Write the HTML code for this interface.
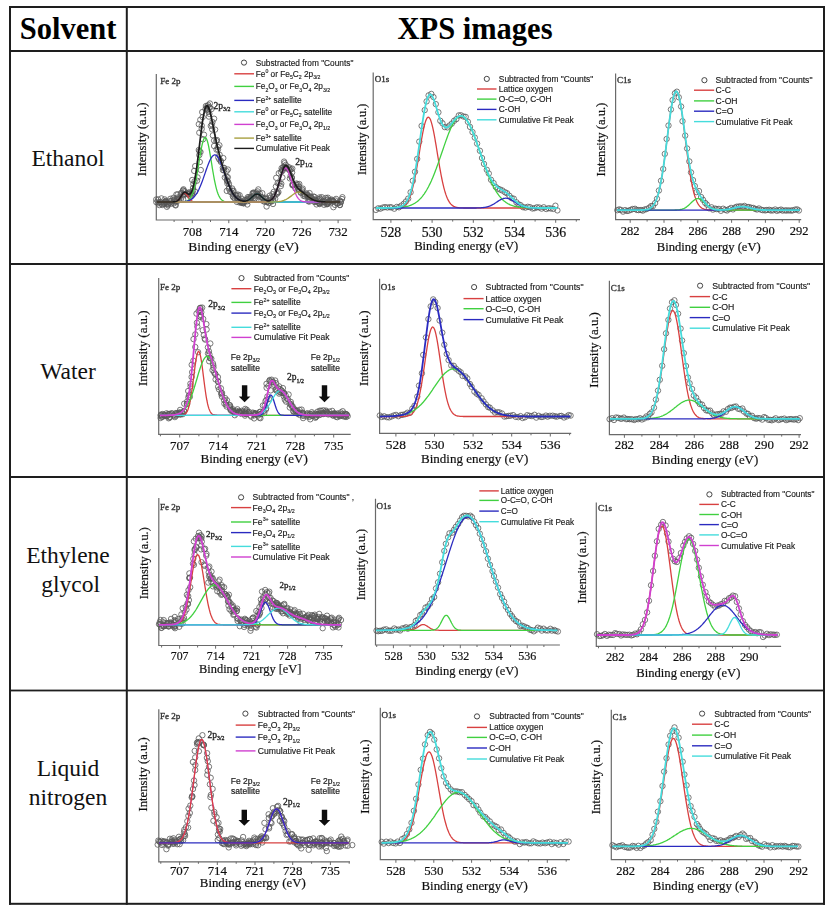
<!DOCTYPE html>
<html><head><meta charset="utf-8"><title>XPS images</title>
<style>
html,body{margin:0;padding:0;background:#fff;width:835px;height:912px;overflow:hidden;}
body{position:relative;font-family:"Liberation Serif", serif;}
</style></head><body>
<svg width="835" height="912" viewBox="0 0 835 912" style="position:absolute;left:0;top:0">
<defs><circle id="c" cx="0" cy="0" r="2.7" fill="none" stroke="#585858" stroke-width="0.8"/></defs>
<filter id="bl" x="0" y="0" width="1" height="1"><feGaussianBlur stdDeviation="0.35"/></filter>
<g class="charts" filter="url(#bl)">
<path d="M156.3,74 L156.3,220 L351.2,220" fill="none" stroke="#6a6a6a" stroke-width="1.2"/>
<path d="M174.1,220 v2.0 M192.3,220 v3.2 M210.5,220 v2.0 M228.8,220 v3.2 M247.0,220 v2.0 M265.2,220 v3.2 M283.4,220 v2.0 M301.7,220 v3.2 M319.9,220 v2.0 M338.1,220 v3.2" stroke="#6a6a6a" stroke-width="1"/>
<text x="192.3" y="235.9" font-family="Liberation Serif" font-size="12.9" fill="#111" stroke="#111" stroke-width="0.2" text-anchor="middle">708</text>
<text x="228.8" y="235.9" font-family="Liberation Serif" font-size="12.9" fill="#111" stroke="#111" stroke-width="0.2" text-anchor="middle">714</text>
<text x="265.2" y="235.9" font-family="Liberation Serif" font-size="12.9" fill="#111" stroke="#111" stroke-width="0.2" text-anchor="middle">720</text>
<text x="301.7" y="235.9" font-family="Liberation Serif" font-size="12.9" fill="#111" stroke="#111" stroke-width="0.2" text-anchor="middle">726</text>
<text x="338.1" y="235.9" font-family="Liberation Serif" font-size="12.9" fill="#111" stroke="#111" stroke-width="0.2" text-anchor="middle">732</text>
<text x="243.55" y="250.7" font-family="Liberation Serif" font-size="13.4" fill="#111" stroke="#111" stroke-width="0.2" text-anchor="middle">Binding energy (eV)</text>
<text transform="translate(146.2,139.4) rotate(-90)" x="0" y="0" font-family="Liberation Serif" font-size="12.6" fill="#111" stroke="#111" stroke-width="0.2" text-anchor="middle">Intensity (a.u.)</text>
<text x="160.2" y="84" font-family="Liberation Serif" font-size="9" fill="#333" stroke="#333" stroke-width="0.35">Fe 2p</text>
<use href="#c" x="159.3" y="205.1"/>
<use href="#c" x="156.3" y="202.2"/>
<use href="#c" x="158.1" y="199.4"/>
<use href="#c" x="156.2" y="199.5"/>
<use href="#c" x="159.2" y="202.5"/>
<use href="#c" x="158.0" y="203.3"/>
<use href="#c" x="159.9" y="202.0"/>
<use href="#c" x="161.4" y="198.4"/>
<use href="#c" x="164.8" y="202.8"/>
<use href="#c" x="161.3" y="202.5"/>
<use href="#c" x="162.3" y="205.0"/>
<use href="#c" x="161.9" y="204.2"/>
<use href="#c" x="164.6" y="202.5"/>
<use href="#c" x="163.7" y="203.7"/>
<use href="#c" x="164.7" y="199.4"/>
<use href="#c" x="165.7" y="202.2"/>
<use href="#c" x="166.7" y="202.5"/>
<use href="#c" x="165.8" y="201.9"/>
<use href="#c" x="164.3" y="203.6"/>
<use href="#c" x="165.7" y="201.0"/>
<use href="#c" x="166.9" y="206.8"/>
<use href="#c" x="168.5" y="203.6"/>
<use href="#c" x="165.5" y="201.3"/>
<use href="#c" x="167.8" y="204.3"/>
<use href="#c" x="166.9" y="203.7"/>
<use href="#c" x="171.5" y="200.9"/>
<use href="#c" x="167.9" y="205.4"/>
<use href="#c" x="170.4" y="198.8"/>
<use href="#c" x="171.3" y="203.7"/>
<use href="#c" x="169.9" y="202.7"/>
<use href="#c" x="173.8" y="203.4"/>
<use href="#c" x="170.2" y="200.9"/>
<use href="#c" x="174.2" y="200.1"/>
<use href="#c" x="173.4" y="197.8"/>
<use href="#c" x="173.8" y="199.5"/>
<use href="#c" x="174.5" y="201.3"/>
<use href="#c" x="175.7" y="205.4"/>
<use href="#c" x="175.3" y="204.9"/>
<use href="#c" x="176.6" y="200.4"/>
<use href="#c" x="176.4" y="194.5"/>
<use href="#c" x="175.0" y="201.4"/>
<use href="#c" x="176.6" y="201.9"/>
<use href="#c" x="177.7" y="194.4"/>
<use href="#c" x="177.7" y="197.5"/>
<use href="#c" x="181.0" y="198.9"/>
<use href="#c" x="179.5" y="198.9"/>
<use href="#c" x="177.1" y="198.9"/>
<use href="#c" x="178.8" y="200.2"/>
<use href="#c" x="179.2" y="197.4"/>
<use href="#c" x="180.9" y="193.2"/>
<use href="#c" x="183.1" y="199.3"/>
<use href="#c" x="182.0" y="192.6"/>
<use href="#c" x="182.9" y="190.7"/>
<use href="#c" x="184.7" y="191.5"/>
<use href="#c" x="183.5" y="189.3"/>
<use href="#c" x="183.4" y="190.3"/>
<use href="#c" x="185.2" y="194.0"/>
<use href="#c" x="187.4" y="193.7"/>
<use href="#c" x="183.8" y="195.3"/>
<use href="#c" x="183.7" y="194.1"/>
<use href="#c" x="190.1" y="193.0"/>
<use href="#c" x="186.9" y="193.1"/>
<use href="#c" x="188.0" y="194.3"/>
<use href="#c" x="187.3" y="194.2"/>
<use href="#c" x="190.4" y="196.8"/>
<use href="#c" x="190.0" y="193.7"/>
<use href="#c" x="191.7" y="195.5"/>
<use href="#c" x="191.6" y="194.4"/>
<use href="#c" x="189.3" y="192.2"/>
<use href="#c" x="193.1" y="190.7"/>
<use href="#c" x="192.2" y="193.1"/>
<use href="#c" x="193.0" y="188.0"/>
<use href="#c" x="195.2" y="191.6"/>
<use href="#c" x="193.4" y="184.1"/>
<use href="#c" x="192.2" y="180.0"/>
<use href="#c" x="194.5" y="181.5"/>
<use href="#c" x="197.0" y="180.7"/>
<use href="#c" x="197.6" y="177.4"/>
<use href="#c" x="194.2" y="170.9"/>
<use href="#c" x="200.8" y="170.0"/>
<use href="#c" x="195.2" y="166.1"/>
<use href="#c" x="199.8" y="162.0"/>
<use href="#c" x="199.3" y="155.1"/>
<use href="#c" x="200.5" y="152.0"/>
<use href="#c" x="199.5" y="151.2"/>
<use href="#c" x="198.8" y="150.0"/>
<use href="#c" x="203.0" y="139.3"/>
<use href="#c" x="204.0" y="134.7"/>
<use href="#c" x="199.3" y="132.7"/>
<use href="#c" x="201.7" y="128.9"/>
<use href="#c" x="201.7" y="125.6"/>
<use href="#c" x="198.8" y="124.2"/>
<use href="#c" x="202.6" y="117.1"/>
<use href="#c" x="200.3" y="119.8"/>
<use href="#c" x="202.2" y="112.1"/>
<use href="#c" x="205.5" y="109.1"/>
<use href="#c" x="207.3" y="109.9"/>
<use href="#c" x="205.9" y="106.0"/>
<use href="#c" x="207.4" y="109.3"/>
<use href="#c" x="208.3" y="105.0"/>
<use href="#c" x="209.9" y="103.5"/>
<use href="#c" x="207.3" y="106.2"/>
<use href="#c" x="209.4" y="107.1"/>
<use href="#c" x="208.3" y="111.6"/>
<use href="#c" x="209.9" y="107.7"/>
<use href="#c" x="206.8" y="108.0"/>
<use href="#c" x="209.4" y="113.9"/>
<use href="#c" x="208.9" y="116.6"/>
<use href="#c" x="211.5" y="109.1"/>
<use href="#c" x="214.1" y="118.7"/>
<use href="#c" x="212.5" y="122.0"/>
<use href="#c" x="211.9" y="124.6"/>
<use href="#c" x="210.8" y="125.9"/>
<use href="#c" x="212.2" y="129.4"/>
<use href="#c" x="215.1" y="129.6"/>
<use href="#c" x="212.9" y="135.4"/>
<use href="#c" x="214.1" y="140.5"/>
<use href="#c" x="217.0" y="140.0"/>
<use href="#c" x="216.3" y="140.9"/>
<use href="#c" x="217.9" y="147.0"/>
<use href="#c" x="214.1" y="146.0"/>
<use href="#c" x="219.4" y="145.3"/>
<use href="#c" x="216.5" y="149.6"/>
<use href="#c" x="218.0" y="149.6"/>
<use href="#c" x="219.6" y="154.8"/>
<use href="#c" x="218.2" y="157.5"/>
<use href="#c" x="219.2" y="159.4"/>
<use href="#c" x="223.3" y="158.1"/>
<use href="#c" x="220.8" y="160.8"/>
<use href="#c" x="220.9" y="161.9"/>
<use href="#c" x="224.2" y="167.9"/>
<use href="#c" x="222.8" y="167.6"/>
<use href="#c" x="222.9" y="170.1"/>
<use href="#c" x="224.1" y="170.4"/>
<use href="#c" x="226.6" y="171.1"/>
<use href="#c" x="226.6" y="176.8"/>
<use href="#c" x="227.9" y="169.5"/>
<use href="#c" x="224.8" y="177.4"/>
<use href="#c" x="227.8" y="177.2"/>
<use href="#c" x="227.9" y="181.5"/>
<use href="#c" x="227.1" y="180.5"/>
<use href="#c" x="227.4" y="183.5"/>
<use href="#c" x="227.0" y="180.7"/>
<use href="#c" x="229.0" y="183.9"/>
<use href="#c" x="226.8" y="190.9"/>
<use href="#c" x="229.4" y="187.8"/>
<use href="#c" x="232.2" y="188.5"/>
<use href="#c" x="230.2" y="191.9"/>
<use href="#c" x="228.8" y="188.6"/>
<use href="#c" x="233.5" y="190.8"/>
<use href="#c" x="233.1" y="191.3"/>
<use href="#c" x="233.1" y="194.5"/>
<use href="#c" x="232.8" y="196.2"/>
<use href="#c" x="231.6" y="192.4"/>
<use href="#c" x="233.4" y="197.3"/>
<use href="#c" x="235.8" y="195.0"/>
<use href="#c" x="237.8" y="194.5"/>
<use href="#c" x="234.7" y="198.5"/>
<use href="#c" x="237.7" y="195.9"/>
<use href="#c" x="235.5" y="195.1"/>
<use href="#c" x="237.3" y="198.4"/>
<use href="#c" x="238.1" y="198.8"/>
<use href="#c" x="237.8" y="198.3"/>
<use href="#c" x="239.5" y="202.5"/>
<use href="#c" x="241.7" y="198.7"/>
<use href="#c" x="239.6" y="195.2"/>
<use href="#c" x="241.6" y="201.9"/>
<use href="#c" x="239.9" y="200.7"/>
<use href="#c" x="240.7" y="202.0"/>
<use href="#c" x="236.9" y="201.9"/>
<use href="#c" x="240.7" y="201.8"/>
<use href="#c" x="243.7" y="203.3"/>
<use href="#c" x="242.4" y="202.8"/>
<use href="#c" x="243.0" y="202.2"/>
<use href="#c" x="243.8" y="201.7"/>
<use href="#c" x="247.7" y="199.1"/>
<use href="#c" x="241.7" y="202.9"/>
<use href="#c" x="243.3" y="203.2"/>
<use href="#c" x="245.1" y="200.4"/>
<use href="#c" x="246.9" y="199.6"/>
<use href="#c" x="244.7" y="199.9"/>
<use href="#c" x="248.1" y="200.5"/>
<use href="#c" x="247.3" y="204.5"/>
<use href="#c" x="247.9" y="197.1"/>
<use href="#c" x="247.6" y="201.2"/>
<use href="#c" x="250.4" y="197.6"/>
<use href="#c" x="250.4" y="198.9"/>
<use href="#c" x="249.2" y="197.0"/>
<use href="#c" x="250.8" y="197.3"/>
<use href="#c" x="252.2" y="196.8"/>
<use href="#c" x="252.9" y="198.4"/>
<use href="#c" x="251.1" y="197.8"/>
<use href="#c" x="254.3" y="193.5"/>
<use href="#c" x="253.7" y="195.7"/>
<use href="#c" x="253.7" y="192.5"/>
<use href="#c" x="253.1" y="193.4"/>
<use href="#c" x="252.6" y="193.1"/>
<use href="#c" x="257.4" y="194.5"/>
<use href="#c" x="256.2" y="192.5"/>
<use href="#c" x="257.6" y="191.4"/>
<use href="#c" x="255.0" y="198.5"/>
<use href="#c" x="259.8" y="193.5"/>
<use href="#c" x="258.2" y="195.0"/>
<use href="#c" x="258.3" y="189.4"/>
<use href="#c" x="261.3" y="196.8"/>
<use href="#c" x="258.6" y="196.5"/>
<use href="#c" x="257.1" y="193.7"/>
<use href="#c" x="262.3" y="193.2"/>
<use href="#c" x="258.9" y="195.9"/>
<use href="#c" x="258.8" y="199.8"/>
<use href="#c" x="261.5" y="200.2"/>
<use href="#c" x="263.6" y="198.4"/>
<use href="#c" x="265.0" y="198.7"/>
<use href="#c" x="263.0" y="198.6"/>
<use href="#c" x="261.7" y="197.4"/>
<use href="#c" x="266.1" y="197.7"/>
<use href="#c" x="267.2" y="201.7"/>
<use href="#c" x="266.6" y="206.5"/>
<use href="#c" x="263.9" y="201.4"/>
<use href="#c" x="270.0" y="199.9"/>
<use href="#c" x="266.8" y="201.9"/>
<use href="#c" x="264.5" y="201.5"/>
<use href="#c" x="265.9" y="198.8"/>
<use href="#c" x="269.7" y="195.7"/>
<use href="#c" x="268.7" y="203.1"/>
<use href="#c" x="267.9" y="201.5"/>
<use href="#c" x="271.2" y="201.6"/>
<use href="#c" x="273.0" y="204.0"/>
<use href="#c" x="270.8" y="201.2"/>
<use href="#c" x="270.5" y="197.6"/>
<use href="#c" x="272.9" y="200.7"/>
<use href="#c" x="275.2" y="198.7"/>
<use href="#c" x="273.0" y="199.6"/>
<use href="#c" x="273.6" y="196.9"/>
<use href="#c" x="272.4" y="194.2"/>
<use href="#c" x="273.6" y="196.4"/>
<use href="#c" x="277.0" y="193.9"/>
<use href="#c" x="277.6" y="192.9"/>
<use href="#c" x="278.4" y="192.1"/>
<use href="#c" x="273.7" y="191.9"/>
<use href="#c" x="276.7" y="192.3"/>
<use href="#c" x="277.7" y="183.1"/>
<use href="#c" x="275.9" y="186.5"/>
<use href="#c" x="279.4" y="183.0"/>
<use href="#c" x="280.8" y="186.1"/>
<use href="#c" x="281.3" y="183.8"/>
<use href="#c" x="278.8" y="173.2"/>
<use href="#c" x="276.2" y="177.8"/>
<use href="#c" x="282.4" y="177.5"/>
<use href="#c" x="280.9" y="172.1"/>
<use href="#c" x="282.0" y="170.1"/>
<use href="#c" x="282.5" y="170.8"/>
<use href="#c" x="283.6" y="167.1"/>
<use href="#c" x="285.0" y="167.6"/>
<use href="#c" x="281.6" y="168.2"/>
<use href="#c" x="284.6" y="163.2"/>
<use href="#c" x="285.8" y="164.9"/>
<use href="#c" x="285.5" y="167.7"/>
<use href="#c" x="284.1" y="161.6"/>
<use href="#c" x="284.8" y="167.1"/>
<use href="#c" x="286.9" y="168.6"/>
<use href="#c" x="286.1" y="167.7"/>
<use href="#c" x="283.3" y="166.9"/>
<use href="#c" x="289.4" y="167.5"/>
<use href="#c" x="287.7" y="166.8"/>
<use href="#c" x="289.6" y="169.9"/>
<use href="#c" x="291.1" y="169.3"/>
<use href="#c" x="292.3" y="168.6"/>
<use href="#c" x="289.7" y="170.5"/>
<use href="#c" x="289.9" y="178.4"/>
<use href="#c" x="292.1" y="172.5"/>
<use href="#c" x="290.7" y="175.6"/>
<use href="#c" x="291.8" y="177.4"/>
<use href="#c" x="291.9" y="178.0"/>
<use href="#c" x="292.9" y="185.4"/>
<use href="#c" x="292.3" y="184.9"/>
<use href="#c" x="293.0" y="184.9"/>
<use href="#c" x="296.5" y="183.5"/>
<use href="#c" x="292.9" y="184.2"/>
<use href="#c" x="296.2" y="184.9"/>
<use href="#c" x="295.4" y="188.4"/>
<use href="#c" x="297.6" y="186.9"/>
<use href="#c" x="297.8" y="184.3"/>
<use href="#c" x="299.2" y="186.8"/>
<use href="#c" x="298.7" y="189.0"/>
<use href="#c" x="299.3" y="184.0"/>
<use href="#c" x="298.5" y="189.3"/>
<use href="#c" x="298.5" y="189.4"/>
<use href="#c" x="302.1" y="191.4"/>
<use href="#c" x="300.7" y="192.8"/>
<use href="#c" x="303.4" y="195.8"/>
<use href="#c" x="302.3" y="189.9"/>
<use href="#c" x="302.8" y="188.6"/>
<use href="#c" x="305.5" y="194.6"/>
<use href="#c" x="301.1" y="192.3"/>
<use href="#c" x="306.7" y="193.3"/>
<use href="#c" x="307.0" y="194.4"/>
<use href="#c" x="308.0" y="196.4"/>
<use href="#c" x="304.9" y="196.3"/>
<use href="#c" x="310.6" y="196.3"/>
<use href="#c" x="304.0" y="194.4"/>
<use href="#c" x="308.2" y="201.1"/>
<use href="#c" x="307.0" y="194.9"/>
<use href="#c" x="309.6" y="193.1"/>
<use href="#c" x="308.0" y="197.5"/>
<use href="#c" x="308.8" y="196.5"/>
<use href="#c" x="309.7" y="200.5"/>
<use href="#c" x="309.2" y="201.6"/>
<use href="#c" x="310.2" y="197.1"/>
<use href="#c" x="311.4" y="197.6"/>
<use href="#c" x="313.9" y="201.6"/>
<use href="#c" x="314.5" y="196.9"/>
<use href="#c" x="315.5" y="199.9"/>
<use href="#c" x="312.2" y="199.5"/>
<use href="#c" x="315.0" y="202.0"/>
<use href="#c" x="314.5" y="199.3"/>
<use href="#c" x="315.5" y="200.9"/>
<use href="#c" x="313.6" y="196.6"/>
<use href="#c" x="316.4" y="201.0"/>
<use href="#c" x="313.7" y="199.8"/>
<use href="#c" x="316.5" y="204.4"/>
<use href="#c" x="320.1" y="198.7"/>
<use href="#c" x="319.7" y="204.1"/>
<use href="#c" x="319.4" y="203.4"/>
<use href="#c" x="319.0" y="199.2"/>
<use href="#c" x="320.5" y="202.4"/>
<use href="#c" x="318.4" y="202.8"/>
<use href="#c" x="320.0" y="200.2"/>
<use href="#c" x="319.6" y="201.3"/>
<use href="#c" x="319.6" y="197.4"/>
<use href="#c" x="322.0" y="202.6"/>
<use href="#c" x="319.5" y="203.2"/>
<use href="#c" x="324.4" y="200.9"/>
<use href="#c" x="321.8" y="197.2"/>
<use href="#c" x="325.9" y="197.9"/>
<use href="#c" x="323.6" y="202.0"/>
<use href="#c" x="324.9" y="202.3"/>
<use href="#c" x="327.4" y="204.1"/>
<use href="#c" x="326.5" y="204.2"/>
<use href="#c" x="327.8" y="203.8"/>
<use href="#c" x="324.1" y="204.8"/>
<use href="#c" x="327.6" y="202.8"/>
<use href="#c" x="327.6" y="202.4"/>
<use href="#c" x="329.3" y="201.8"/>
<use href="#c" x="329.2" y="202.5"/>
<use href="#c" x="327.5" y="199.4"/>
<use href="#c" x="327.1" y="200.2"/>
<use href="#c" x="329.1" y="200.8"/>
<use href="#c" x="327.9" y="197.7"/>
<use href="#c" x="330.6" y="200.9"/>
<use href="#c" x="333.4" y="207.2"/>
<use href="#c" x="331.7" y="200.1"/>
<use href="#c" x="331.7" y="199.6"/>
<use href="#c" x="333.4" y="201.2"/>
<use href="#c" x="335.3" y="200.5"/>
<use href="#c" x="337.6" y="203.5"/>
<use href="#c" x="336.1" y="198.9"/>
<use href="#c" x="332.9" y="201.1"/>
<use href="#c" x="333.4" y="201.3"/>
<use href="#c" x="340.9" y="201.9"/>
<use href="#c" x="339.9" y="205.1"/>
<use href="#c" x="335.0" y="204.9"/>
<use href="#c" x="338.2" y="203.0"/>
<use href="#c" x="336.8" y="203.0"/>
<use href="#c" x="342.4" y="197.2"/>
<use href="#c" x="340.0" y="204.9"/>
<use href="#c" x="340.3" y="200.8"/>
<use href="#c" x="342.0" y="199.0"/>
<use href="#c" x="340.8" y="202.4"/>
<path d="M157.0,202.0 L157.7,202.0 L158.4,202.0 L159.1,202.0 L159.8,202.0 L160.5,202.0 L161.2,202.0 L161.9,202.0 L162.6,202.0 L163.3,202.0 L164.0,202.0 L164.7,202.0 L165.4,202.0 L166.1,202.0 L166.8,202.0 L167.5,202.0 L168.2,202.0 L168.9,202.0 L169.6,202.0 L170.3,202.0 L171.0,202.0 L171.7,202.0 L172.4,202.0 L173.1,202.0 L173.8,201.9 L174.5,201.8 L175.2,201.7 L175.9,201.6 L176.6,201.3 L177.3,200.9 L178.0,200.4 L178.7,199.7 L179.4,198.9 L180.1,197.9 L180.8,196.9 L181.5,195.8 L182.2,194.7 L182.9,193.9 L183.6,193.3 L184.3,193.0 L185.0,193.1 L185.7,193.5 L186.4,194.2 L187.1,195.2 L187.8,196.2 L188.5,197.3 L189.2,198.3 L189.9,199.3 L190.6,200.0 L191.3,200.6 L192.0,201.1 L192.7,201.4 L193.4,201.6 L194.1,201.8 L194.8,201.9 L195.5,201.9 L196.2,202.0 L196.9,202.0 L197.6,202.0 L198.3,202.0 L199.0,202.0 L199.7,202.0 L200.4,202.0 L201.1,202.0 L201.8,202.0 L202.5,202.0 L203.2,202.0 L203.9,202.0 L204.6,202.0 L205.3,202.0 L206.0,202.0 L206.7,202.0 L207.4,202.0 L208.1,202.0 L208.8,202.0 L209.5,202.0 L210.2,202.0 L210.9,202.0 L211.6,202.0 L212.3,202.0 L213.0,202.0 L213.7,202.0 L214.4,202.0 L215.1,202.0 L215.8,202.0 L216.5,202.0 L217.2,202.0 L217.9,202.0 L218.6,202.0 L219.3,202.0 L220.0,202.0 L220.7,202.0 L221.4,202.0 L222.1,202.0 L222.8,202.0 L223.5,202.0 L224.2,202.0 L224.9,202.0 L225.6,202.0 L226.3,202.0 L227.0,202.0 L227.7,202.0 L228.4,202.0 L229.1,202.0 L229.8,202.0 L230.5,202.0 L231.2,202.0 L231.9,202.0 L232.6,202.0 L233.3,202.0 L234.0,202.0 L234.7,202.0 L235.4,202.0 L236.1,202.0 L236.8,202.0 L237.5,202.0 L238.2,202.0 L238.9,202.0 L239.6,202.0 L240.3,202.0 L241.0,202.0 L241.7,202.0 L242.4,202.0 L243.1,202.0 L243.8,202.0 L244.5,202.0 L245.2,202.0 L245.9,202.0 L246.6,202.0 L247.3,202.0 L248.0,202.0 L248.7,202.0 L249.4,202.0 L250.1,202.0 L250.8,202.0 L251.5,202.0 L252.2,202.0 L252.9,202.0 L253.6,202.0 L254.3,202.0 L255.0,202.0 L255.7,202.0 L256.4,202.0 L257.1,202.0 L257.8,202.0 L258.5,202.0 L259.2,202.0 L259.9,202.0 L260.6,202.0 L261.3,202.0 L262.0,202.0 L262.7,202.0 L263.4,202.0 L264.1,202.0 L264.8,202.0 L265.5,202.0 L266.2,202.0 L266.9,202.0 L267.6,202.0 L268.3,202.0 L269.0,202.0 L269.7,202.0 L270.4,202.0 L271.1,202.0 L271.8,202.0 L272.5,202.0 L273.2,202.0 L273.9,202.0 L274.6,202.0 L275.3,202.0 L276.0,202.0 L276.7,202.0 L277.4,202.0 L278.1,202.0 L278.8,202.0 L279.5,202.0 L280.2,202.0 L280.9,202.0 L281.6,202.0 L282.3,202.0 L283.0,202.0 L283.7,202.0 L284.4,202.0 L285.1,202.0 L285.8,202.0 L286.5,202.0 L287.2,202.0 L287.9,202.0 L288.6,202.0 L289.3,202.0 L290.0,202.0 L290.7,202.0 L291.4,202.0 L292.1,202.0 L292.8,202.0 L293.5,202.0 L294.2,202.0 L294.9,202.0 L295.6,202.0 L296.3,202.0 L297.0,202.0 L297.7,202.0 L298.4,202.0 L299.1,202.0 L299.8,202.0 L300.5,202.0 L301.2,202.0 L301.9,202.0 L302.6,202.0 L303.3,202.0 L304.0,202.0 L304.7,202.0 L305.4,202.0 L306.1,202.0 L306.8,202.0 L307.5,202.0 L308.2,202.0 L308.9,202.0 L309.6,202.0 L310.3,202.0 L311.0,202.0 L311.7,202.0 L312.4,202.0 L313.1,202.0 L313.8,202.0 L314.5,202.0 L315.2,202.0 L315.9,202.0 L316.6,202.0 L317.3,202.0 L318.0,202.0 L318.7,202.0 L319.4,202.0 L320.1,202.0 L320.8,202.0 L321.5,202.0 L322.2,202.0 L322.9,202.0 L323.6,202.0 L324.3,202.0 L325.0,202.0 L325.7,202.0 L326.4,202.0 L327.1,202.0 L327.8,202.0 L328.5,202.0 L329.2,202.0 L329.9,202.0 L330.6,202.0 L331.3,202.0 L332.0,202.0 L332.7,202.0 L333.4,202.0 L334.1,202.0 L334.8,202.0 L335.5,202.0 L336.2,202.0 L336.9,202.0 L337.6,202.0 L338.3,202.0 L339.0,202.0 L339.7,202.0 L340.4,202.0" fill="none" stroke="#d84040" stroke-width="1.3"/>
<path d="M157.0,202.0 L157.7,202.0 L158.4,202.0 L159.1,202.0 L159.8,202.0 L160.5,202.0 L161.2,202.0 L161.9,202.0 L162.6,202.0 L163.3,202.0 L164.0,202.0 L164.7,202.0 L165.4,202.0 L166.1,202.0 L166.8,202.0 L167.5,202.0 L168.2,202.0 L168.9,202.0 L169.6,202.0 L170.3,202.0 L171.0,202.0 L171.7,202.0 L172.4,202.0 L173.1,202.0 L173.8,202.0 L174.5,202.0 L175.2,202.0 L175.9,202.0 L176.6,202.0 L177.3,202.0 L178.0,202.0 L178.7,202.0 L179.4,202.0 L180.1,202.0 L180.8,202.0 L181.5,201.9 L182.2,201.9 L182.9,201.9 L183.6,201.8 L184.3,201.7 L185.0,201.6 L185.7,201.5 L186.4,201.2 L187.1,201.0 L187.8,200.6 L188.5,200.1 L189.2,199.4 L189.9,198.6 L190.6,197.6 L191.3,196.3 L192.0,194.8 L192.7,193.0 L193.4,190.8 L194.1,188.3 L194.8,185.5 L195.5,182.3 L196.2,178.7 L196.9,174.9 L197.6,170.8 L198.3,166.5 L199.0,162.2 L199.7,157.9 L200.4,153.7 L201.1,149.7 L201.8,146.2 L202.5,143.1 L203.2,140.6 L203.9,138.8 L204.6,137.7 L205.3,137.4 L206.0,137.9 L206.7,139.2 L207.4,141.2 L208.1,143.9 L208.8,147.1 L209.5,150.8 L210.2,154.9 L210.9,159.1 L211.6,163.4 L212.3,167.8 L213.0,172.0 L213.7,176.0 L214.4,179.8 L215.1,183.2 L215.8,186.3 L216.5,189.1 L217.2,191.5 L217.9,193.5 L218.6,195.3 L219.3,196.7 L220.0,197.9 L220.7,198.9 L221.4,199.6 L222.1,200.2 L222.8,200.7 L223.5,201.0 L224.2,201.3 L224.9,201.5 L225.6,201.7 L226.3,201.8 L227.0,201.8 L227.7,201.9 L228.4,201.9 L229.1,202.0 L229.8,202.0 L230.5,202.0 L231.2,202.0 L231.9,202.0 L232.6,202.0 L233.3,202.0 L234.0,202.0 L234.7,202.0 L235.4,202.0 L236.1,202.0 L236.8,202.0 L237.5,202.0 L238.2,202.0 L238.9,202.0 L239.6,202.0 L240.3,202.0 L241.0,202.0 L241.7,202.0 L242.4,202.0 L243.1,202.0 L243.8,202.0 L244.5,202.0 L245.2,202.0 L245.9,202.0 L246.6,202.0 L247.3,202.0 L248.0,202.0 L248.7,202.0 L249.4,202.0 L250.1,202.0 L250.8,202.0 L251.5,202.0 L252.2,202.0 L252.9,202.0 L253.6,202.0 L254.3,202.0 L255.0,202.0 L255.7,202.0 L256.4,202.0 L257.1,202.0 L257.8,202.0 L258.5,202.0 L259.2,202.0 L259.9,202.0 L260.6,202.0 L261.3,202.0 L262.0,202.0 L262.7,202.0 L263.4,202.0 L264.1,202.0 L264.8,202.0 L265.5,202.0 L266.2,202.0 L266.9,202.0 L267.6,202.0 L268.3,202.0 L269.0,202.0 L269.7,202.0 L270.4,202.0 L271.1,202.0 L271.8,202.0 L272.5,202.0 L273.2,202.0 L273.9,202.0 L274.6,202.0 L275.3,202.0 L276.0,202.0 L276.7,202.0 L277.4,202.0 L278.1,202.0 L278.8,202.0 L279.5,202.0 L280.2,202.0 L280.9,202.0 L281.6,202.0 L282.3,202.0 L283.0,202.0 L283.7,202.0 L284.4,202.0 L285.1,202.0 L285.8,202.0 L286.5,202.0 L287.2,202.0 L287.9,202.0 L288.6,202.0 L289.3,202.0 L290.0,202.0 L290.7,202.0 L291.4,202.0 L292.1,202.0 L292.8,202.0 L293.5,202.0 L294.2,202.0 L294.9,202.0 L295.6,202.0 L296.3,202.0 L297.0,202.0 L297.7,202.0 L298.4,202.0 L299.1,202.0 L299.8,202.0 L300.5,202.0 L301.2,202.0 L301.9,202.0 L302.6,202.0 L303.3,202.0 L304.0,202.0 L304.7,202.0 L305.4,202.0 L306.1,202.0 L306.8,202.0 L307.5,202.0 L308.2,202.0 L308.9,202.0 L309.6,202.0 L310.3,202.0 L311.0,202.0 L311.7,202.0 L312.4,202.0 L313.1,202.0 L313.8,202.0 L314.5,202.0 L315.2,202.0 L315.9,202.0 L316.6,202.0 L317.3,202.0 L318.0,202.0 L318.7,202.0 L319.4,202.0 L320.1,202.0 L320.8,202.0 L321.5,202.0 L322.2,202.0 L322.9,202.0 L323.6,202.0 L324.3,202.0 L325.0,202.0 L325.7,202.0 L326.4,202.0 L327.1,202.0 L327.8,202.0 L328.5,202.0 L329.2,202.0 L329.9,202.0 L330.6,202.0 L331.3,202.0 L332.0,202.0 L332.7,202.0 L333.4,202.0 L334.1,202.0 L334.8,202.0 L335.5,202.0 L336.2,202.0 L336.9,202.0 L337.6,202.0 L338.3,202.0 L339.0,202.0 L339.7,202.0 L340.4,202.0" fill="none" stroke="#40d040" stroke-width="1.3"/>
<path d="M157.0,202.0 L157.7,202.0 L158.4,202.0 L159.1,202.0 L159.8,202.0 L160.5,202.0 L161.2,202.0 L161.9,202.0 L162.6,202.0 L163.3,202.0 L164.0,202.0 L164.7,202.0 L165.4,202.0 L166.1,202.0 L166.8,202.0 L167.5,202.0 L168.2,202.0 L168.9,202.0 L169.6,202.0 L170.3,202.0 L171.0,202.0 L171.7,202.0 L172.4,202.0 L173.1,202.0 L173.8,202.0 L174.5,202.0 L175.2,202.0 L175.9,202.0 L176.6,202.0 L177.3,202.0 L178.0,202.0 L178.7,201.9 L179.4,201.9 L180.1,201.9 L180.8,201.9 L181.5,201.9 L182.2,201.8 L182.9,201.8 L183.6,201.7 L184.3,201.6 L185.0,201.5 L185.7,201.4 L186.4,201.3 L187.1,201.1 L187.8,200.9 L188.5,200.7 L189.2,200.4 L189.9,200.1 L190.6,199.8 L191.3,199.3 L192.0,198.9 L192.7,198.3 L193.4,197.7 L194.1,196.9 L194.8,196.1 L195.5,195.2 L196.2,194.2 L196.9,193.1 L197.6,191.9 L198.3,190.6 L199.0,189.2 L199.7,187.6 L200.4,186.0 L201.1,184.3 L201.8,182.5 L202.5,180.6 L203.2,178.6 L203.9,176.6 L204.6,174.6 L205.3,172.6 L206.0,170.5 L206.7,168.5 L207.4,166.6 L208.1,164.7 L208.8,162.9 L209.5,161.3 L210.2,159.8 L210.9,158.5 L211.6,157.3 L212.3,156.4 L213.0,155.7 L213.7,155.2 L214.4,154.9 L215.1,154.9 L215.8,155.1 L216.5,155.6 L217.2,156.3 L217.9,157.2 L218.6,158.3 L219.3,159.6 L220.0,161.1 L220.7,162.7 L221.4,164.5 L222.1,166.3 L222.8,168.2 L223.5,170.2 L224.2,172.3 L224.9,174.3 L225.6,176.3 L226.3,178.3 L227.0,180.3 L227.7,182.2 L228.4,184.0 L229.1,185.8 L229.8,187.4 L230.5,188.9 L231.2,190.4 L231.9,191.7 L232.6,193.0 L233.3,194.1 L234.0,195.1 L234.7,196.0 L235.4,196.8 L236.1,197.6 L236.8,198.2 L237.5,198.8 L238.2,199.3 L238.9,199.7 L239.6,200.1 L240.3,200.4 L241.0,200.7 L241.7,200.9 L242.4,201.1 L243.1,201.3 L243.8,201.4 L244.5,201.5 L245.2,201.6 L245.9,201.7 L246.6,201.8 L247.3,201.8 L248.0,201.8 L248.7,201.9 L249.4,201.9 L250.1,201.9 L250.8,201.9 L251.5,202.0 L252.2,202.0 L252.9,202.0 L253.6,202.0 L254.3,202.0 L255.0,202.0 L255.7,202.0 L256.4,202.0 L257.1,202.0 L257.8,202.0 L258.5,202.0 L259.2,202.0 L259.9,202.0 L260.6,202.0 L261.3,202.0 L262.0,202.0 L262.7,202.0 L263.4,202.0 L264.1,202.0 L264.8,202.0 L265.5,202.0 L266.2,202.0 L266.9,202.0 L267.6,202.0 L268.3,202.0 L269.0,202.0 L269.7,202.0 L270.4,202.0 L271.1,202.0 L271.8,202.0 L272.5,202.0 L273.2,202.0 L273.9,202.0 L274.6,202.0 L275.3,202.0 L276.0,202.0 L276.7,202.0 L277.4,202.0 L278.1,202.0 L278.8,202.0 L279.5,202.0 L280.2,202.0 L280.9,202.0 L281.6,202.0 L282.3,202.0 L283.0,202.0 L283.7,202.0 L284.4,202.0 L285.1,202.0 L285.8,202.0 L286.5,202.0 L287.2,202.0 L287.9,202.0 L288.6,202.0 L289.3,202.0 L290.0,202.0 L290.7,202.0 L291.4,202.0 L292.1,202.0 L292.8,202.0 L293.5,202.0 L294.2,202.0 L294.9,202.0 L295.6,202.0 L296.3,202.0 L297.0,202.0 L297.7,202.0 L298.4,202.0 L299.1,202.0 L299.8,202.0 L300.5,202.0 L301.2,202.0 L301.9,202.0 L302.6,202.0 L303.3,202.0 L304.0,202.0 L304.7,202.0 L305.4,202.0 L306.1,202.0 L306.8,202.0 L307.5,202.0 L308.2,202.0 L308.9,202.0 L309.6,202.0 L310.3,202.0 L311.0,202.0 L311.7,202.0 L312.4,202.0 L313.1,202.0 L313.8,202.0 L314.5,202.0 L315.2,202.0 L315.9,202.0 L316.6,202.0 L317.3,202.0 L318.0,202.0 L318.7,202.0 L319.4,202.0 L320.1,202.0 L320.8,202.0 L321.5,202.0 L322.2,202.0 L322.9,202.0 L323.6,202.0 L324.3,202.0 L325.0,202.0 L325.7,202.0 L326.4,202.0 L327.1,202.0 L327.8,202.0 L328.5,202.0 L329.2,202.0 L329.9,202.0 L330.6,202.0 L331.3,202.0 L332.0,202.0 L332.7,202.0 L333.4,202.0 L334.1,202.0 L334.8,202.0 L335.5,202.0 L336.2,202.0 L336.9,202.0 L337.6,202.0 L338.3,202.0 L339.0,202.0 L339.7,202.0 L340.4,202.0" fill="none" stroke="#2c2cc0" stroke-width="1.3"/>
<path d="M157.0,202.0 L157.7,202.0 L158.4,202.0 L159.1,202.0 L159.8,202.0 L160.5,202.0 L161.2,202.0 L161.9,202.0 L162.6,202.0 L163.3,202.0 L164.0,202.0 L164.7,202.0 L165.4,202.0 L166.1,202.0 L166.8,202.0 L167.5,202.0 L168.2,202.0 L168.9,202.0 L169.6,202.0 L170.3,202.0 L171.0,202.0 L171.7,202.0 L172.4,202.0 L173.1,202.0 L173.8,202.0 L174.5,202.0 L175.2,202.0 L175.9,202.0 L176.6,202.0 L177.3,202.0 L178.0,202.0 L178.7,202.0 L179.4,202.0 L180.1,202.0 L180.8,202.0 L181.5,202.0 L182.2,202.0 L182.9,202.0 L183.6,202.0 L184.3,202.0 L185.0,202.0 L185.7,202.0 L186.4,202.0 L187.1,202.0 L187.8,202.0 L188.5,202.0 L189.2,202.0 L189.9,202.0 L190.6,202.0 L191.3,202.0 L192.0,202.0 L192.7,202.0 L193.4,202.0 L194.1,202.0 L194.8,202.0 L195.5,202.0 L196.2,202.0 L196.9,202.0 L197.6,202.0 L198.3,202.0 L199.0,202.0 L199.7,202.0 L200.4,202.0 L201.1,202.0 L201.8,202.0 L202.5,202.0 L203.2,202.0 L203.9,202.0 L204.6,202.0 L205.3,202.0 L206.0,202.0 L206.7,202.0 L207.4,202.0 L208.1,202.0 L208.8,202.0 L209.5,202.0 L210.2,202.0 L210.9,202.0 L211.6,202.0 L212.3,202.0 L213.0,202.0 L213.7,202.0 L214.4,202.0 L215.1,202.0 L215.8,202.0 L216.5,202.0 L217.2,202.0 L217.9,202.0 L218.6,202.0 L219.3,202.0 L220.0,202.0 L220.7,202.0 L221.4,202.0 L222.1,202.0 L222.8,202.0 L223.5,202.0 L224.2,202.0 L224.9,202.0 L225.6,202.0 L226.3,202.0 L227.0,202.0 L227.7,202.0 L228.4,202.0 L229.1,202.0 L229.8,202.0 L230.5,202.0 L231.2,202.0 L231.9,202.0 L232.6,202.0 L233.3,202.0 L234.0,202.0 L234.7,202.0 L235.4,202.0 L236.1,202.0 L236.8,202.0 L237.5,202.0 L238.2,202.0 L238.9,202.0 L239.6,202.0 L240.3,202.0 L241.0,202.0 L241.7,201.9 L242.4,201.9 L243.1,201.8 L243.8,201.8 L244.5,201.6 L245.2,201.5 L245.9,201.3 L246.6,201.1 L247.3,200.8 L248.0,200.4 L248.7,200.0 L249.4,199.5 L250.1,198.9 L250.8,198.3 L251.5,197.6 L252.2,197.0 L252.9,196.3 L253.6,195.7 L254.3,195.1 L255.0,194.6 L255.7,194.3 L256.4,194.1 L257.1,194.0 L257.8,194.1 L258.5,194.4 L259.2,194.7 L259.9,195.2 L260.6,195.8 L261.3,196.5 L262.0,197.1 L262.7,197.8 L263.4,198.5 L264.1,199.1 L264.8,199.6 L265.5,200.1 L266.2,200.5 L266.9,200.9 L267.6,201.2 L268.3,201.4 L269.0,201.6 L269.7,201.7 L270.4,201.8 L271.1,201.8 L271.8,201.9 L272.5,201.9 L273.2,202.0 L273.9,202.0 L274.6,202.0 L275.3,202.0 L276.0,202.0 L276.7,202.0 L277.4,202.0 L278.1,202.0 L278.8,202.0 L279.5,202.0 L280.2,202.0 L280.9,202.0 L281.6,202.0 L282.3,202.0 L283.0,202.0 L283.7,202.0 L284.4,202.0 L285.1,202.0 L285.8,202.0 L286.5,202.0 L287.2,202.0 L287.9,202.0 L288.6,202.0 L289.3,202.0 L290.0,202.0 L290.7,202.0 L291.4,202.0 L292.1,202.0 L292.8,202.0 L293.5,202.0 L294.2,202.0 L294.9,202.0 L295.6,202.0 L296.3,202.0 L297.0,202.0 L297.7,202.0 L298.4,202.0 L299.1,202.0 L299.8,202.0 L300.5,202.0 L301.2,202.0 L301.9,202.0 L302.6,202.0 L303.3,202.0 L304.0,202.0 L304.7,202.0 L305.4,202.0 L306.1,202.0 L306.8,202.0 L307.5,202.0 L308.2,202.0 L308.9,202.0 L309.6,202.0 L310.3,202.0 L311.0,202.0 L311.7,202.0 L312.4,202.0 L313.1,202.0 L313.8,202.0 L314.5,202.0 L315.2,202.0 L315.9,202.0 L316.6,202.0 L317.3,202.0 L318.0,202.0 L318.7,202.0 L319.4,202.0 L320.1,202.0 L320.8,202.0 L321.5,202.0 L322.2,202.0 L322.9,202.0 L323.6,202.0 L324.3,202.0 L325.0,202.0 L325.7,202.0 L326.4,202.0 L327.1,202.0 L327.8,202.0 L328.5,202.0 L329.2,202.0 L329.9,202.0 L330.6,202.0 L331.3,202.0 L332.0,202.0 L332.7,202.0 L333.4,202.0 L334.1,202.0 L334.8,202.0 L335.5,202.0 L336.2,202.0 L336.9,202.0 L337.6,202.0 L338.3,202.0 L339.0,202.0 L339.7,202.0 L340.4,202.0" fill="none" stroke="#44dcdc" stroke-width="1.3"/>
<path d="M157.0,202.0 L157.7,202.0 L158.4,202.0 L159.1,202.0 L159.8,202.0 L160.5,202.0 L161.2,202.0 L161.9,202.0 L162.6,202.0 L163.3,202.0 L164.0,202.0 L164.7,202.0 L165.4,202.0 L166.1,202.0 L166.8,202.0 L167.5,202.0 L168.2,202.0 L168.9,202.0 L169.6,202.0 L170.3,202.0 L171.0,202.0 L171.7,202.0 L172.4,202.0 L173.1,202.0 L173.8,202.0 L174.5,202.0 L175.2,202.0 L175.9,202.0 L176.6,202.0 L177.3,202.0 L178.0,202.0 L178.7,202.0 L179.4,202.0 L180.1,202.0 L180.8,202.0 L181.5,202.0 L182.2,202.0 L182.9,202.0 L183.6,202.0 L184.3,202.0 L185.0,202.0 L185.7,202.0 L186.4,202.0 L187.1,202.0 L187.8,202.0 L188.5,202.0 L189.2,202.0 L189.9,202.0 L190.6,202.0 L191.3,202.0 L192.0,202.0 L192.7,202.0 L193.4,202.0 L194.1,202.0 L194.8,202.0 L195.5,202.0 L196.2,202.0 L196.9,202.0 L197.6,202.0 L198.3,202.0 L199.0,202.0 L199.7,202.0 L200.4,202.0 L201.1,202.0 L201.8,202.0 L202.5,202.0 L203.2,202.0 L203.9,202.0 L204.6,202.0 L205.3,202.0 L206.0,202.0 L206.7,202.0 L207.4,202.0 L208.1,202.0 L208.8,202.0 L209.5,202.0 L210.2,202.0 L210.9,202.0 L211.6,202.0 L212.3,202.0 L213.0,202.0 L213.7,202.0 L214.4,202.0 L215.1,202.0 L215.8,202.0 L216.5,202.0 L217.2,202.0 L217.9,202.0 L218.6,202.0 L219.3,202.0 L220.0,202.0 L220.7,202.0 L221.4,202.0 L222.1,202.0 L222.8,202.0 L223.5,202.0 L224.2,202.0 L224.9,202.0 L225.6,202.0 L226.3,202.0 L227.0,202.0 L227.7,202.0 L228.4,202.0 L229.1,202.0 L229.8,202.0 L230.5,202.0 L231.2,202.0 L231.9,202.0 L232.6,202.0 L233.3,202.0 L234.0,202.0 L234.7,202.0 L235.4,202.0 L236.1,202.0 L236.8,202.0 L237.5,202.0 L238.2,202.0 L238.9,202.0 L239.6,202.0 L240.3,202.0 L241.0,202.0 L241.7,202.0 L242.4,202.0 L243.1,202.0 L243.8,202.0 L244.5,202.0 L245.2,202.0 L245.9,202.0 L246.6,202.0 L247.3,202.0 L248.0,202.0 L248.7,202.0 L249.4,202.0 L250.1,202.0 L250.8,202.0 L251.5,202.0 L252.2,202.0 L252.9,202.0 L253.6,202.0 L254.3,202.0 L255.0,202.0 L255.7,202.0 L256.4,202.0 L257.1,202.0 L257.8,202.0 L258.5,202.0 L259.2,202.0 L259.9,202.0 L260.6,202.0 L261.3,202.0 L262.0,202.0 L262.7,202.0 L263.4,202.0 L264.1,201.9 L264.8,201.9 L265.5,201.9 L266.2,201.8 L266.9,201.7 L267.6,201.6 L268.3,201.4 L269.0,201.2 L269.7,200.9 L270.4,200.6 L271.1,200.1 L271.8,199.5 L272.5,198.7 L273.2,197.8 L273.9,196.8 L274.6,195.5 L275.3,194.0 L276.0,192.3 L276.7,190.4 L277.4,188.3 L278.1,186.1 L278.8,183.8 L279.5,181.4 L280.2,179.0 L280.9,176.7 L281.6,174.5 L282.3,172.5 L283.0,170.8 L283.7,169.5 L284.4,168.6 L285.1,168.1 L285.8,168.0 L286.5,168.5 L287.2,169.3 L287.9,170.6 L288.6,172.2 L289.3,174.2 L290.0,176.3 L290.7,178.6 L291.4,181.0 L292.1,183.4 L292.8,185.8 L293.5,188.0 L294.2,190.1 L294.9,192.0 L295.6,193.8 L296.3,195.3 L297.0,196.6 L297.7,197.7 L298.4,198.6 L299.1,199.4 L299.8,200.0 L300.5,200.5 L301.2,200.9 L301.9,201.2 L302.6,201.4 L303.3,201.6 L304.0,201.7 L304.7,201.8 L305.4,201.9 L306.1,201.9 L306.8,201.9 L307.5,202.0 L308.2,202.0 L308.9,202.0 L309.6,202.0 L310.3,202.0 L311.0,202.0 L311.7,202.0 L312.4,202.0 L313.1,202.0 L313.8,202.0 L314.5,202.0 L315.2,202.0 L315.9,202.0 L316.6,202.0 L317.3,202.0 L318.0,202.0 L318.7,202.0 L319.4,202.0 L320.1,202.0 L320.8,202.0 L321.5,202.0 L322.2,202.0 L322.9,202.0 L323.6,202.0 L324.3,202.0 L325.0,202.0 L325.7,202.0 L326.4,202.0 L327.1,202.0 L327.8,202.0 L328.5,202.0 L329.2,202.0 L329.9,202.0 L330.6,202.0 L331.3,202.0 L332.0,202.0 L332.7,202.0 L333.4,202.0 L334.1,202.0 L334.8,202.0 L335.5,202.0 L336.2,202.0 L336.9,202.0 L337.6,202.0 L338.3,202.0 L339.0,202.0 L339.7,202.0 L340.4,202.0" fill="none" stroke="#d040d0" stroke-width="1.3"/>
<path d="M157.0,202.0 L157.7,202.0 L158.4,202.0 L159.1,202.0 L159.8,202.0 L160.5,202.0 L161.2,202.0 L161.9,202.0 L162.6,202.0 L163.3,202.0 L164.0,202.0 L164.7,202.0 L165.4,202.0 L166.1,202.0 L166.8,202.0 L167.5,202.0 L168.2,202.0 L168.9,202.0 L169.6,202.0 L170.3,202.0 L171.0,202.0 L171.7,202.0 L172.4,202.0 L173.1,202.0 L173.8,202.0 L174.5,202.0 L175.2,202.0 L175.9,202.0 L176.6,202.0 L177.3,202.0 L178.0,202.0 L178.7,202.0 L179.4,202.0 L180.1,202.0 L180.8,202.0 L181.5,202.0 L182.2,202.0 L182.9,202.0 L183.6,202.0 L184.3,202.0 L185.0,202.0 L185.7,202.0 L186.4,202.0 L187.1,202.0 L187.8,202.0 L188.5,202.0 L189.2,202.0 L189.9,202.0 L190.6,202.0 L191.3,202.0 L192.0,202.0 L192.7,202.0 L193.4,202.0 L194.1,202.0 L194.8,202.0 L195.5,202.0 L196.2,202.0 L196.9,202.0 L197.6,202.0 L198.3,202.0 L199.0,202.0 L199.7,202.0 L200.4,202.0 L201.1,202.0 L201.8,202.0 L202.5,202.0 L203.2,202.0 L203.9,202.0 L204.6,202.0 L205.3,202.0 L206.0,202.0 L206.7,202.0 L207.4,202.0 L208.1,202.0 L208.8,202.0 L209.5,202.0 L210.2,202.0 L210.9,202.0 L211.6,202.0 L212.3,202.0 L213.0,202.0 L213.7,202.0 L214.4,202.0 L215.1,202.0 L215.8,202.0 L216.5,202.0 L217.2,202.0 L217.9,202.0 L218.6,202.0 L219.3,202.0 L220.0,202.0 L220.7,202.0 L221.4,202.0 L222.1,202.0 L222.8,202.0 L223.5,202.0 L224.2,202.0 L224.9,202.0 L225.6,202.0 L226.3,202.0 L227.0,202.0 L227.7,202.0 L228.4,202.0 L229.1,202.0 L229.8,202.0 L230.5,202.0 L231.2,202.0 L231.9,202.0 L232.6,202.0 L233.3,202.0 L234.0,202.0 L234.7,202.0 L235.4,202.0 L236.1,202.0 L236.8,202.0 L237.5,202.0 L238.2,202.0 L238.9,202.0 L239.6,202.0 L240.3,202.0 L241.0,202.0 L241.7,202.0 L242.4,202.0 L243.1,202.0 L243.8,202.0 L244.5,202.0 L245.2,202.0 L245.9,202.0 L246.6,202.0 L247.3,202.0 L248.0,202.0 L248.7,202.0 L249.4,202.0 L250.1,202.0 L250.8,202.0 L251.5,202.0 L252.2,202.0 L252.9,202.0 L253.6,202.0 L254.3,202.0 L255.0,202.0 L255.7,202.0 L256.4,202.0 L257.1,202.0 L257.8,202.0 L258.5,202.0 L259.2,202.0 L259.9,202.0 L260.6,202.0 L261.3,202.0 L262.0,202.0 L262.7,202.0 L263.4,202.0 L264.1,202.0 L264.8,202.0 L265.5,202.0 L266.2,202.0 L266.9,202.0 L267.6,202.0 L268.3,202.0 L269.0,202.0 L269.7,202.0 L270.4,202.0 L271.1,202.0 L271.8,202.0 L272.5,202.0 L273.2,202.0 L273.9,201.9 L274.6,201.9 L275.3,201.9 L276.0,201.9 L276.7,201.8 L277.4,201.8 L278.1,201.7 L278.8,201.6 L279.5,201.5 L280.2,201.4 L280.9,201.3 L281.6,201.1 L282.3,201.0 L283.0,200.7 L283.7,200.5 L284.4,200.2 L285.1,199.9 L285.8,199.6 L286.5,199.2 L287.2,198.8 L287.9,198.4 L288.6,197.9 L289.3,197.4 L290.0,196.9 L290.7,196.4 L291.4,195.9 L292.1,195.3 L292.8,194.8 L293.5,194.3 L294.2,193.8 L294.9,193.4 L295.6,193.0 L296.3,192.7 L297.0,192.4 L297.7,192.2 L298.4,192.1 L299.1,192.0 L299.8,192.0 L300.5,192.1 L301.2,192.3 L301.9,192.5 L302.6,192.8 L303.3,193.2 L304.0,193.6 L304.7,194.0 L305.4,194.5 L306.1,195.0 L306.8,195.6 L307.5,196.1 L308.2,196.6 L308.9,197.1 L309.6,197.6 L310.3,198.1 L311.0,198.6 L311.7,199.0 L312.4,199.4 L313.1,199.7 L313.8,200.1 L314.5,200.4 L315.2,200.6 L315.9,200.8 L316.6,201.0 L317.3,201.2 L318.0,201.3 L318.7,201.5 L319.4,201.6 L320.1,201.7 L320.8,201.7 L321.5,201.8 L322.2,201.8 L322.9,201.9 L323.6,201.9 L324.3,201.9 L325.0,201.9 L325.7,202.0 L326.4,202.0 L327.1,202.0 L327.8,202.0 L328.5,202.0 L329.2,202.0 L329.9,202.0 L330.6,202.0 L331.3,202.0 L332.0,202.0 L332.7,202.0 L333.4,202.0 L334.1,202.0 L334.8,202.0 L335.5,202.0 L336.2,202.0 L336.9,202.0 L337.6,202.0 L338.3,202.0 L339.0,202.0 L339.7,202.0 L340.4,202.0" fill="none" stroke="#a8a040" stroke-width="1.3"/>
<path d="M157.0,202.0 L157.7,202.0 L158.4,202.0 L159.1,202.0 L159.8,202.0 L160.5,202.0 L161.2,202.0 L161.9,202.0 L162.6,202.0 L163.3,202.0 L164.0,202.0 L164.7,202.0 L165.4,202.0 L166.1,202.0 L166.8,202.0 L167.5,202.0 L168.2,202.0 L168.9,202.0 L169.6,202.0 L170.3,202.0 L171.0,202.0 L171.7,202.0 L172.4,202.0 L173.1,201.9 L173.8,201.9 L174.5,201.8 L175.2,201.7 L175.9,201.5 L176.6,201.3 L177.3,200.9 L178.0,200.3 L178.7,199.7 L179.4,198.8 L180.1,197.8 L180.8,196.7 L181.5,195.6 L182.2,194.5 L182.9,193.5 L183.6,192.8 L184.3,192.4 L185.0,192.3 L185.7,192.4 L186.4,192.8 L187.1,193.3 L187.8,193.7 L188.5,194.1 L189.2,194.2 L189.9,194.0 L190.6,193.4 L191.3,192.3 L192.0,190.8 L192.7,188.7 L193.4,186.1 L194.1,183.0 L194.8,179.5 L195.5,175.4 L196.2,170.9 L196.9,166.0 L197.6,160.7 L198.3,155.1 L199.0,149.4 L199.7,143.5 L200.4,137.7 L201.1,132.0 L201.8,126.6 L202.5,121.6 L203.2,117.2 L203.9,113.4 L204.6,110.3 L205.3,108.0 L206.0,106.4 L206.7,105.7 L207.4,105.8 L208.1,106.6 L208.8,108.1 L209.5,110.1 L210.2,112.7 L210.9,115.6 L211.6,118.8 L212.3,122.2 L213.0,125.7 L213.7,129.2 L214.4,132.7 L215.1,136.1 L215.8,139.5 L216.5,142.7 L217.2,145.8 L217.9,148.7 L218.6,151.6 L219.3,154.3 L220.0,157.0 L220.7,159.6 L221.4,162.1 L222.1,164.5 L222.8,166.9 L223.5,169.3 L224.2,171.6 L224.9,173.8 L225.6,176.0 L226.3,178.1 L227.0,180.1 L227.7,182.1 L228.4,183.9 L229.1,185.7 L229.8,187.4 L230.5,188.9 L231.2,190.4 L231.9,191.7 L232.6,192.9 L233.3,194.1 L234.0,195.1 L234.7,196.0 L235.4,196.8 L236.1,197.6 L236.8,198.2 L237.5,198.8 L238.2,199.3 L238.9,199.7 L239.6,200.1 L240.3,200.4 L241.0,200.6 L241.7,200.8 L242.4,201.0 L243.1,201.1 L243.8,201.2 L244.5,201.2 L245.2,201.1 L245.9,201.0 L246.6,200.8 L247.3,200.6 L248.0,200.3 L248.7,199.9 L249.4,199.4 L250.1,198.8 L250.8,198.2 L251.5,197.6 L252.2,196.9 L252.9,196.3 L253.6,195.6 L254.3,195.1 L255.0,194.6 L255.7,194.3 L256.4,194.1 L257.1,194.0 L257.8,194.1 L258.5,194.3 L259.2,194.7 L259.9,195.2 L260.6,195.8 L261.3,196.5 L262.0,197.1 L262.7,197.8 L263.4,198.4 L264.1,199.0 L264.8,199.5 L265.5,200.0 L266.2,200.3 L266.9,200.6 L267.6,200.8 L268.3,200.8 L269.0,200.8 L269.7,200.6 L270.4,200.3 L271.1,199.9 L271.8,199.4 L272.5,198.6 L273.2,197.8 L273.9,196.7 L274.6,195.4 L275.3,193.9 L276.0,192.1 L276.7,190.2 L277.4,188.1 L278.1,185.8 L278.8,183.4 L279.5,180.9 L280.2,178.4 L280.9,175.9 L281.6,173.6 L282.3,171.5 L283.0,169.6 L283.7,168.0 L284.4,166.8 L285.1,166.0 L285.8,165.6 L286.5,165.7 L287.2,166.2 L287.9,167.0 L288.6,168.2 L289.3,169.6 L290.0,171.2 L290.7,173.0 L291.4,174.9 L292.1,176.8 L292.8,178.6 L293.5,180.3 L294.2,182.0 L294.9,183.4 L295.6,184.8 L296.3,186.0 L297.0,187.0 L297.7,187.9 L298.4,188.7 L299.1,189.4 L299.8,190.0 L300.5,190.6 L301.2,191.2 L301.9,191.7 L302.6,192.2 L303.3,192.8 L304.0,193.3 L304.7,193.8 L305.4,194.4 L306.1,194.9 L306.8,195.5 L307.5,196.0 L308.2,196.6 L308.9,197.1 L309.6,197.6 L310.3,198.1 L311.0,198.6 L311.7,199.0 L312.4,199.4 L313.1,199.7 L313.8,200.1 L314.5,200.4 L315.2,200.6 L315.9,200.8 L316.6,201.0 L317.3,201.2 L318.0,201.3 L318.7,201.5 L319.4,201.6 L320.1,201.7 L320.8,201.7 L321.5,201.8 L322.2,201.8 L322.9,201.9 L323.6,201.9 L324.3,201.9 L325.0,201.9 L325.7,202.0 L326.4,202.0 L327.1,202.0 L327.8,202.0 L328.5,202.0 L329.2,202.0 L329.9,202.0 L330.6,202.0 L331.3,202.0 L332.0,202.0 L332.7,202.0 L333.4,202.0 L334.1,202.0 L334.8,202.0 L335.5,202.0 L336.2,202.0 L336.9,202.0 L337.6,202.0 L338.3,202.0 L339.0,202.0 L339.7,202.0 L340.4,202.0" fill="none" stroke="#1e1e1e" stroke-width="1.7"/>
<circle cx="244" cy="62.6" r="2.6" fill="none" stroke="#333" stroke-width="0.9"/>
<text x="255.7" y="65.6" font-family="Liberation Sans" font-size="8.3" fill="#1a1a1a" text-anchor="start" stroke="#1a1a1a" stroke-width="0.15"><tspan dy="-0.00">Substracted from "Counts"</tspan></text>
<path d="M234.3,73.8 H254" stroke="#d84040" stroke-width="1.4"/>
<text x="255.7" y="76.8" font-family="Liberation Sans" font-size="8.3" fill="#1a1a1a" text-anchor="start" stroke="#1a1a1a" stroke-width="0.15"><tspan dy="-0.00">Fe</tspan><tspan dy="-3.49" font-size="5.15">0</tspan><tspan dy="3.49"> or Fe</tspan><tspan dy="2.32" font-size="5.15">5</tspan><tspan dy="-2.32">C</tspan><tspan dy="2.32" font-size="5.15">2</tspan><tspan dy="-2.32"> 2p</tspan><tspan dy="2.32" font-size="5.15">3/2</tspan></text>
<path d="M234.3,86.4 H254" stroke="#40d040" stroke-width="1.4"/>
<text x="255.7" y="89.4" font-family="Liberation Sans" font-size="8.3" fill="#1a1a1a" text-anchor="start" stroke="#1a1a1a" stroke-width="0.15"><tspan dy="-0.00">Fe</tspan><tspan dy="2.32" font-size="5.15">2</tspan><tspan dy="-2.32">O</tspan><tspan dy="2.32" font-size="5.15">3</tspan><tspan dy="-2.32"> or Fe</tspan><tspan dy="2.32" font-size="5.15">3</tspan><tspan dy="-2.32">O</tspan><tspan dy="2.32" font-size="5.15">4</tspan><tspan dy="-2.32"> 2p</tspan><tspan dy="2.32" font-size="5.15">3/2</tspan></text>
<path d="M234.3,100.4 H254" stroke="#2c2cc0" stroke-width="1.4"/>
<text x="255.7" y="103.4" font-family="Liberation Sans" font-size="8.3" fill="#1a1a1a" text-anchor="start" stroke="#1a1a1a" stroke-width="0.15"><tspan dy="-0.00">Fe</tspan><tspan dy="-3.49" font-size="5.15">2+</tspan><tspan dy="3.49"> satellite</tspan></text>
<path d="M234.3,111.8 H254" stroke="#44dcdc" stroke-width="1.4"/>
<text x="255.7" y="114.8" font-family="Liberation Sans" font-size="8.3" fill="#1a1a1a" text-anchor="start" stroke="#1a1a1a" stroke-width="0.15"><tspan dy="-0.00">Fe</tspan><tspan dy="-3.49" font-size="5.15">0</tspan><tspan dy="3.49"> or Fe</tspan><tspan dy="2.32" font-size="5.15">5</tspan><tspan dy="-2.32">C</tspan><tspan dy="2.32" font-size="5.15">2</tspan><tspan dy="-2.32"> satellite</tspan></text>
<path d="M234.3,124.4 H254" stroke="#d040d0" stroke-width="1.4"/>
<text x="255.7" y="127.4" font-family="Liberation Sans" font-size="8.3" fill="#1a1a1a" text-anchor="start" stroke="#1a1a1a" stroke-width="0.15"><tspan dy="-0.00">Fe</tspan><tspan dy="2.32" font-size="5.15">2</tspan><tspan dy="-2.32">O</tspan><tspan dy="2.32" font-size="5.15">3</tspan><tspan dy="-2.32"> or Fe</tspan><tspan dy="2.32" font-size="5.15">3</tspan><tspan dy="-2.32">O</tspan><tspan dy="2.32" font-size="5.15">4</tspan><tspan dy="-2.32"> 2p</tspan><tspan dy="2.32" font-size="5.15">1/2</tspan></text>
<path d="M234.3,138.1 H254" stroke="#a8a040" stroke-width="1.4"/>
<text x="255.7" y="141.1" font-family="Liberation Sans" font-size="8.3" fill="#1a1a1a" text-anchor="start" stroke="#1a1a1a" stroke-width="0.15"><tspan dy="-0.00">Fe</tspan><tspan dy="-3.49" font-size="5.15">3+</tspan><tspan dy="3.49"> satellite</tspan></text>
<path d="M234.3,148.4 H254" stroke="#1e1e1e" stroke-width="1.4"/>
<text x="255.7" y="151.4" font-family="Liberation Sans" font-size="8.3" fill="#1a1a1a" text-anchor="start" stroke="#1a1a1a" stroke-width="0.15"><tspan dy="-0.00">Cumulative Fit Peak</tspan></text>
<text x="213.4" y="108.5" font-family="Liberation Serif" font-size="9.6" fill="#222" text-anchor="start" stroke="#222" stroke-width="0.3"><tspan dy="-0.00">2p</tspan><tspan dy="2.69" font-size="5.95">3/2</tspan></text>
<text x="295.3" y="164.5" font-family="Liberation Serif" font-size="9.6" fill="#222" text-anchor="start" stroke="#222" stroke-width="0.3"><tspan dy="-0.00">2p</tspan><tspan dy="2.69" font-size="5.95">1/2</tspan></text>
<path d="M373.2,72.5 L373.2,219.6 L580,219.6" fill="none" stroke="#6a6a6a" stroke-width="1.2"/>
<path d="M390.9,219.6 v3.2 M411.5,219.6 v2.0 M432.1,219.6 v3.2 M452.7,219.6 v2.0 M473.3,219.6 v3.2 M493.9,219.6 v2.0 M514.5,219.6 v3.2 M535.1,219.6 v2.0 M555.7,219.6 v3.2 M576.3,219.6 v2.0" stroke="#6a6a6a" stroke-width="1"/>
<text x="390.9" y="236.6" font-family="Liberation Serif" font-size="13.8" fill="#111" stroke="#111" stroke-width="0.2" text-anchor="middle">528</text>
<text x="432.1" y="236.6" font-family="Liberation Serif" font-size="13.8" fill="#111" stroke="#111" stroke-width="0.2" text-anchor="middle">530</text>
<text x="473.3" y="236.6" font-family="Liberation Serif" font-size="13.8" fill="#111" stroke="#111" stroke-width="0.2" text-anchor="middle">532</text>
<text x="514.5" y="236.6" font-family="Liberation Serif" font-size="13.8" fill="#111" stroke="#111" stroke-width="0.2" text-anchor="middle">534</text>
<text x="555.7" y="236.6" font-family="Liberation Serif" font-size="13.8" fill="#111" stroke="#111" stroke-width="0.2" text-anchor="middle">536</text>
<text x="466.2" y="250.2" font-family="Liberation Serif" font-size="12.6" fill="#111" stroke="#111" stroke-width="0.2" text-anchor="middle">Binding energy (eV)</text>
<text transform="translate(366,139.4) rotate(-90)" x="0" y="0" font-family="Liberation Serif" font-size="12.2" fill="#111" stroke="#111" stroke-width="0.2" text-anchor="middle">Intensity (a.u.)</text>
<text x="374.7" y="82.1" font-family="Liberation Serif" font-size="9" fill="#333" stroke="#333" stroke-width="0.35">O1s</text>
<use href="#c" x="375.9" y="209.9"/>
<use href="#c" x="378.3" y="208.3"/>
<use href="#c" x="380.3" y="208.7"/>
<use href="#c" x="382.7" y="207.6"/>
<use href="#c" x="385.0" y="207.1"/>
<use href="#c" x="387.4" y="207.5"/>
<use href="#c" x="389.9" y="207.2"/>
<use href="#c" x="391.5" y="207.4"/>
<use href="#c" x="394.3" y="208.7"/>
<use href="#c" x="396.8" y="206.9"/>
<use href="#c" x="399.0" y="207.3"/>
<use href="#c" x="401.3" y="205.6"/>
<use href="#c" x="403.9" y="203.7"/>
<use href="#c" x="405.9" y="201.5"/>
<use href="#c" x="408.2" y="198.6"/>
<use href="#c" x="410.6" y="192.3"/>
<use href="#c" x="412.8" y="180.8"/>
<use href="#c" x="415.0" y="171.8"/>
<use href="#c" x="417.2" y="158.9"/>
<use href="#c" x="419.3" y="141.6"/>
<use href="#c" x="421.6" y="125.9"/>
<use href="#c" x="424.7" y="110.1"/>
<use href="#c" x="426.6" y="101.4"/>
<use href="#c" x="428.6" y="95.4"/>
<use href="#c" x="431.3" y="93.9"/>
<use href="#c" x="433.5" y="97.1"/>
<use href="#c" x="435.8" y="104.1"/>
<use href="#c" x="438.4" y="112.3"/>
<use href="#c" x="440.3" y="120.8"/>
<use href="#c" x="442.5" y="123.3"/>
<use href="#c" x="444.8" y="127.1"/>
<use href="#c" x="447.5" y="127.4"/>
<use href="#c" x="449.5" y="125.5"/>
<use href="#c" x="451.8" y="123.6"/>
<use href="#c" x="454.1" y="120.8"/>
<use href="#c" x="456.4" y="119.1"/>
<use href="#c" x="458.8" y="115.4"/>
<use href="#c" x="460.9" y="115.3"/>
<use href="#c" x="463.5" y="116.5"/>
<use href="#c" x="465.7" y="116.9"/>
<use href="#c" x="467.9" y="121.8"/>
<use href="#c" x="470.0" y="126.9"/>
<use href="#c" x="472.5" y="132.1"/>
<use href="#c" x="474.8" y="137.6"/>
<use href="#c" x="477.1" y="143.6"/>
<use href="#c" x="479.9" y="150.8"/>
<use href="#c" x="482.0" y="158.0"/>
<use href="#c" x="484.0" y="163.9"/>
<use href="#c" x="486.8" y="169.8"/>
<use href="#c" x="488.8" y="173.5"/>
<use href="#c" x="491.0" y="179.8"/>
<use href="#c" x="493.6" y="183.1"/>
<use href="#c" x="495.8" y="187.0"/>
<use href="#c" x="498.0" y="188.7"/>
<use href="#c" x="500.2" y="189.6"/>
<use href="#c" x="502.4" y="190.5"/>
<use href="#c" x="505.1" y="192.3"/>
<use href="#c" x="507.1" y="193.3"/>
<use href="#c" x="509.4" y="195.8"/>
<use href="#c" x="511.7" y="198.2"/>
<use href="#c" x="513.8" y="198.7"/>
<use href="#c" x="516.4" y="202.3"/>
<use href="#c" x="518.6" y="204.4"/>
<use href="#c" x="520.6" y="205.1"/>
<use href="#c" x="523.0" y="207.2"/>
<use href="#c" x="525.3" y="207.6"/>
<use href="#c" x="527.8" y="206.8"/>
<use href="#c" x="530.0" y="207.2"/>
<use href="#c" x="532.5" y="208.5"/>
<use href="#c" x="534.6" y="208.2"/>
<use href="#c" x="536.9" y="207.3"/>
<use href="#c" x="539.3" y="207.5"/>
<use href="#c" x="541.6" y="208.6"/>
<use href="#c" x="543.8" y="207.3"/>
<use href="#c" x="546.2" y="209.0"/>
<use href="#c" x="548.6" y="208.2"/>
<use href="#c" x="550.8" y="208.5"/>
<use href="#c" x="553.3" y="208.9"/>
<use href="#c" x="555.4" y="205.7"/>
<use href="#c" x="557.4" y="210.4"/>
<path d="M376.0,208.0 L376.7,208.0 L377.4,208.0 L378.1,208.0 L378.8,208.0 L379.5,208.0 L380.2,208.0 L380.9,208.0 L381.6,208.0 L382.3,208.0 L383.0,208.0 L383.7,208.0 L384.4,208.0 L385.1,208.0 L385.8,208.0 L386.5,208.0 L387.2,208.0 L387.9,208.0 L388.6,208.0 L389.3,208.0 L390.0,208.0 L390.7,208.0 L391.4,208.0 L392.1,208.0 L392.8,208.0 L393.5,207.9 L394.2,207.9 L394.9,207.9 L395.6,207.9 L396.3,207.8 L397.0,207.8 L397.7,207.7 L398.4,207.6 L399.1,207.5 L399.8,207.4 L400.5,207.2 L401.2,207.0 L401.9,206.8 L402.6,206.5 L403.3,206.1 L404.0,205.6 L404.7,205.1 L405.4,204.4 L406.1,203.7 L406.8,202.8 L407.5,201.7 L408.2,200.5 L408.9,199.1 L409.6,197.5 L410.3,195.7 L411.0,193.7 L411.7,191.4 L412.4,188.9 L413.1,186.2 L413.8,183.2 L414.5,180.0 L415.2,176.5 L415.9,172.9 L416.6,169.0 L417.3,165.0 L418.0,160.8 L418.7,156.6 L419.4,152.3 L420.1,148.0 L420.8,143.8 L421.5,139.7 L422.2,135.8 L422.9,132.2 L423.6,128.8 L424.3,125.7 L425.0,123.1 L425.7,120.9 L426.4,119.2 L427.1,118.0 L427.8,117.3 L428.5,117.2 L429.2,117.7 L429.9,118.6 L430.6,120.1 L431.3,122.1 L432.0,124.6 L432.7,127.4 L433.4,130.7 L434.1,134.2 L434.8,138.0 L435.5,142.1 L436.2,146.2 L436.9,150.5 L437.6,154.8 L438.3,159.0 L439.0,163.2 L439.7,167.3 L440.4,171.2 L441.1,175.0 L441.8,178.5 L442.5,181.8 L443.2,184.9 L443.9,187.8 L444.6,190.4 L445.3,192.7 L446.0,194.9 L446.7,196.8 L447.4,198.4 L448.1,199.9 L448.8,201.2 L449.5,202.3 L450.2,203.3 L450.9,204.1 L451.6,204.8 L452.3,205.4 L453.0,205.9 L453.7,206.3 L454.4,206.6 L455.1,206.9 L455.8,207.1 L456.5,207.3 L457.2,207.5 L457.9,207.6 L458.6,207.7 L459.3,207.8 L460.0,207.8 L460.7,207.9 L461.4,207.9 L462.1,207.9 L462.8,207.9 L463.5,208.0 L464.2,208.0 L464.9,208.0 L465.6,208.0 L466.3,208.0 L467.0,208.0 L467.7,208.0 L468.4,208.0 L469.1,208.0 L469.8,208.0 L470.5,208.0 L471.2,208.0 L471.9,208.0 L472.6,208.0 L473.3,208.0 L474.0,208.0 L474.7,208.0 L475.4,208.0 L476.1,208.0 L476.8,208.0 L477.5,208.0 L478.2,208.0 L478.9,208.0 L479.6,208.0 L480.3,208.0 L481.0,208.0 L481.7,208.0 L482.4,208.0 L483.1,208.0 L483.8,208.0 L484.5,208.0 L485.2,208.0 L485.9,208.0 L486.6,208.0 L487.3,208.0 L488.0,208.0 L488.7,208.0 L489.4,208.0 L490.1,208.0 L490.8,208.0 L491.5,208.0 L492.2,208.0 L492.9,208.0 L493.6,208.0 L494.3,208.0 L495.0,208.0 L495.7,208.0 L496.4,208.0 L497.1,208.0 L497.8,208.0 L498.5,208.0 L499.2,208.0 L499.9,208.0 L500.6,208.0 L501.3,208.0 L502.0,208.0 L502.7,208.0 L503.4,208.0 L504.1,208.0 L504.8,208.0 L505.5,208.0 L506.2,208.0 L506.9,208.0 L507.6,208.0 L508.3,208.0 L509.0,208.0 L509.7,208.0 L510.4,208.0 L511.1,208.0 L511.8,208.0 L512.5,208.0 L513.2,208.0 L513.9,208.0 L514.6,208.0 L515.3,208.0 L516.0,208.0 L516.7,208.0 L517.4,208.0 L518.1,208.0 L518.8,208.0 L519.5,208.0 L520.2,208.0 L520.9,208.0 L521.6,208.0 L522.3,208.0 L523.0,208.0 L523.7,208.0 L524.4,208.0 L525.1,208.0 L525.8,208.0 L526.5,208.0 L527.2,208.0 L527.9,208.0 L528.6,208.0 L529.3,208.0 L530.0,208.0 L530.7,208.0 L531.4,208.0 L532.1,208.0 L532.8,208.0 L533.5,208.0 L534.2,208.0 L534.9,208.0 L535.6,208.0 L536.3,208.0 L537.0,208.0 L537.7,208.0 L538.4,208.0 L539.1,208.0 L539.8,208.0 L540.5,208.0 L541.2,208.0 L541.9,208.0 L542.6,208.0 L543.3,208.0 L544.0,208.0 L544.7,208.0 L545.4,208.0 L546.1,208.0 L546.8,208.0 L547.5,208.0 L548.2,208.0 L548.9,208.0 L549.6,208.0 L550.3,208.0 L551.0,208.0 L551.7,208.0 L552.4,208.0 L553.1,208.0 L553.8,208.0 L554.5,208.0 L555.2,208.0 L555.9,208.0 L556.6,208.0 L557.3,208.0" fill="none" stroke="#d84040" stroke-width="1.3"/>
<path d="M376.0,208.0 L376.7,208.0 L377.4,208.0 L378.1,208.0 L378.8,208.0 L379.5,208.0 L380.2,208.0 L380.9,208.0 L381.6,208.0 L382.3,208.0 L383.0,208.0 L383.7,208.0 L384.4,208.0 L385.1,208.0 L385.8,208.0 L386.5,208.0 L387.2,208.0 L387.9,207.9 L388.6,207.9 L389.3,207.9 L390.0,207.9 L390.7,207.9 L391.4,207.9 L392.1,207.9 L392.8,207.9 L393.5,207.8 L394.2,207.8 L394.9,207.8 L395.6,207.8 L396.3,207.7 L397.0,207.7 L397.7,207.6 L398.4,207.6 L399.1,207.5 L399.8,207.5 L400.5,207.4 L401.2,207.4 L401.9,207.3 L402.6,207.2 L403.3,207.1 L404.0,207.0 L404.7,206.9 L405.4,206.7 L406.1,206.6 L406.8,206.4 L407.5,206.3 L408.2,206.1 L408.9,205.9 L409.6,205.6 L410.3,205.4 L411.0,205.1 L411.7,204.8 L412.4,204.5 L413.1,204.2 L413.8,203.8 L414.5,203.4 L415.2,203.0 L415.9,202.5 L416.6,202.0 L417.3,201.5 L418.0,200.9 L418.7,200.3 L419.4,199.6 L420.1,198.9 L420.8,198.2 L421.5,197.4 L422.2,196.6 L422.9,195.7 L423.6,194.7 L424.3,193.8 L425.0,192.7 L425.7,191.6 L426.4,190.5 L427.1,189.3 L427.8,188.0 L428.5,186.7 L429.2,185.3 L429.9,183.9 L430.6,182.4 L431.3,180.9 L432.0,179.3 L432.7,177.7 L433.4,176.0 L434.1,174.2 L434.8,172.4 L435.5,170.6 L436.2,168.8 L436.9,166.8 L437.6,164.9 L438.3,162.9 L439.0,160.9 L439.7,158.9 L440.4,156.9 L441.1,154.8 L441.8,152.8 L442.5,150.7 L443.2,148.7 L443.9,146.6 L444.6,144.6 L445.3,142.6 L446.0,140.6 L446.7,138.7 L447.4,136.8 L448.1,134.9 L448.8,133.1 L449.5,131.4 L450.2,129.7 L450.9,128.1 L451.6,126.6 L452.3,125.2 L453.0,123.8 L453.7,122.5 L454.4,121.4 L455.1,120.3 L455.8,119.4 L456.5,118.5 L457.2,117.8 L457.9,117.2 L458.6,116.7 L459.3,116.4 L460.0,116.1 L460.7,116.0 L461.4,116.0 L462.1,116.2 L462.8,116.4 L463.5,116.8 L464.2,117.3 L464.9,117.9 L465.6,118.7 L466.3,119.5 L467.0,120.5 L467.7,121.5 L468.4,122.7 L469.1,124.0 L469.8,125.4 L470.5,126.8 L471.2,128.3 L471.9,130.0 L472.6,131.6 L473.3,133.4 L474.0,135.2 L474.7,137.1 L475.4,139.0 L476.1,140.9 L476.8,142.9 L477.5,144.9 L478.2,146.9 L478.9,149.0 L479.6,151.0 L480.3,153.1 L481.0,155.1 L481.7,157.2 L482.4,159.2 L483.1,161.2 L483.8,163.2 L484.5,165.2 L485.2,167.1 L485.9,169.0 L486.6,170.9 L487.3,172.7 L488.0,174.5 L488.7,176.2 L489.4,177.9 L490.1,179.5 L490.8,181.1 L491.5,182.6 L492.2,184.1 L492.9,185.5 L493.6,186.9 L494.3,188.2 L495.0,189.4 L495.7,190.6 L496.4,191.8 L497.1,192.9 L497.8,193.9 L498.5,194.9 L499.2,195.8 L499.9,196.7 L500.6,197.5 L501.3,198.3 L502.0,199.0 L502.7,199.7 L503.4,200.4 L504.1,201.0 L504.8,201.5 L505.5,202.1 L506.2,202.6 L506.9,203.0 L507.6,203.5 L508.3,203.9 L509.0,204.2 L509.7,204.6 L510.4,204.9 L511.1,205.2 L511.8,205.4 L512.5,205.7 L513.2,205.9 L513.9,206.1 L514.6,206.3 L515.3,206.5 L516.0,206.6 L516.7,206.7 L517.4,206.9 L518.1,207.0 L518.8,207.1 L519.5,207.2 L520.2,207.3 L520.9,207.4 L521.6,207.4 L522.3,207.5 L523.0,207.6 L523.7,207.6 L524.4,207.6 L525.1,207.7 L525.8,207.7 L526.5,207.8 L527.2,207.8 L527.9,207.8 L528.6,207.8 L529.3,207.9 L530.0,207.9 L530.7,207.9 L531.4,207.9 L532.1,207.9 L532.8,207.9 L533.5,207.9 L534.2,207.9 L534.9,208.0 L535.6,208.0 L536.3,208.0 L537.0,208.0 L537.7,208.0 L538.4,208.0 L539.1,208.0 L539.8,208.0 L540.5,208.0 L541.2,208.0 L541.9,208.0 L542.6,208.0 L543.3,208.0 L544.0,208.0 L544.7,208.0 L545.4,208.0 L546.1,208.0 L546.8,208.0 L547.5,208.0 L548.2,208.0 L548.9,208.0 L549.6,208.0 L550.3,208.0 L551.0,208.0 L551.7,208.0 L552.4,208.0 L553.1,208.0 L553.8,208.0 L554.5,208.0 L555.2,208.0 L555.9,208.0 L556.6,208.0 L557.3,208.0" fill="none" stroke="#40d040" stroke-width="1.3"/>
<path d="M376.0,208.0 L376.7,208.0 L377.4,208.0 L378.1,208.0 L378.8,208.0 L379.5,208.0 L380.2,208.0 L380.9,208.0 L381.6,208.0 L382.3,208.0 L383.0,208.0 L383.7,208.0 L384.4,208.0 L385.1,208.0 L385.8,208.0 L386.5,208.0 L387.2,208.0 L387.9,208.0 L388.6,208.0 L389.3,208.0 L390.0,208.0 L390.7,208.0 L391.4,208.0 L392.1,208.0 L392.8,208.0 L393.5,208.0 L394.2,208.0 L394.9,208.0 L395.6,208.0 L396.3,208.0 L397.0,208.0 L397.7,208.0 L398.4,208.0 L399.1,208.0 L399.8,208.0 L400.5,208.0 L401.2,208.0 L401.9,208.0 L402.6,208.0 L403.3,208.0 L404.0,208.0 L404.7,208.0 L405.4,208.0 L406.1,208.0 L406.8,208.0 L407.5,208.0 L408.2,208.0 L408.9,208.0 L409.6,208.0 L410.3,208.0 L411.0,208.0 L411.7,208.0 L412.4,208.0 L413.1,208.0 L413.8,208.0 L414.5,208.0 L415.2,208.0 L415.9,208.0 L416.6,208.0 L417.3,208.0 L418.0,208.0 L418.7,208.0 L419.4,208.0 L420.1,208.0 L420.8,208.0 L421.5,208.0 L422.2,208.0 L422.9,208.0 L423.6,208.0 L424.3,208.0 L425.0,208.0 L425.7,208.0 L426.4,208.0 L427.1,208.0 L427.8,208.0 L428.5,208.0 L429.2,208.0 L429.9,208.0 L430.6,208.0 L431.3,208.0 L432.0,208.0 L432.7,208.0 L433.4,208.0 L434.1,208.0 L434.8,208.0 L435.5,208.0 L436.2,208.0 L436.9,208.0 L437.6,208.0 L438.3,208.0 L439.0,208.0 L439.7,208.0 L440.4,208.0 L441.1,208.0 L441.8,208.0 L442.5,208.0 L443.2,208.0 L443.9,208.0 L444.6,208.0 L445.3,208.0 L446.0,208.0 L446.7,208.0 L447.4,208.0 L448.1,208.0 L448.8,208.0 L449.5,208.0 L450.2,208.0 L450.9,208.0 L451.6,208.0 L452.3,208.0 L453.0,208.0 L453.7,208.0 L454.4,208.0 L455.1,208.0 L455.8,208.0 L456.5,208.0 L457.2,208.0 L457.9,208.0 L458.6,208.0 L459.3,208.0 L460.0,208.0 L460.7,208.0 L461.4,208.0 L462.1,208.0 L462.8,208.0 L463.5,208.0 L464.2,208.0 L464.9,208.0 L465.6,208.0 L466.3,208.0 L467.0,208.0 L467.7,208.0 L468.4,208.0 L469.1,208.0 L469.8,208.0 L470.5,208.0 L471.2,208.0 L471.9,208.0 L472.6,208.0 L473.3,208.0 L474.0,208.0 L474.7,208.0 L475.4,208.0 L476.1,208.0 L476.8,207.9 L477.5,207.9 L478.2,207.9 L478.9,207.9 L479.6,207.9 L480.3,207.8 L481.0,207.8 L481.7,207.7 L482.4,207.7 L483.1,207.6 L483.8,207.5 L484.5,207.4 L485.2,207.3 L485.9,207.1 L486.6,207.0 L487.3,206.8 L488.0,206.6 L488.7,206.4 L489.4,206.1 L490.1,205.9 L490.8,205.6 L491.5,205.2 L492.2,204.9 L492.9,204.5 L493.6,204.1 L494.3,203.7 L495.0,203.2 L495.7,202.8 L496.4,202.3 L497.1,201.9 L497.8,201.4 L498.5,200.9 L499.2,200.5 L499.9,200.1 L500.6,199.7 L501.3,199.4 L502.0,199.0 L502.7,198.8 L503.4,198.5 L504.1,198.4 L504.8,198.3 L505.5,198.2 L506.2,198.2 L506.9,198.3 L507.6,198.4 L508.3,198.6 L509.0,198.8 L509.7,199.1 L510.4,199.4 L511.1,199.8 L511.8,200.2 L512.5,200.6 L513.2,201.0 L513.9,201.5 L514.6,201.9 L515.3,202.4 L516.0,202.8 L516.7,203.3 L517.4,203.7 L518.1,204.1 L518.8,204.5 L519.5,204.9 L520.2,205.3 L520.9,205.6 L521.6,205.9 L522.3,206.2 L523.0,206.4 L523.7,206.6 L524.4,206.8 L525.1,207.0 L525.8,207.2 L526.5,207.3 L527.2,207.4 L527.9,207.5 L528.6,207.6 L529.3,207.7 L530.0,207.7 L530.7,207.8 L531.4,207.8 L532.1,207.9 L532.8,207.9 L533.5,207.9 L534.2,207.9 L534.9,207.9 L535.6,208.0 L536.3,208.0 L537.0,208.0 L537.7,208.0 L538.4,208.0 L539.1,208.0 L539.8,208.0 L540.5,208.0 L541.2,208.0 L541.9,208.0 L542.6,208.0 L543.3,208.0 L544.0,208.0 L544.7,208.0 L545.4,208.0 L546.1,208.0 L546.8,208.0 L547.5,208.0 L548.2,208.0 L548.9,208.0 L549.6,208.0 L550.3,208.0 L551.0,208.0 L551.7,208.0 L552.4,208.0 L553.1,208.0 L553.8,208.0 L554.5,208.0 L555.2,208.0 L555.9,208.0 L556.6,208.0 L557.3,208.0" fill="none" stroke="#2c2cc0" stroke-width="1.3"/>
<path d="M376.0,208.0 L376.7,208.0 L377.4,208.0 L378.1,208.0 L378.8,208.0 L379.5,208.0 L380.2,208.0 L380.9,208.0 L381.6,208.0 L382.3,208.0 L383.0,208.0 L383.7,208.0 L384.4,208.0 L385.1,208.0 L385.8,208.0 L386.5,208.0 L387.2,207.9 L387.9,207.9 L388.6,207.9 L389.3,207.9 L390.0,207.9 L390.7,207.9 L391.4,207.9 L392.1,207.8 L392.8,207.8 L393.5,207.8 L394.2,207.7 L394.9,207.7 L395.6,207.6 L396.3,207.6 L397.0,207.5 L397.7,207.4 L398.4,207.2 L399.1,207.1 L399.8,206.9 L400.5,206.7 L401.2,206.4 L401.9,206.0 L402.6,205.6 L403.3,205.2 L404.0,204.6 L404.7,203.9 L405.4,203.2 L406.1,202.3 L406.8,201.2 L407.5,200.0 L408.2,198.6 L408.9,197.0 L409.6,195.1 L410.3,193.1 L411.0,190.8 L411.7,188.3 L412.4,185.4 L413.1,182.4 L413.8,179.0 L414.5,175.4 L415.2,171.5 L415.9,167.4 L416.6,163.0 L417.3,158.4 L418.0,153.7 L418.7,148.9 L419.4,143.9 L420.1,139.0 L420.8,134.0 L421.5,129.1 L422.2,124.4 L422.9,119.8 L423.6,115.5 L424.3,111.5 L425.0,107.8 L425.7,104.5 L426.4,101.7 L427.1,99.3 L427.8,97.4 L428.5,95.9 L429.2,95.0 L429.9,94.5 L430.6,94.5 L431.3,95.0 L432.0,95.9 L432.7,97.1 L433.4,98.6 L434.1,100.5 L434.8,102.5 L435.5,104.7 L436.2,107.0 L436.9,109.3 L437.6,111.7 L438.3,114.0 L439.0,116.2 L439.7,118.2 L440.4,120.1 L441.1,121.8 L441.8,123.3 L442.5,124.6 L443.2,125.6 L443.9,126.4 L444.6,127.0 L445.3,127.4 L446.0,127.5 L446.7,127.5 L447.4,127.2 L448.1,126.9 L448.8,126.4 L449.5,125.7 L450.2,125.0 L450.9,124.2 L451.6,123.4 L452.3,122.6 L453.0,121.7 L453.7,120.9 L454.4,120.0 L455.1,119.3 L455.8,118.5 L456.5,117.9 L457.2,117.3 L457.9,116.8 L458.6,116.4 L459.3,116.1 L460.0,115.9 L460.7,115.9 L461.4,115.9 L462.1,116.1 L462.8,116.4 L463.5,116.7 L464.2,117.3 L464.9,117.9 L465.6,118.6 L466.3,119.5 L467.0,120.5 L467.7,121.5 L468.4,122.7 L469.1,124.0 L469.8,125.4 L470.5,126.8 L471.2,128.3 L471.9,130.0 L472.6,131.6 L473.3,133.4 L474.0,135.2 L474.7,137.0 L475.4,138.9 L476.1,140.9 L476.8,142.8 L477.5,144.8 L478.2,146.8 L478.9,148.9 L479.6,150.9 L480.3,152.9 L481.0,154.9 L481.7,156.9 L482.4,158.9 L483.1,160.8 L483.8,162.7 L484.5,164.6 L485.2,166.4 L485.9,168.2 L486.6,169.9 L487.3,171.5 L488.0,173.1 L488.7,174.6 L489.4,176.0 L490.1,177.4 L490.8,178.7 L491.5,179.9 L492.2,181.0 L492.9,182.0 L493.6,183.0 L494.3,183.9 L495.0,184.7 L495.7,185.4 L496.4,186.1 L497.1,186.7 L497.8,187.3 L498.5,187.8 L499.2,188.3 L499.9,188.8 L500.6,189.2 L501.3,189.6 L502.0,190.1 L502.7,190.5 L503.4,190.9 L504.1,191.4 L504.8,191.8 L505.5,192.3 L506.2,192.8 L506.9,193.3 L507.6,193.8 L508.3,194.4 L509.0,195.0 L509.7,195.6 L510.4,196.3 L511.1,196.9 L511.8,197.6 L512.5,198.2 L513.2,198.9 L513.9,199.6 L514.6,200.2 L515.3,200.8 L516.0,201.5 L516.7,202.0 L517.4,202.6 L518.1,203.1 L518.8,203.6 L519.5,204.1 L520.2,204.6 L520.9,205.0 L521.6,205.3 L522.3,205.7 L523.0,206.0 L523.7,206.2 L524.4,206.5 L525.1,206.7 L525.8,206.9 L526.5,207.1 L527.2,207.2 L527.9,207.3 L528.6,207.4 L529.3,207.5 L530.0,207.6 L530.7,207.7 L531.4,207.7 L532.1,207.8 L532.8,207.8 L533.5,207.9 L534.2,207.9 L534.9,207.9 L535.6,207.9 L536.3,207.9 L537.0,207.9 L537.7,208.0 L538.4,208.0 L539.1,208.0 L539.8,208.0 L540.5,208.0 L541.2,208.0 L541.9,208.0 L542.6,208.0 L543.3,208.0 L544.0,208.0 L544.7,208.0 L545.4,208.0 L546.1,208.0 L546.8,208.0 L547.5,208.0 L548.2,208.0 L548.9,208.0 L549.6,208.0 L550.3,208.0 L551.0,208.0 L551.7,208.0 L552.4,208.0 L553.1,208.0 L553.8,208.0 L554.5,208.0 L555.2,208.0 L555.9,208.0 L556.6,208.0 L557.3,208.0" fill="none" stroke="#44dcdc" stroke-width="1.8"/>
<circle cx="486.8" cy="78.9" r="2.6" fill="none" stroke="#333" stroke-width="0.9"/>
<text x="498.8" y="81.9" font-family="Liberation Sans" font-size="8.4" fill="#1a1a1a" text-anchor="start" stroke="#1a1a1a" stroke-width="0.15"><tspan dy="-0.00">Subtracted from "Counts"</tspan></text>
<path d="M477,89 H496.5" stroke="#d84040" stroke-width="1.4"/>
<text x="498.8" y="92.0" font-family="Liberation Sans" font-size="8.4" fill="#1a1a1a" text-anchor="start" stroke="#1a1a1a" stroke-width="0.15"><tspan dy="-0.00">Lattice oxygen</tspan></text>
<path d="M477,99.1 H496.5" stroke="#40d040" stroke-width="1.4"/>
<text x="498.8" y="102.1" font-family="Liberation Sans" font-size="8.4" fill="#1a1a1a" text-anchor="start" stroke="#1a1a1a" stroke-width="0.15"><tspan dy="-0.00">O-C=O, C-OH</tspan></text>
<path d="M477,109.4 H496.5" stroke="#2c2cc0" stroke-width="1.4"/>
<text x="498.8" y="112.4" font-family="Liberation Sans" font-size="8.4" fill="#1a1a1a" text-anchor="start" stroke="#1a1a1a" stroke-width="0.15"><tspan dy="-0.00">C-OH</tspan></text>
<path d="M477,119.8 H496.5" stroke="#44dcdc" stroke-width="1.4"/>
<text x="498.8" y="122.8" font-family="Liberation Sans" font-size="8.4" fill="#1a1a1a" text-anchor="start" stroke="#1a1a1a" stroke-width="0.15"><tspan dy="-0.00">Cumulative Fit Peak</tspan></text>
<path d="M615.6,73.4 L615.6,219.6 L801.2,219.6" fill="none" stroke="#6a6a6a" stroke-width="1.2"/>
<path d="M630.2,219.6 v3.2 M647.1,219.6 v2.0 M664.0,219.6 v3.2 M680.9,219.6 v2.0 M697.8,219.6 v3.2 M714.7,219.6 v2.0 M731.6,219.6 v3.2 M748.5,219.6 v2.0 M765.4,219.6 v3.2 M782.3,219.6 v2.0 M799.2,219.6 v3.2" stroke="#6a6a6a" stroke-width="1"/>
<text x="630.2" y="235.2" font-family="Liberation Serif" font-size="12.5" fill="#111" stroke="#111" stroke-width="0.2" text-anchor="middle">282</text>
<text x="664.0" y="235.2" font-family="Liberation Serif" font-size="12.5" fill="#111" stroke="#111" stroke-width="0.2" text-anchor="middle">284</text>
<text x="697.8" y="235.2" font-family="Liberation Serif" font-size="12.5" fill="#111" stroke="#111" stroke-width="0.2" text-anchor="middle">286</text>
<text x="731.6" y="235.2" font-family="Liberation Serif" font-size="12.5" fill="#111" stroke="#111" stroke-width="0.2" text-anchor="middle">288</text>
<text x="765.4" y="235.2" font-family="Liberation Serif" font-size="12.5" fill="#111" stroke="#111" stroke-width="0.2" text-anchor="middle">290</text>
<text x="799.2" y="235.2" font-family="Liberation Serif" font-size="12.5" fill="#111" stroke="#111" stroke-width="0.2" text-anchor="middle">292</text>
<text x="708.75" y="250.7" font-family="Liberation Serif" font-size="12.6" fill="#111" stroke="#111" stroke-width="0.2" text-anchor="middle">Binding energy (eV)</text>
<text transform="translate(604.8,139.6) rotate(-90)" x="0" y="0" font-family="Liberation Serif" font-size="12.6" fill="#111" stroke="#111" stroke-width="0.2" text-anchor="middle">Intensity (a.u.)</text>
<text x="616.9" y="82.5" font-family="Liberation Serif" font-size="9" fill="#333" stroke="#333" stroke-width="0.35">C1s</text>
<use href="#c" x="617.3" y="210.2"/>
<use href="#c" x="619.2" y="209.4"/>
<use href="#c" x="620.9" y="209.9"/>
<use href="#c" x="623.0" y="211.6"/>
<use href="#c" x="625.1" y="210.1"/>
<use href="#c" x="627.0" y="211.0"/>
<use href="#c" x="628.8" y="210.6"/>
<use href="#c" x="630.9" y="209.8"/>
<use href="#c" x="632.7" y="209.0"/>
<use href="#c" x="635.0" y="208.8"/>
<use href="#c" x="636.9" y="210.0"/>
<use href="#c" x="638.7" y="210.1"/>
<use href="#c" x="641.0" y="210.0"/>
<use href="#c" x="642.8" y="210.6"/>
<use href="#c" x="644.6" y="209.5"/>
<use href="#c" x="646.6" y="209.1"/>
<use href="#c" x="649.2" y="207.7"/>
<use href="#c" x="651.2" y="206.0"/>
<use href="#c" x="652.9" y="206.1"/>
<use href="#c" x="655.1" y="203.1"/>
<use href="#c" x="657.0" y="198.8"/>
<use href="#c" x="658.9" y="190.5"/>
<use href="#c" x="661.0" y="180.8"/>
<use href="#c" x="663.2" y="169.0"/>
<use href="#c" x="664.8" y="153.9"/>
<use href="#c" x="666.6" y="139.0"/>
<use href="#c" x="668.5" y="125.5"/>
<use href="#c" x="670.9" y="109.5"/>
<use href="#c" x="672.6" y="100.1"/>
<use href="#c" x="674.9" y="93.3"/>
<use href="#c" x="676.9" y="91.7"/>
<use href="#c" x="678.8" y="97.3"/>
<use href="#c" x="681.1" y="106.5"/>
<use href="#c" x="682.5" y="121.2"/>
<use href="#c" x="685.2" y="135.6"/>
<use href="#c" x="687.1" y="148.5"/>
<use href="#c" x="689.3" y="161.4"/>
<use href="#c" x="691.0" y="172.4"/>
<use href="#c" x="693.0" y="180.1"/>
<use href="#c" x="694.8" y="186.0"/>
<use href="#c" x="696.6" y="192.1"/>
<use href="#c" x="699.0" y="191.1"/>
<use href="#c" x="701.1" y="197.0"/>
<use href="#c" x="703.0" y="199.8"/>
<use href="#c" x="705.2" y="202.9"/>
<use href="#c" x="706.9" y="204.6"/>
<use href="#c" x="709.1" y="208.3"/>
<use href="#c" x="711.5" y="207.3"/>
<use href="#c" x="712.9" y="209.6"/>
<use href="#c" x="715.1" y="208.6"/>
<use href="#c" x="716.8" y="209.1"/>
<use href="#c" x="718.9" y="208.9"/>
<use href="#c" x="720.9" y="210.8"/>
<use href="#c" x="723.1" y="208.7"/>
<use href="#c" x="725.2" y="209.8"/>
<use href="#c" x="727.0" y="210.5"/>
<use href="#c" x="729.0" y="209.1"/>
<use href="#c" x="731.1" y="207.9"/>
<use href="#c" x="733.0" y="209.4"/>
<use href="#c" x="734.9" y="207.6"/>
<use href="#c" x="736.8" y="206.7"/>
<use href="#c" x="738.8" y="206.6"/>
<use href="#c" x="740.7" y="206.3"/>
<use href="#c" x="743.0" y="206.9"/>
<use href="#c" x="744.5" y="205.9"/>
<use href="#c" x="747.2" y="207.1"/>
<use href="#c" x="748.9" y="207.0"/>
<use href="#c" x="751.1" y="207.7"/>
<use href="#c" x="753.2" y="207.9"/>
<use href="#c" x="755.2" y="208.9"/>
<use href="#c" x="757.0" y="209.5"/>
<use href="#c" x="758.9" y="208.5"/>
<use href="#c" x="761.1" y="209.7"/>
<use href="#c" x="762.9" y="210.2"/>
<use href="#c" x="765.2" y="210.4"/>
<use href="#c" x="766.9" y="210.0"/>
<use href="#c" x="769.2" y="209.8"/>
<use href="#c" x="770.8" y="210.5"/>
<use href="#c" x="772.9" y="210.4"/>
<use href="#c" x="775.2" y="209.5"/>
<use href="#c" x="776.9" y="210.8"/>
<use href="#c" x="779.1" y="210.2"/>
<use href="#c" x="781.0" y="209.6"/>
<use href="#c" x="782.6" y="210.6"/>
<use href="#c" x="785.1" y="210.4"/>
<use href="#c" x="786.7" y="210.5"/>
<use href="#c" x="788.8" y="210.4"/>
<use href="#c" x="791.1" y="210.6"/>
<use href="#c" x="792.8" y="210.3"/>
<use href="#c" x="795.2" y="209.6"/>
<use href="#c" x="797.1" y="209.4"/>
<use href="#c" x="798.9" y="210.5"/>
<path d="M617.0,210.1 L617.7,210.1 L618.4,210.1 L619.1,210.1 L619.8,210.1 L620.5,210.1 L621.2,210.1 L621.9,210.1 L622.6,210.1 L623.3,210.1 L624.0,210.1 L624.7,210.1 L625.4,210.1 L626.1,210.1 L626.8,210.1 L627.5,210.1 L628.2,210.1 L628.9,210.1 L629.6,210.1 L630.3,210.1 L631.0,210.1 L631.7,210.1 L632.4,210.1 L633.1,210.1 L633.8,210.1 L634.5,210.1 L635.2,210.1 L635.9,210.1 L636.6,210.1 L637.3,210.1 L638.0,210.1 L638.7,210.1 L639.4,210.1 L640.1,210.1 L640.8,210.0 L641.5,210.0 L642.2,210.0 L642.9,210.0 L643.6,209.9 L644.3,209.9 L645.0,209.8 L645.7,209.7 L646.4,209.6 L647.1,209.5 L647.8,209.3 L648.5,209.1 L649.2,208.8 L649.9,208.4 L650.6,208.0 L651.3,207.5 L652.0,206.9 L652.7,206.2 L653.4,205.3 L654.1,204.3 L654.8,203.1 L655.5,201.7 L656.2,200.1 L656.9,198.2 L657.6,196.1 L658.3,193.7 L659.0,191.0 L659.7,188.0 L660.4,184.7 L661.1,181.1 L661.8,177.1 L662.5,172.9 L663.2,168.3 L663.9,163.5 L664.6,158.4 L665.3,153.1 L666.0,147.7 L666.7,142.2 L667.4,136.6 L668.1,131.0 L668.8,125.5 L669.5,120.2 L670.2,115.1 L670.9,110.4 L671.6,106.0 L672.3,102.1 L673.0,98.8 L673.7,96.0 L674.4,93.8 L675.1,92.4 L675.8,91.6 L676.5,91.6 L677.2,92.2 L677.9,93.6 L678.6,95.6 L679.3,98.3 L680.0,101.6 L680.7,105.4 L681.4,109.7 L682.1,114.4 L682.8,119.5 L683.5,124.7 L684.2,130.2 L684.9,135.8 L685.6,141.4 L686.3,146.9 L687.0,152.4 L687.7,157.7 L688.4,162.8 L689.1,167.6 L689.8,172.2 L690.5,176.5 L691.2,180.5 L691.9,184.2 L692.6,187.6 L693.3,190.6 L694.0,193.3 L694.7,195.8 L695.4,197.9 L696.1,199.8 L696.8,201.5 L697.5,202.9 L698.2,204.1 L698.9,205.2 L699.6,206.1 L700.3,206.8 L701.0,207.4 L701.7,208.0 L702.4,208.4 L703.1,208.7 L703.8,209.0 L704.5,209.3 L705.2,209.4 L705.9,209.6 L706.6,209.7 L707.3,209.8 L708.0,209.9 L708.7,209.9 L709.4,210.0 L710.1,210.0 L710.8,210.0 L711.5,210.0 L712.2,210.1 L712.9,210.1 L713.6,210.1 L714.3,210.1 L715.0,210.1 L715.7,210.1 L716.4,210.1 L717.1,210.1 L717.8,210.1 L718.5,210.1 L719.2,210.1 L719.9,210.1 L720.6,210.1 L721.3,210.1 L722.0,210.1 L722.7,210.1 L723.4,210.1 L724.1,210.1 L724.8,210.1 L725.5,210.1 L726.2,210.1 L726.9,210.1 L727.6,210.1 L728.3,210.1 L729.0,210.1 L729.7,210.1 L730.4,210.1 L731.1,210.1 L731.8,210.1 L732.5,210.1 L733.2,210.1 L733.9,210.1 L734.6,210.1 L735.3,210.1 L736.0,210.1 L736.7,210.1 L737.4,210.1 L738.1,210.1 L738.8,210.1 L739.5,210.1 L740.2,210.1 L740.9,210.1 L741.6,210.1 L742.3,210.1 L743.0,210.1 L743.7,210.1 L744.4,210.1 L745.1,210.1 L745.8,210.1 L746.5,210.1 L747.2,210.1 L747.9,210.1 L748.6,210.1 L749.3,210.1 L750.0,210.1 L750.7,210.1 L751.4,210.1 L752.1,210.1 L752.8,210.1 L753.5,210.1 L754.2,210.1 L754.9,210.1 L755.6,210.1 L756.3,210.1 L757.0,210.1 L757.7,210.1 L758.4,210.1 L759.1,210.1 L759.8,210.1 L760.5,210.1 L761.2,210.1 L761.9,210.1 L762.6,210.1 L763.3,210.1 L764.0,210.1 L764.7,210.1 L765.4,210.1 L766.1,210.1 L766.8,210.1 L767.5,210.1 L768.2,210.1 L768.9,210.1 L769.6,210.1 L770.3,210.1 L771.0,210.1 L771.7,210.1 L772.4,210.1 L773.1,210.1 L773.8,210.1 L774.5,210.1 L775.2,210.1 L775.9,210.1 L776.6,210.1 L777.3,210.1 L778.0,210.1 L778.7,210.1 L779.4,210.1 L780.1,210.1 L780.8,210.1 L781.5,210.1 L782.2,210.1 L782.9,210.1 L783.6,210.1 L784.3,210.1 L785.0,210.1 L785.7,210.1 L786.4,210.1 L787.1,210.1 L787.8,210.1 L788.5,210.1 L789.2,210.1 L789.9,210.1 L790.6,210.1 L791.3,210.1 L792.0,210.1 L792.7,210.1 L793.4,210.1 L794.1,210.1 L794.8,210.1 L795.5,210.1 L796.2,210.1 L796.9,210.1 L797.6,210.1 L798.3,210.1 L799.0,210.1 L799.7,210.1" fill="none" stroke="#d84040" stroke-width="1.3"/>
<path d="M617.0,210.1 L617.7,210.1 L618.4,210.1 L619.1,210.1 L619.8,210.1 L620.5,210.1 L621.2,210.1 L621.9,210.1 L622.6,210.1 L623.3,210.1 L624.0,210.1 L624.7,210.1 L625.4,210.1 L626.1,210.1 L626.8,210.1 L627.5,210.1 L628.2,210.1 L628.9,210.1 L629.6,210.1 L630.3,210.1 L631.0,210.1 L631.7,210.1 L632.4,210.1 L633.1,210.1 L633.8,210.1 L634.5,210.1 L635.2,210.1 L635.9,210.1 L636.6,210.1 L637.3,210.1 L638.0,210.1 L638.7,210.1 L639.4,210.1 L640.1,210.1 L640.8,210.1 L641.5,210.1 L642.2,210.1 L642.9,210.1 L643.6,210.1 L644.3,210.1 L645.0,210.1 L645.7,210.1 L646.4,210.1 L647.1,210.1 L647.8,210.1 L648.5,210.1 L649.2,210.1 L649.9,210.1 L650.6,210.1 L651.3,210.1 L652.0,210.1 L652.7,210.1 L653.4,210.1 L654.1,210.1 L654.8,210.1 L655.5,210.1 L656.2,210.1 L656.9,210.1 L657.6,210.1 L658.3,210.1 L659.0,210.1 L659.7,210.1 L660.4,210.1 L661.1,210.1 L661.8,210.1 L662.5,210.1 L663.2,210.1 L663.9,210.1 L664.6,210.1 L665.3,210.1 L666.0,210.1 L666.7,210.1 L667.4,210.1 L668.1,210.1 L668.8,210.1 L669.5,210.1 L670.2,210.1 L670.9,210.1 L671.6,210.1 L672.3,210.1 L673.0,210.1 L673.7,210.1 L674.4,210.1 L675.1,210.0 L675.8,210.0 L676.5,210.0 L677.2,209.9 L677.9,209.9 L678.6,209.8 L679.3,209.8 L680.0,209.6 L680.7,209.5 L681.4,209.4 L682.1,209.2 L682.8,208.9 L683.5,208.7 L684.2,208.4 L684.9,208.0 L685.6,207.6 L686.3,207.1 L687.0,206.6 L687.7,206.0 L688.4,205.4 L689.1,204.8 L689.8,204.1 L690.5,203.4 L691.2,202.7 L691.9,202.0 L692.6,201.4 L693.3,200.7 L694.0,200.2 L694.7,199.7 L695.4,199.3 L696.1,198.9 L696.8,198.7 L697.5,198.6 L698.2,198.6 L698.9,198.7 L699.6,199.0 L700.3,199.3 L701.0,199.7 L701.7,200.3 L702.4,200.8 L703.1,201.5 L703.8,202.1 L704.5,202.8 L705.2,203.5 L705.9,204.2 L706.6,204.9 L707.3,205.5 L708.0,206.1 L708.7,206.7 L709.4,207.2 L710.1,207.6 L710.8,208.0 L711.5,208.4 L712.2,208.7 L712.9,209.0 L713.6,209.2 L714.3,209.4 L715.0,209.5 L715.7,209.7 L716.4,209.8 L717.1,209.8 L717.8,209.9 L718.5,210.0 L719.2,210.0 L719.9,210.0 L720.6,210.0 L721.3,210.1 L722.0,210.1 L722.7,210.1 L723.4,210.1 L724.1,210.1 L724.8,210.1 L725.5,210.1 L726.2,210.1 L726.9,210.1 L727.6,210.1 L728.3,210.1 L729.0,210.1 L729.7,210.1 L730.4,210.1 L731.1,210.1 L731.8,210.1 L732.5,210.1 L733.2,210.1 L733.9,210.1 L734.6,210.1 L735.3,210.1 L736.0,210.1 L736.7,210.1 L737.4,210.1 L738.1,210.1 L738.8,210.1 L739.5,210.1 L740.2,210.1 L740.9,210.1 L741.6,210.1 L742.3,210.1 L743.0,210.1 L743.7,210.1 L744.4,210.1 L745.1,210.1 L745.8,210.1 L746.5,210.1 L747.2,210.1 L747.9,210.1 L748.6,210.1 L749.3,210.1 L750.0,210.1 L750.7,210.1 L751.4,210.1 L752.1,210.1 L752.8,210.1 L753.5,210.1 L754.2,210.1 L754.9,210.1 L755.6,210.1 L756.3,210.1 L757.0,210.1 L757.7,210.1 L758.4,210.1 L759.1,210.1 L759.8,210.1 L760.5,210.1 L761.2,210.1 L761.9,210.1 L762.6,210.1 L763.3,210.1 L764.0,210.1 L764.7,210.1 L765.4,210.1 L766.1,210.1 L766.8,210.1 L767.5,210.1 L768.2,210.1 L768.9,210.1 L769.6,210.1 L770.3,210.1 L771.0,210.1 L771.7,210.1 L772.4,210.1 L773.1,210.1 L773.8,210.1 L774.5,210.1 L775.2,210.1 L775.9,210.1 L776.6,210.1 L777.3,210.1 L778.0,210.1 L778.7,210.1 L779.4,210.1 L780.1,210.1 L780.8,210.1 L781.5,210.1 L782.2,210.1 L782.9,210.1 L783.6,210.1 L784.3,210.1 L785.0,210.1 L785.7,210.1 L786.4,210.1 L787.1,210.1 L787.8,210.1 L788.5,210.1 L789.2,210.1 L789.9,210.1 L790.6,210.1 L791.3,210.1 L792.0,210.1 L792.7,210.1 L793.4,210.1 L794.1,210.1 L794.8,210.1 L795.5,210.1 L796.2,210.1 L796.9,210.1 L797.6,210.1 L798.3,210.1 L799.0,210.1 L799.7,210.1" fill="none" stroke="#40d040" stroke-width="1.3"/>
<path d="M617.0,210.1 L617.7,210.1 L618.4,210.1 L619.1,210.1 L619.8,210.1 L620.5,210.1 L621.2,210.1 L621.9,210.1 L622.6,210.1 L623.3,210.1 L624.0,210.1 L624.7,210.1 L625.4,210.1 L626.1,210.1 L626.8,210.1 L627.5,210.1 L628.2,210.1 L628.9,210.1 L629.6,210.1 L630.3,210.1 L631.0,210.1 L631.7,210.1 L632.4,210.1 L633.1,210.1 L633.8,210.1 L634.5,210.1 L635.2,210.1 L635.9,210.1 L636.6,210.1 L637.3,210.1 L638.0,210.1 L638.7,210.1 L639.4,210.1 L640.1,210.1 L640.8,210.1 L641.5,210.1 L642.2,210.1 L642.9,210.1 L643.6,210.1 L644.3,210.1 L645.0,210.1 L645.7,210.1 L646.4,210.1 L647.1,210.1 L647.8,210.1 L648.5,210.1 L649.2,210.1 L649.9,210.1 L650.6,210.1 L651.3,210.1 L652.0,210.1 L652.7,210.1 L653.4,210.1 L654.1,210.1 L654.8,210.1 L655.5,210.1 L656.2,210.1 L656.9,210.1 L657.6,210.1 L658.3,210.1 L659.0,210.1 L659.7,210.1 L660.4,210.1 L661.1,210.1 L661.8,210.1 L662.5,210.1 L663.2,210.1 L663.9,210.1 L664.6,210.1 L665.3,210.1 L666.0,210.1 L666.7,210.1 L667.4,210.1 L668.1,210.1 L668.8,210.1 L669.5,210.1 L670.2,210.1 L670.9,210.1 L671.6,210.1 L672.3,210.1 L673.0,210.1 L673.7,210.1 L674.4,210.1 L675.1,210.1 L675.8,210.1 L676.5,210.1 L677.2,210.1 L677.9,210.1 L678.6,210.1 L679.3,210.1 L680.0,210.1 L680.7,210.1 L681.4,210.1 L682.1,210.1 L682.8,210.1 L683.5,210.1 L684.2,210.1 L684.9,210.1 L685.6,210.1 L686.3,210.1 L687.0,210.1 L687.7,210.1 L688.4,210.1 L689.1,210.1 L689.8,210.1 L690.5,210.1 L691.2,210.1 L691.9,210.1 L692.6,210.1 L693.3,210.1 L694.0,210.1 L694.7,210.1 L695.4,210.1 L696.1,210.1 L696.8,210.1 L697.5,210.1 L698.2,210.1 L698.9,210.1 L699.6,210.1 L700.3,210.1 L701.0,210.1 L701.7,210.1 L702.4,210.1 L703.1,210.1 L703.8,210.1 L704.5,210.1 L705.2,210.1 L705.9,210.1 L706.6,210.1 L707.3,210.1 L708.0,210.1 L708.7,210.1 L709.4,210.1 L710.1,210.1 L710.8,210.1 L711.5,210.1 L712.2,210.1 L712.9,210.1 L713.6,210.1 L714.3,210.1 L715.0,210.1 L715.7,210.1 L716.4,210.1 L717.1,210.1 L717.8,210.1 L718.5,210.1 L719.2,210.0 L719.9,210.0 L720.6,210.0 L721.3,210.0 L722.0,210.0 L722.7,209.9 L723.4,209.9 L724.1,209.8 L724.8,209.8 L725.5,209.7 L726.2,209.6 L726.9,209.6 L727.6,209.5 L728.3,209.3 L729.0,209.2 L729.7,209.1 L730.4,208.9 L731.1,208.8 L731.8,208.6 L732.5,208.4 L733.2,208.3 L733.9,208.1 L734.6,207.9 L735.3,207.7 L736.0,207.5 L736.7,207.4 L737.4,207.2 L738.1,207.1 L738.8,206.9 L739.5,206.8 L740.2,206.7 L740.9,206.7 L741.6,206.6 L742.3,206.6 L743.0,206.6 L743.7,206.7 L744.4,206.7 L745.1,206.8 L745.8,206.9 L746.5,207.1 L747.2,207.2 L747.9,207.4 L748.6,207.5 L749.3,207.7 L750.0,207.9 L750.7,208.1 L751.4,208.3 L752.1,208.4 L752.8,208.6 L753.5,208.8 L754.2,208.9 L754.9,209.1 L755.6,209.2 L756.3,209.3 L757.0,209.5 L757.7,209.6 L758.4,209.6 L759.1,209.7 L759.8,209.8 L760.5,209.8 L761.2,209.9 L761.9,209.9 L762.6,210.0 L763.3,210.0 L764.0,210.0 L764.7,210.0 L765.4,210.0 L766.1,210.1 L766.8,210.1 L767.5,210.1 L768.2,210.1 L768.9,210.1 L769.6,210.1 L770.3,210.1 L771.0,210.1 L771.7,210.1 L772.4,210.1 L773.1,210.1 L773.8,210.1 L774.5,210.1 L775.2,210.1 L775.9,210.1 L776.6,210.1 L777.3,210.1 L778.0,210.1 L778.7,210.1 L779.4,210.1 L780.1,210.1 L780.8,210.1 L781.5,210.1 L782.2,210.1 L782.9,210.1 L783.6,210.1 L784.3,210.1 L785.0,210.1 L785.7,210.1 L786.4,210.1 L787.1,210.1 L787.8,210.1 L788.5,210.1 L789.2,210.1 L789.9,210.1 L790.6,210.1 L791.3,210.1 L792.0,210.1 L792.7,210.1 L793.4,210.1 L794.1,210.1 L794.8,210.1 L795.5,210.1 L796.2,210.1 L796.9,210.1 L797.6,210.1 L798.3,210.1 L799.0,210.1 L799.7,210.1" fill="none" stroke="#2c2cc0" stroke-width="1.3"/>
<path d="M617.0,210.1 L617.7,210.1 L618.4,210.1 L619.1,210.1 L619.8,210.1 L620.5,210.1 L621.2,210.1 L621.9,210.1 L622.6,210.1 L623.3,210.1 L624.0,210.1 L624.7,210.1 L625.4,210.1 L626.1,210.1 L626.8,210.1 L627.5,210.1 L628.2,210.1 L628.9,210.1 L629.6,210.1 L630.3,210.1 L631.0,210.1 L631.7,210.1 L632.4,210.1 L633.1,210.1 L633.8,210.1 L634.5,210.1 L635.2,210.1 L635.9,210.1 L636.6,210.1 L637.3,210.1 L638.0,210.1 L638.7,210.1 L639.4,210.1 L640.1,210.1 L640.8,210.0 L641.5,210.0 L642.2,210.0 L642.9,210.0 L643.6,209.9 L644.3,209.9 L645.0,209.8 L645.7,209.7 L646.4,209.6 L647.1,209.5 L647.8,209.3 L648.5,209.1 L649.2,208.8 L649.9,208.4 L650.6,208.0 L651.3,207.5 L652.0,206.9 L652.7,206.2 L653.4,205.3 L654.1,204.3 L654.8,203.1 L655.5,201.7 L656.2,200.1 L656.9,198.2 L657.6,196.1 L658.3,193.7 L659.0,191.0 L659.7,188.0 L660.4,184.7 L661.1,181.1 L661.8,177.1 L662.5,172.9 L663.2,168.3 L663.9,163.5 L664.6,158.4 L665.3,153.1 L666.0,147.7 L666.7,142.2 L667.4,136.6 L668.1,131.0 L668.8,125.5 L669.5,120.2 L670.2,115.1 L670.9,110.4 L671.6,106.0 L672.3,102.1 L673.0,98.7 L673.7,96.0 L674.4,93.8 L675.1,92.3 L675.8,91.5 L676.5,91.5 L677.2,92.1 L677.9,93.4 L678.6,95.4 L679.3,98.0 L680.0,101.2 L680.7,104.9 L681.4,109.0 L682.1,113.5 L682.8,118.3 L683.5,123.3 L684.2,128.5 L684.9,133.7 L685.6,138.8 L686.3,143.9 L687.0,148.9 L687.7,153.6 L688.4,158.1 L689.1,162.3 L689.8,166.2 L690.5,169.9 L691.2,173.2 L691.9,176.1 L692.6,178.8 L693.3,181.2 L694.0,183.4 L694.7,185.3 L695.4,187.1 L696.1,188.6 L696.8,190.1 L697.5,191.4 L698.2,192.6 L698.9,193.8 L699.6,194.9 L700.3,196.0 L701.0,197.1 L701.7,198.1 L702.4,199.1 L703.1,200.1 L703.8,201.1 L704.5,202.0 L705.2,202.9 L705.9,203.7 L706.6,204.5 L707.3,205.2 L708.0,205.9 L708.7,206.5 L709.4,207.1 L710.1,207.5 L710.8,208.0 L711.5,208.3 L712.2,208.7 L712.9,208.9 L713.6,209.2 L714.3,209.4 L715.0,209.5 L715.7,209.6 L716.4,209.7 L717.1,209.8 L717.8,209.9 L718.5,209.9 L719.2,209.9 L719.9,210.0 L720.6,210.0 L721.3,209.9 L722.0,209.9 L722.7,209.9 L723.4,209.9 L724.1,209.8 L724.8,209.8 L725.5,209.7 L726.2,209.6 L726.9,209.5 L727.6,209.5 L728.3,209.3 L729.0,209.2 L729.7,209.1 L730.4,208.9 L731.1,208.8 L731.8,208.6 L732.5,208.4 L733.2,208.3 L733.9,208.1 L734.6,207.9 L735.3,207.7 L736.0,207.5 L736.7,207.4 L737.4,207.2 L738.1,207.1 L738.8,206.9 L739.5,206.8 L740.2,206.7 L740.9,206.7 L741.6,206.6 L742.3,206.6 L743.0,206.6 L743.7,206.7 L744.4,206.7 L745.1,206.8 L745.8,206.9 L746.5,207.1 L747.2,207.2 L747.9,207.4 L748.6,207.5 L749.3,207.7 L750.0,207.9 L750.7,208.1 L751.4,208.3 L752.1,208.4 L752.8,208.6 L753.5,208.8 L754.2,208.9 L754.9,209.1 L755.6,209.2 L756.3,209.3 L757.0,209.5 L757.7,209.6 L758.4,209.6 L759.1,209.7 L759.8,209.8 L760.5,209.8 L761.2,209.9 L761.9,209.9 L762.6,210.0 L763.3,210.0 L764.0,210.0 L764.7,210.0 L765.4,210.0 L766.1,210.1 L766.8,210.1 L767.5,210.1 L768.2,210.1 L768.9,210.1 L769.6,210.1 L770.3,210.1 L771.0,210.1 L771.7,210.1 L772.4,210.1 L773.1,210.1 L773.8,210.1 L774.5,210.1 L775.2,210.1 L775.9,210.1 L776.6,210.1 L777.3,210.1 L778.0,210.1 L778.7,210.1 L779.4,210.1 L780.1,210.1 L780.8,210.1 L781.5,210.1 L782.2,210.1 L782.9,210.1 L783.6,210.1 L784.3,210.1 L785.0,210.1 L785.7,210.1 L786.4,210.1 L787.1,210.1 L787.8,210.1 L788.5,210.1 L789.2,210.1 L789.9,210.1 L790.6,210.1 L791.3,210.1 L792.0,210.1 L792.7,210.1 L793.4,210.1 L794.1,210.1 L794.8,210.1 L795.5,210.1 L796.2,210.1 L796.9,210.1 L797.6,210.1 L798.3,210.1 L799.0,210.1 L799.7,210.1" fill="none" stroke="#44dcdc" stroke-width="1.8"/>
<circle cx="704.4" cy="80.2" r="2.6" fill="none" stroke="#333" stroke-width="0.9"/>
<text x="715.6" y="83.3" font-family="Liberation Sans" font-size="8.6" fill="#1a1a1a" text-anchor="start" stroke="#1a1a1a" stroke-width="0.15"><tspan dy="-0.00">Subtracted from "Counts"</tspan></text>
<path d="M694,90.2 H714.2" stroke="#d84040" stroke-width="1.4"/>
<text x="715.6" y="93.3" font-family="Liberation Sans" font-size="8.6" fill="#1a1a1a" text-anchor="start" stroke="#1a1a1a" stroke-width="0.15"><tspan dy="-0.00">C-C</tspan></text>
<path d="M694,100.9 H714.2" stroke="#40d040" stroke-width="1.4"/>
<text x="715.6" y="104.0" font-family="Liberation Sans" font-size="8.6" fill="#1a1a1a" text-anchor="start" stroke="#1a1a1a" stroke-width="0.15"><tspan dy="-0.00">C-OH</tspan></text>
<path d="M694,111.2 H714.2" stroke="#2c2cc0" stroke-width="1.4"/>
<text x="715.6" y="114.3" font-family="Liberation Sans" font-size="8.6" fill="#1a1a1a" text-anchor="start" stroke="#1a1a1a" stroke-width="0.15"><tspan dy="-0.00">C=O</tspan></text>
<path d="M694,121.6 H714.2" stroke="#44dcdc" stroke-width="1.4"/>
<text x="715.6" y="124.7" font-family="Liberation Sans" font-size="8.6" fill="#1a1a1a" text-anchor="start" stroke="#1a1a1a" stroke-width="0.15"><tspan dy="-0.00">Cumulative Fit Peak</tspan></text>
<path d="M158.7,277.9 L158.7,434.3 L350.7,434.3" fill="none" stroke="#6a6a6a" stroke-width="1.2"/>
<path d="M160.4,434.3 v2.0 M179.7,434.3 v3.2 M198.9,434.3 v2.0 M218.2,434.3 v3.2 M237.4,434.3 v2.0 M256.7,434.3 v3.2 M275.9,434.3 v2.0 M295.2,434.3 v3.2 M314.4,434.3 v2.0 M333.7,434.3 v3.2" stroke="#6a6a6a" stroke-width="1"/>
<text x="179.7" y="450.2" font-family="Liberation Serif" font-size="12.9" fill="#111" stroke="#111" stroke-width="0.2" text-anchor="middle">707</text>
<text x="218.2" y="450.2" font-family="Liberation Serif" font-size="12.9" fill="#111" stroke="#111" stroke-width="0.2" text-anchor="middle">714</text>
<text x="256.7" y="450.2" font-family="Liberation Serif" font-size="12.9" fill="#111" stroke="#111" stroke-width="0.2" text-anchor="middle">721</text>
<text x="295.2" y="450.2" font-family="Liberation Serif" font-size="12.9" fill="#111" stroke="#111" stroke-width="0.2" text-anchor="middle">728</text>
<text x="333.7" y="450.2" font-family="Liberation Serif" font-size="12.9" fill="#111" stroke="#111" stroke-width="0.2" text-anchor="middle">735</text>
<text x="254.15" y="462.7" font-family="Liberation Serif" font-size="13.0" fill="#111" stroke="#111" stroke-width="0.2" text-anchor="middle">Binding energy (eV)</text>
<text transform="translate(147.3,348.2) rotate(-90)" x="0" y="0" font-family="Liberation Serif" font-size="12.9" fill="#111" stroke="#111" stroke-width="0.2" text-anchor="middle">Intensity (a.u.)</text>
<text x="160" y="290" font-family="Liberation Serif" font-size="9" fill="#333" stroke="#333" stroke-width="0.35">Fe 2p</text>
<use href="#c" x="160.6" y="415.4"/>
<use href="#c" x="161.1" y="414.5"/>
<use href="#c" x="161.7" y="416.9"/>
<use href="#c" x="160.6" y="418.0"/>
<use href="#c" x="161.5" y="415.4"/>
<use href="#c" x="162.8" y="414.0"/>
<use href="#c" x="164.1" y="415.7"/>
<use href="#c" x="167.1" y="416.2"/>
<use href="#c" x="162.7" y="416.7"/>
<use href="#c" x="164.6" y="415.6"/>
<use href="#c" x="167.7" y="414.4"/>
<use href="#c" x="164.1" y="414.9"/>
<use href="#c" x="166.8" y="415.8"/>
<use href="#c" x="166.6" y="413.3"/>
<use href="#c" x="168.4" y="414.2"/>
<use href="#c" x="169.1" y="414.5"/>
<use href="#c" x="168.6" y="418.3"/>
<use href="#c" x="169.9" y="413.8"/>
<use href="#c" x="169.9" y="417.0"/>
<use href="#c" x="169.7" y="417.6"/>
<use href="#c" x="171.9" y="413.3"/>
<use href="#c" x="171.8" y="413.6"/>
<use href="#c" x="174.1" y="415.8"/>
<use href="#c" x="173.4" y="415.1"/>
<use href="#c" x="174.9" y="417.1"/>
<use href="#c" x="176.6" y="414.4"/>
<use href="#c" x="175.8" y="413.1"/>
<use href="#c" x="176.2" y="415.7"/>
<use href="#c" x="177.3" y="413.4"/>
<use href="#c" x="176.6" y="413.3"/>
<use href="#c" x="179.7" y="412.3"/>
<use href="#c" x="180.1" y="412.9"/>
<use href="#c" x="178.9" y="414.2"/>
<use href="#c" x="180.2" y="414.4"/>
<use href="#c" x="178.6" y="413.2"/>
<use href="#c" x="182.2" y="412.7"/>
<use href="#c" x="182.9" y="413.0"/>
<use href="#c" x="182.7" y="414.2"/>
<use href="#c" x="180.8" y="414.4"/>
<use href="#c" x="180.1" y="409.9"/>
<use href="#c" x="184.1" y="410.9"/>
<use href="#c" x="184.1" y="411.4"/>
<use href="#c" x="186.9" y="403.9"/>
<use href="#c" x="184.2" y="403.7"/>
<use href="#c" x="187.2" y="404.0"/>
<use href="#c" x="187.2" y="401.5"/>
<use href="#c" x="189.8" y="396.9"/>
<use href="#c" x="188.4" y="397.3"/>
<use href="#c" x="189.0" y="395.3"/>
<use href="#c" x="188.2" y="391.0"/>
<use href="#c" x="190.6" y="386.4"/>
<use href="#c" x="190.4" y="383.7"/>
<use href="#c" x="191.6" y="377.0"/>
<use href="#c" x="192.1" y="372.2"/>
<use href="#c" x="191.7" y="364.8"/>
<use href="#c" x="193.4" y="360.7"/>
<use href="#c" x="198.1" y="352.2"/>
<use href="#c" x="195.3" y="347.0"/>
<use href="#c" x="193.5" y="339.1"/>
<use href="#c" x="195.3" y="334.4"/>
<use href="#c" x="197.3" y="326.6"/>
<use href="#c" x="196.9" y="322.8"/>
<use href="#c" x="199.9" y="316.5"/>
<use href="#c" x="196.5" y="313.6"/>
<use href="#c" x="198.6" y="311.1"/>
<use href="#c" x="199.9" y="308.1"/>
<use href="#c" x="202.2" y="307.6"/>
<use href="#c" x="200.5" y="307.8"/>
<use href="#c" x="200.1" y="310.5"/>
<use href="#c" x="201.3" y="312.2"/>
<use href="#c" x="200.9" y="315.1"/>
<use href="#c" x="200.5" y="316.9"/>
<use href="#c" x="203.2" y="318.9"/>
<use href="#c" x="206.4" y="324.1"/>
<use href="#c" x="202.7" y="330.2"/>
<use href="#c" x="206.6" y="329.5"/>
<use href="#c" x="203.8" y="335.1"/>
<use href="#c" x="204.7" y="338.6"/>
<use href="#c" x="205.2" y="339.6"/>
<use href="#c" x="210.3" y="343.5"/>
<use href="#c" x="207.9" y="347.3"/>
<use href="#c" x="208.0" y="353.5"/>
<use href="#c" x="208.9" y="351.2"/>
<use href="#c" x="209.4" y="354.3"/>
<use href="#c" x="210.0" y="358.1"/>
<use href="#c" x="211.3" y="358.6"/>
<use href="#c" x="210.3" y="358.0"/>
<use href="#c" x="209.2" y="361.3"/>
<use href="#c" x="212.9" y="363.3"/>
<use href="#c" x="213.3" y="365.4"/>
<use href="#c" x="213.5" y="367.6"/>
<use href="#c" x="212.5" y="370.1"/>
<use href="#c" x="214.1" y="372.5"/>
<use href="#c" x="215.2" y="373.8"/>
<use href="#c" x="215.4" y="374.3"/>
<use href="#c" x="215.6" y="379.4"/>
<use href="#c" x="217.9" y="377.1"/>
<use href="#c" x="218.3" y="381.6"/>
<use href="#c" x="218.0" y="381.6"/>
<use href="#c" x="218.1" y="386.8"/>
<use href="#c" x="220.9" y="388.3"/>
<use href="#c" x="219.0" y="389.4"/>
<use href="#c" x="221.4" y="394.3"/>
<use href="#c" x="221.3" y="393.2"/>
<use href="#c" x="222.1" y="393.0"/>
<use href="#c" x="221.9" y="396.6"/>
<use href="#c" x="225.1" y="398.1"/>
<use href="#c" x="224.1" y="400.1"/>
<use href="#c" x="226.0" y="402.6"/>
<use href="#c" x="224.4" y="403.7"/>
<use href="#c" x="227.0" y="400.3"/>
<use href="#c" x="226.1" y="404.7"/>
<use href="#c" x="226.6" y="406.5"/>
<use href="#c" x="230.1" y="405.6"/>
<use href="#c" x="229.5" y="404.9"/>
<use href="#c" x="231.3" y="410.1"/>
<use href="#c" x="230.3" y="409.6"/>
<use href="#c" x="230.2" y="408.3"/>
<use href="#c" x="230.1" y="406.9"/>
<use href="#c" x="231.3" y="410.9"/>
<use href="#c" x="233.5" y="410.6"/>
<use href="#c" x="232.8" y="409.2"/>
<use href="#c" x="233.3" y="411.5"/>
<use href="#c" x="236.3" y="412.5"/>
<use href="#c" x="236.1" y="410.8"/>
<use href="#c" x="234.8" y="415.2"/>
<use href="#c" x="234.0" y="411.9"/>
<use href="#c" x="238.8" y="411.5"/>
<use href="#c" x="237.4" y="409.3"/>
<use href="#c" x="239.9" y="411.7"/>
<use href="#c" x="236.3" y="413.4"/>
<use href="#c" x="238.9" y="411.9"/>
<use href="#c" x="238.0" y="412.8"/>
<use href="#c" x="239.2" y="412.0"/>
<use href="#c" x="240.8" y="413.2"/>
<use href="#c" x="240.2" y="412.7"/>
<use href="#c" x="240.9" y="413.6"/>
<use href="#c" x="241.6" y="410.8"/>
<use href="#c" x="242.4" y="411.6"/>
<use href="#c" x="245.2" y="408.9"/>
<use href="#c" x="245.7" y="413.3"/>
<use href="#c" x="245.6" y="411.6"/>
<use href="#c" x="245.2" y="412.7"/>
<use href="#c" x="245.0" y="415.6"/>
<use href="#c" x="244.2" y="413.7"/>
<use href="#c" x="246.8" y="413.9"/>
<use href="#c" x="246.8" y="411.4"/>
<use href="#c" x="246.8" y="409.8"/>
<use href="#c" x="245.4" y="413.9"/>
<use href="#c" x="250.7" y="415.6"/>
<use href="#c" x="248.1" y="412.7"/>
<use href="#c" x="248.9" y="411.8"/>
<use href="#c" x="254.0" y="413.1"/>
<use href="#c" x="252.8" y="412.6"/>
<use href="#c" x="251.2" y="416.7"/>
<use href="#c" x="253.9" y="414.2"/>
<use href="#c" x="255.2" y="413.6"/>
<use href="#c" x="254.1" y="418.4"/>
<use href="#c" x="255.6" y="413.4"/>
<use href="#c" x="254.4" y="415.3"/>
<use href="#c" x="256.1" y="414.5"/>
<use href="#c" x="258.1" y="415.5"/>
<use href="#c" x="255.5" y="413.8"/>
<use href="#c" x="260.2" y="411.7"/>
<use href="#c" x="257.9" y="413.6"/>
<use href="#c" x="260.4" y="418.2"/>
<use href="#c" x="259.4" y="417.6"/>
<use href="#c" x="259.5" y="412.2"/>
<use href="#c" x="261.3" y="414.1"/>
<use href="#c" x="264.3" y="413.0"/>
<use href="#c" x="260.6" y="413.9"/>
<use href="#c" x="263.4" y="411.4"/>
<use href="#c" x="266.2" y="408.2"/>
<use href="#c" x="265.8" y="409.6"/>
<use href="#c" x="262.9" y="405.5"/>
<use href="#c" x="264.7" y="405.7"/>
<use href="#c" x="265.5" y="401.1"/>
<use href="#c" x="266.4" y="399.9"/>
<use href="#c" x="267.4" y="396.5"/>
<use href="#c" x="268.9" y="399.0"/>
<use href="#c" x="270.7" y="390.4"/>
<use href="#c" x="266.6" y="387.8"/>
<use href="#c" x="266.5" y="383.8"/>
<use href="#c" x="268.4" y="386.0"/>
<use href="#c" x="269.7" y="380.0"/>
<use href="#c" x="269.4" y="381.0"/>
<use href="#c" x="271.6" y="379.7"/>
<use href="#c" x="271.0" y="381.7"/>
<use href="#c" x="273.1" y="381.9"/>
<use href="#c" x="272.7" y="382.5"/>
<use href="#c" x="275.2" y="380.5"/>
<use href="#c" x="273.7" y="384.5"/>
<use href="#c" x="276.1" y="383.2"/>
<use href="#c" x="276.3" y="389.1"/>
<use href="#c" x="276.8" y="390.9"/>
<use href="#c" x="277.6" y="388.0"/>
<use href="#c" x="275.6" y="389.9"/>
<use href="#c" x="279.8" y="388.9"/>
<use href="#c" x="279.1" y="386.4"/>
<use href="#c" x="281.6" y="390.7"/>
<use href="#c" x="280.0" y="392.4"/>
<use href="#c" x="279.1" y="393.6"/>
<use href="#c" x="282.9" y="388.1"/>
<use href="#c" x="280.3" y="392.0"/>
<use href="#c" x="283.5" y="393.2"/>
<use href="#c" x="282.4" y="393.1"/>
<use href="#c" x="281.4" y="390.4"/>
<use href="#c" x="284.0" y="392.9"/>
<use href="#c" x="284.1" y="393.2"/>
<use href="#c" x="283.9" y="396.5"/>
<use href="#c" x="288.6" y="394.5"/>
<use href="#c" x="285.8" y="395.7"/>
<use href="#c" x="284.8" y="399.6"/>
<use href="#c" x="286.1" y="401.6"/>
<use href="#c" x="286.7" y="398.4"/>
<use href="#c" x="288.0" y="399.3"/>
<use href="#c" x="289.5" y="403.5"/>
<use href="#c" x="291.2" y="405.3"/>
<use href="#c" x="290.8" y="401.9"/>
<use href="#c" x="290.8" y="403.9"/>
<use href="#c" x="292.5" y="406.1"/>
<use href="#c" x="289.8" y="407.5"/>
<use href="#c" x="292.6" y="407.4"/>
<use href="#c" x="293.5" y="411.6"/>
<use href="#c" x="294.4" y="409.1"/>
<use href="#c" x="293.5" y="411.2"/>
<use href="#c" x="295.4" y="410.3"/>
<use href="#c" x="295.9" y="411.1"/>
<use href="#c" x="296.9" y="410.7"/>
<use href="#c" x="299.5" y="409.8"/>
<use href="#c" x="295.6" y="412.5"/>
<use href="#c" x="299.8" y="412.4"/>
<use href="#c" x="299.0" y="412.9"/>
<use href="#c" x="301.6" y="409.6"/>
<use href="#c" x="297.8" y="413.9"/>
<use href="#c" x="302.9" y="413.3"/>
<use href="#c" x="299.6" y="414.9"/>
<use href="#c" x="302.5" y="413.5"/>
<use href="#c" x="303.1" y="418.1"/>
<use href="#c" x="303.0" y="415.9"/>
<use href="#c" x="302.7" y="414.8"/>
<use href="#c" x="302.8" y="412.6"/>
<use href="#c" x="306.8" y="413.9"/>
<use href="#c" x="307.4" y="414.9"/>
<use href="#c" x="306.6" y="416.3"/>
<use href="#c" x="309.8" y="414.2"/>
<use href="#c" x="309.2" y="417.0"/>
<use href="#c" x="310.2" y="419.3"/>
<use href="#c" x="309.3" y="415.4"/>
<use href="#c" x="312.3" y="415.9"/>
<use href="#c" x="307.6" y="413.2"/>
<use href="#c" x="310.6" y="414.0"/>
<use href="#c" x="312.4" y="413.7"/>
<use href="#c" x="311.8" y="415.7"/>
<use href="#c" x="314.9" y="414.7"/>
<use href="#c" x="315.3" y="417.8"/>
<use href="#c" x="315.2" y="413.7"/>
<use href="#c" x="311.8" y="412.2"/>
<use href="#c" x="316.0" y="416.9"/>
<use href="#c" x="317.3" y="415.0"/>
<use href="#c" x="316.4" y="416.5"/>
<use href="#c" x="317.4" y="413.9"/>
<use href="#c" x="317.5" y="414.7"/>
<use href="#c" x="321.1" y="410.8"/>
<use href="#c" x="317.6" y="411.7"/>
<use href="#c" x="319.0" y="413.8"/>
<use href="#c" x="322.8" y="413.6"/>
<use href="#c" x="319.6" y="415.0"/>
<use href="#c" x="320.7" y="413.0"/>
<use href="#c" x="320.2" y="414.5"/>
<use href="#c" x="319.8" y="410.7"/>
<use href="#c" x="323.1" y="413.2"/>
<use href="#c" x="324.3" y="413.6"/>
<use href="#c" x="323.3" y="410.3"/>
<use href="#c" x="326.0" y="410.6"/>
<use href="#c" x="323.1" y="414.1"/>
<use href="#c" x="325.8" y="413.6"/>
<use href="#c" x="327.1" y="413.1"/>
<use href="#c" x="326.4" y="412.0"/>
<use href="#c" x="326.6" y="412.0"/>
<use href="#c" x="329.5" y="411.6"/>
<use href="#c" x="328.3" y="414.5"/>
<use href="#c" x="332.2" y="410.9"/>
<use href="#c" x="330.1" y="414.0"/>
<use href="#c" x="332.7" y="415.2"/>
<use href="#c" x="328.0" y="413.7"/>
<use href="#c" x="331.6" y="413.9"/>
<use href="#c" x="334.1" y="413.6"/>
<use href="#c" x="333.2" y="413.9"/>
<use href="#c" x="334.4" y="413.4"/>
<use href="#c" x="335.1" y="413.7"/>
<use href="#c" x="334.8" y="415.2"/>
<use href="#c" x="333.1" y="415.6"/>
<use href="#c" x="336.1" y="414.3"/>
<use href="#c" x="338.0" y="414.5"/>
<use href="#c" x="336.1" y="416.7"/>
<use href="#c" x="337.3" y="417.2"/>
<use href="#c" x="339.8" y="416.2"/>
<use href="#c" x="337.8" y="413.4"/>
<use href="#c" x="339.1" y="415.2"/>
<use href="#c" x="340.9" y="412.4"/>
<use href="#c" x="340.9" y="415.6"/>
<use href="#c" x="342.2" y="415.8"/>
<use href="#c" x="342.2" y="413.9"/>
<use href="#c" x="341.8" y="414.6"/>
<use href="#c" x="344.6" y="413.9"/>
<use href="#c" x="342.7" y="411.2"/>
<use href="#c" x="343.8" y="416.5"/>
<use href="#c" x="346.2" y="414.2"/>
<use href="#c" x="345.1" y="413.7"/>
<use href="#c" x="345.3" y="416.0"/>
<use href="#c" x="346.7" y="414.5"/>
<use href="#c" x="346.0" y="417.0"/>
<use href="#c" x="347.7" y="416.2"/>
<use href="#c" x="346.7" y="414.7"/>
<path d="M160.0,415.3 L160.7,415.3 L161.4,415.3 L162.1,415.3 L162.8,415.3 L163.5,415.3 L164.2,415.3 L164.9,415.3 L165.6,415.3 L166.3,415.3 L167.0,415.3 L167.7,415.3 L168.4,415.3 L169.1,415.3 L169.8,415.3 L170.5,415.3 L171.2,415.3 L171.9,415.3 L172.6,415.3 L173.3,415.3 L174.0,415.3 L174.7,415.3 L175.4,415.3 L176.1,415.3 L176.8,415.3 L177.5,415.3 L178.2,415.3 L178.9,415.3 L179.6,415.3 L180.3,415.2 L181.0,415.2 L181.7,415.2 L182.4,415.1 L183.1,414.9 L183.8,414.7 L184.5,414.4 L185.2,413.9 L185.9,413.2 L186.6,412.3 L187.3,411.1 L188.0,409.4 L188.7,407.3 L189.4,404.7 L190.1,401.5 L190.8,397.7 L191.5,393.4 L192.2,388.5 L192.9,383.2 L193.6,377.7 L194.3,372.1 L195.0,366.7 L195.7,361.8 L196.4,357.6 L197.1,354.3 L197.8,352.2 L198.5,351.3 L199.2,351.8 L199.9,353.6 L200.6,356.5 L201.3,360.5 L202.0,365.2 L202.7,370.5 L203.4,376.1 L204.1,381.7 L204.8,387.0 L205.5,392.0 L206.2,396.6 L206.9,400.5 L207.6,403.9 L208.3,406.6 L209.0,408.9 L209.7,410.6 L210.4,412.0 L211.1,413.0 L211.8,413.7 L212.5,414.2 L213.2,414.6 L213.9,414.9 L214.6,415.0 L215.3,415.1 L216.0,415.2 L216.7,415.2 L217.4,415.3 L218.1,415.3 L218.8,415.3 L219.5,415.3 L220.2,415.3 L220.9,415.3 L221.6,415.3 L222.3,415.3 L223.0,415.3 L223.7,415.3 L224.4,415.3 L225.1,415.3 L225.8,415.3 L226.5,415.3 L227.2,415.3 L227.9,415.3 L228.6,415.3 L229.3,415.3 L230.0,415.3 L230.7,415.3 L231.4,415.3 L232.1,415.3 L232.8,415.3 L233.5,415.3 L234.2,415.3 L234.9,415.3 L235.6,415.3 L236.3,415.3 L237.0,415.3 L237.7,415.3 L238.4,415.3 L239.1,415.3 L239.8,415.3 L240.5,415.3 L241.2,415.3 L241.9,415.3 L242.6,415.3 L243.3,415.3 L244.0,415.3 L244.7,415.3 L245.4,415.3 L246.1,415.3 L246.8,415.3 L247.5,415.3 L248.2,415.3 L248.9,415.3 L249.6,415.3 L250.3,415.3 L251.0,415.3 L251.7,415.3 L252.4,415.3 L253.1,415.3 L253.8,415.3 L254.5,415.3 L255.2,415.3 L255.9,415.3 L256.6,415.3 L257.3,415.3 L258.0,415.3 L258.7,415.3 L259.4,415.3 L260.1,415.3 L260.8,415.3 L261.5,415.3 L262.2,415.3 L262.9,415.3 L263.6,415.3 L264.3,415.3 L265.0,415.3 L265.7,415.3 L266.4,415.3 L267.1,415.3 L267.8,415.3 L268.5,415.3 L269.2,415.3 L269.9,415.3 L270.6,415.3 L271.3,415.3 L272.0,415.3 L272.7,415.3 L273.4,415.3 L274.1,415.3 L274.8,415.3 L275.5,415.3 L276.2,415.3 L276.9,415.3 L277.6,415.3 L278.3,415.3 L279.0,415.3 L279.7,415.3 L280.4,415.3 L281.1,415.3 L281.8,415.3 L282.5,415.3 L283.2,415.3 L283.9,415.3 L284.6,415.3 L285.3,415.3 L286.0,415.3 L286.7,415.3 L287.4,415.3 L288.1,415.3 L288.8,415.3 L289.5,415.3 L290.2,415.3 L290.9,415.3 L291.6,415.3 L292.3,415.3 L293.0,415.3 L293.7,415.3 L294.4,415.3 L295.1,415.3 L295.8,415.3 L296.5,415.3 L297.2,415.3 L297.9,415.3 L298.6,415.3 L299.3,415.3 L300.0,415.3 L300.7,415.3 L301.4,415.3 L302.1,415.3 L302.8,415.3 L303.5,415.3 L304.2,415.3 L304.9,415.3 L305.6,415.3 L306.3,415.3 L307.0,415.3 L307.7,415.3 L308.4,415.3 L309.1,415.3 L309.8,415.3 L310.5,415.3 L311.2,415.3 L311.9,415.3 L312.6,415.3 L313.3,415.3 L314.0,415.3 L314.7,415.3 L315.4,415.3 L316.1,415.3 L316.8,415.3 L317.5,415.3 L318.2,415.3 L318.9,415.3 L319.6,415.3 L320.3,415.3 L321.0,415.3 L321.7,415.3 L322.4,415.3 L323.1,415.3 L323.8,415.3 L324.5,415.3 L325.2,415.3 L325.9,415.3 L326.6,415.3 L327.3,415.3 L328.0,415.3 L328.7,415.3 L329.4,415.3 L330.1,415.3 L330.8,415.3 L331.5,415.3 L332.2,415.3 L332.9,415.3 L333.6,415.3 L334.3,415.3 L335.0,415.3 L335.7,415.3 L336.4,415.3 L337.1,415.3 L337.8,415.3 L338.5,415.3 L339.2,415.3 L339.9,415.3 L340.6,415.3 L341.3,415.3 L342.0,415.3 L342.7,415.3 L343.4,415.3 L344.1,415.3 L344.8,415.3 L345.5,415.3 L346.2,415.3 L346.9,415.3 L347.6,415.3 L348.3,415.3 L349.0,415.3" fill="none" stroke="#d84040" stroke-width="1.3"/>
<path d="M160.0,415.3 L160.7,415.3 L161.4,415.3 L162.1,415.3 L162.8,415.3 L163.5,415.3 L164.2,415.3 L164.9,415.3 L165.6,415.3 L166.3,415.3 L167.0,415.3 L167.7,415.3 L168.4,415.2 L169.1,415.2 L169.8,415.2 L170.5,415.2 L171.2,415.1 L171.9,415.1 L172.6,415.0 L173.3,415.0 L174.0,414.9 L174.7,414.8 L175.4,414.7 L176.1,414.6 L176.8,414.4 L177.5,414.2 L178.2,414.0 L178.9,413.7 L179.6,413.4 L180.3,413.1 L181.0,412.7 L181.7,412.2 L182.4,411.7 L183.1,411.1 L183.8,410.4 L184.5,409.6 L185.2,408.7 L185.9,407.8 L186.6,406.7 L187.3,405.5 L188.0,404.2 L188.7,402.8 L189.4,401.3 L190.1,399.6 L190.8,397.9 L191.5,396.0 L192.2,394.0 L192.9,392.0 L193.6,389.8 L194.3,387.6 L195.0,385.3 L195.7,382.9 L196.4,380.5 L197.1,378.2 L197.8,375.8 L198.5,373.4 L199.2,371.2 L199.9,369.0 L200.6,366.9 L201.3,364.9 L202.0,363.1 L202.7,361.5 L203.4,360.0 L204.1,358.8 L204.8,357.8 L205.5,357.1 L206.2,356.6 L206.9,356.3 L207.6,356.3 L208.3,356.6 L209.0,357.2 L209.7,357.9 L210.4,359.0 L211.1,360.2 L211.8,361.7 L212.5,363.4 L213.2,365.2 L213.9,367.2 L214.6,369.3 L215.3,371.5 L216.0,373.8 L216.7,376.1 L217.4,378.5 L218.1,380.9 L218.8,383.3 L219.5,385.6 L220.2,387.9 L220.9,390.1 L221.6,392.3 L222.3,394.3 L223.0,396.3 L223.7,398.1 L224.4,399.9 L225.1,401.5 L225.8,403.0 L226.5,404.4 L227.2,405.7 L227.9,406.8 L228.6,407.9 L229.3,408.9 L230.0,409.7 L230.7,410.5 L231.4,411.2 L232.1,411.8 L232.8,412.3 L233.5,412.7 L234.2,413.1 L234.9,413.5 L235.6,413.8 L236.3,414.0 L237.0,414.2 L237.7,414.4 L238.4,414.6 L239.1,414.7 L239.8,414.8 L240.5,414.9 L241.2,415.0 L241.9,415.0 L242.6,415.1 L243.3,415.1 L244.0,415.2 L244.7,415.2 L245.4,415.2 L246.1,415.2 L246.8,415.3 L247.5,415.3 L248.2,415.3 L248.9,415.3 L249.6,415.3 L250.3,415.3 L251.0,415.3 L251.7,415.3 L252.4,415.3 L253.1,415.3 L253.8,415.3 L254.5,415.3 L255.2,415.3 L255.9,415.3 L256.6,415.3 L257.3,415.3 L258.0,415.3 L258.7,415.3 L259.4,415.3 L260.1,415.3 L260.8,415.3 L261.5,415.3 L262.2,415.3 L262.9,415.3 L263.6,415.3 L264.3,415.3 L265.0,415.3 L265.7,415.3 L266.4,415.3 L267.1,415.3 L267.8,415.3 L268.5,415.3 L269.2,415.3 L269.9,415.3 L270.6,415.3 L271.3,415.3 L272.0,415.3 L272.7,415.3 L273.4,415.3 L274.1,415.3 L274.8,415.3 L275.5,415.3 L276.2,415.3 L276.9,415.3 L277.6,415.3 L278.3,415.3 L279.0,415.3 L279.7,415.3 L280.4,415.3 L281.1,415.3 L281.8,415.3 L282.5,415.3 L283.2,415.3 L283.9,415.3 L284.6,415.3 L285.3,415.3 L286.0,415.3 L286.7,415.3 L287.4,415.3 L288.1,415.3 L288.8,415.3 L289.5,415.3 L290.2,415.3 L290.9,415.3 L291.6,415.3 L292.3,415.3 L293.0,415.3 L293.7,415.3 L294.4,415.3 L295.1,415.3 L295.8,415.3 L296.5,415.3 L297.2,415.3 L297.9,415.3 L298.6,415.3 L299.3,415.3 L300.0,415.3 L300.7,415.3 L301.4,415.3 L302.1,415.3 L302.8,415.3 L303.5,415.3 L304.2,415.3 L304.9,415.3 L305.6,415.3 L306.3,415.3 L307.0,415.3 L307.7,415.3 L308.4,415.3 L309.1,415.3 L309.8,415.3 L310.5,415.3 L311.2,415.3 L311.9,415.3 L312.6,415.3 L313.3,415.3 L314.0,415.3 L314.7,415.3 L315.4,415.3 L316.1,415.3 L316.8,415.3 L317.5,415.3 L318.2,415.3 L318.9,415.3 L319.6,415.3 L320.3,415.3 L321.0,415.3 L321.7,415.3 L322.4,415.3 L323.1,415.3 L323.8,415.3 L324.5,415.3 L325.2,415.3 L325.9,415.3 L326.6,415.3 L327.3,415.3 L328.0,415.3 L328.7,415.3 L329.4,415.3 L330.1,415.3 L330.8,415.3 L331.5,415.3 L332.2,415.3 L332.9,415.3 L333.6,415.3 L334.3,415.3 L335.0,415.3 L335.7,415.3 L336.4,415.3 L337.1,415.3 L337.8,415.3 L338.5,415.3 L339.2,415.3 L339.9,415.3 L340.6,415.3 L341.3,415.3 L342.0,415.3 L342.7,415.3 L343.4,415.3 L344.1,415.3 L344.8,415.3 L345.5,415.3 L346.2,415.3 L346.9,415.3 L347.6,415.3 L348.3,415.3 L349.0,415.3" fill="none" stroke="#40d040" stroke-width="1.3"/>
<path d="M160.0,415.3 L160.7,415.3 L161.4,415.3 L162.1,415.3 L162.8,415.3 L163.5,415.3 L164.2,415.3 L164.9,415.3 L165.6,415.3 L166.3,415.3 L167.0,415.3 L167.7,415.3 L168.4,415.3 L169.1,415.3 L169.8,415.3 L170.5,415.3 L171.2,415.3 L171.9,415.3 L172.6,415.3 L173.3,415.3 L174.0,415.3 L174.7,415.3 L175.4,415.3 L176.1,415.3 L176.8,415.3 L177.5,415.3 L178.2,415.3 L178.9,415.3 L179.6,415.3 L180.3,415.3 L181.0,415.3 L181.7,415.3 L182.4,415.3 L183.1,415.3 L183.8,415.3 L184.5,415.3 L185.2,415.3 L185.9,415.3 L186.6,415.3 L187.3,415.3 L188.0,415.3 L188.7,415.3 L189.4,415.3 L190.1,415.3 L190.8,415.3 L191.5,415.3 L192.2,415.3 L192.9,415.3 L193.6,415.3 L194.3,415.3 L195.0,415.3 L195.7,415.3 L196.4,415.3 L197.1,415.3 L197.8,415.3 L198.5,415.3 L199.2,415.3 L199.9,415.3 L200.6,415.3 L201.3,415.3 L202.0,415.3 L202.7,415.3 L203.4,415.3 L204.1,415.3 L204.8,415.3 L205.5,415.3 L206.2,415.3 L206.9,415.3 L207.6,415.3 L208.3,415.3 L209.0,415.3 L209.7,415.3 L210.4,415.3 L211.1,415.3 L211.8,415.3 L212.5,415.3 L213.2,415.3 L213.9,415.3 L214.6,415.3 L215.3,415.3 L216.0,415.3 L216.7,415.3 L217.4,415.3 L218.1,415.3 L218.8,415.3 L219.5,415.3 L220.2,415.3 L220.9,415.3 L221.6,415.3 L222.3,415.3 L223.0,415.3 L223.7,415.3 L224.4,415.3 L225.1,415.3 L225.8,415.3 L226.5,415.3 L227.2,415.3 L227.9,415.3 L228.6,415.3 L229.3,415.3 L230.0,415.3 L230.7,415.3 L231.4,415.3 L232.1,415.3 L232.8,415.3 L233.5,415.3 L234.2,415.3 L234.9,415.3 L235.6,415.3 L236.3,415.3 L237.0,415.3 L237.7,415.3 L238.4,415.3 L239.1,415.3 L239.8,415.3 L240.5,415.3 L241.2,415.3 L241.9,415.3 L242.6,415.3 L243.3,415.3 L244.0,415.3 L244.7,415.3 L245.4,415.3 L246.1,415.3 L246.8,415.3 L247.5,415.3 L248.2,415.3 L248.9,415.3 L249.6,415.3 L250.3,415.3 L251.0,415.3 L251.7,415.3 L252.4,415.3 L253.1,415.3 L253.8,415.3 L254.5,415.3 L255.2,415.3 L255.9,415.3 L256.6,415.3 L257.3,415.3 L258.0,415.2 L258.7,415.2 L259.4,415.1 L260.1,415.0 L260.8,414.8 L261.5,414.4 L262.2,413.9 L262.9,413.2 L263.6,412.2 L264.3,411.0 L265.0,409.4 L265.7,407.4 L266.4,405.3 L267.1,403.0 L267.8,400.7 L268.5,398.6 L269.2,396.8 L269.9,395.6 L270.6,395.0 L271.3,395.2 L272.0,396.0 L272.7,397.5 L273.4,399.4 L274.1,401.7 L274.8,404.0 L275.5,406.2 L276.2,408.3 L276.9,410.1 L277.6,411.5 L278.3,412.7 L279.0,413.6 L279.7,414.2 L280.4,414.6 L281.1,414.9 L281.8,415.1 L282.5,415.2 L283.2,415.2 L283.9,415.3 L284.6,415.3 L285.3,415.3 L286.0,415.3 L286.7,415.3 L287.4,415.3 L288.1,415.3 L288.8,415.3 L289.5,415.3 L290.2,415.3 L290.9,415.3 L291.6,415.3 L292.3,415.3 L293.0,415.3 L293.7,415.3 L294.4,415.3 L295.1,415.3 L295.8,415.3 L296.5,415.3 L297.2,415.3 L297.9,415.3 L298.6,415.3 L299.3,415.3 L300.0,415.3 L300.7,415.3 L301.4,415.3 L302.1,415.3 L302.8,415.3 L303.5,415.3 L304.2,415.3 L304.9,415.3 L305.6,415.3 L306.3,415.3 L307.0,415.3 L307.7,415.3 L308.4,415.3 L309.1,415.3 L309.8,415.3 L310.5,415.3 L311.2,415.3 L311.9,415.3 L312.6,415.3 L313.3,415.3 L314.0,415.3 L314.7,415.3 L315.4,415.3 L316.1,415.3 L316.8,415.3 L317.5,415.3 L318.2,415.3 L318.9,415.3 L319.6,415.3 L320.3,415.3 L321.0,415.3 L321.7,415.3 L322.4,415.3 L323.1,415.3 L323.8,415.3 L324.5,415.3 L325.2,415.3 L325.9,415.3 L326.6,415.3 L327.3,415.3 L328.0,415.3 L328.7,415.3 L329.4,415.3 L330.1,415.3 L330.8,415.3 L331.5,415.3 L332.2,415.3 L332.9,415.3 L333.6,415.3 L334.3,415.3 L335.0,415.3 L335.7,415.3 L336.4,415.3 L337.1,415.3 L337.8,415.3 L338.5,415.3 L339.2,415.3 L339.9,415.3 L340.6,415.3 L341.3,415.3 L342.0,415.3 L342.7,415.3 L343.4,415.3 L344.1,415.3 L344.8,415.3 L345.5,415.3 L346.2,415.3 L346.9,415.3 L347.6,415.3 L348.3,415.3 L349.0,415.3" fill="none" stroke="#2c2cc0" stroke-width="1.3"/>
<path d="M160.0,415.3 L160.7,415.3 L161.4,415.3 L162.1,415.3 L162.8,415.3 L163.5,415.3 L164.2,415.3 L164.9,415.3 L165.6,415.3 L166.3,415.3 L167.0,415.3 L167.7,415.3 L168.4,415.3 L169.1,415.3 L169.8,415.3 L170.5,415.3 L171.2,415.3 L171.9,415.3 L172.6,415.3 L173.3,415.3 L174.0,415.3 L174.7,415.3 L175.4,415.3 L176.1,415.3 L176.8,415.3 L177.5,415.3 L178.2,415.3 L178.9,415.3 L179.6,415.3 L180.3,415.3 L181.0,415.3 L181.7,415.3 L182.4,415.3 L183.1,415.3 L183.8,415.3 L184.5,415.3 L185.2,415.3 L185.9,415.3 L186.6,415.3 L187.3,415.3 L188.0,415.3 L188.7,415.3 L189.4,415.3 L190.1,415.3 L190.8,415.3 L191.5,415.3 L192.2,415.3 L192.9,415.3 L193.6,415.3 L194.3,415.3 L195.0,415.3 L195.7,415.3 L196.4,415.3 L197.1,415.3 L197.8,415.3 L198.5,415.3 L199.2,415.3 L199.9,415.3 L200.6,415.3 L201.3,415.3 L202.0,415.3 L202.7,415.3 L203.4,415.3 L204.1,415.3 L204.8,415.3 L205.5,415.3 L206.2,415.3 L206.9,415.3 L207.6,415.3 L208.3,415.3 L209.0,415.3 L209.7,415.3 L210.4,415.3 L211.1,415.3 L211.8,415.3 L212.5,415.3 L213.2,415.3 L213.9,415.3 L214.6,415.3 L215.3,415.3 L216.0,415.3 L216.7,415.3 L217.4,415.3 L218.1,415.3 L218.8,415.3 L219.5,415.3 L220.2,415.3 L220.9,415.3 L221.6,415.3 L222.3,415.3 L223.0,415.3 L223.7,415.3 L224.4,415.3 L225.1,415.3 L225.8,415.3 L226.5,415.3 L227.2,415.3 L227.9,415.3 L228.6,415.3 L229.3,415.3 L230.0,415.3 L230.7,415.3 L231.4,415.3 L232.1,415.3 L232.8,415.3 L233.5,415.3 L234.2,415.3 L234.9,415.3 L235.6,415.3 L236.3,415.3 L237.0,415.3 L237.7,415.3 L238.4,415.3 L239.1,415.3 L239.8,415.3 L240.5,415.3 L241.2,415.3 L241.9,415.3 L242.6,415.3 L243.3,415.3 L244.0,415.3 L244.7,415.3 L245.4,415.3 L246.1,415.3 L246.8,415.3 L247.5,415.3 L248.2,415.3 L248.9,415.3 L249.6,415.3 L250.3,415.2 L251.0,415.2 L251.7,415.2 L252.4,415.2 L253.1,415.1 L253.8,415.1 L254.5,415.0 L255.2,415.0 L255.9,414.9 L256.6,414.8 L257.3,414.6 L258.0,414.5 L258.7,414.3 L259.4,414.1 L260.1,413.8 L260.8,413.5 L261.5,413.1 L262.2,412.7 L262.9,412.2 L263.6,411.6 L264.3,411.0 L265.0,410.3 L265.7,409.6 L266.4,408.7 L267.1,407.8 L267.8,406.8 L268.5,405.8 L269.2,404.7 L269.9,403.5 L270.6,402.3 L271.3,401.1 L272.0,399.9 L272.7,398.6 L273.4,397.4 L274.1,396.3 L274.8,395.2 L275.5,394.2 L276.2,393.3 L276.9,392.5 L277.6,391.8 L278.3,391.3 L279.0,390.9 L279.7,390.7 L280.4,390.7 L281.1,390.8 L281.8,391.1 L282.5,391.6 L283.2,392.2 L283.9,392.9 L284.6,393.8 L285.3,394.8 L286.0,395.8 L286.7,396.9 L287.4,398.1 L288.1,399.3 L288.8,400.6 L289.5,401.8 L290.2,403.0 L290.9,404.2 L291.6,405.3 L292.3,406.4 L293.0,407.4 L293.7,408.3 L294.4,409.2 L295.1,410.0 L295.8,410.7 L296.5,411.4 L297.2,412.0 L297.9,412.5 L298.6,412.9 L299.3,413.3 L300.0,413.7 L300.7,414.0 L301.4,414.2 L302.1,414.4 L302.8,414.6 L303.5,414.7 L304.2,414.8 L304.9,414.9 L305.6,415.0 L306.3,415.1 L307.0,415.1 L307.7,415.2 L308.4,415.2 L309.1,415.2 L309.8,415.2 L310.5,415.3 L311.2,415.3 L311.9,415.3 L312.6,415.3 L313.3,415.3 L314.0,415.3 L314.7,415.3 L315.4,415.3 L316.1,415.3 L316.8,415.3 L317.5,415.3 L318.2,415.3 L318.9,415.3 L319.6,415.3 L320.3,415.3 L321.0,415.3 L321.7,415.3 L322.4,415.3 L323.1,415.3 L323.8,415.3 L324.5,415.3 L325.2,415.3 L325.9,415.3 L326.6,415.3 L327.3,415.3 L328.0,415.3 L328.7,415.3 L329.4,415.3 L330.1,415.3 L330.8,415.3 L331.5,415.3 L332.2,415.3 L332.9,415.3 L333.6,415.3 L334.3,415.3 L335.0,415.3 L335.7,415.3 L336.4,415.3 L337.1,415.3 L337.8,415.3 L338.5,415.3 L339.2,415.3 L339.9,415.3 L340.6,415.3 L341.3,415.3 L342.0,415.3 L342.7,415.3 L343.4,415.3 L344.1,415.3 L344.8,415.3 L345.5,415.3 L346.2,415.3 L346.9,415.3 L347.6,415.3 L348.3,415.3 L349.0,415.3" fill="none" stroke="#44dcdc" stroke-width="1.3"/>
<path d="M160.0,415.3 L160.7,415.3 L161.4,415.3 L162.1,415.3 L162.8,415.3 L163.5,415.3 L164.2,415.3 L164.9,415.3 L165.6,415.3 L166.3,415.3 L167.0,415.3 L167.7,415.3 L168.4,415.2 L169.1,415.2 L169.8,415.2 L170.5,415.2 L171.2,415.1 L171.9,415.1 L172.6,415.0 L173.3,415.0 L174.0,414.9 L174.7,414.8 L175.4,414.7 L176.1,414.6 L176.8,414.4 L177.5,414.2 L178.2,414.0 L178.9,413.7 L179.6,413.4 L180.3,413.0 L181.0,412.6 L181.7,412.1 L182.4,411.4 L183.1,410.7 L183.8,409.8 L184.5,408.7 L185.2,407.3 L185.9,405.7 L186.6,403.7 L187.3,401.3 L188.0,398.3 L188.7,394.8 L189.4,390.7 L190.1,385.9 L190.8,380.3 L191.5,374.1 L192.2,367.2 L192.9,359.9 L193.6,352.2 L194.3,344.4 L195.0,336.7 L195.7,329.4 L196.4,322.8 L197.1,317.1 L197.8,312.6 L198.5,309.5 L199.2,307.7 L199.9,307.2 L200.6,308.1 L201.3,310.1 L202.0,313.1 L202.7,316.7 L203.4,320.8 L204.1,325.2 L204.8,329.6 L205.5,333.8 L206.2,337.8 L206.9,341.5 L207.6,344.9 L208.3,348.0 L209.0,350.7 L209.7,353.3 L210.4,355.7 L211.1,357.9 L211.8,360.1 L212.5,362.3 L213.2,364.5 L213.9,366.7 L214.6,369.0 L215.3,371.3 L216.0,373.7 L216.7,376.1 L217.4,378.5 L218.1,380.9 L218.8,383.2 L219.5,385.6 L220.2,387.9 L220.9,390.1 L221.6,392.3 L222.3,394.3 L223.0,396.3 L223.7,398.1 L224.4,399.9 L225.1,401.5 L225.8,403.0 L226.5,404.4 L227.2,405.7 L227.9,406.8 L228.6,407.9 L229.3,408.9 L230.0,409.7 L230.7,410.5 L231.4,411.2 L232.1,411.8 L232.8,412.3 L233.5,412.7 L234.2,413.1 L234.9,413.5 L235.6,413.8 L236.3,414.0 L237.0,414.2 L237.7,414.4 L238.4,414.6 L239.1,414.7 L239.8,414.8 L240.5,414.9 L241.2,415.0 L241.9,415.0 L242.6,415.1 L243.3,415.1 L244.0,415.2 L244.7,415.2 L245.4,415.2 L246.1,415.2 L246.8,415.2 L247.5,415.2 L248.2,415.3 L248.9,415.2 L249.6,415.2 L250.3,415.2 L251.0,415.2 L251.7,415.2 L252.4,415.2 L253.1,415.1 L253.8,415.1 L254.5,415.0 L255.2,415.0 L255.9,414.9 L256.6,414.8 L257.3,414.6 L258.0,414.4 L258.7,414.2 L259.4,413.9 L260.1,413.5 L260.8,413.0 L261.5,412.3 L262.2,411.3 L262.9,410.1 L263.6,408.6 L264.3,406.7 L265.0,404.4 L265.7,401.7 L266.4,398.7 L267.1,395.5 L267.8,392.2 L268.5,389.0 L269.2,386.2 L269.9,383.8 L270.6,382.0 L271.3,381.0 L272.0,380.6 L272.7,380.8 L273.4,381.6 L274.1,382.6 L274.8,383.9 L275.5,385.1 L276.2,386.3 L276.9,387.3 L277.6,388.1 L278.3,388.7 L279.0,389.2 L279.7,389.6 L280.4,390.0 L281.1,390.4 L281.8,390.9 L282.5,391.4 L283.2,392.1 L283.9,392.9 L284.6,393.8 L285.3,394.7 L286.0,395.8 L286.7,396.9 L287.4,398.1 L288.1,399.3 L288.8,400.6 L289.5,401.8 L290.2,403.0 L290.9,404.2 L291.6,405.3 L292.3,406.4 L293.0,407.4 L293.7,408.3 L294.4,409.2 L295.1,410.0 L295.8,410.7 L296.5,411.4 L297.2,412.0 L297.9,412.5 L298.6,412.9 L299.3,413.3 L300.0,413.7 L300.7,414.0 L301.4,414.2 L302.1,414.4 L302.8,414.6 L303.5,414.7 L304.2,414.8 L304.9,414.9 L305.6,415.0 L306.3,415.1 L307.0,415.1 L307.7,415.2 L308.4,415.2 L309.1,415.2 L309.8,415.2 L310.5,415.3 L311.2,415.3 L311.9,415.3 L312.6,415.3 L313.3,415.3 L314.0,415.3 L314.7,415.3 L315.4,415.3 L316.1,415.3 L316.8,415.3 L317.5,415.3 L318.2,415.3 L318.9,415.3 L319.6,415.3 L320.3,415.3 L321.0,415.3 L321.7,415.3 L322.4,415.3 L323.1,415.3 L323.8,415.3 L324.5,415.3 L325.2,415.3 L325.9,415.3 L326.6,415.3 L327.3,415.3 L328.0,415.3 L328.7,415.3 L329.4,415.3 L330.1,415.3 L330.8,415.3 L331.5,415.3 L332.2,415.3 L332.9,415.3 L333.6,415.3 L334.3,415.3 L335.0,415.3 L335.7,415.3 L336.4,415.3 L337.1,415.3 L337.8,415.3 L338.5,415.3 L339.2,415.3 L339.9,415.3 L340.6,415.3 L341.3,415.3 L342.0,415.3 L342.7,415.3 L343.4,415.3 L344.1,415.3 L344.8,415.3 L345.5,415.3 L346.2,415.3 L346.9,415.3 L347.6,415.3 L348.3,415.3 L349.0,415.3" fill="none" stroke="#d040d0" stroke-width="1.8"/>
<circle cx="241.5" cy="278.1" r="2.6" fill="none" stroke="#333" stroke-width="0.9"/>
<text x="253.7" y="281.1" font-family="Liberation Sans" font-size="8.47" fill="#1a1a1a" text-anchor="start" stroke="#1a1a1a" stroke-width="0.15"><tspan dy="-0.00">Subtracted from "Counts"</tspan></text>
<path d="M231.4,288.7 H251.4" stroke="#d84040" stroke-width="1.4"/>
<text x="253.7" y="291.7" font-family="Liberation Sans" font-size="8.47" fill="#1a1a1a" text-anchor="start" stroke="#1a1a1a" stroke-width="0.15"><tspan dy="-0.00">Fe</tspan><tspan dy="2.37" font-size="5.25">2</tspan><tspan dy="-2.37">O</tspan><tspan dy="2.37" font-size="5.25">3</tspan><tspan dy="-2.37"> or Fe</tspan><tspan dy="2.37" font-size="5.25">3</tspan><tspan dy="-2.37">O</tspan><tspan dy="2.37" font-size="5.25">4</tspan><tspan dy="-2.37"> 2p</tspan><tspan dy="2.37" font-size="5.25">3/2</tspan></text>
<path d="M231.4,302.4 H251.4" stroke="#40d040" stroke-width="1.4"/>
<text x="253.7" y="305.4" font-family="Liberation Sans" font-size="8.47" fill="#1a1a1a" text-anchor="start" stroke="#1a1a1a" stroke-width="0.15"><tspan dy="-0.00">Fe</tspan><tspan dy="-3.56" font-size="5.25">2+</tspan><tspan dy="3.56"> satellite</tspan></text>
<path d="M231.4,313.1 H251.4" stroke="#2c2cc0" stroke-width="1.4"/>
<text x="253.7" y="316.1" font-family="Liberation Sans" font-size="8.47" fill="#1a1a1a" text-anchor="start" stroke="#1a1a1a" stroke-width="0.15"><tspan dy="-0.00">Fe</tspan><tspan dy="2.37" font-size="5.25">2</tspan><tspan dy="-2.37">O</tspan><tspan dy="2.37" font-size="5.25">3</tspan><tspan dy="-2.37"> or Fe</tspan><tspan dy="2.37" font-size="5.25">3</tspan><tspan dy="-2.37">O</tspan><tspan dy="2.37" font-size="5.25">4</tspan><tspan dy="-2.37"> 2p</tspan><tspan dy="2.37" font-size="5.25">1/2</tspan></text>
<path d="M231.4,327.3 H251.4" stroke="#44dcdc" stroke-width="1.4"/>
<text x="253.7" y="330.3" font-family="Liberation Sans" font-size="8.47" fill="#1a1a1a" text-anchor="start" stroke="#1a1a1a" stroke-width="0.15"><tspan dy="-0.00">Fe</tspan><tspan dy="-3.56" font-size="5.25">2+</tspan><tspan dy="3.56"> satellite</tspan></text>
<path d="M231.4,337.4 H251.4" stroke="#d040d0" stroke-width="1.4"/>
<text x="253.7" y="340.4" font-family="Liberation Sans" font-size="8.47" fill="#1a1a1a" text-anchor="start" stroke="#1a1a1a" stroke-width="0.15"><tspan dy="-0.00">Cumulative Fit Peak</tspan></text>
<text x="208.3" y="307.3" font-family="Liberation Serif" font-size="9.5" fill="#222" text-anchor="start" stroke="#222" stroke-width="0.3"><tspan dy="-0.00">2p</tspan><tspan dy="2.66" font-size="5.89">3/2</tspan></text>
<text x="287.0" y="380.2" font-family="Liberation Serif" font-size="9.5" fill="#222" text-anchor="start" stroke="#222" stroke-width="0.3"><tspan dy="-0.00">2p</tspan><tspan dy="2.66" font-size="5.89">1/2</tspan></text>
<text x="230.8" y="359.9" font-family="Liberation Sans" font-size="8.5" fill="#1a1a1a" text-anchor="start" stroke="#1a1a1a" stroke-width="0.2"><tspan dy="-0.00">Fe 2p</tspan><tspan dy="2.38" font-size="5.27">3/2</tspan></text>
<text x="231.1" y="370.7" font-family="Liberation Sans" font-size="8.5" fill="#1a1a1a" text-anchor="start" stroke="#1a1a1a" stroke-width="0.2"><tspan dy="-0.00">satellite</tspan></text>
<text x="310.8" y="359.9" font-family="Liberation Sans" font-size="8.5" fill="#1a1a1a" text-anchor="start" stroke="#1a1a1a" stroke-width="0.2"><tspan dy="-0.00">Fe 2p</tspan><tspan dy="2.38" font-size="5.27">1/2</tspan></text>
<text x="311.1" y="370.7" font-family="Liberation Sans" font-size="8.5" fill="#1a1a1a" text-anchor="start" stroke="#1a1a1a" stroke-width="0.2"><tspan dy="-0.00">satellite</tspan></text>
<path d="M241.9,385.2 H247.29999999999998 V396.6 H250.4 L244.6,402.3 L238.79999999999998,396.6 H241.9 Z" fill="#111"/>
<path d="M321.8,385.2 H327.2 V396.6 H330.3 L324.5,402.3 L318.7,396.6 H321.8 Z" fill="#111"/>
<path d="M379.6,278.8 L379.6,433.3 L571.2,433.3" fill="none" stroke="#6a6a6a" stroke-width="1.2"/>
<path d="M395.9,433.3 v3.2 M415.2,433.3 v2.0 M434.5,433.3 v3.2 M453.8,433.3 v2.0 M473.1,433.3 v3.2 M492.4,433.3 v2.0 M511.7,433.3 v3.2 M531.0,433.3 v2.0 M550.3,433.3 v3.2 M569.6,433.3 v2.0" stroke="#6a6a6a" stroke-width="1"/>
<text x="395.9" y="448.9" font-family="Liberation Serif" font-size="13.4" fill="#111" stroke="#111" stroke-width="0.2" text-anchor="middle">528</text>
<text x="434.5" y="448.9" font-family="Liberation Serif" font-size="13.4" fill="#111" stroke="#111" stroke-width="0.2" text-anchor="middle">530</text>
<text x="473.1" y="448.9" font-family="Liberation Serif" font-size="13.4" fill="#111" stroke="#111" stroke-width="0.2" text-anchor="middle">532</text>
<text x="511.7" y="448.9" font-family="Liberation Serif" font-size="13.4" fill="#111" stroke="#111" stroke-width="0.2" text-anchor="middle">534</text>
<text x="550.3" y="448.9" font-family="Liberation Serif" font-size="13.4" fill="#111" stroke="#111" stroke-width="0.2" text-anchor="middle">536</text>
<text x="474.7" y="462.7" font-family="Liberation Serif" font-size="13.0" fill="#111" stroke="#111" stroke-width="0.2" text-anchor="middle">Binding energy (eV)</text>
<text transform="translate(368.2,348.2) rotate(-90)" x="0" y="0" font-family="Liberation Serif" font-size="12.9" fill="#111" stroke="#111" stroke-width="0.2" text-anchor="middle">Intensity (a.u.)</text>
<text x="380.7" y="289.7" font-family="Liberation Serif" font-size="9" fill="#333" stroke="#333" stroke-width="0.35">O1s</text>
<use href="#c" x="379.8" y="415.5"/>
<use href="#c" x="381.8" y="417.0"/>
<use href="#c" x="384.1" y="416.3"/>
<use href="#c" x="386.9" y="417.2"/>
<use href="#c" x="389.1" y="417.4"/>
<use href="#c" x="391.4" y="416.5"/>
<use href="#c" x="393.8" y="415.5"/>
<use href="#c" x="396.0" y="414.9"/>
<use href="#c" x="398.4" y="416.2"/>
<use href="#c" x="401.1" y="414.9"/>
<use href="#c" x="402.9" y="414.8"/>
<use href="#c" x="405.2" y="414.2"/>
<use href="#c" x="407.5" y="412.7"/>
<use href="#c" x="409.9" y="412.9"/>
<use href="#c" x="412.3" y="408.7"/>
<use href="#c" x="414.5" y="405.7"/>
<use href="#c" x="417.3" y="396.6"/>
<use href="#c" x="419.0" y="385.6"/>
<use href="#c" x="421.9" y="373.3"/>
<use href="#c" x="423.2" y="354.9"/>
<use href="#c" x="425.9" y="337.4"/>
<use href="#c" x="428.4" y="319.1"/>
<use href="#c" x="430.7" y="306.4"/>
<use href="#c" x="433.2" y="299.4"/>
<use href="#c" x="435.2" y="302.0"/>
<use href="#c" x="437.6" y="308.0"/>
<use href="#c" x="439.6" y="320.5"/>
<use href="#c" x="442.3" y="332.7"/>
<use href="#c" x="444.3" y="344.7"/>
<use href="#c" x="446.7" y="354.0"/>
<use href="#c" x="448.6" y="360.1"/>
<use href="#c" x="451.3" y="365.5"/>
<use href="#c" x="453.8" y="365.8"/>
<use href="#c" x="455.9" y="368.6"/>
<use href="#c" x="458.7" y="370.8"/>
<use href="#c" x="460.8" y="372.3"/>
<use href="#c" x="462.6" y="375.9"/>
<use href="#c" x="465.3" y="376.4"/>
<use href="#c" x="467.3" y="378.4"/>
<use href="#c" x="469.9" y="384.0"/>
<use href="#c" x="471.6" y="386.8"/>
<use href="#c" x="474.4" y="391.6"/>
<use href="#c" x="476.7" y="393.7"/>
<use href="#c" x="478.6" y="394.9"/>
<use href="#c" x="481.6" y="398.3"/>
<use href="#c" x="483.5" y="401.4"/>
<use href="#c" x="485.9" y="404.4"/>
<use href="#c" x="488.2" y="407.1"/>
<use href="#c" x="489.8" y="407.6"/>
<use href="#c" x="492.8" y="410.4"/>
<use href="#c" x="495.0" y="412.6"/>
<use href="#c" x="497.4" y="412.2"/>
<use href="#c" x="499.4" y="412.4"/>
<use href="#c" x="502.0" y="413.5"/>
<use href="#c" x="504.4" y="416.6"/>
<use href="#c" x="506.5" y="416.2"/>
<use href="#c" x="508.7" y="415.9"/>
<use href="#c" x="510.6" y="415.7"/>
<use href="#c" x="513.1" y="415.1"/>
<use href="#c" x="515.8" y="416.9"/>
<use href="#c" x="518.3" y="417.2"/>
<use href="#c" x="520.5" y="416.1"/>
<use href="#c" x="522.6" y="418.0"/>
<use href="#c" x="524.9" y="417.3"/>
<use href="#c" x="527.2" y="415.2"/>
<use href="#c" x="529.5" y="415.8"/>
<use href="#c" x="531.9" y="416.1"/>
<use href="#c" x="534.5" y="414.8"/>
<use href="#c" x="536.3" y="417.6"/>
<use href="#c" x="538.7" y="415.8"/>
<use href="#c" x="541.1" y="417.0"/>
<use href="#c" x="542.9" y="416.8"/>
<use href="#c" x="545.9" y="415.6"/>
<use href="#c" x="547.6" y="416.7"/>
<use href="#c" x="549.9" y="415.8"/>
<use href="#c" x="552.7" y="415.7"/>
<use href="#c" x="555.0" y="416.3"/>
<use href="#c" x="556.8" y="416.7"/>
<use href="#c" x="559.9" y="416.0"/>
<use href="#c" x="561.5" y="415.9"/>
<use href="#c" x="564.0" y="417.5"/>
<use href="#c" x="566.6" y="416.5"/>
<use href="#c" x="568.7" y="415.1"/>
<use href="#c" x="570.6" y="415.6"/>
<path d="M380.0,416.5 L380.7,416.5 L381.4,416.5 L382.1,416.5 L382.8,416.5 L383.5,416.5 L384.2,416.5 L384.9,416.5 L385.6,416.5 L386.3,416.5 L387.0,416.5 L387.7,416.5 L388.4,416.5 L389.1,416.5 L389.8,416.5 L390.5,416.5 L391.2,416.5 L391.9,416.5 L392.6,416.5 L393.3,416.5 L394.0,416.5 L394.7,416.5 L395.4,416.5 L396.1,416.5 L396.8,416.5 L397.5,416.5 L398.2,416.5 L398.9,416.5 L399.6,416.5 L400.3,416.5 L401.0,416.5 L401.7,416.5 L402.4,416.5 L403.1,416.4 L403.8,416.4 L404.5,416.4 L405.2,416.3 L405.9,416.3 L406.6,416.2 L407.3,416.1 L408.0,415.9 L408.7,415.7 L409.4,415.5 L410.1,415.2 L410.8,414.8 L411.5,414.3 L412.2,413.7 L412.9,412.9 L413.6,412.0 L414.3,411.0 L415.0,409.7 L415.7,408.2 L416.4,406.4 L417.1,404.4 L417.8,402.1 L418.5,399.4 L419.2,396.5 L419.9,393.2 L420.6,389.6 L421.3,385.7 L422.0,381.6 L422.7,377.2 L423.4,372.5 L424.1,367.8 L424.8,362.9 L425.5,358.0 L426.2,353.3 L426.9,348.6 L427.6,344.2 L428.3,340.2 L429.0,336.5 L429.7,333.4 L430.4,330.8 L431.1,328.9 L431.8,327.6 L432.5,327.0 L433.2,327.2 L433.9,328.1 L434.6,329.6 L435.3,331.8 L436.0,334.7 L436.7,338.0 L437.4,341.9 L438.1,346.1 L438.8,350.6 L439.5,355.3 L440.2,360.1 L440.9,365.0 L441.6,369.8 L442.3,374.5 L443.0,379.1 L443.7,383.4 L444.4,387.4 L445.1,391.2 L445.8,394.7 L446.5,397.8 L447.2,400.6 L447.9,403.1 L448.6,405.3 L449.3,407.2 L450.0,408.9 L450.7,410.3 L451.4,411.4 L452.1,412.4 L452.8,413.3 L453.5,413.9 L454.2,414.5 L454.9,414.9 L455.6,415.3 L456.3,415.6 L457.0,415.8 L457.7,416.0 L458.4,416.1 L459.1,416.2 L459.8,416.3 L460.5,416.3 L461.2,416.4 L461.9,416.4 L462.6,416.4 L463.3,416.5 L464.0,416.5 L464.7,416.5 L465.4,416.5 L466.1,416.5 L466.8,416.5 L467.5,416.5 L468.2,416.5 L468.9,416.5 L469.6,416.5 L470.3,416.5 L471.0,416.5 L471.7,416.5 L472.4,416.5 L473.1,416.5 L473.8,416.5 L474.5,416.5 L475.2,416.5 L475.9,416.5 L476.6,416.5 L477.3,416.5 L478.0,416.5 L478.7,416.5 L479.4,416.5 L480.1,416.5 L480.8,416.5 L481.5,416.5 L482.2,416.5 L482.9,416.5 L483.6,416.5 L484.3,416.5 L485.0,416.5 L485.7,416.5 L486.4,416.5 L487.1,416.5 L487.8,416.5 L488.5,416.5 L489.2,416.5 L489.9,416.5 L490.6,416.5 L491.3,416.5 L492.0,416.5 L492.7,416.5 L493.4,416.5 L494.1,416.5 L494.8,416.5 L495.5,416.5 L496.2,416.5 L496.9,416.5 L497.6,416.5 L498.3,416.5 L499.0,416.5 L499.7,416.5 L500.4,416.5 L501.1,416.5 L501.8,416.5 L502.5,416.5 L503.2,416.5 L503.9,416.5 L504.6,416.5 L505.3,416.5 L506.0,416.5 L506.7,416.5 L507.4,416.5 L508.1,416.5 L508.8,416.5 L509.5,416.5 L510.2,416.5 L510.9,416.5 L511.6,416.5 L512.3,416.5 L513.0,416.5 L513.7,416.5 L514.4,416.5 L515.1,416.5 L515.8,416.5 L516.5,416.5 L517.2,416.5 L517.9,416.5 L518.6,416.5 L519.3,416.5 L520.0,416.5 L520.7,416.5 L521.4,416.5 L522.1,416.5 L522.8,416.5 L523.5,416.5 L524.2,416.5 L524.9,416.5 L525.6,416.5 L526.3,416.5 L527.0,416.5 L527.7,416.5 L528.4,416.5 L529.1,416.5 L529.8,416.5 L530.5,416.5 L531.2,416.5 L531.9,416.5 L532.6,416.5 L533.3,416.5 L534.0,416.5 L534.7,416.5 L535.4,416.5 L536.1,416.5 L536.8,416.5 L537.5,416.5 L538.2,416.5 L538.9,416.5 L539.6,416.5 L540.3,416.5 L541.0,416.5 L541.7,416.5 L542.4,416.5 L543.1,416.5 L543.8,416.5 L544.5,416.5 L545.2,416.5 L545.9,416.5 L546.6,416.5 L547.3,416.5 L548.0,416.5 L548.7,416.5 L549.4,416.5 L550.1,416.5 L550.8,416.5 L551.5,416.5 L552.2,416.5 L552.9,416.5 L553.6,416.5 L554.3,416.5 L555.0,416.5 L555.7,416.5 L556.4,416.5 L557.1,416.5 L557.8,416.5 L558.5,416.5 L559.2,416.5 L559.9,416.5 L560.6,416.5 L561.3,416.5 L562.0,416.5 L562.7,416.5 L563.4,416.5 L564.1,416.5 L564.8,416.5 L565.5,416.5 L566.2,416.5 L566.9,416.5 L567.6,416.5 L568.3,416.5 L569.0,416.5 L569.7,416.5 L570.4,416.5" fill="none" stroke="#d84040" stroke-width="1.3"/>
<path d="M380.0,416.5 L380.7,416.5 L381.4,416.4 L382.1,416.4 L382.8,416.4 L383.5,416.4 L384.2,416.4 L384.9,416.4 L385.6,416.4 L386.3,416.4 L387.0,416.4 L387.7,416.3 L388.4,416.3 L389.1,416.3 L389.8,416.3 L390.5,416.2 L391.2,416.2 L391.9,416.2 L392.6,416.1 L393.3,416.1 L394.0,416.0 L394.7,416.0 L395.4,415.9 L396.1,415.9 L396.8,415.8 L397.5,415.7 L398.2,415.6 L398.9,415.5 L399.6,415.4 L400.3,415.3 L401.0,415.2 L401.7,415.1 L402.4,414.9 L403.1,414.8 L403.8,414.6 L404.5,414.5 L405.2,414.3 L405.9,414.1 L406.6,413.8 L407.3,413.6 L408.0,413.3 L408.7,413.1 L409.4,412.8 L410.1,412.5 L410.8,412.1 L411.5,411.8 L412.2,411.4 L412.9,411.0 L413.6,410.6 L414.3,410.1 L415.0,409.7 L415.7,409.2 L416.4,408.6 L417.1,408.1 L417.8,407.5 L418.5,406.9 L419.2,406.3 L419.9,405.6 L420.6,405.0 L421.3,404.2 L422.0,403.5 L422.7,402.7 L423.4,402.0 L424.1,401.1 L424.8,400.3 L425.5,399.4 L426.2,398.5 L426.9,397.6 L427.6,396.7 L428.3,395.8 L429.0,394.8 L429.7,393.8 L430.4,392.8 L431.1,391.8 L431.8,390.8 L432.5,389.8 L433.2,388.7 L433.9,387.7 L434.6,386.7 L435.3,385.6 L436.0,384.6 L436.7,383.6 L437.4,382.6 L438.1,381.6 L438.8,380.6 L439.5,379.7 L440.2,378.7 L440.9,377.8 L441.6,376.9 L442.3,376.1 L443.0,375.3 L443.7,374.5 L444.4,373.8 L445.1,373.1 L445.8,372.5 L446.5,371.9 L447.2,371.3 L447.9,370.9 L448.6,370.4 L449.3,370.0 L450.0,369.7 L450.7,369.5 L451.4,369.2 L452.1,369.1 L452.8,369.0 L453.5,369.0 L454.2,369.0 L454.9,369.1 L455.6,369.3 L456.3,369.5 L457.0,369.8 L457.7,370.1 L458.4,370.5 L459.1,371.0 L459.8,371.5 L460.5,372.0 L461.2,372.7 L461.9,373.3 L462.6,374.0 L463.3,374.7 L464.0,375.5 L464.7,376.3 L465.4,377.2 L466.1,378.1 L466.8,379.0 L467.5,379.9 L468.2,380.9 L468.9,381.9 L469.6,382.9 L470.3,383.9 L471.0,384.9 L471.7,385.9 L472.4,387.0 L473.1,388.0 L473.8,389.0 L474.5,390.0 L475.2,391.1 L475.9,392.1 L476.6,393.1 L477.3,394.1 L478.0,395.1 L478.7,396.0 L479.4,397.0 L480.1,397.9 L480.8,398.8 L481.5,399.7 L482.2,400.5 L482.9,401.4 L483.6,402.2 L484.3,403.0 L485.0,403.7 L485.7,404.5 L486.4,405.2 L487.1,405.8 L487.8,406.5 L488.5,407.1 L489.2,407.7 L489.9,408.3 L490.6,408.8 L491.3,409.3 L492.0,409.8 L492.7,410.3 L493.4,410.7 L494.1,411.1 L494.8,411.5 L495.5,411.9 L496.2,412.2 L496.9,412.6 L497.6,412.9 L498.3,413.1 L499.0,413.4 L499.7,413.7 L500.4,413.9 L501.1,414.1 L501.8,414.3 L502.5,414.5 L503.2,414.7 L503.9,414.8 L504.6,415.0 L505.3,415.1 L506.0,415.3 L506.7,415.4 L507.4,415.5 L508.1,415.6 L508.8,415.7 L509.5,415.7 L510.2,415.8 L510.9,415.9 L511.6,415.9 L512.3,416.0 L513.0,416.1 L513.7,416.1 L514.4,416.1 L515.1,416.2 L515.8,416.2 L516.5,416.2 L517.2,416.3 L517.9,416.3 L518.6,416.3 L519.3,416.3 L520.0,416.4 L520.7,416.4 L521.4,416.4 L522.1,416.4 L522.8,416.4 L523.5,416.4 L524.2,416.4 L524.9,416.4 L525.6,416.4 L526.3,416.5 L527.0,416.5 L527.7,416.5 L528.4,416.5 L529.1,416.5 L529.8,416.5 L530.5,416.5 L531.2,416.5 L531.9,416.5 L532.6,416.5 L533.3,416.5 L534.0,416.5 L534.7,416.5 L535.4,416.5 L536.1,416.5 L536.8,416.5 L537.5,416.5 L538.2,416.5 L538.9,416.5 L539.6,416.5 L540.3,416.5 L541.0,416.5 L541.7,416.5 L542.4,416.5 L543.1,416.5 L543.8,416.5 L544.5,416.5 L545.2,416.5 L545.9,416.5 L546.6,416.5 L547.3,416.5 L548.0,416.5 L548.7,416.5 L549.4,416.5 L550.1,416.5 L550.8,416.5 L551.5,416.5 L552.2,416.5 L552.9,416.5 L553.6,416.5 L554.3,416.5 L555.0,416.5 L555.7,416.5 L556.4,416.5 L557.1,416.5 L557.8,416.5 L558.5,416.5 L559.2,416.5 L559.9,416.5 L560.6,416.5 L561.3,416.5 L562.0,416.5 L562.7,416.5 L563.4,416.5 L564.1,416.5 L564.8,416.5 L565.5,416.5 L566.2,416.5 L566.9,416.5 L567.6,416.5 L568.3,416.5 L569.0,416.5 L569.7,416.5 L570.4,416.5" fill="none" stroke="#40d040" stroke-width="1.3"/>
<path d="M380.0,416.5 L380.7,416.5 L381.4,416.4 L382.1,416.4 L382.8,416.4 L383.5,416.4 L384.2,416.4 L384.9,416.4 L385.6,416.4 L386.3,416.4 L387.0,416.4 L387.7,416.3 L388.4,416.3 L389.1,416.3 L389.8,416.3 L390.5,416.2 L391.2,416.2 L391.9,416.2 L392.6,416.1 L393.3,416.1 L394.0,416.0 L394.7,416.0 L395.4,415.9 L396.1,415.9 L396.8,415.8 L397.5,415.7 L398.2,415.6 L398.9,415.5 L399.6,415.4 L400.3,415.3 L401.0,415.2 L401.7,415.1 L402.4,414.9 L403.1,414.7 L403.8,414.5 L404.5,414.3 L405.2,414.1 L405.9,413.8 L406.6,413.5 L407.3,413.1 L408.0,412.7 L408.7,412.3 L409.4,411.7 L410.1,411.1 L410.8,410.4 L411.5,409.6 L412.2,408.6 L412.9,407.4 L413.6,406.1 L414.3,404.6 L415.0,402.8 L415.7,400.8 L416.4,398.6 L417.1,396.0 L417.8,393.1 L418.5,389.9 L419.2,386.3 L419.9,382.4 L420.6,378.1 L421.3,373.5 L422.0,368.6 L422.7,363.4 L423.4,358.0 L424.1,352.4 L424.8,346.7 L425.5,341.0 L426.2,335.3 L426.9,329.8 L427.6,324.4 L428.3,319.4 L429.0,314.8 L429.7,310.7 L430.4,307.1 L431.1,304.2 L431.8,301.9 L432.5,300.3 L433.2,299.4 L433.9,299.2 L434.6,299.8 L435.3,301.0 L436.0,302.8 L436.7,305.1 L437.4,307.9 L438.1,311.2 L438.8,314.7 L439.5,318.5 L440.2,322.4 L440.9,326.3 L441.6,330.3 L442.3,334.1 L443.0,337.9 L443.7,341.4 L444.4,344.7 L445.1,347.8 L445.8,350.6 L446.5,353.2 L447.2,355.4 L447.9,357.4 L448.6,359.2 L449.3,360.7 L450.0,362.1 L450.7,363.2 L451.4,364.2 L452.1,365.0 L452.8,365.8 L453.5,366.4 L454.2,367.0 L454.9,367.6 L455.6,368.1 L456.3,368.6 L457.0,369.1 L457.7,369.6 L458.4,370.1 L459.1,370.7 L459.8,371.3 L460.5,371.9 L461.2,372.5 L461.9,373.2 L462.6,373.9 L463.3,374.7 L464.0,375.5 L464.7,376.3 L465.4,377.2 L466.1,378.1 L466.8,379.0 L467.5,379.9 L468.2,380.9 L468.9,381.9 L469.6,382.9 L470.3,383.9 L471.0,384.9 L471.7,385.9 L472.4,387.0 L473.1,388.0 L473.8,389.0 L474.5,390.0 L475.2,391.1 L475.9,392.1 L476.6,393.1 L477.3,394.1 L478.0,395.1 L478.7,396.0 L479.4,397.0 L480.1,397.9 L480.8,398.8 L481.5,399.7 L482.2,400.5 L482.9,401.4 L483.6,402.2 L484.3,403.0 L485.0,403.7 L485.7,404.5 L486.4,405.2 L487.1,405.8 L487.8,406.5 L488.5,407.1 L489.2,407.7 L489.9,408.3 L490.6,408.8 L491.3,409.3 L492.0,409.8 L492.7,410.3 L493.4,410.7 L494.1,411.1 L494.8,411.5 L495.5,411.9 L496.2,412.2 L496.9,412.6 L497.6,412.9 L498.3,413.1 L499.0,413.4 L499.7,413.7 L500.4,413.9 L501.1,414.1 L501.8,414.3 L502.5,414.5 L503.2,414.7 L503.9,414.8 L504.6,415.0 L505.3,415.1 L506.0,415.3 L506.7,415.4 L507.4,415.5 L508.1,415.6 L508.8,415.7 L509.5,415.7 L510.2,415.8 L510.9,415.9 L511.6,415.9 L512.3,416.0 L513.0,416.1 L513.7,416.1 L514.4,416.1 L515.1,416.2 L515.8,416.2 L516.5,416.2 L517.2,416.3 L517.9,416.3 L518.6,416.3 L519.3,416.3 L520.0,416.4 L520.7,416.4 L521.4,416.4 L522.1,416.4 L522.8,416.4 L523.5,416.4 L524.2,416.4 L524.9,416.4 L525.6,416.4 L526.3,416.5 L527.0,416.5 L527.7,416.5 L528.4,416.5 L529.1,416.5 L529.8,416.5 L530.5,416.5 L531.2,416.5 L531.9,416.5 L532.6,416.5 L533.3,416.5 L534.0,416.5 L534.7,416.5 L535.4,416.5 L536.1,416.5 L536.8,416.5 L537.5,416.5 L538.2,416.5 L538.9,416.5 L539.6,416.5 L540.3,416.5 L541.0,416.5 L541.7,416.5 L542.4,416.5 L543.1,416.5 L543.8,416.5 L544.5,416.5 L545.2,416.5 L545.9,416.5 L546.6,416.5 L547.3,416.5 L548.0,416.5 L548.7,416.5 L549.4,416.5 L550.1,416.5 L550.8,416.5 L551.5,416.5 L552.2,416.5 L552.9,416.5 L553.6,416.5 L554.3,416.5 L555.0,416.5 L555.7,416.5 L556.4,416.5 L557.1,416.5 L557.8,416.5 L558.5,416.5 L559.2,416.5 L559.9,416.5 L560.6,416.5 L561.3,416.5 L562.0,416.5 L562.7,416.5 L563.4,416.5 L564.1,416.5 L564.8,416.5 L565.5,416.5 L566.2,416.5 L566.9,416.5 L567.6,416.5 L568.3,416.5 L569.0,416.5 L569.7,416.5 L570.4,416.5" fill="none" stroke="#2c2cc0" stroke-width="1.8"/>
<circle cx="474.1" cy="287.1" r="2.6" fill="none" stroke="#333" stroke-width="0.9"/>
<text x="485.6" y="290.2" font-family="Liberation Sans" font-size="8.7" fill="#1a1a1a" text-anchor="start" stroke="#1a1a1a" stroke-width="0.15"><tspan dy="-0.00">Subtracted from "Counts"</tspan></text>
<path d="M463.5,298.6 H483.6" stroke="#d84040" stroke-width="1.4"/>
<text x="485.6" y="301.7" font-family="Liberation Sans" font-size="8.7" fill="#1a1a1a" text-anchor="start" stroke="#1a1a1a" stroke-width="0.15"><tspan dy="-0.00">Lattice oxygen</tspan></text>
<path d="M463.5,308.7 H483.6" stroke="#40d040" stroke-width="1.4"/>
<text x="485.6" y="311.8" font-family="Liberation Sans" font-size="8.7" fill="#1a1a1a" text-anchor="start" stroke="#1a1a1a" stroke-width="0.15"><tspan dy="-0.00">O-C=O, C-OH</tspan></text>
<path d="M463.5,319.6 H483.6" stroke="#2c2cc0" stroke-width="1.4"/>
<text x="485.6" y="322.7" font-family="Liberation Sans" font-size="8.7" fill="#1a1a1a" text-anchor="start" stroke="#1a1a1a" stroke-width="0.15"><tspan dy="-0.00">Cumulative Fit Peak</tspan></text>
<path d="M609.4,280.8 L609.4,434.6 L801,434.6" fill="none" stroke="#6a6a6a" stroke-width="1.2"/>
<path d="M624.4,434.6 v3.2 M641.9,434.6 v2.0 M659.4,434.6 v3.2 M676.8,434.6 v2.0 M694.3,434.6 v3.2 M711.8,434.6 v2.0 M729.2,434.6 v3.2 M746.7,434.6 v2.0 M764.2,434.6 v3.2 M781.7,434.6 v2.0 M799.1,434.6 v3.2" stroke="#6a6a6a" stroke-width="1"/>
<text x="624.4" y="449.4" font-family="Liberation Serif" font-size="12.9" fill="#111" stroke="#111" stroke-width="0.2" text-anchor="middle">282</text>
<text x="659.4" y="449.4" font-family="Liberation Serif" font-size="12.9" fill="#111" stroke="#111" stroke-width="0.2" text-anchor="middle">284</text>
<text x="694.3" y="449.4" font-family="Liberation Serif" font-size="12.9" fill="#111" stroke="#111" stroke-width="0.2" text-anchor="middle">286</text>
<text x="729.2" y="449.4" font-family="Liberation Serif" font-size="12.9" fill="#111" stroke="#111" stroke-width="0.2" text-anchor="middle">288</text>
<text x="764.2" y="449.4" font-family="Liberation Serif" font-size="12.9" fill="#111" stroke="#111" stroke-width="0.2" text-anchor="middle">290</text>
<text x="799.1" y="449.4" font-family="Liberation Serif" font-size="12.9" fill="#111" stroke="#111" stroke-width="0.2" text-anchor="middle">292</text>
<text x="705" y="464" font-family="Liberation Serif" font-size="12.9" fill="#111" stroke="#111" stroke-width="0.2" text-anchor="middle">Binding energy (eV)</text>
<text transform="translate(597.9,349.9) rotate(-90)" x="0" y="0" font-family="Liberation Serif" font-size="12.9" fill="#111" stroke="#111" stroke-width="0.2" text-anchor="middle">Intensity (a.u.)</text>
<text x="610.7" y="290.5" font-family="Liberation Serif" font-size="9" fill="#333" stroke="#333" stroke-width="0.35">C1s</text>
<use href="#c" x="609.6" y="419.2"/>
<use href="#c" x="612.0" y="418.2"/>
<use href="#c" x="614.0" y="420.0"/>
<use href="#c" x="616.1" y="417.5"/>
<use href="#c" x="618.2" y="417.8"/>
<use href="#c" x="620.4" y="418.6"/>
<use href="#c" x="621.8" y="418.7"/>
<use href="#c" x="623.9" y="417.6"/>
<use href="#c" x="626.2" y="419.2"/>
<use href="#c" x="627.9" y="419.0"/>
<use href="#c" x="629.7" y="419.2"/>
<use href="#c" x="631.8" y="419.2"/>
<use href="#c" x="634.2" y="420.0"/>
<use href="#c" x="635.8" y="419.1"/>
<use href="#c" x="638.1" y="419.2"/>
<use href="#c" x="639.9" y="418.2"/>
<use href="#c" x="641.9" y="419.5"/>
<use href="#c" x="644.3" y="418.5"/>
<use href="#c" x="646.4" y="416.4"/>
<use href="#c" x="647.9" y="417.3"/>
<use href="#c" x="649.8" y="413.9"/>
<use href="#c" x="651.5" y="412.4"/>
<use href="#c" x="654.0" y="407.7"/>
<use href="#c" x="655.9" y="399.6"/>
<use href="#c" x="658.0" y="390.6"/>
<use href="#c" x="659.8" y="379.8"/>
<use href="#c" x="662.2" y="365.8"/>
<use href="#c" x="664.1" y="349.2"/>
<use href="#c" x="666.0" y="333.3"/>
<use href="#c" x="668.4" y="319.9"/>
<use href="#c" x="670.0" y="308.5"/>
<use href="#c" x="672.0" y="302.2"/>
<use href="#c" x="674.4" y="300.3"/>
<use href="#c" x="675.9" y="304.9"/>
<use href="#c" x="678.1" y="313.7"/>
<use href="#c" x="680.6" y="328.6"/>
<use href="#c" x="682.1" y="340.5"/>
<use href="#c" x="683.8" y="353.1"/>
<use href="#c" x="686.0" y="366.0"/>
<use href="#c" x="687.9" y="377.5"/>
<use href="#c" x="689.6" y="383.3"/>
<use href="#c" x="692.1" y="389.0"/>
<use href="#c" x="693.8" y="395.5"/>
<use href="#c" x="696.1" y="397.6"/>
<use href="#c" x="698.0" y="401.4"/>
<use href="#c" x="699.8" y="404.0"/>
<use href="#c" x="702.0" y="404.6"/>
<use href="#c" x="704.0" y="408.0"/>
<use href="#c" x="706.2" y="410.3"/>
<use href="#c" x="708.1" y="410.7"/>
<use href="#c" x="710.1" y="410.6"/>
<use href="#c" x="712.2" y="413.4"/>
<use href="#c" x="713.8" y="415.0"/>
<use href="#c" x="716.2" y="414.5"/>
<use href="#c" x="718.0" y="414.2"/>
<use href="#c" x="720.1" y="413.8"/>
<use href="#c" x="721.8" y="413.7"/>
<use href="#c" x="723.6" y="411.3"/>
<use href="#c" x="725.9" y="411.8"/>
<use href="#c" x="727.9" y="409.1"/>
<use href="#c" x="730.1" y="407.6"/>
<use href="#c" x="731.5" y="407.9"/>
<use href="#c" x="734.0" y="406.8"/>
<use href="#c" x="736.0" y="406.5"/>
<use href="#c" x="738.1" y="408.7"/>
<use href="#c" x="740.2" y="409.3"/>
<use href="#c" x="742.4" y="408.5"/>
<use href="#c" x="743.9" y="411.5"/>
<use href="#c" x="746.5" y="413.6"/>
<use href="#c" x="747.9" y="413.8"/>
<use href="#c" x="749.6" y="416.0"/>
<use href="#c" x="752.0" y="415.8"/>
<use href="#c" x="754.1" y="418.1"/>
<use href="#c" x="756.2" y="418.7"/>
<use href="#c" x="757.9" y="418.0"/>
<use href="#c" x="759.9" y="418.3"/>
<use href="#c" x="762.2" y="419.6"/>
<use href="#c" x="764.1" y="417.1"/>
<use href="#c" x="765.8" y="417.9"/>
<use href="#c" x="768.3" y="419.8"/>
<use href="#c" x="770.1" y="419.8"/>
<use href="#c" x="771.8" y="420.3"/>
<use href="#c" x="773.9" y="419.5"/>
<use href="#c" x="775.7" y="418.3"/>
<use href="#c" x="778.4" y="420.0"/>
<use href="#c" x="779.9" y="419.5"/>
<use href="#c" x="781.8" y="419.0"/>
<use href="#c" x="784.3" y="418.6"/>
<use href="#c" x="786.1" y="420.1"/>
<use href="#c" x="788.0" y="419.5"/>
<use href="#c" x="790.0" y="419.1"/>
<use href="#c" x="791.9" y="419.2"/>
<use href="#c" x="794.0" y="419.6"/>
<use href="#c" x="796.0" y="419.0"/>
<use href="#c" x="798.2" y="420.1"/>
<use href="#c" x="799.8" y="418.2"/>
<path d="M610.0,418.8 L610.7,418.8 L611.4,418.8 L612.1,418.8 L612.8,418.8 L613.5,418.8 L614.2,418.8 L614.9,418.8 L615.6,418.8 L616.3,418.8 L617.0,418.8 L617.7,418.8 L618.4,418.8 L619.1,418.8 L619.8,418.8 L620.5,418.8 L621.2,418.8 L621.9,418.8 L622.6,418.8 L623.3,418.8 L624.0,418.8 L624.7,418.8 L625.4,418.8 L626.1,418.8 L626.8,418.8 L627.5,418.8 L628.2,418.8 L628.9,418.8 L629.6,418.8 L630.3,418.8 L631.0,418.8 L631.7,418.8 L632.4,418.8 L633.1,418.8 L633.8,418.8 L634.5,418.8 L635.2,418.8 L635.9,418.8 L636.6,418.8 L637.3,418.8 L638.0,418.8 L638.7,418.7 L639.4,418.7 L640.1,418.7 L640.8,418.7 L641.5,418.6 L642.2,418.5 L642.9,418.5 L643.6,418.4 L644.3,418.2 L645.0,418.1 L645.7,417.9 L646.4,417.6 L647.1,417.3 L647.8,416.9 L648.5,416.4 L649.2,415.8 L649.9,415.1 L650.6,414.3 L651.3,413.3 L652.0,412.2 L652.7,410.8 L653.4,409.3 L654.1,407.5 L654.8,405.4 L655.5,403.1 L656.2,400.5 L656.9,397.6 L657.6,394.4 L658.3,390.9 L659.0,387.1 L659.7,383.0 L660.4,378.7 L661.1,374.1 L661.8,369.2 L662.5,364.2 L663.2,359.1 L663.9,353.9 L664.6,348.6 L665.3,343.5 L666.0,338.5 L666.7,333.6 L667.4,329.1 L668.1,324.9 L668.8,321.1 L669.5,317.9 L670.2,315.1 L670.9,313.0 L671.6,311.5 L672.3,310.7 L673.0,310.5 L673.7,311.1 L674.4,312.3 L675.1,314.1 L675.8,316.6 L676.5,319.7 L677.2,323.2 L677.9,327.2 L678.6,331.6 L679.3,336.4 L680.0,341.3 L680.7,346.4 L681.4,351.6 L682.1,356.8 L682.8,362.0 L683.5,367.1 L684.2,372.0 L684.9,376.7 L685.6,381.2 L686.3,385.4 L687.0,389.3 L687.7,393.0 L688.4,396.3 L689.1,399.3 L689.8,402.0 L690.5,404.5 L691.2,406.6 L691.9,408.5 L692.6,410.2 L693.3,411.6 L694.0,412.9 L694.7,413.9 L695.4,414.8 L696.1,415.5 L696.8,416.2 L697.5,416.7 L698.2,417.1 L698.9,417.5 L699.6,417.8 L700.3,418.0 L701.0,418.2 L701.7,418.3 L702.4,418.4 L703.1,418.5 L703.8,418.6 L704.5,418.6 L705.2,418.7 L705.9,418.7 L706.6,418.7 L707.3,418.8 L708.0,418.8 L708.7,418.8 L709.4,418.8 L710.1,418.8 L710.8,418.8 L711.5,418.8 L712.2,418.8 L712.9,418.8 L713.6,418.8 L714.3,418.8 L715.0,418.8 L715.7,418.8 L716.4,418.8 L717.1,418.8 L717.8,418.8 L718.5,418.8 L719.2,418.8 L719.9,418.8 L720.6,418.8 L721.3,418.8 L722.0,418.8 L722.7,418.8 L723.4,418.8 L724.1,418.8 L724.8,418.8 L725.5,418.8 L726.2,418.8 L726.9,418.8 L727.6,418.8 L728.3,418.8 L729.0,418.8 L729.7,418.8 L730.4,418.8 L731.1,418.8 L731.8,418.8 L732.5,418.8 L733.2,418.8 L733.9,418.8 L734.6,418.8 L735.3,418.8 L736.0,418.8 L736.7,418.8 L737.4,418.8 L738.1,418.8 L738.8,418.8 L739.5,418.8 L740.2,418.8 L740.9,418.8 L741.6,418.8 L742.3,418.8 L743.0,418.8 L743.7,418.8 L744.4,418.8 L745.1,418.8 L745.8,418.8 L746.5,418.8 L747.2,418.8 L747.9,418.8 L748.6,418.8 L749.3,418.8 L750.0,418.8 L750.7,418.8 L751.4,418.8 L752.1,418.8 L752.8,418.8 L753.5,418.8 L754.2,418.8 L754.9,418.8 L755.6,418.8 L756.3,418.8 L757.0,418.8 L757.7,418.8 L758.4,418.8 L759.1,418.8 L759.8,418.8 L760.5,418.8 L761.2,418.8 L761.9,418.8 L762.6,418.8 L763.3,418.8 L764.0,418.8 L764.7,418.8 L765.4,418.8 L766.1,418.8 L766.8,418.8 L767.5,418.8 L768.2,418.8 L768.9,418.8 L769.6,418.8 L770.3,418.8 L771.0,418.8 L771.7,418.8 L772.4,418.8 L773.1,418.8 L773.8,418.8 L774.5,418.8 L775.2,418.8 L775.9,418.8 L776.6,418.8 L777.3,418.8 L778.0,418.8 L778.7,418.8 L779.4,418.8 L780.1,418.8 L780.8,418.8 L781.5,418.8 L782.2,418.8 L782.9,418.8 L783.6,418.8 L784.3,418.8 L785.0,418.8 L785.7,418.8 L786.4,418.8 L787.1,418.8 L787.8,418.8 L788.5,418.8 L789.2,418.8 L789.9,418.8 L790.6,418.8 L791.3,418.8 L792.0,418.8 L792.7,418.8 L793.4,418.8 L794.1,418.8 L794.8,418.8 L795.5,418.8 L796.2,418.8 L796.9,418.8 L797.6,418.8 L798.3,418.8 L799.0,418.8 L799.7,418.8" fill="none" stroke="#d84040" stroke-width="1.3"/>
<path d="M610.0,418.8 L610.7,418.8 L611.4,418.8 L612.1,418.8 L612.8,418.8 L613.5,418.8 L614.2,418.8 L614.9,418.8 L615.6,418.8 L616.3,418.8 L617.0,418.8 L617.7,418.8 L618.4,418.8 L619.1,418.8 L619.8,418.8 L620.5,418.8 L621.2,418.8 L621.9,418.8 L622.6,418.8 L623.3,418.8 L624.0,418.8 L624.7,418.8 L625.4,418.8 L626.1,418.8 L626.8,418.8 L627.5,418.8 L628.2,418.8 L628.9,418.8 L629.6,418.8 L630.3,418.8 L631.0,418.8 L631.7,418.8 L632.4,418.8 L633.1,418.8 L633.8,418.8 L634.5,418.8 L635.2,418.8 L635.9,418.8 L636.6,418.8 L637.3,418.8 L638.0,418.8 L638.7,418.8 L639.4,418.8 L640.1,418.8 L640.8,418.8 L641.5,418.7 L642.2,418.7 L642.9,418.7 L643.6,418.7 L644.3,418.7 L645.0,418.7 L645.7,418.7 L646.4,418.6 L647.1,418.6 L647.8,418.6 L648.5,418.5 L649.2,418.5 L649.9,418.4 L650.6,418.4 L651.3,418.3 L652.0,418.3 L652.7,418.2 L653.4,418.1 L654.1,418.0 L654.8,417.9 L655.5,417.8 L656.2,417.6 L656.9,417.5 L657.6,417.3 L658.3,417.2 L659.0,417.0 L659.7,416.8 L660.4,416.5 L661.1,416.3 L661.8,416.0 L662.5,415.8 L663.2,415.5 L663.9,415.1 L664.6,414.8 L665.3,414.4 L666.0,414.1 L666.7,413.7 L667.4,413.2 L668.1,412.8 L668.8,412.3 L669.5,411.9 L670.2,411.4 L670.9,410.8 L671.6,410.3 L672.3,409.8 L673.0,409.2 L673.7,408.7 L674.4,408.1 L675.1,407.5 L675.8,407.0 L676.5,406.4 L677.2,405.8 L677.9,405.3 L678.6,404.8 L679.3,404.2 L680.0,403.7 L680.7,403.2 L681.4,402.8 L682.1,402.4 L682.8,402.0 L683.5,401.6 L684.2,401.3 L684.9,401.0 L685.6,400.7 L686.3,400.5 L687.0,400.3 L687.7,400.2 L688.4,400.1 L689.1,400.1 L689.8,400.1 L690.5,400.2 L691.2,400.3 L691.9,400.4 L692.6,400.6 L693.3,400.9 L694.0,401.2 L694.7,401.5 L695.4,401.8 L696.1,402.2 L696.8,402.7 L697.5,403.1 L698.2,403.6 L698.9,404.1 L699.6,404.6 L700.3,405.1 L701.0,405.7 L701.7,406.2 L702.4,406.8 L703.1,407.4 L703.8,407.9 L704.5,408.5 L705.2,409.1 L705.9,409.6 L706.6,410.2 L707.3,410.7 L708.0,411.2 L708.7,411.7 L709.4,412.2 L710.1,412.7 L710.8,413.1 L711.5,413.5 L712.2,413.9 L712.9,414.3 L713.6,414.7 L714.3,415.1 L715.0,415.4 L715.7,415.7 L716.4,416.0 L717.1,416.2 L717.8,416.5 L718.5,416.7 L719.2,416.9 L719.9,417.1 L720.6,417.3 L721.3,417.5 L722.0,417.6 L722.7,417.7 L723.4,417.9 L724.1,418.0 L724.8,418.1 L725.5,418.2 L726.2,418.2 L726.9,418.3 L727.6,418.4 L728.3,418.4 L729.0,418.5 L729.7,418.5 L730.4,418.6 L731.1,418.6 L731.8,418.6 L732.5,418.6 L733.2,418.7 L733.9,418.7 L734.6,418.7 L735.3,418.7 L736.0,418.7 L736.7,418.7 L737.4,418.8 L738.1,418.8 L738.8,418.8 L739.5,418.8 L740.2,418.8 L740.9,418.8 L741.6,418.8 L742.3,418.8 L743.0,418.8 L743.7,418.8 L744.4,418.8 L745.1,418.8 L745.8,418.8 L746.5,418.8 L747.2,418.8 L747.9,418.8 L748.6,418.8 L749.3,418.8 L750.0,418.8 L750.7,418.8 L751.4,418.8 L752.1,418.8 L752.8,418.8 L753.5,418.8 L754.2,418.8 L754.9,418.8 L755.6,418.8 L756.3,418.8 L757.0,418.8 L757.7,418.8 L758.4,418.8 L759.1,418.8 L759.8,418.8 L760.5,418.8 L761.2,418.8 L761.9,418.8 L762.6,418.8 L763.3,418.8 L764.0,418.8 L764.7,418.8 L765.4,418.8 L766.1,418.8 L766.8,418.8 L767.5,418.8 L768.2,418.8 L768.9,418.8 L769.6,418.8 L770.3,418.8 L771.0,418.8 L771.7,418.8 L772.4,418.8 L773.1,418.8 L773.8,418.8 L774.5,418.8 L775.2,418.8 L775.9,418.8 L776.6,418.8 L777.3,418.8 L778.0,418.8 L778.7,418.8 L779.4,418.8 L780.1,418.8 L780.8,418.8 L781.5,418.8 L782.2,418.8 L782.9,418.8 L783.6,418.8 L784.3,418.8 L785.0,418.8 L785.7,418.8 L786.4,418.8 L787.1,418.8 L787.8,418.8 L788.5,418.8 L789.2,418.8 L789.9,418.8 L790.6,418.8 L791.3,418.8 L792.0,418.8 L792.7,418.8 L793.4,418.8 L794.1,418.8 L794.8,418.8 L795.5,418.8 L796.2,418.8 L796.9,418.8 L797.6,418.8 L798.3,418.8 L799.0,418.8 L799.7,418.8" fill="none" stroke="#40d040" stroke-width="1.3"/>
<path d="M610.0,418.8 L610.7,418.8 L611.4,418.8 L612.1,418.8 L612.8,418.8 L613.5,418.8 L614.2,418.8 L614.9,418.8 L615.6,418.8 L616.3,418.8 L617.0,418.8 L617.7,418.8 L618.4,418.8 L619.1,418.8 L619.8,418.8 L620.5,418.8 L621.2,418.8 L621.9,418.8 L622.6,418.8 L623.3,418.8 L624.0,418.8 L624.7,418.8 L625.4,418.8 L626.1,418.8 L626.8,418.8 L627.5,418.8 L628.2,418.8 L628.9,418.8 L629.6,418.8 L630.3,418.8 L631.0,418.8 L631.7,418.8 L632.4,418.8 L633.1,418.8 L633.8,418.8 L634.5,418.8 L635.2,418.8 L635.9,418.8 L636.6,418.8 L637.3,418.8 L638.0,418.8 L638.7,418.8 L639.4,418.8 L640.1,418.8 L640.8,418.8 L641.5,418.8 L642.2,418.8 L642.9,418.8 L643.6,418.8 L644.3,418.8 L645.0,418.8 L645.7,418.8 L646.4,418.8 L647.1,418.8 L647.8,418.8 L648.5,418.8 L649.2,418.8 L649.9,418.8 L650.6,418.8 L651.3,418.8 L652.0,418.8 L652.7,418.8 L653.4,418.8 L654.1,418.8 L654.8,418.8 L655.5,418.8 L656.2,418.8 L656.9,418.8 L657.6,418.8 L658.3,418.8 L659.0,418.8 L659.7,418.8 L660.4,418.8 L661.1,418.8 L661.8,418.8 L662.5,418.8 L663.2,418.8 L663.9,418.8 L664.6,418.8 L665.3,418.8 L666.0,418.8 L666.7,418.8 L667.4,418.8 L668.1,418.8 L668.8,418.8 L669.5,418.8 L670.2,418.8 L670.9,418.8 L671.6,418.8 L672.3,418.8 L673.0,418.8 L673.7,418.8 L674.4,418.8 L675.1,418.8 L675.8,418.8 L676.5,418.8 L677.2,418.8 L677.9,418.8 L678.6,418.8 L679.3,418.8 L680.0,418.8 L680.7,418.8 L681.4,418.8 L682.1,418.8 L682.8,418.8 L683.5,418.8 L684.2,418.8 L684.9,418.8 L685.6,418.8 L686.3,418.8 L687.0,418.8 L687.7,418.8 L688.4,418.8 L689.1,418.8 L689.8,418.8 L690.5,418.8 L691.2,418.8 L691.9,418.8 L692.6,418.8 L693.3,418.8 L694.0,418.8 L694.7,418.8 L695.4,418.8 L696.1,418.8 L696.8,418.8 L697.5,418.8 L698.2,418.8 L698.9,418.8 L699.6,418.8 L700.3,418.8 L701.0,418.8 L701.7,418.8 L702.4,418.8 L703.1,418.8 L703.8,418.8 L704.5,418.8 L705.2,418.8 L705.9,418.7 L706.6,418.7 L707.3,418.7 L708.0,418.7 L708.7,418.6 L709.4,418.6 L710.1,418.6 L710.8,418.5 L711.5,418.4 L712.2,418.3 L712.9,418.2 L713.6,418.1 L714.3,418.0 L715.0,417.8 L715.7,417.7 L716.4,417.4 L717.1,417.2 L717.8,416.9 L718.5,416.7 L719.2,416.3 L719.9,416.0 L720.6,415.6 L721.3,415.2 L722.0,414.7 L722.7,414.2 L723.4,413.7 L724.1,413.2 L724.8,412.6 L725.5,412.1 L726.2,411.5 L726.9,411.0 L727.6,410.4 L728.3,409.9 L729.0,409.3 L729.7,408.8 L730.4,408.4 L731.1,408.0 L731.8,407.6 L732.5,407.3 L733.2,407.1 L733.9,406.9 L734.6,406.8 L735.3,406.8 L736.0,406.8 L736.7,407.0 L737.4,407.2 L738.1,407.4 L738.8,407.7 L739.5,408.1 L740.2,408.5 L740.9,409.0 L741.6,409.5 L742.3,410.0 L743.0,410.6 L743.7,411.1 L744.4,411.7 L745.1,412.2 L745.8,412.8 L746.5,413.3 L747.2,413.9 L747.9,414.4 L748.6,414.8 L749.3,415.3 L750.0,415.7 L750.7,416.1 L751.4,416.4 L752.1,416.7 L752.8,417.0 L753.5,417.3 L754.2,417.5 L754.9,417.7 L755.6,417.9 L756.3,418.0 L757.0,418.2 L757.7,418.3 L758.4,418.4 L759.1,418.4 L759.8,418.5 L760.5,418.6 L761.2,418.6 L761.9,418.7 L762.6,418.7 L763.3,418.7 L764.0,418.7 L764.7,418.7 L765.4,418.8 L766.1,418.8 L766.8,418.8 L767.5,418.8 L768.2,418.8 L768.9,418.8 L769.6,418.8 L770.3,418.8 L771.0,418.8 L771.7,418.8 L772.4,418.8 L773.1,418.8 L773.8,418.8 L774.5,418.8 L775.2,418.8 L775.9,418.8 L776.6,418.8 L777.3,418.8 L778.0,418.8 L778.7,418.8 L779.4,418.8 L780.1,418.8 L780.8,418.8 L781.5,418.8 L782.2,418.8 L782.9,418.8 L783.6,418.8 L784.3,418.8 L785.0,418.8 L785.7,418.8 L786.4,418.8 L787.1,418.8 L787.8,418.8 L788.5,418.8 L789.2,418.8 L789.9,418.8 L790.6,418.8 L791.3,418.8 L792.0,418.8 L792.7,418.8 L793.4,418.8 L794.1,418.8 L794.8,418.8 L795.5,418.8 L796.2,418.8 L796.9,418.8 L797.6,418.8 L798.3,418.8 L799.0,418.8 L799.7,418.8" fill="none" stroke="#2c2cc0" stroke-width="1.3"/>
<path d="M610.0,418.8 L610.7,418.8 L611.4,418.8 L612.1,418.8 L612.8,418.8 L613.5,418.8 L614.2,418.8 L614.9,418.8 L615.6,418.8 L616.3,418.8 L617.0,418.8 L617.7,418.8 L618.4,418.8 L619.1,418.8 L619.8,418.8 L620.5,418.8 L621.2,418.8 L621.9,418.8 L622.6,418.8 L623.3,418.8 L624.0,418.8 L624.7,418.8 L625.4,418.8 L626.1,418.8 L626.8,418.8 L627.5,418.8 L628.2,418.8 L628.9,418.8 L629.6,418.8 L630.3,418.8 L631.0,418.8 L631.7,418.8 L632.4,418.8 L633.1,418.8 L633.8,418.8 L634.5,418.8 L635.2,418.8 L635.9,418.8 L636.6,418.8 L637.3,418.7 L638.0,418.7 L638.7,418.7 L639.4,418.7 L640.1,418.7 L640.8,418.6 L641.5,418.5 L642.2,418.5 L642.9,418.4 L643.6,418.3 L644.3,418.1 L645.0,417.9 L645.7,417.7 L646.4,417.4 L647.1,417.1 L647.8,416.6 L648.5,416.1 L649.2,415.5 L649.9,414.8 L650.6,413.9 L651.3,412.8 L652.0,411.6 L652.7,410.2 L653.4,408.6 L654.1,406.7 L654.8,404.5 L655.5,402.1 L656.2,399.4 L656.9,396.3 L657.6,393.0 L658.3,389.3 L659.0,385.3 L659.7,381.0 L660.4,376.4 L661.1,371.6 L661.8,366.5 L662.5,361.2 L663.2,355.7 L663.9,350.2 L664.6,344.6 L665.3,339.1 L666.0,333.7 L666.7,328.5 L667.4,323.5 L668.1,318.9 L668.8,314.7 L669.5,310.9 L670.2,307.7 L670.9,305.0 L671.6,303.0 L672.3,301.7 L673.0,301.0 L673.7,300.9 L674.4,301.6 L675.1,302.9 L675.8,304.8 L676.5,307.3 L677.2,310.3 L677.9,313.7 L678.6,317.6 L679.3,321.8 L680.0,326.2 L680.7,330.9 L681.4,335.6 L682.1,340.4 L682.8,345.2 L683.5,349.9 L684.2,354.5 L684.9,358.9 L685.6,363.1 L686.3,367.1 L687.0,370.9 L687.7,374.4 L688.4,377.6 L689.1,380.6 L689.8,383.4 L690.5,385.9 L691.2,388.1 L691.9,390.2 L692.6,392.0 L693.3,393.7 L694.0,395.2 L694.7,396.6 L695.4,397.8 L696.1,399.0 L696.8,400.0 L697.5,401.0 L698.2,401.9 L698.9,402.8 L699.6,403.6 L700.3,404.3 L701.0,405.0 L701.7,405.7 L702.4,406.4 L703.1,407.1 L703.8,407.7 L704.5,408.3 L705.2,408.9 L705.9,409.5 L706.6,410.0 L707.3,410.5 L708.0,411.0 L708.7,411.5 L709.4,412.0 L710.1,412.4 L710.8,412.8 L711.5,413.2 L712.2,413.5 L712.9,413.8 L713.6,414.0 L714.3,414.2 L715.0,414.4 L715.7,414.5 L716.4,414.6 L717.1,414.6 L717.8,414.6 L718.5,414.6 L719.2,414.4 L719.9,414.3 L720.6,414.1 L721.3,413.8 L722.0,413.5 L722.7,413.2 L723.4,412.8 L724.1,412.4 L724.8,411.9 L725.5,411.4 L726.2,411.0 L726.9,410.5 L727.6,410.0 L728.3,409.5 L729.0,409.0 L729.7,408.6 L730.4,408.1 L731.1,407.8 L731.8,407.4 L732.5,407.2 L733.2,407.0 L733.9,406.8 L734.6,406.7 L735.3,406.7 L736.0,406.8 L736.7,406.9 L737.4,407.1 L738.1,407.4 L738.8,407.7 L739.5,408.1 L740.2,408.5 L740.9,409.0 L741.6,409.5 L742.3,410.0 L743.0,410.5 L743.7,411.1 L744.4,411.7 L745.1,412.2 L745.8,412.8 L746.5,413.3 L747.2,413.9 L747.9,414.4 L748.6,414.8 L749.3,415.3 L750.0,415.7 L750.7,416.1 L751.4,416.4 L752.1,416.7 L752.8,417.0 L753.5,417.3 L754.2,417.5 L754.9,417.7 L755.6,417.9 L756.3,418.0 L757.0,418.2 L757.7,418.3 L758.4,418.4 L759.1,418.4 L759.8,418.5 L760.5,418.6 L761.2,418.6 L761.9,418.7 L762.6,418.7 L763.3,418.7 L764.0,418.7 L764.7,418.7 L765.4,418.8 L766.1,418.8 L766.8,418.8 L767.5,418.8 L768.2,418.8 L768.9,418.8 L769.6,418.8 L770.3,418.8 L771.0,418.8 L771.7,418.8 L772.4,418.8 L773.1,418.8 L773.8,418.8 L774.5,418.8 L775.2,418.8 L775.9,418.8 L776.6,418.8 L777.3,418.8 L778.0,418.8 L778.7,418.8 L779.4,418.8 L780.1,418.8 L780.8,418.8 L781.5,418.8 L782.2,418.8 L782.9,418.8 L783.6,418.8 L784.3,418.8 L785.0,418.8 L785.7,418.8 L786.4,418.8 L787.1,418.8 L787.8,418.8 L788.5,418.8 L789.2,418.8 L789.9,418.8 L790.6,418.8 L791.3,418.8 L792.0,418.8 L792.7,418.8 L793.4,418.8 L794.1,418.8 L794.8,418.8 L795.5,418.8 L796.2,418.8 L796.9,418.8 L797.6,418.8 L798.3,418.8 L799.0,418.8 L799.7,418.8" fill="none" stroke="#44dcdc" stroke-width="1.8"/>
<circle cx="700.1" cy="285.7" r="2.6" fill="none" stroke="#333" stroke-width="0.9"/>
<text x="712.2" y="288.8" font-family="Liberation Sans" font-size="8.7" fill="#1a1a1a" text-anchor="start" stroke="#1a1a1a" stroke-width="0.15"><tspan dy="-0.00">Subtracted from "Counts"</tspan></text>
<path d="M689.7,296.6 H710.1" stroke="#d84040" stroke-width="1.4"/>
<text x="712.2" y="299.7" font-family="Liberation Sans" font-size="8.7" fill="#1a1a1a" text-anchor="start" stroke="#1a1a1a" stroke-width="0.15"><tspan dy="-0.00">C-C</tspan></text>
<path d="M689.7,307.3 H710.1" stroke="#40d040" stroke-width="1.4"/>
<text x="712.2" y="310.4" font-family="Liberation Sans" font-size="8.7" fill="#1a1a1a" text-anchor="start" stroke="#1a1a1a" stroke-width="0.15"><tspan dy="-0.00">C-OH</tspan></text>
<path d="M689.7,317.6 H710.1" stroke="#2c2cc0" stroke-width="1.4"/>
<text x="712.2" y="320.7" font-family="Liberation Sans" font-size="8.7" fill="#1a1a1a" text-anchor="start" stroke="#1a1a1a" stroke-width="0.15"><tspan dy="-0.00">C=O</tspan></text>
<path d="M689.7,328.2 H710.1" stroke="#44dcdc" stroke-width="1.4"/>
<text x="712.2" y="331.3" font-family="Liberation Sans" font-size="8.7" fill="#1a1a1a" text-anchor="start" stroke="#1a1a1a" stroke-width="0.15"><tspan dy="-0.00">Cumulative Fit Peak</tspan></text>
<path d="M158.8,498.1 L158.8,645.5 L342.8,645.5" fill="none" stroke="#6a6a6a" stroke-width="1.2"/>
<path d="M161.6,645.5 v2.0 M179.6,645.5 v3.2 M197.6,645.5 v2.0 M215.6,645.5 v3.2 M233.6,645.5 v2.0 M251.6,645.5 v3.2 M269.6,645.5 v2.0 M287.6,645.5 v3.2 M305.6,645.5 v2.0 M323.6,645.5 v3.2 M341.6,645.5 v2.0" stroke="#6a6a6a" stroke-width="1"/>
<text x="179.6" y="660.3" font-family="Liberation Serif" font-size="11.8" fill="#111" stroke="#111" stroke-width="0.2" text-anchor="middle">707</text>
<text x="215.6" y="660.3" font-family="Liberation Serif" font-size="11.8" fill="#111" stroke="#111" stroke-width="0.2" text-anchor="middle">714</text>
<text x="251.6" y="660.3" font-family="Liberation Serif" font-size="11.8" fill="#111" stroke="#111" stroke-width="0.2" text-anchor="middle">721</text>
<text x="287.6" y="660.3" font-family="Liberation Serif" font-size="11.8" fill="#111" stroke="#111" stroke-width="0.2" text-anchor="middle">728</text>
<text x="323.6" y="660.3" font-family="Liberation Serif" font-size="11.8" fill="#111" stroke="#111" stroke-width="0.2" text-anchor="middle">735</text>
<text x="250.25" y="673" font-family="Liberation Serif" font-size="12.4" fill="#111" stroke="#111" stroke-width="0.2" text-anchor="middle">Binding energy [eV]</text>
<text transform="translate(147.5,563.3) rotate(-90)" x="0" y="0" font-family="Liberation Serif" font-size="12.3" fill="#111" stroke="#111" stroke-width="0.2" text-anchor="middle">Intensity (a.u.)</text>
<text x="160" y="509.5" font-family="Liberation Serif" font-size="9" fill="#333" stroke="#333" stroke-width="0.35">Fe 2p</text>
<use href="#c" x="159.8" y="624.1"/>
<use href="#c" x="159.0" y="624.2"/>
<use href="#c" x="159.8" y="622.2"/>
<use href="#c" x="161.3" y="627.9"/>
<use href="#c" x="161.6" y="627.7"/>
<use href="#c" x="162.0" y="625.9"/>
<use href="#c" x="163.7" y="620.1"/>
<use href="#c" x="163.6" y="626.2"/>
<use href="#c" x="160.6" y="620.0"/>
<use href="#c" x="163.2" y="622.3"/>
<use href="#c" x="164.4" y="625.6"/>
<use href="#c" x="164.0" y="626.2"/>
<use href="#c" x="166.2" y="625.6"/>
<use href="#c" x="168.9" y="622.9"/>
<use href="#c" x="168.6" y="626.3"/>
<use href="#c" x="166.1" y="623.0"/>
<use href="#c" x="167.6" y="623.8"/>
<use href="#c" x="168.7" y="626.5"/>
<use href="#c" x="167.4" y="623.4"/>
<use href="#c" x="171.4" y="623.2"/>
<use href="#c" x="170.4" y="622.4"/>
<use href="#c" x="168.2" y="625.8"/>
<use href="#c" x="173.2" y="624.7"/>
<use href="#c" x="171.1" y="618.9"/>
<use href="#c" x="170.9" y="624.2"/>
<use href="#c" x="172.7" y="625.8"/>
<use href="#c" x="174.6" y="620.3"/>
<use href="#c" x="175.4" y="626.2"/>
<use href="#c" x="175.0" y="628.2"/>
<use href="#c" x="172.9" y="624.4"/>
<use href="#c" x="174.5" y="625.7"/>
<use href="#c" x="174.0" y="622.5"/>
<use href="#c" x="175.8" y="620.9"/>
<use href="#c" x="173.9" y="627.0"/>
<use href="#c" x="178.1" y="619.0"/>
<use href="#c" x="179.2" y="626.8"/>
<use href="#c" x="174.8" y="617.0"/>
<use href="#c" x="178.2" y="622.9"/>
<use href="#c" x="181.5" y="618.2"/>
<use href="#c" x="180.7" y="623.8"/>
<use href="#c" x="181.7" y="620.6"/>
<use href="#c" x="182.5" y="623.5"/>
<use href="#c" x="183.0" y="619.4"/>
<use href="#c" x="184.7" y="612.3"/>
<use href="#c" x="184.0" y="618.0"/>
<use href="#c" x="182.7" y="608.3"/>
<use href="#c" x="181.4" y="614.4"/>
<use href="#c" x="186.5" y="609.5"/>
<use href="#c" x="188.0" y="604.1"/>
<use href="#c" x="185.7" y="606.9"/>
<use href="#c" x="187.5" y="603.6"/>
<use href="#c" x="188.9" y="600.1"/>
<use href="#c" x="186.9" y="594.8"/>
<use href="#c" x="188.2" y="596.2"/>
<use href="#c" x="190.2" y="587.2"/>
<use href="#c" x="188.5" y="590.1"/>
<use href="#c" x="189.6" y="578.2"/>
<use href="#c" x="189.9" y="577.6"/>
<use href="#c" x="189.3" y="577.9"/>
<use href="#c" x="189.4" y="573.4"/>
<use href="#c" x="193.0" y="563.6"/>
<use href="#c" x="193.9" y="564.9"/>
<use href="#c" x="193.3" y="558.8"/>
<use href="#c" x="194.6" y="554.5"/>
<use href="#c" x="194.6" y="550.1"/>
<use href="#c" x="194.8" y="549.0"/>
<use href="#c" x="196.2" y="546.7"/>
<use href="#c" x="196.4" y="547.6"/>
<use href="#c" x="195.8" y="538.7"/>
<use href="#c" x="198.4" y="538.2"/>
<use href="#c" x="198.1" y="536.0"/>
<use href="#c" x="193.9" y="541.3"/>
<use href="#c" x="199.0" y="532.7"/>
<use href="#c" x="199.5" y="537.0"/>
<use href="#c" x="200.7" y="535.2"/>
<use href="#c" x="199.4" y="538.1"/>
<use href="#c" x="201.4" y="545.4"/>
<use href="#c" x="201.2" y="538.7"/>
<use href="#c" x="201.8" y="541.5"/>
<use href="#c" x="201.7" y="536.6"/>
<use href="#c" x="201.1" y="549.4"/>
<use href="#c" x="205.1" y="548.8"/>
<use href="#c" x="206.5" y="553.9"/>
<use href="#c" x="204.1" y="549.3"/>
<use href="#c" x="206.2" y="555.7"/>
<use href="#c" x="201.5" y="562.2"/>
<use href="#c" x="204.0" y="564.6"/>
<use href="#c" x="204.5" y="565.8"/>
<use href="#c" x="209.3" y="566.6"/>
<use href="#c" x="208.3" y="567.7"/>
<use href="#c" x="208.7" y="572.3"/>
<use href="#c" x="211.5" y="571.6"/>
<use href="#c" x="209.1" y="576.4"/>
<use href="#c" x="208.3" y="582.6"/>
<use href="#c" x="210.3" y="578.7"/>
<use href="#c" x="212.4" y="577.7"/>
<use href="#c" x="212.8" y="579.0"/>
<use href="#c" x="209.9" y="575.0"/>
<use href="#c" x="211.4" y="581.9"/>
<use href="#c" x="211.1" y="578.0"/>
<use href="#c" x="215.2" y="585.1"/>
<use href="#c" x="213.0" y="586.4"/>
<use href="#c" x="213.3" y="582.9"/>
<use href="#c" x="218.2" y="585.6"/>
<use href="#c" x="218.7" y="581.5"/>
<use href="#c" x="216.5" y="587.4"/>
<use href="#c" x="219.6" y="579.7"/>
<use href="#c" x="216.9" y="585.5"/>
<use href="#c" x="219.1" y="587.5"/>
<use href="#c" x="217.3" y="591.2"/>
<use href="#c" x="221.9" y="590.9"/>
<use href="#c" x="219.8" y="592.5"/>
<use href="#c" x="222.2" y="587.1"/>
<use href="#c" x="221.3" y="590.3"/>
<use href="#c" x="221.3" y="594.8"/>
<use href="#c" x="221.6" y="585.2"/>
<use href="#c" x="224.1" y="587.3"/>
<use href="#c" x="222.4" y="594.3"/>
<use href="#c" x="225.2" y="594.3"/>
<use href="#c" x="226.6" y="595.5"/>
<use href="#c" x="226.7" y="596.0"/>
<use href="#c" x="228.1" y="601.4"/>
<use href="#c" x="227.5" y="596.3"/>
<use href="#c" x="224.9" y="593.9"/>
<use href="#c" x="228.9" y="594.7"/>
<use href="#c" x="227.7" y="597.7"/>
<use href="#c" x="228.3" y="601.6"/>
<use href="#c" x="229.2" y="601.5"/>
<use href="#c" x="229.5" y="609.2"/>
<use href="#c" x="231.6" y="606.6"/>
<use href="#c" x="228.5" y="605.6"/>
<use href="#c" x="232.8" y="605.5"/>
<use href="#c" x="230.6" y="603.4"/>
<use href="#c" x="233.4" y="611.7"/>
<use href="#c" x="234.0" y="609.8"/>
<use href="#c" x="231.4" y="611.1"/>
<use href="#c" x="232.8" y="607.1"/>
<use href="#c" x="233.4" y="614.9"/>
<use href="#c" x="233.7" y="610.5"/>
<use href="#c" x="235.3" y="609.5"/>
<use href="#c" x="236.6" y="611.2"/>
<use href="#c" x="237.1" y="608.6"/>
<use href="#c" x="234.0" y="614.1"/>
<use href="#c" x="237.2" y="618.5"/>
<use href="#c" x="236.8" y="610.8"/>
<use href="#c" x="238.0" y="618.5"/>
<use href="#c" x="240.5" y="620.4"/>
<use href="#c" x="240.4" y="620.6"/>
<use href="#c" x="241.5" y="622.9"/>
<use href="#c" x="237.6" y="620.9"/>
<use href="#c" x="243.6" y="622.5"/>
<use href="#c" x="241.3" y="619.6"/>
<use href="#c" x="239.8" y="626.2"/>
<use href="#c" x="247.0" y="622.4"/>
<use href="#c" x="244.8" y="618.8"/>
<use href="#c" x="244.1" y="627.0"/>
<use href="#c" x="246.2" y="623.6"/>
<use href="#c" x="245.2" y="619.7"/>
<use href="#c" x="247.2" y="623.3"/>
<use href="#c" x="246.1" y="622.5"/>
<use href="#c" x="246.4" y="620.0"/>
<use href="#c" x="247.7" y="625.5"/>
<use href="#c" x="246.8" y="620.7"/>
<use href="#c" x="250.5" y="630.7"/>
<use href="#c" x="245.1" y="625.1"/>
<use href="#c" x="250.5" y="625.1"/>
<use href="#c" x="251.0" y="628.1"/>
<use href="#c" x="251.7" y="623.1"/>
<use href="#c" x="253.1" y="617.8"/>
<use href="#c" x="250.8" y="624.1"/>
<use href="#c" x="255.4" y="626.7"/>
<use href="#c" x="252.0" y="618.8"/>
<use href="#c" x="253.9" y="623.3"/>
<use href="#c" x="252.6" y="620.9"/>
<use href="#c" x="256.4" y="627.5"/>
<use href="#c" x="253.1" y="617.6"/>
<use href="#c" x="257.4" y="624.9"/>
<use href="#c" x="257.6" y="624.4"/>
<use href="#c" x="257.3" y="615.8"/>
<use href="#c" x="256.3" y="611.0"/>
<use href="#c" x="258.8" y="615.5"/>
<use href="#c" x="258.4" y="612.1"/>
<use href="#c" x="259.7" y="613.8"/>
<use href="#c" x="260.0" y="612.6"/>
<use href="#c" x="261.5" y="608.1"/>
<use href="#c" x="259.4" y="607.2"/>
<use href="#c" x="261.3" y="603.5"/>
<use href="#c" x="262.1" y="603.0"/>
<use href="#c" x="262.7" y="601.6"/>
<use href="#c" x="260.9" y="599.5"/>
<use href="#c" x="265.2" y="599.6"/>
<use href="#c" x="263.7" y="598.4"/>
<use href="#c" x="263.1" y="597.3"/>
<use href="#c" x="265.2" y="590.0"/>
<use href="#c" x="266.9" y="592.2"/>
<use href="#c" x="262.0" y="591.6"/>
<use href="#c" x="269.3" y="591.7"/>
<use href="#c" x="265.2" y="593.9"/>
<use href="#c" x="268.7" y="593.3"/>
<use href="#c" x="268.7" y="597.5"/>
<use href="#c" x="270.1" y="601.1"/>
<use href="#c" x="270.5" y="597.9"/>
<use href="#c" x="271.7" y="603.6"/>
<use href="#c" x="268.9" y="602.8"/>
<use href="#c" x="272.4" y="600.5"/>
<use href="#c" x="273.5" y="601.1"/>
<use href="#c" x="273.8" y="604.4"/>
<use href="#c" x="276.9" y="603.0"/>
<use href="#c" x="273.1" y="607.7"/>
<use href="#c" x="278.1" y="605.1"/>
<use href="#c" x="275.9" y="604.4"/>
<use href="#c" x="275.1" y="608.5"/>
<use href="#c" x="275.9" y="602.8"/>
<use href="#c" x="278.0" y="607.4"/>
<use href="#c" x="276.7" y="608.8"/>
<use href="#c" x="278.1" y="609.1"/>
<use href="#c" x="277.9" y="607.5"/>
<use href="#c" x="279.4" y="606.3"/>
<use href="#c" x="277.9" y="604.2"/>
<use href="#c" x="277.1" y="607.3"/>
<use href="#c" x="276.8" y="606.2"/>
<use href="#c" x="281.5" y="605.6"/>
<use href="#c" x="281.0" y="609.3"/>
<use href="#c" x="279.4" y="607.3"/>
<use href="#c" x="283.0" y="613.3"/>
<use href="#c" x="281.3" y="611.5"/>
<use href="#c" x="280.4" y="608.1"/>
<use href="#c" x="285.3" y="611.1"/>
<use href="#c" x="284.3" y="603.9"/>
<use href="#c" x="282.1" y="611.3"/>
<use href="#c" x="283.8" y="604.8"/>
<use href="#c" x="283.8" y="608.5"/>
<use href="#c" x="287.0" y="610.7"/>
<use href="#c" x="288.3" y="612.7"/>
<use href="#c" x="289.6" y="615.5"/>
<use href="#c" x="287.4" y="607.9"/>
<use href="#c" x="287.1" y="608.9"/>
<use href="#c" x="289.4" y="612.0"/>
<use href="#c" x="287.4" y="613.9"/>
<use href="#c" x="290.4" y="609.4"/>
<use href="#c" x="290.5" y="612.5"/>
<use href="#c" x="290.3" y="613.2"/>
<use href="#c" x="292.7" y="615.5"/>
<use href="#c" x="291.6" y="613.6"/>
<use href="#c" x="288.8" y="613.5"/>
<use href="#c" x="293.8" y="611.4"/>
<use href="#c" x="294.6" y="610.1"/>
<use href="#c" x="292.6" y="614.9"/>
<use href="#c" x="294.9" y="614.0"/>
<use href="#c" x="296.9" y="616.1"/>
<use href="#c" x="295.1" y="614.8"/>
<use href="#c" x="296.9" y="614.6"/>
<use href="#c" x="298.1" y="617.2"/>
<use href="#c" x="296.0" y="613.2"/>
<use href="#c" x="297.5" y="614.2"/>
<use href="#c" x="299.1" y="612.3"/>
<use href="#c" x="300.0" y="614.1"/>
<use href="#c" x="299.7" y="617.0"/>
<use href="#c" x="300.4" y="622.1"/>
<use href="#c" x="301.6" y="618.8"/>
<use href="#c" x="298.2" y="618.9"/>
<use href="#c" x="302.9" y="613.8"/>
<use href="#c" x="306.8" y="617.7"/>
<use href="#c" x="305.7" y="617.0"/>
<use href="#c" x="305.7" y="618.3"/>
<use href="#c" x="304.5" y="617.7"/>
<use href="#c" x="303.6" y="617.8"/>
<use href="#c" x="304.2" y="619.8"/>
<use href="#c" x="309.8" y="617.3"/>
<use href="#c" x="307.0" y="616.1"/>
<use href="#c" x="307.5" y="620.2"/>
<use href="#c" x="308.5" y="614.8"/>
<use href="#c" x="309.7" y="618.8"/>
<use href="#c" x="312.0" y="615.1"/>
<use href="#c" x="309.7" y="622.1"/>
<use href="#c" x="309.6" y="618.3"/>
<use href="#c" x="309.7" y="621.6"/>
<use href="#c" x="310.6" y="619.7"/>
<use href="#c" x="313.0" y="616.0"/>
<use href="#c" x="312.4" y="621.7"/>
<use href="#c" x="314.3" y="616.2"/>
<use href="#c" x="314.0" y="618.1"/>
<use href="#c" x="315.9" y="622.6"/>
<use href="#c" x="318.3" y="617.0"/>
<use href="#c" x="316.5" y="618.6"/>
<use href="#c" x="315.7" y="616.8"/>
<use href="#c" x="319.2" y="613.9"/>
<use href="#c" x="314.9" y="622.7"/>
<use href="#c" x="314.8" y="614.7"/>
<use href="#c" x="317.2" y="622.3"/>
<use href="#c" x="318.0" y="619.0"/>
<use href="#c" x="317.3" y="618.9"/>
<use href="#c" x="317.3" y="619.4"/>
<use href="#c" x="320.6" y="619.2"/>
<use href="#c" x="320.3" y="620.8"/>
<use href="#c" x="321.5" y="617.1"/>
<use href="#c" x="324.3" y="618.3"/>
<use href="#c" x="322.2" y="621.9"/>
<use href="#c" x="321.8" y="618.6"/>
<use href="#c" x="322.9" y="617.4"/>
<use href="#c" x="324.8" y="620.9"/>
<use href="#c" x="327.9" y="621.8"/>
<use href="#c" x="325.1" y="618.3"/>
<use href="#c" x="322.7" y="628.2"/>
<use href="#c" x="326.5" y="619.0"/>
<use href="#c" x="327.4" y="621.1"/>
<use href="#c" x="327.9" y="620.1"/>
<use href="#c" x="329.1" y="621.0"/>
<use href="#c" x="327.0" y="615.7"/>
<use href="#c" x="327.3" y="621.1"/>
<use href="#c" x="330.5" y="618.3"/>
<use href="#c" x="331.1" y="619.5"/>
<use href="#c" x="331.1" y="623.5"/>
<use href="#c" x="331.0" y="623.0"/>
<use href="#c" x="331.7" y="617.7"/>
<use href="#c" x="331.4" y="623.1"/>
<use href="#c" x="334.0" y="621.7"/>
<use href="#c" x="334.4" y="619.6"/>
<use href="#c" x="333.0" y="627.4"/>
<use href="#c" x="334.2" y="622.7"/>
<use href="#c" x="335.5" y="626.7"/>
<use href="#c" x="334.4" y="625.0"/>
<use href="#c" x="336.1" y="622.6"/>
<use href="#c" x="339.0" y="617.8"/>
<use href="#c" x="334.4" y="625.4"/>
<use href="#c" x="337.5" y="625.0"/>
<use href="#c" x="338.9" y="624.3"/>
<use href="#c" x="338.5" y="619.0"/>
<use href="#c" x="338.5" y="627.4"/>
<use href="#c" x="337.8" y="620.5"/>
<use href="#c" x="341.0" y="620.0"/>
<path d="M159.0,624.8 L159.7,624.8 L160.4,624.8 L161.1,624.8 L161.8,624.8 L162.5,624.8 L163.2,624.8 L163.9,624.8 L164.6,624.8 L165.3,624.8 L166.0,624.8 L166.7,624.8 L167.4,624.8 L168.1,624.8 L168.8,624.8 L169.5,624.8 L170.2,624.8 L170.9,624.8 L171.6,624.8 L172.3,624.7 L173.0,624.7 L173.7,624.7 L174.4,624.6 L175.1,624.6 L175.8,624.4 L176.5,624.3 L177.2,624.1 L177.9,623.9 L178.6,623.5 L179.3,623.1 L180.0,622.6 L180.7,621.9 L181.4,621.0 L182.1,620.0 L182.8,618.7 L183.5,617.1 L184.2,615.3 L184.9,613.2 L185.6,610.7 L186.3,607.9 L187.0,604.7 L187.7,601.2 L188.4,597.5 L189.1,593.4 L189.8,589.2 L190.5,584.8 L191.2,580.3 L191.9,575.9 L192.6,571.7 L193.3,567.7 L194.0,564.0 L194.7,560.9 L195.4,558.3 L196.1,556.3 L196.8,555.1 L197.5,554.6 L198.2,554.9 L198.9,555.9 L199.6,557.7 L200.3,560.1 L201.0,563.1 L201.7,566.6 L202.4,570.5 L203.1,574.7 L203.8,579.1 L204.5,583.5 L205.2,587.9 L205.9,592.2 L206.6,596.3 L207.3,600.2 L208.0,603.8 L208.7,607.0 L209.4,609.9 L210.1,612.5 L210.8,614.7 L211.5,616.6 L212.2,618.3 L212.9,619.6 L213.6,620.7 L214.3,621.7 L215.0,622.4 L215.7,623.0 L216.4,623.4 L217.1,623.8 L217.8,624.1 L218.5,624.3 L219.2,624.4 L219.9,624.5 L220.6,624.6 L221.3,624.7 L222.0,624.7 L222.7,624.7 L223.4,624.8 L224.1,624.8 L224.8,624.8 L225.5,624.8 L226.2,624.8 L226.9,624.8 L227.6,624.8 L228.3,624.8 L229.0,624.8 L229.7,624.8 L230.4,624.8 L231.1,624.8 L231.8,624.8 L232.5,624.8 L233.2,624.8 L233.9,624.8 L234.6,624.8 L235.3,624.8 L236.0,624.8 L236.7,624.8 L237.4,624.8 L238.1,624.8 L238.8,624.8 L239.5,624.8 L240.2,624.8 L240.9,624.8 L241.6,624.8 L242.3,624.8 L243.0,624.8 L243.7,624.8 L244.4,624.8 L245.1,624.8 L245.8,624.8 L246.5,624.8 L247.2,624.8 L247.9,624.8 L248.6,624.8 L249.3,624.8 L250.0,624.8 L250.7,624.8 L251.4,624.8 L252.1,624.8 L252.8,624.8 L253.5,624.8 L254.2,624.8 L254.9,624.8 L255.6,624.8 L256.3,624.8 L257.0,624.8 L257.7,624.8 L258.4,624.8 L259.1,624.8 L259.8,624.8 L260.5,624.8 L261.2,624.8 L261.9,624.8 L262.6,624.8 L263.3,624.8 L264.0,624.8 L264.7,624.8 L265.4,624.8 L266.1,624.8 L266.8,624.8 L267.5,624.8 L268.2,624.8 L268.9,624.8 L269.6,624.8 L270.3,624.8 L271.0,624.8 L271.7,624.8 L272.4,624.8 L273.1,624.8 L273.8,624.8 L274.5,624.8 L275.2,624.8 L275.9,624.8 L276.6,624.8 L277.3,624.8 L278.0,624.8 L278.7,624.8 L279.4,624.8 L280.1,624.8 L280.8,624.8 L281.5,624.8 L282.2,624.8 L282.9,624.8 L283.6,624.8 L284.3,624.8 L285.0,624.8 L285.7,624.8 L286.4,624.8 L287.1,624.8 L287.8,624.8 L288.5,624.8 L289.2,624.8 L289.9,624.8 L290.6,624.8 L291.3,624.8 L292.0,624.8 L292.7,624.8 L293.4,624.8 L294.1,624.8 L294.8,624.8 L295.5,624.8 L296.2,624.8 L296.9,624.8 L297.6,624.8 L298.3,624.8 L299.0,624.8 L299.7,624.8 L300.4,624.8 L301.1,624.8 L301.8,624.8 L302.5,624.8 L303.2,624.8 L303.9,624.8 L304.6,624.8 L305.3,624.8 L306.0,624.8 L306.7,624.8 L307.4,624.8 L308.1,624.8 L308.8,624.8 L309.5,624.8 L310.2,624.8 L310.9,624.8 L311.6,624.8 L312.3,624.8 L313.0,624.8 L313.7,624.8 L314.4,624.8 L315.1,624.8 L315.8,624.8 L316.5,624.8 L317.2,624.8 L317.9,624.8 L318.6,624.8 L319.3,624.8 L320.0,624.8 L320.7,624.8 L321.4,624.8 L322.1,624.8 L322.8,624.8 L323.5,624.8 L324.2,624.8 L324.9,624.8 L325.6,624.8 L326.3,624.8 L327.0,624.8 L327.7,624.8 L328.4,624.8 L329.1,624.8 L329.8,624.8 L330.5,624.8 L331.2,624.8 L331.9,624.8 L332.6,624.8 L333.3,624.8 L334.0,624.8 L334.7,624.8 L335.4,624.8 L336.1,624.8 L336.8,624.8 L337.5,624.8 L338.2,624.8 L338.9,624.8 L339.6,624.8 L340.3,624.8 L341.0,624.8" fill="none" stroke="#d84040" stroke-width="1.3"/>
<path d="M159.0,624.8 L159.7,624.8 L160.4,624.8 L161.1,624.8 L161.8,624.8 L162.5,624.8 L163.2,624.8 L163.9,624.8 L164.6,624.8 L165.3,624.8 L166.0,624.8 L166.7,624.7 L167.4,624.7 L168.1,624.7 L168.8,624.7 L169.5,624.7 L170.2,624.7 L170.9,624.6 L171.6,624.6 L172.3,624.5 L173.0,624.5 L173.7,624.4 L174.4,624.4 L175.1,624.3 L175.8,624.2 L176.5,624.1 L177.2,624.0 L177.9,623.9 L178.6,623.8 L179.3,623.6 L180.0,623.4 L180.7,623.2 L181.4,623.0 L182.1,622.8 L182.8,622.5 L183.5,622.2 L184.2,621.9 L184.9,621.5 L185.6,621.1 L186.3,620.6 L187.0,620.1 L187.7,619.6 L188.4,619.0 L189.1,618.4 L189.8,617.7 L190.5,617.0 L191.2,616.2 L191.9,615.4 L192.6,614.5 L193.3,613.6 L194.0,612.6 L194.7,611.6 L195.4,610.6 L196.1,609.5 L196.8,608.3 L197.5,607.1 L198.2,605.9 L198.9,604.7 L199.6,603.4 L200.3,602.2 L201.0,600.9 L201.7,599.6 L202.4,598.4 L203.1,597.1 L203.8,595.9 L204.5,594.7 L205.2,593.5 L205.9,592.4 L206.6,591.3 L207.3,590.3 L208.0,589.4 L208.7,588.5 L209.4,587.7 L210.1,587.1 L210.8,586.5 L211.5,586.0 L212.2,585.6 L212.9,585.3 L213.6,585.2 L214.3,585.1 L215.0,585.2 L215.7,585.3 L216.4,585.6 L217.1,586.0 L217.8,586.5 L218.5,587.1 L219.2,587.7 L219.9,588.5 L220.6,589.4 L221.3,590.3 L222.0,591.3 L222.7,592.4 L223.4,593.5 L224.1,594.7 L224.8,595.9 L225.5,597.1 L226.2,598.4 L226.9,599.6 L227.6,600.9 L228.3,602.2 L229.0,603.4 L229.7,604.7 L230.4,605.9 L231.1,607.1 L231.8,608.3 L232.5,609.5 L233.2,610.6 L233.9,611.6 L234.6,612.6 L235.3,613.6 L236.0,614.5 L236.7,615.4 L237.4,616.2 L238.1,617.0 L238.8,617.7 L239.5,618.4 L240.2,619.0 L240.9,619.6 L241.6,620.1 L242.3,620.6 L243.0,621.1 L243.7,621.5 L244.4,621.9 L245.1,622.2 L245.8,622.5 L246.5,622.8 L247.2,623.0 L247.9,623.2 L248.6,623.4 L249.3,623.6 L250.0,623.8 L250.7,623.9 L251.4,624.0 L252.1,624.1 L252.8,624.2 L253.5,624.3 L254.2,624.4 L254.9,624.4 L255.6,624.5 L256.3,624.5 L257.0,624.6 L257.7,624.6 L258.4,624.7 L259.1,624.7 L259.8,624.7 L260.5,624.7 L261.2,624.7 L261.9,624.7 L262.6,624.8 L263.3,624.8 L264.0,624.8 L264.7,624.8 L265.4,624.8 L266.1,624.8 L266.8,624.8 L267.5,624.8 L268.2,624.8 L268.9,624.8 L269.6,624.8 L270.3,624.8 L271.0,624.8 L271.7,624.8 L272.4,624.8 L273.1,624.8 L273.8,624.8 L274.5,624.8 L275.2,624.8 L275.9,624.8 L276.6,624.8 L277.3,624.8 L278.0,624.8 L278.7,624.8 L279.4,624.8 L280.1,624.8 L280.8,624.8 L281.5,624.8 L282.2,624.8 L282.9,624.8 L283.6,624.8 L284.3,624.8 L285.0,624.8 L285.7,624.8 L286.4,624.8 L287.1,624.8 L287.8,624.8 L288.5,624.8 L289.2,624.8 L289.9,624.8 L290.6,624.8 L291.3,624.8 L292.0,624.8 L292.7,624.8 L293.4,624.8 L294.1,624.8 L294.8,624.8 L295.5,624.8 L296.2,624.8 L296.9,624.8 L297.6,624.8 L298.3,624.8 L299.0,624.8 L299.7,624.8 L300.4,624.8 L301.1,624.8 L301.8,624.8 L302.5,624.8 L303.2,624.8 L303.9,624.8 L304.6,624.8 L305.3,624.8 L306.0,624.8 L306.7,624.8 L307.4,624.8 L308.1,624.8 L308.8,624.8 L309.5,624.8 L310.2,624.8 L310.9,624.8 L311.6,624.8 L312.3,624.8 L313.0,624.8 L313.7,624.8 L314.4,624.8 L315.1,624.8 L315.8,624.8 L316.5,624.8 L317.2,624.8 L317.9,624.8 L318.6,624.8 L319.3,624.8 L320.0,624.8 L320.7,624.8 L321.4,624.8 L322.1,624.8 L322.8,624.8 L323.5,624.8 L324.2,624.8 L324.9,624.8 L325.6,624.8 L326.3,624.8 L327.0,624.8 L327.7,624.8 L328.4,624.8 L329.1,624.8 L329.8,624.8 L330.5,624.8 L331.2,624.8 L331.9,624.8 L332.6,624.8 L333.3,624.8 L334.0,624.8 L334.7,624.8 L335.4,624.8 L336.1,624.8 L336.8,624.8 L337.5,624.8 L338.2,624.8 L338.9,624.8 L339.6,624.8 L340.3,624.8 L341.0,624.8" fill="none" stroke="#40d040" stroke-width="1.3"/>
<path d="M159.0,624.8 L159.7,624.8 L160.4,624.8 L161.1,624.8 L161.8,624.8 L162.5,624.8 L163.2,624.8 L163.9,624.8 L164.6,624.8 L165.3,624.8 L166.0,624.8 L166.7,624.8 L167.4,624.8 L168.1,624.8 L168.8,624.8 L169.5,624.8 L170.2,624.8 L170.9,624.8 L171.6,624.8 L172.3,624.8 L173.0,624.8 L173.7,624.8 L174.4,624.8 L175.1,624.8 L175.8,624.8 L176.5,624.8 L177.2,624.8 L177.9,624.8 L178.6,624.8 L179.3,624.8 L180.0,624.8 L180.7,624.8 L181.4,624.8 L182.1,624.8 L182.8,624.8 L183.5,624.8 L184.2,624.8 L184.9,624.8 L185.6,624.8 L186.3,624.8 L187.0,624.8 L187.7,624.8 L188.4,624.8 L189.1,624.8 L189.8,624.8 L190.5,624.8 L191.2,624.8 L191.9,624.8 L192.6,624.8 L193.3,624.8 L194.0,624.8 L194.7,624.8 L195.4,624.8 L196.1,624.8 L196.8,624.8 L197.5,624.8 L198.2,624.8 L198.9,624.8 L199.6,624.8 L200.3,624.8 L201.0,624.8 L201.7,624.8 L202.4,624.8 L203.1,624.8 L203.8,624.8 L204.5,624.8 L205.2,624.8 L205.9,624.8 L206.6,624.8 L207.3,624.8 L208.0,624.8 L208.7,624.8 L209.4,624.8 L210.1,624.8 L210.8,624.8 L211.5,624.8 L212.2,624.8 L212.9,624.8 L213.6,624.8 L214.3,624.8 L215.0,624.8 L215.7,624.8 L216.4,624.8 L217.1,624.8 L217.8,624.8 L218.5,624.8 L219.2,624.8 L219.9,624.8 L220.6,624.8 L221.3,624.8 L222.0,624.8 L222.7,624.8 L223.4,624.8 L224.1,624.8 L224.8,624.8 L225.5,624.8 L226.2,624.8 L226.9,624.8 L227.6,624.8 L228.3,624.8 L229.0,624.8 L229.7,624.8 L230.4,624.8 L231.1,624.8 L231.8,624.8 L232.5,624.8 L233.2,624.8 L233.9,624.8 L234.6,624.8 L235.3,624.8 L236.0,624.8 L236.7,624.8 L237.4,624.8 L238.1,624.8 L238.8,624.8 L239.5,624.8 L240.2,624.8 L240.9,624.8 L241.6,624.8 L242.3,624.8 L243.0,624.8 L243.7,624.8 L244.4,624.8 L245.1,624.8 L245.8,624.8 L246.5,624.8 L247.2,624.8 L247.9,624.8 L248.6,624.8 L249.3,624.7 L250.0,624.7 L250.7,624.6 L251.4,624.5 L252.1,624.3 L252.8,624.1 L253.5,623.8 L254.2,623.3 L254.9,622.7 L255.6,622.0 L256.3,621.1 L257.0,619.9 L257.7,618.6 L258.4,617.0 L259.1,615.3 L259.8,613.4 L260.5,611.4 L261.2,609.5 L261.9,607.6 L262.6,605.8 L263.3,604.4 L264.0,603.2 L264.7,602.5 L265.4,602.3 L266.1,602.5 L266.8,603.2 L267.5,604.4 L268.2,605.8 L268.9,607.6 L269.6,609.5 L270.3,611.4 L271.0,613.4 L271.7,615.3 L272.4,617.0 L273.1,618.6 L273.8,619.9 L274.5,621.1 L275.2,622.0 L275.9,622.7 L276.6,623.3 L277.3,623.8 L278.0,624.1 L278.7,624.3 L279.4,624.5 L280.1,624.6 L280.8,624.7 L281.5,624.7 L282.2,624.8 L282.9,624.8 L283.6,624.8 L284.3,624.8 L285.0,624.8 L285.7,624.8 L286.4,624.8 L287.1,624.8 L287.8,624.8 L288.5,624.8 L289.2,624.8 L289.9,624.8 L290.6,624.8 L291.3,624.8 L292.0,624.8 L292.7,624.8 L293.4,624.8 L294.1,624.8 L294.8,624.8 L295.5,624.8 L296.2,624.8 L296.9,624.8 L297.6,624.8 L298.3,624.8 L299.0,624.8 L299.7,624.8 L300.4,624.8 L301.1,624.8 L301.8,624.8 L302.5,624.8 L303.2,624.8 L303.9,624.8 L304.6,624.8 L305.3,624.8 L306.0,624.8 L306.7,624.8 L307.4,624.8 L308.1,624.8 L308.8,624.8 L309.5,624.8 L310.2,624.8 L310.9,624.8 L311.6,624.8 L312.3,624.8 L313.0,624.8 L313.7,624.8 L314.4,624.8 L315.1,624.8 L315.8,624.8 L316.5,624.8 L317.2,624.8 L317.9,624.8 L318.6,624.8 L319.3,624.8 L320.0,624.8 L320.7,624.8 L321.4,624.8 L322.1,624.8 L322.8,624.8 L323.5,624.8 L324.2,624.8 L324.9,624.8 L325.6,624.8 L326.3,624.8 L327.0,624.8 L327.7,624.8 L328.4,624.8 L329.1,624.8 L329.8,624.8 L330.5,624.8 L331.2,624.8 L331.9,624.8 L332.6,624.8 L333.3,624.8 L334.0,624.8 L334.7,624.8 L335.4,624.8 L336.1,624.8 L336.8,624.8 L337.5,624.8 L338.2,624.8 L338.9,624.8 L339.6,624.8 L340.3,624.8 L341.0,624.8" fill="none" stroke="#2c2cc0" stroke-width="1.3"/>
<path d="M159.0,624.8 L159.7,624.8 L160.4,624.8 L161.1,624.8 L161.8,624.8 L162.5,624.8 L163.2,624.8 L163.9,624.8 L164.6,624.8 L165.3,624.8 L166.0,624.8 L166.7,624.8 L167.4,624.8 L168.1,624.8 L168.8,624.8 L169.5,624.8 L170.2,624.8 L170.9,624.8 L171.6,624.8 L172.3,624.8 L173.0,624.8 L173.7,624.8 L174.4,624.8 L175.1,624.8 L175.8,624.8 L176.5,624.8 L177.2,624.8 L177.9,624.8 L178.6,624.8 L179.3,624.8 L180.0,624.8 L180.7,624.8 L181.4,624.8 L182.1,624.8 L182.8,624.8 L183.5,624.8 L184.2,624.8 L184.9,624.8 L185.6,624.8 L186.3,624.8 L187.0,624.8 L187.7,624.8 L188.4,624.8 L189.1,624.8 L189.8,624.8 L190.5,624.8 L191.2,624.8 L191.9,624.8 L192.6,624.8 L193.3,624.8 L194.0,624.8 L194.7,624.8 L195.4,624.8 L196.1,624.8 L196.8,624.8 L197.5,624.8 L198.2,624.8 L198.9,624.8 L199.6,624.8 L200.3,624.8 L201.0,624.8 L201.7,624.8 L202.4,624.8 L203.1,624.8 L203.8,624.8 L204.5,624.8 L205.2,624.8 L205.9,624.8 L206.6,624.8 L207.3,624.8 L208.0,624.8 L208.7,624.8 L209.4,624.8 L210.1,624.8 L210.8,624.8 L211.5,624.8 L212.2,624.8 L212.9,624.8 L213.6,624.8 L214.3,624.8 L215.0,624.8 L215.7,624.8 L216.4,624.8 L217.1,624.8 L217.8,624.8 L218.5,624.8 L219.2,624.8 L219.9,624.8 L220.6,624.8 L221.3,624.8 L222.0,624.8 L222.7,624.8 L223.4,624.8 L224.1,624.8 L224.8,624.8 L225.5,624.8 L226.2,624.8 L226.9,624.8 L227.6,624.8 L228.3,624.8 L229.0,624.8 L229.7,624.8 L230.4,624.8 L231.1,624.8 L231.8,624.8 L232.5,624.8 L233.2,624.8 L233.9,624.8 L234.6,624.8 L235.3,624.8 L236.0,624.8 L236.7,624.8 L237.4,624.8 L238.1,624.8 L238.8,624.8 L239.5,624.8 L240.2,624.8 L240.9,624.8 L241.6,624.8 L242.3,624.8 L243.0,624.8 L243.7,624.8 L244.4,624.7 L245.1,624.7 L245.8,624.7 L246.5,624.7 L247.2,624.7 L247.9,624.6 L248.6,624.6 L249.3,624.6 L250.0,624.5 L250.7,624.4 L251.4,624.4 L252.1,624.3 L252.8,624.2 L253.5,624.0 L254.2,623.9 L254.9,623.7 L255.6,623.6 L256.3,623.3 L257.0,623.1 L257.7,622.8 L258.4,622.5 L259.1,622.2 L259.8,621.8 L260.5,621.4 L261.2,621.0 L261.9,620.5 L262.6,620.0 L263.3,619.4 L264.0,618.8 L264.7,618.2 L265.4,617.6 L266.1,616.9 L266.8,616.2 L267.5,615.5 L268.2,614.8 L268.9,614.1 L269.6,613.4 L270.3,612.7 L271.0,612.0 L271.7,611.4 L272.4,610.8 L273.1,610.2 L273.8,609.7 L274.5,609.2 L275.2,608.8 L275.9,608.5 L276.6,608.3 L277.3,608.1 L278.0,608.0 L278.7,608.0 L279.4,608.1 L280.1,608.2 L280.8,608.5 L281.5,608.8 L282.2,609.2 L282.9,609.6 L283.6,610.1 L284.3,610.7 L285.0,611.3 L285.7,611.9 L286.4,612.6 L287.1,613.3 L287.8,614.0 L288.5,614.7 L289.2,615.4 L289.9,616.1 L290.6,616.8 L291.3,617.5 L292.0,618.1 L292.7,618.8 L293.4,619.3 L294.1,619.9 L294.8,620.4 L295.5,620.9 L296.2,621.4 L296.9,621.8 L297.6,622.1 L298.3,622.5 L299.0,622.8 L299.7,623.1 L300.4,623.3 L301.1,623.5 L301.8,623.7 L302.5,623.9 L303.2,624.0 L303.9,624.1 L304.6,624.3 L305.3,624.3 L306.0,624.4 L306.7,624.5 L307.4,624.5 L308.1,624.6 L308.8,624.6 L309.5,624.7 L310.2,624.7 L310.9,624.7 L311.6,624.7 L312.3,624.7 L313.0,624.8 L313.7,624.8 L314.4,624.8 L315.1,624.8 L315.8,624.8 L316.5,624.8 L317.2,624.8 L317.9,624.8 L318.6,624.8 L319.3,624.8 L320.0,624.8 L320.7,624.8 L321.4,624.8 L322.1,624.8 L322.8,624.8 L323.5,624.8 L324.2,624.8 L324.9,624.8 L325.6,624.8 L326.3,624.8 L327.0,624.8 L327.7,624.8 L328.4,624.8 L329.1,624.8 L329.8,624.8 L330.5,624.8 L331.2,624.8 L331.9,624.8 L332.6,624.8 L333.3,624.8 L334.0,624.8 L334.7,624.8 L335.4,624.8 L336.1,624.8 L336.8,624.8 L337.5,624.8 L338.2,624.8 L338.9,624.8 L339.6,624.8 L340.3,624.8 L341.0,624.8" fill="none" stroke="#44dcdc" stroke-width="1.3"/>
<path d="M159.0,624.8 L159.7,624.8 L160.4,624.8 L161.1,624.8 L161.8,624.8 L162.5,624.8 L163.2,624.8 L163.9,624.8 L164.6,624.8 L165.3,624.8 L166.0,624.7 L166.7,624.7 L167.4,624.7 L168.1,624.7 L168.8,624.7 L169.5,624.7 L170.2,624.6 L170.9,624.6 L171.6,624.6 L172.3,624.5 L173.0,624.4 L173.7,624.3 L174.4,624.2 L175.1,624.1 L175.8,623.9 L176.5,623.6 L177.2,623.4 L177.9,623.0 L178.6,622.5 L179.3,621.9 L180.0,621.2 L180.7,620.3 L181.4,619.2 L182.1,617.9 L182.8,616.4 L183.5,614.5 L184.2,612.4 L184.9,609.8 L185.6,606.9 L186.3,603.7 L187.0,600.0 L187.7,596.0 L188.4,591.7 L189.1,587.0 L189.8,582.1 L190.5,576.9 L191.2,571.7 L191.9,566.5 L192.6,561.4 L193.3,556.5 L194.0,551.9 L194.7,547.7 L195.4,544.0 L196.1,541.0 L196.8,538.6 L197.5,536.9 L198.2,536.0 L198.9,535.8 L199.6,536.3 L200.3,537.5 L201.0,539.2 L201.7,541.4 L202.4,544.0 L203.1,547.0 L203.8,550.1 L204.5,553.4 L205.2,556.6 L205.9,559.8 L206.6,562.8 L207.3,565.7 L208.0,568.3 L208.7,570.7 L209.4,572.9 L210.1,574.7 L210.8,576.4 L211.5,577.8 L212.2,579.1 L212.9,580.1 L213.6,581.1 L214.3,582.0 L215.0,582.7 L215.7,583.5 L216.4,584.2 L217.1,585.0 L217.8,585.7 L218.5,586.5 L219.2,587.4 L219.9,588.2 L220.6,589.2 L221.3,590.2 L222.0,591.2 L222.7,592.3 L223.4,593.5 L224.1,594.6 L224.8,595.8 L225.5,597.1 L226.2,598.3 L226.9,599.6 L227.6,600.9 L228.3,602.2 L229.0,603.4 L229.7,604.7 L230.4,605.9 L231.1,607.1 L231.8,608.3 L232.5,609.5 L233.2,610.6 L233.9,611.6 L234.6,612.6 L235.3,613.6 L236.0,614.5 L236.7,615.4 L237.4,616.2 L238.1,617.0 L238.8,617.7 L239.5,618.4 L240.2,619.0 L240.9,619.6 L241.6,620.1 L242.3,620.6 L243.0,621.0 L243.7,621.4 L244.4,621.8 L245.1,622.1 L245.8,622.4 L246.5,622.7 L247.2,622.9 L247.9,623.1 L248.6,623.2 L249.3,623.3 L250.0,623.3 L250.7,623.3 L251.4,623.3 L252.1,623.1 L252.8,622.9 L253.5,622.5 L254.2,622.0 L254.9,621.3 L255.6,620.5 L256.3,619.4 L257.0,618.0 L257.7,616.4 L258.4,614.6 L259.1,612.6 L259.8,610.3 L260.5,608.0 L261.2,605.6 L261.9,603.2 L262.6,600.9 L263.3,598.9 L264.0,597.2 L264.7,595.9 L265.4,595.1 L266.1,594.6 L266.8,594.6 L267.5,595.1 L268.2,595.8 L268.9,596.8 L269.6,598.0 L270.3,599.3 L271.0,600.6 L271.7,601.8 L272.4,602.9 L273.1,603.9 L273.8,604.7 L274.5,605.4 L275.2,605.9 L275.9,606.3 L276.6,606.6 L277.3,606.8 L278.0,607.0 L278.7,607.2 L279.4,607.4 L280.1,607.6 L280.8,607.8 L281.5,608.0 L282.2,608.3 L282.9,608.7 L283.6,609.1 L284.3,609.5 L285.0,609.9 L285.7,610.4 L286.4,610.8 L287.1,611.3 L287.8,611.8 L288.5,612.3 L289.2,612.7 L289.9,613.2 L290.6,613.6 L291.3,614.0 L292.0,614.4 L292.7,614.8 L293.4,615.1 L294.1,615.5 L294.8,615.8 L295.5,616.1 L296.2,616.3 L296.9,616.6 L297.6,616.8 L298.3,617.1 L299.0,617.3 L299.7,617.6 L300.4,617.8 L301.1,618.1 L301.8,618.3 L302.5,618.6 L303.2,618.9 L303.9,619.1 L304.6,619.4 L305.3,619.7 L306.0,620.0 L306.7,620.3 L307.4,620.6 L308.1,620.9 L308.8,621.2 L309.5,621.5 L310.2,621.8 L310.9,622.1 L311.6,622.3 L312.3,622.6 L313.0,622.8 L313.7,623.0 L314.4,623.2 L315.1,623.4 L315.8,623.6 L316.5,623.8 L317.2,623.9 L317.9,624.0 L318.6,624.1 L319.3,624.2 L320.0,624.3 L320.7,624.4 L321.4,624.5 L322.1,624.5 L322.8,624.6 L323.5,624.6 L324.2,624.7 L324.9,624.7 L325.6,624.7 L326.3,624.7 L327.0,624.7 L327.7,624.8 L328.4,624.8 L329.1,624.8 L329.8,624.8 L330.5,624.8 L331.2,624.8 L331.9,624.8 L332.6,624.8 L333.3,624.8 L334.0,624.8 L334.7,624.8 L335.4,624.8 L336.1,624.8 L336.8,624.8 L337.5,624.8 L338.2,624.8 L338.9,624.8 L339.6,624.8 L340.3,624.8 L341.0,624.8" fill="none" stroke="#d040d0" stroke-width="1.8"/>
<circle cx="241.1" cy="497.3" r="2.6" fill="none" stroke="#333" stroke-width="0.9"/>
<text x="252.6" y="500.4" font-family="Liberation Sans" font-size="8.6" fill="#1a1a1a" text-anchor="start" stroke="#1a1a1a" stroke-width="0.15"><tspan dy="-0.00">Subtracted from "Counts" ,</tspan></text>
<path d="M231,507.6 H251.2" stroke="#d84040" stroke-width="1.4"/>
<text x="252.6" y="510.7" font-family="Liberation Sans" font-size="8.6" fill="#1a1a1a" text-anchor="start" stroke="#1a1a1a" stroke-width="0.15"><tspan dy="-0.00">Fe</tspan><tspan dy="2.41" font-size="5.33">3</tspan><tspan dy="-2.41">O</tspan><tspan dy="2.41" font-size="5.33">4</tspan><tspan dy="-2.41"> 2p</tspan><tspan dy="2.41" font-size="5.33">3/2</tspan></text>
<path d="M231,522 H251.2" stroke="#40d040" stroke-width="1.4"/>
<text x="252.6" y="525.1" font-family="Liberation Sans" font-size="8.6" fill="#1a1a1a" text-anchor="start" stroke="#1a1a1a" stroke-width="0.15"><tspan dy="-0.00">Fe</tspan><tspan dy="-3.61" font-size="5.33">3+</tspan><tspan dy="3.61"> satellite</tspan></text>
<path d="M231,532.6 H251.2" stroke="#2c2cc0" stroke-width="1.4"/>
<text x="252.6" y="535.7" font-family="Liberation Sans" font-size="8.6" fill="#1a1a1a" text-anchor="start" stroke="#1a1a1a" stroke-width="0.15"><tspan dy="-0.00">Fe</tspan><tspan dy="2.41" font-size="5.33">3</tspan><tspan dy="-2.41">O</tspan><tspan dy="2.41" font-size="5.33">4</tspan><tspan dy="-2.41"> 2p</tspan><tspan dy="2.41" font-size="5.33">1/2</tspan></text>
<path d="M231,546.4 H251.2" stroke="#44dcdc" stroke-width="1.4"/>
<text x="252.6" y="549.5" font-family="Liberation Sans" font-size="8.6" fill="#1a1a1a" text-anchor="start" stroke="#1a1a1a" stroke-width="0.15"><tspan dy="-0.00">Fe</tspan><tspan dy="-3.61" font-size="5.33">3+</tspan><tspan dy="3.61"> satellite</tspan></text>
<path d="M231,557 H251.2" stroke="#d040d0" stroke-width="1.4"/>
<text x="252.6" y="560.1" font-family="Liberation Sans" font-size="8.6" fill="#1a1a1a" text-anchor="start" stroke="#1a1a1a" stroke-width="0.15"><tspan dy="-0.00">Cumulative Fit Peak</tspan></text>
<text x="206.0" y="537.3" font-family="Liberation Serif" font-size="9" fill="#222" text-anchor="start" stroke="#222" stroke-width="0.3"><tspan dy="-0.00">2p</tspan><tspan dy="2.52" font-size="5.58">3/2</tspan></text>
<text x="279.5" y="587.6" font-family="Liberation Serif" font-size="9" fill="#222" text-anchor="start" stroke="#222" stroke-width="0.3"><tspan dy="-0.00">2p</tspan><tspan dy="2.52" font-size="5.58">1/2</tspan></text>
<path d="M375.5,498.7 L375.5,645 L559.9,645" fill="none" stroke="#6a6a6a" stroke-width="1.2"/>
<path d="M376.7,645 v2.0 M393.4,645 v3.2 M410.1,645 v2.0 M426.8,645 v3.2 M443.6,645 v2.0 M460.3,645 v3.2 M477.0,645 v2.0 M493.8,645 v3.2 M510.5,645 v2.0 M527.2,645 v3.2 M543.9,645 v2.0" stroke="#6a6a6a" stroke-width="1"/>
<text x="393.4" y="660.2" font-family="Liberation Serif" font-size="12.0" fill="#111" stroke="#111" stroke-width="0.2" text-anchor="middle">528</text>
<text x="426.8" y="660.2" font-family="Liberation Serif" font-size="12.0" fill="#111" stroke="#111" stroke-width="0.2" text-anchor="middle">530</text>
<text x="460.3" y="660.2" font-family="Liberation Serif" font-size="12.0" fill="#111" stroke="#111" stroke-width="0.2" text-anchor="middle">532</text>
<text x="493.8" y="660.2" font-family="Liberation Serif" font-size="12.0" fill="#111" stroke="#111" stroke-width="0.2" text-anchor="middle">534</text>
<text x="527.2" y="660.2" font-family="Liberation Serif" font-size="12.0" fill="#111" stroke="#111" stroke-width="0.2" text-anchor="middle">536</text>
<text x="466.8" y="674.7" font-family="Liberation Serif" font-size="12.5" fill="#111" stroke="#111" stroke-width="0.2" text-anchor="middle">Binding energy (eV)</text>
<text transform="translate(365.4,564.6) rotate(-90)" x="0" y="0" font-family="Liberation Serif" font-size="12.2" fill="#111" stroke="#111" stroke-width="0.2" text-anchor="middle">Intensity (a.u.)</text>
<text x="376.4" y="509" font-family="Liberation Serif" font-size="9" fill="#333" stroke="#333" stroke-width="0.35">O1s</text>
<use href="#c" x="376.5" y="630.6"/>
<use href="#c" x="378.2" y="631.2"/>
<use href="#c" x="380.1" y="630.8"/>
<use href="#c" x="382.0" y="630.8"/>
<use href="#c" x="383.8" y="629.7"/>
<use href="#c" x="386.1" y="629.3"/>
<use href="#c" x="388.4" y="630.7"/>
<use href="#c" x="390.1" y="630.6"/>
<use href="#c" x="392.0" y="630.7"/>
<use href="#c" x="394.2" y="628.5"/>
<use href="#c" x="396.1" y="629.6"/>
<use href="#c" x="398.6" y="629.6"/>
<use href="#c" x="400.1" y="630.5"/>
<use href="#c" x="402.2" y="628.4"/>
<use href="#c" x="404.3" y="628.3"/>
<use href="#c" x="406.0" y="627.3"/>
<use href="#c" x="407.8" y="628.7"/>
<use href="#c" x="410.1" y="627.3"/>
<use href="#c" x="411.9" y="626.8"/>
<use href="#c" x="414.5" y="625.0"/>
<use href="#c" x="415.8" y="620.9"/>
<use href="#c" x="417.9" y="619.7"/>
<use href="#c" x="420.3" y="615.0"/>
<use href="#c" x="422.3" y="613.9"/>
<use href="#c" x="424.2" y="611.4"/>
<use href="#c" x="425.5" y="607.6"/>
<use href="#c" x="427.8" y="606.5"/>
<use href="#c" x="430.1" y="603.6"/>
<use href="#c" x="432.0" y="599.0"/>
<use href="#c" x="434.2" y="597.0"/>
<use href="#c" x="436.0" y="588.4"/>
<use href="#c" x="438.1" y="582.3"/>
<use href="#c" x="440.0" y="573.7"/>
<use href="#c" x="442.2" y="562.3"/>
<use href="#c" x="444.3" y="550.9"/>
<use href="#c" x="445.9" y="543.8"/>
<use href="#c" x="448.1" y="537.3"/>
<use href="#c" x="449.5" y="533.3"/>
<use href="#c" x="452.3" y="532.7"/>
<use href="#c" x="454.0" y="529.8"/>
<use href="#c" x="455.8" y="526.9"/>
<use href="#c" x="458.2" y="523.9"/>
<use href="#c" x="460.2" y="520.5"/>
<use href="#c" x="462.1" y="517.2"/>
<use href="#c" x="463.9" y="515.8"/>
<use href="#c" x="466.0" y="515.8"/>
<use href="#c" x="468.2" y="516.4"/>
<use href="#c" x="470.3" y="515.7"/>
<use href="#c" x="472.0" y="517.2"/>
<use href="#c" x="474.0" y="521.5"/>
<use href="#c" x="476.0" y="525.1"/>
<use href="#c" x="478.2" y="528.1"/>
<use href="#c" x="479.8" y="533.7"/>
<use href="#c" x="482.0" y="539.2"/>
<use href="#c" x="483.9" y="545.3"/>
<use href="#c" x="486.0" y="551.2"/>
<use href="#c" x="487.9" y="558.7"/>
<use href="#c" x="490.0" y="564.9"/>
<use href="#c" x="492.5" y="571.1"/>
<use href="#c" x="494.0" y="576.1"/>
<use href="#c" x="495.9" y="581.6"/>
<use href="#c" x="498.0" y="587.6"/>
<use href="#c" x="500.2" y="594.1"/>
<use href="#c" x="502.0" y="597.9"/>
<use href="#c" x="504.1" y="601.6"/>
<use href="#c" x="505.8" y="606.7"/>
<use href="#c" x="508.1" y="610.0"/>
<use href="#c" x="510.1" y="613.9"/>
<use href="#c" x="512.0" y="616.2"/>
<use href="#c" x="513.7" y="618.8"/>
<use href="#c" x="516.0" y="621.0"/>
<use href="#c" x="518.2" y="622.3"/>
<use href="#c" x="520.3" y="626.1"/>
<use href="#c" x="521.8" y="625.6"/>
<use href="#c" x="523.9" y="626.4"/>
<use href="#c" x="526.2" y="627.5"/>
<use href="#c" x="527.7" y="628.0"/>
<use href="#c" x="530.0" y="629.7"/>
<use href="#c" x="531.8" y="630.1"/>
<use href="#c" x="533.8" y="631.3"/>
<use href="#c" x="536.2" y="629.7"/>
<use href="#c" x="537.8" y="627.7"/>
<use href="#c" x="540.3" y="628.6"/>
<use href="#c" x="541.8" y="630.6"/>
<use href="#c" x="543.6" y="628.7"/>
<use href="#c" x="545.8" y="630.3"/>
<use href="#c" x="547.9" y="630.5"/>
<use href="#c" x="550.4" y="628.8"/>
<use href="#c" x="551.9" y="630.6"/>
<use href="#c" x="554.3" y="630.0"/>
<use href="#c" x="555.7" y="630.9"/>
<use href="#c" x="557.9" y="631.5"/>
<path d="M376.0,630.3 L376.7,630.3 L377.4,630.3 L378.1,630.3 L378.8,630.3 L379.5,630.3 L380.2,630.3 L380.9,630.3 L381.6,630.3 L382.3,630.3 L383.0,630.3 L383.7,630.3 L384.4,630.3 L385.1,630.3 L385.8,630.3 L386.5,630.3 L387.2,630.3 L387.9,630.3 L388.6,630.3 L389.3,630.3 L390.0,630.3 L390.7,630.3 L391.4,630.3 L392.1,630.3 L392.8,630.3 L393.5,630.3 L394.2,630.3 L394.9,630.3 L395.6,630.3 L396.3,630.3 L397.0,630.3 L397.7,630.3 L398.4,630.3 L399.1,630.3 L399.8,630.3 L400.5,630.3 L401.2,630.3 L401.9,630.3 L402.6,630.3 L403.3,630.3 L404.0,630.3 L404.7,630.3 L405.4,630.3 L406.1,630.3 L406.8,630.3 L407.5,630.3 L408.2,630.2 L408.9,630.2 L409.6,630.2 L410.3,630.1 L411.0,630.0 L411.7,629.9 L412.4,629.7 L413.1,629.6 L413.8,629.3 L414.5,629.0 L415.2,628.7 L415.9,628.3 L416.6,627.9 L417.3,627.5 L418.0,627.0 L418.7,626.5 L419.4,626.0 L420.1,625.6 L420.8,625.2 L421.5,624.9 L422.2,624.7 L422.9,624.6 L423.6,624.6 L424.3,624.7 L425.0,625.0 L425.7,625.3 L426.4,625.7 L427.1,626.1 L427.8,626.6 L428.5,627.0 L429.2,627.5 L429.9,628.0 L430.6,628.4 L431.3,628.8 L432.0,629.1 L432.7,629.4 L433.4,629.6 L434.1,629.8 L434.8,629.9 L435.5,630.0 L436.2,630.1 L436.9,630.2 L437.6,630.2 L438.3,630.2 L439.0,630.3 L439.7,630.3 L440.4,630.3 L441.1,630.3 L441.8,630.3 L442.5,630.3 L443.2,630.3 L443.9,630.3 L444.6,630.3 L445.3,630.3 L446.0,630.3 L446.7,630.3 L447.4,630.3 L448.1,630.3 L448.8,630.3 L449.5,630.3 L450.2,630.3 L450.9,630.3 L451.6,630.3 L452.3,630.3 L453.0,630.3 L453.7,630.3 L454.4,630.3 L455.1,630.3 L455.8,630.3 L456.5,630.3 L457.2,630.3 L457.9,630.3 L458.6,630.3 L459.3,630.3 L460.0,630.3 L460.7,630.3 L461.4,630.3 L462.1,630.3 L462.8,630.3 L463.5,630.3 L464.2,630.3 L464.9,630.3 L465.6,630.3 L466.3,630.3 L467.0,630.3 L467.7,630.3 L468.4,630.3 L469.1,630.3 L469.8,630.3 L470.5,630.3 L471.2,630.3 L471.9,630.3 L472.6,630.3 L473.3,630.3 L474.0,630.3 L474.7,630.3 L475.4,630.3 L476.1,630.3 L476.8,630.3 L477.5,630.3 L478.2,630.3 L478.9,630.3 L479.6,630.3 L480.3,630.3 L481.0,630.3 L481.7,630.3 L482.4,630.3 L483.1,630.3 L483.8,630.3 L484.5,630.3 L485.2,630.3 L485.9,630.3 L486.6,630.3 L487.3,630.3 L488.0,630.3 L488.7,630.3 L489.4,630.3 L490.1,630.3 L490.8,630.3 L491.5,630.3 L492.2,630.3 L492.9,630.3 L493.6,630.3 L494.3,630.3 L495.0,630.3 L495.7,630.3 L496.4,630.3 L497.1,630.3 L497.8,630.3 L498.5,630.3 L499.2,630.3 L499.9,630.3 L500.6,630.3 L501.3,630.3 L502.0,630.3 L502.7,630.3 L503.4,630.3 L504.1,630.3 L504.8,630.3 L505.5,630.3 L506.2,630.3 L506.9,630.3 L507.6,630.3 L508.3,630.3 L509.0,630.3 L509.7,630.3 L510.4,630.3 L511.1,630.3 L511.8,630.3 L512.5,630.3 L513.2,630.3 L513.9,630.3 L514.6,630.3 L515.3,630.3 L516.0,630.3 L516.7,630.3 L517.4,630.3 L518.1,630.3 L518.8,630.3 L519.5,630.3 L520.2,630.3 L520.9,630.3 L521.6,630.3 L522.3,630.3 L523.0,630.3 L523.7,630.3 L524.4,630.3 L525.1,630.3 L525.8,630.3 L526.5,630.3 L527.2,630.3 L527.9,630.3 L528.6,630.3 L529.3,630.3 L530.0,630.3 L530.7,630.3 L531.4,630.3 L532.1,630.3 L532.8,630.3 L533.5,630.3 L534.2,630.3 L534.9,630.3 L535.6,630.3 L536.3,630.3 L537.0,630.3 L537.7,630.3 L538.4,630.3 L539.1,630.3 L539.8,630.3 L540.5,630.3 L541.2,630.3 L541.9,630.3 L542.6,630.3 L543.3,630.3 L544.0,630.3 L544.7,630.3 L545.4,630.3 L546.1,630.3 L546.8,630.3 L547.5,630.3 L548.2,630.3 L548.9,630.3 L549.6,630.3 L550.3,630.3 L551.0,630.3 L551.7,630.3 L552.4,630.3 L553.1,630.3 L553.8,630.3 L554.5,630.3 L555.2,630.3 L555.9,630.3 L556.6,630.3 L557.3,630.3" fill="none" stroke="#d84040" stroke-width="1.3"/>
<path d="M376.0,630.3 L376.7,630.3 L377.4,630.3 L378.1,630.3 L378.8,630.3 L379.5,630.3 L380.2,630.3 L380.9,630.3 L381.6,630.3 L382.3,630.3 L383.0,630.3 L383.7,630.3 L384.4,630.3 L385.1,630.3 L385.8,630.3 L386.5,630.3 L387.2,630.3 L387.9,630.3 L388.6,630.3 L389.3,630.3 L390.0,630.3 L390.7,630.3 L391.4,630.3 L392.1,630.3 L392.8,630.3 L393.5,630.3 L394.2,630.3 L394.9,630.3 L395.6,630.3 L396.3,630.3 L397.0,630.3 L397.7,630.3 L398.4,630.3 L399.1,630.3 L399.8,630.3 L400.5,630.3 L401.2,630.3 L401.9,630.3 L402.6,630.3 L403.3,630.3 L404.0,630.3 L404.7,630.3 L405.4,630.3 L406.1,630.3 L406.8,630.3 L407.5,630.3 L408.2,630.3 L408.9,630.3 L409.6,630.3 L410.3,630.3 L411.0,630.3 L411.7,630.3 L412.4,630.3 L413.1,630.3 L413.8,630.3 L414.5,630.3 L415.2,630.3 L415.9,630.3 L416.6,630.3 L417.3,630.3 L418.0,630.3 L418.7,630.3 L419.4,630.3 L420.1,630.3 L420.8,630.3 L421.5,630.3 L422.2,630.3 L422.9,630.3 L423.6,630.3 L424.3,630.3 L425.0,630.3 L425.7,630.3 L426.4,630.3 L427.1,630.3 L427.8,630.3 L428.5,630.3 L429.2,630.3 L429.9,630.3 L430.6,630.3 L431.3,630.2 L432.0,630.2 L432.7,630.1 L433.4,630.0 L434.1,629.9 L434.8,629.7 L435.5,629.4 L436.2,629.0 L436.9,628.5 L437.6,627.9 L438.3,627.1 L439.0,626.1 L439.7,625.0 L440.4,623.8 L441.1,622.4 L441.8,621.0 L442.5,619.6 L443.2,618.3 L443.9,617.1 L444.6,616.2 L445.3,615.6 L446.0,615.3 L446.7,615.4 L447.4,615.8 L448.1,616.6 L448.8,617.6 L449.5,618.8 L450.2,620.2 L450.9,621.6 L451.6,623.0 L452.3,624.3 L453.0,625.5 L453.7,626.6 L454.4,627.4 L455.1,628.2 L455.8,628.8 L456.5,629.2 L457.2,629.5 L457.9,629.8 L458.6,630.0 L459.3,630.1 L460.0,630.2 L460.7,630.2 L461.4,630.3 L462.1,630.3 L462.8,630.3 L463.5,630.3 L464.2,630.3 L464.9,630.3 L465.6,630.3 L466.3,630.3 L467.0,630.3 L467.7,630.3 L468.4,630.3 L469.1,630.3 L469.8,630.3 L470.5,630.3 L471.2,630.3 L471.9,630.3 L472.6,630.3 L473.3,630.3 L474.0,630.3 L474.7,630.3 L475.4,630.3 L476.1,630.3 L476.8,630.3 L477.5,630.3 L478.2,630.3 L478.9,630.3 L479.6,630.3 L480.3,630.3 L481.0,630.3 L481.7,630.3 L482.4,630.3 L483.1,630.3 L483.8,630.3 L484.5,630.3 L485.2,630.3 L485.9,630.3 L486.6,630.3 L487.3,630.3 L488.0,630.3 L488.7,630.3 L489.4,630.3 L490.1,630.3 L490.8,630.3 L491.5,630.3 L492.2,630.3 L492.9,630.3 L493.6,630.3 L494.3,630.3 L495.0,630.3 L495.7,630.3 L496.4,630.3 L497.1,630.3 L497.8,630.3 L498.5,630.3 L499.2,630.3 L499.9,630.3 L500.6,630.3 L501.3,630.3 L502.0,630.3 L502.7,630.3 L503.4,630.3 L504.1,630.3 L504.8,630.3 L505.5,630.3 L506.2,630.3 L506.9,630.3 L507.6,630.3 L508.3,630.3 L509.0,630.3 L509.7,630.3 L510.4,630.3 L511.1,630.3 L511.8,630.3 L512.5,630.3 L513.2,630.3 L513.9,630.3 L514.6,630.3 L515.3,630.3 L516.0,630.3 L516.7,630.3 L517.4,630.3 L518.1,630.3 L518.8,630.3 L519.5,630.3 L520.2,630.3 L520.9,630.3 L521.6,630.3 L522.3,630.3 L523.0,630.3 L523.7,630.3 L524.4,630.3 L525.1,630.3 L525.8,630.3 L526.5,630.3 L527.2,630.3 L527.9,630.3 L528.6,630.3 L529.3,630.3 L530.0,630.3 L530.7,630.3 L531.4,630.3 L532.1,630.3 L532.8,630.3 L533.5,630.3 L534.2,630.3 L534.9,630.3 L535.6,630.3 L536.3,630.3 L537.0,630.3 L537.7,630.3 L538.4,630.3 L539.1,630.3 L539.8,630.3 L540.5,630.3 L541.2,630.3 L541.9,630.3 L542.6,630.3 L543.3,630.3 L544.0,630.3 L544.7,630.3 L545.4,630.3 L546.1,630.3 L546.8,630.3 L547.5,630.3 L548.2,630.3 L548.9,630.3 L549.6,630.3 L550.3,630.3 L551.0,630.3 L551.7,630.3 L552.4,630.3 L553.1,630.3 L553.8,630.3 L554.5,630.3 L555.2,630.3 L555.9,630.3 L556.6,630.3 L557.3,630.3" fill="none" stroke="#40d040" stroke-width="1.3"/>
<path d="M376.0,630.3 L376.7,630.3 L377.4,630.3 L378.1,630.3 L378.8,630.3 L379.5,630.3 L380.2,630.3 L380.9,630.3 L381.6,630.3 L382.3,630.3 L383.0,630.3 L383.7,630.2 L384.4,630.2 L385.1,630.2 L385.8,630.2 L386.5,630.2 L387.2,630.2 L387.9,630.2 L388.6,630.2 L389.3,630.2 L390.0,630.1 L390.7,630.1 L391.4,630.1 L392.1,630.1 L392.8,630.0 L393.5,630.0 L394.2,630.0 L394.9,629.9 L395.6,629.9 L396.3,629.9 L397.0,629.8 L397.7,629.7 L398.4,629.7 L399.1,629.6 L399.8,629.5 L400.5,629.5 L401.2,629.4 L401.9,629.3 L402.6,629.2 L403.3,629.0 L404.0,628.9 L404.7,628.8 L405.4,628.6 L406.1,628.5 L406.8,628.3 L407.5,628.1 L408.2,627.9 L408.9,627.6 L409.6,627.4 L410.3,627.1 L411.0,626.8 L411.7,626.5 L412.4,626.2 L413.1,625.8 L413.8,625.5 L414.5,625.1 L415.2,624.6 L415.9,624.1 L416.6,623.7 L417.3,623.1 L418.0,622.6 L418.7,621.9 L419.4,621.3 L420.1,620.6 L420.8,619.9 L421.5,619.2 L422.2,618.3 L422.9,617.5 L423.6,616.6 L424.3,615.7 L425.0,614.7 L425.7,613.6 L426.4,612.6 L427.1,611.4 L427.8,610.2 L428.5,609.0 L429.2,607.7 L429.9,606.3 L430.6,604.9 L431.3,603.5 L432.0,602.0 L432.7,600.4 L433.4,598.8 L434.1,597.1 L434.8,595.4 L435.5,593.6 L436.2,591.8 L436.9,590.0 L437.6,588.1 L438.3,586.1 L439.0,584.1 L439.7,582.1 L440.4,580.0 L441.1,577.9 L441.8,575.8 L442.5,573.6 L443.2,571.4 L443.9,569.2 L444.6,567.0 L445.3,564.8 L446.0,562.5 L446.7,560.3 L447.4,558.1 L448.1,555.8 L448.8,553.6 L449.5,551.4 L450.2,549.3 L450.9,547.1 L451.6,545.0 L452.3,542.9 L453.0,540.9 L453.7,538.9 L454.4,537.0 L455.1,535.1 L455.8,533.3 L456.5,531.6 L457.2,530.0 L457.9,528.4 L458.6,526.9 L459.3,525.5 L460.0,524.2 L460.7,523.0 L461.4,521.9 L462.1,520.9 L462.8,520.0 L463.5,519.2 L464.2,518.6 L464.9,518.0 L465.6,517.6 L466.3,517.3 L467.0,517.1 L467.7,517.0 L468.4,517.0 L469.1,517.2 L469.8,517.5 L470.5,517.9 L471.2,518.4 L471.9,519.0 L472.6,519.8 L473.3,520.6 L474.0,521.6 L474.7,522.7 L475.4,523.9 L476.1,525.1 L476.8,526.5 L477.5,528.0 L478.2,529.5 L478.9,531.1 L479.6,532.8 L480.3,534.6 L481.0,536.5 L481.7,538.4 L482.4,540.3 L483.1,542.3 L483.8,544.4 L484.5,546.5 L485.2,548.6 L485.9,550.8 L486.6,553.0 L487.3,555.2 L488.0,557.4 L488.7,559.7 L489.4,561.9 L490.1,564.1 L490.8,566.4 L491.5,568.6 L492.2,570.8 L492.9,573.0 L493.6,575.2 L494.3,577.3 L495.0,579.4 L495.7,581.5 L496.4,583.5 L497.1,585.5 L497.8,587.5 L498.5,589.4 L499.2,591.3 L499.9,593.1 L500.6,594.9 L501.3,596.6 L502.0,598.3 L502.7,600.0 L503.4,601.5 L504.1,603.1 L504.8,604.5 L505.5,605.9 L506.2,607.3 L506.9,608.6 L507.6,609.9 L508.3,611.1 L509.0,612.2 L509.7,613.3 L510.4,614.4 L511.1,615.4 L511.8,616.3 L512.5,617.3 L513.2,618.1 L513.9,618.9 L514.6,619.7 L515.3,620.4 L516.0,621.1 L516.7,621.8 L517.4,622.4 L518.1,623.0 L518.8,623.5 L519.5,624.0 L520.2,624.5 L520.9,624.9 L521.6,625.4 L522.3,625.7 L523.0,626.1 L523.7,626.4 L524.4,626.8 L525.1,627.1 L525.8,627.3 L526.5,627.6 L527.2,627.8 L527.9,628.0 L528.6,628.2 L529.3,628.4 L530.0,628.6 L530.7,628.7 L531.4,628.9 L532.1,629.0 L532.8,629.1 L533.5,629.2 L534.2,629.3 L534.9,629.4 L535.6,629.5 L536.3,629.6 L537.0,629.7 L537.7,629.7 L538.4,629.8 L539.1,629.8 L539.8,629.9 L540.5,629.9 L541.2,630.0 L541.9,630.0 L542.6,630.0 L543.3,630.1 L544.0,630.1 L544.7,630.1 L545.4,630.1 L546.1,630.2 L546.8,630.2 L547.5,630.2 L548.2,630.2 L548.9,630.2 L549.6,630.2 L550.3,630.2 L551.0,630.2 L551.7,630.2 L552.4,630.3 L553.1,630.3 L553.8,630.3 L554.5,630.3 L555.2,630.3 L555.9,630.3 L556.6,630.3 L557.3,630.3" fill="none" stroke="#2c2cc0" stroke-width="1.3"/>
<path d="M376.0,630.3 L376.7,630.3 L377.4,630.3 L378.1,630.3 L378.8,630.3 L379.5,630.3 L380.2,630.3 L380.9,630.3 L381.6,630.3 L382.3,630.3 L383.0,630.3 L383.7,630.2 L384.4,630.2 L385.1,630.2 L385.8,630.2 L386.5,630.2 L387.2,630.2 L387.9,630.2 L388.6,630.2 L389.3,630.2 L390.0,630.1 L390.7,630.1 L391.4,630.1 L392.1,630.1 L392.8,630.0 L393.5,630.0 L394.2,630.0 L394.9,629.9 L395.6,629.9 L396.3,629.9 L397.0,629.8 L397.7,629.7 L398.4,629.7 L399.1,629.6 L399.8,629.5 L400.5,629.5 L401.2,629.4 L401.9,629.3 L402.6,629.2 L403.3,629.0 L404.0,628.9 L404.7,628.8 L405.4,628.6 L406.1,628.4 L406.8,628.2 L407.5,628.0 L408.2,627.8 L408.9,627.5 L409.6,627.3 L410.3,626.9 L411.0,626.6 L411.7,626.1 L412.4,625.6 L413.1,625.1 L413.8,624.5 L414.5,623.8 L415.2,623.0 L415.9,622.2 L416.6,621.3 L417.3,620.3 L418.0,619.2 L418.7,618.1 L419.4,617.0 L420.1,615.9 L420.8,614.8 L421.5,613.7 L422.2,612.7 L422.9,611.7 L423.6,610.8 L424.3,610.0 L425.0,609.2 L425.7,608.5 L426.4,607.7 L427.1,607.0 L427.8,606.2 L428.5,605.4 L429.2,604.5 L429.9,603.6 L430.6,602.5 L431.3,601.3 L432.0,600.0 L432.7,598.5 L433.4,596.9 L434.1,595.2 L434.8,593.3 L435.5,591.2 L436.2,588.9 L436.9,586.5 L437.6,583.8 L438.3,580.9 L439.0,577.7 L439.7,574.4 L440.4,570.9 L441.1,567.2 L441.8,563.5 L442.5,559.7 L443.2,556.0 L443.9,552.5 L444.6,549.1 L445.3,546.1 L446.0,543.4 L446.7,541.0 L447.4,539.1 L448.1,537.5 L448.8,536.2 L449.5,535.1 L450.2,534.2 L450.9,533.4 L451.6,532.7 L452.3,531.9 L453.0,531.1 L453.7,530.3 L454.4,529.3 L455.1,528.3 L455.8,527.1 L456.5,526.0 L457.2,524.8 L457.9,523.7 L458.6,522.6 L459.3,521.5 L460.0,520.4 L460.7,519.5 L461.4,518.6 L462.1,517.9 L462.8,517.2 L463.5,516.7 L464.2,516.2 L464.9,515.8 L465.6,515.6 L466.3,515.5 L467.0,515.5 L467.7,515.5 L468.4,515.7 L469.1,516.0 L469.8,516.5 L470.5,517.0 L471.2,517.6 L471.9,518.4 L472.6,519.2 L473.3,520.1 L474.0,521.2 L474.7,522.3 L475.4,523.5 L476.1,524.9 L476.8,526.3 L477.5,527.8 L478.2,529.3 L478.9,531.0 L479.6,532.7 L480.3,534.5 L481.0,536.4 L481.7,538.3 L482.4,540.3 L483.1,542.3 L483.8,544.4 L484.5,546.5 L485.2,548.6 L485.9,550.8 L486.6,553.0 L487.3,555.2 L488.0,557.4 L488.7,559.7 L489.4,561.9 L490.1,564.1 L490.8,566.4 L491.5,568.6 L492.2,570.8 L492.9,573.0 L493.6,575.2 L494.3,577.3 L495.0,579.4 L495.7,581.5 L496.4,583.5 L497.1,585.5 L497.8,587.5 L498.5,589.4 L499.2,591.3 L499.9,593.1 L500.6,594.9 L501.3,596.6 L502.0,598.3 L502.7,600.0 L503.4,601.5 L504.1,603.1 L504.8,604.5 L505.5,605.9 L506.2,607.3 L506.9,608.6 L507.6,609.9 L508.3,611.1 L509.0,612.2 L509.7,613.3 L510.4,614.4 L511.1,615.4 L511.8,616.3 L512.5,617.3 L513.2,618.1 L513.9,618.9 L514.6,619.7 L515.3,620.4 L516.0,621.1 L516.7,621.8 L517.4,622.4 L518.1,623.0 L518.8,623.5 L519.5,624.0 L520.2,624.5 L520.9,624.9 L521.6,625.4 L522.3,625.7 L523.0,626.1 L523.7,626.4 L524.4,626.8 L525.1,627.1 L525.8,627.3 L526.5,627.6 L527.2,627.8 L527.9,628.0 L528.6,628.2 L529.3,628.4 L530.0,628.6 L530.7,628.7 L531.4,628.9 L532.1,629.0 L532.8,629.1 L533.5,629.2 L534.2,629.3 L534.9,629.4 L535.6,629.5 L536.3,629.6 L537.0,629.7 L537.7,629.7 L538.4,629.8 L539.1,629.8 L539.8,629.9 L540.5,629.9 L541.2,630.0 L541.9,630.0 L542.6,630.0 L543.3,630.1 L544.0,630.1 L544.7,630.1 L545.4,630.1 L546.1,630.2 L546.8,630.2 L547.5,630.2 L548.2,630.2 L548.9,630.2 L549.6,630.2 L550.3,630.2 L551.0,630.2 L551.7,630.2 L552.4,630.3 L553.1,630.3 L553.8,630.3 L554.5,630.3 L555.2,630.3 L555.9,630.3 L556.6,630.3 L557.3,630.3" fill="none" stroke="#44dcdc" stroke-width="1.8"/>
<path d="M479.3,490.9 H498.8" stroke="#d84040" stroke-width="1.4"/>
<text x="500.8" y="493.9" font-family="Liberation Sans" font-size="8.2" fill="#1a1a1a" text-anchor="start" stroke="#1a1a1a" stroke-width="0.15"><tspan dy="-0.00">Lattice oxygen</tspan></text>
<path d="M479.3,500.4 H498.8" stroke="#40d040" stroke-width="1.4"/>
<text x="500.8" y="503.4" font-family="Liberation Sans" font-size="8.2" fill="#1a1a1a" text-anchor="start" stroke="#1a1a1a" stroke-width="0.15"><tspan dy="-0.00">O-C=O, C-OH</tspan></text>
<path d="M479.3,511.1 H498.8" stroke="#2c2cc0" stroke-width="1.4"/>
<text x="500.8" y="514.1" font-family="Liberation Sans" font-size="8.2" fill="#1a1a1a" text-anchor="start" stroke="#1a1a1a" stroke-width="0.15"><tspan dy="-0.00">C=O</tspan></text>
<path d="M479.3,521.7 H498.8" stroke="#44dcdc" stroke-width="1.4"/>
<text x="500.8" y="524.7" font-family="Liberation Sans" font-size="8.2" fill="#1a1a1a" text-anchor="start" stroke="#1a1a1a" stroke-width="0.15"><tspan dy="-0.00">Cumulative Fit Peak</tspan></text>
<path d="M596.3,502.4 L596.3,646.3 L781.1,646.3" fill="none" stroke="#6a6a6a" stroke-width="1.2"/>
<path d="M598.5,646.3 v2.0 M615.2,646.3 v3.2 M632.0,646.3 v2.0 M648.7,646.3 v3.2 M665.5,646.3 v2.0 M682.2,646.3 v3.2 M699.0,646.3 v2.0 M715.7,646.3 v3.2 M732.5,646.3 v2.0 M749.2,646.3 v3.2 M766.0,646.3 v2.0" stroke="#6a6a6a" stroke-width="1"/>
<text x="615.2" y="661.4" font-family="Liberation Serif" font-size="12.4" fill="#111" stroke="#111" stroke-width="0.2" text-anchor="middle">282</text>
<text x="648.7" y="661.4" font-family="Liberation Serif" font-size="12.4" fill="#111" stroke="#111" stroke-width="0.2" text-anchor="middle">284</text>
<text x="682.2" y="661.4" font-family="Liberation Serif" font-size="12.4" fill="#111" stroke="#111" stroke-width="0.2" text-anchor="middle">286</text>
<text x="715.7" y="661.4" font-family="Liberation Serif" font-size="12.4" fill="#111" stroke="#111" stroke-width="0.2" text-anchor="middle">288</text>
<text x="749.2" y="661.4" font-family="Liberation Serif" font-size="12.4" fill="#111" stroke="#111" stroke-width="0.2" text-anchor="middle">290</text>
<text x="688.35" y="676.5" font-family="Liberation Serif" font-size="12.6" fill="#111" stroke="#111" stroke-width="0.2" text-anchor="middle">Binding energy (eV)</text>
<text transform="translate(585.9,567.4) rotate(-90)" x="0" y="0" font-family="Liberation Serif" font-size="12.3" fill="#111" stroke="#111" stroke-width="0.2" text-anchor="middle">Intensity (a.u.)</text>
<text x="597.9" y="510.7" font-family="Liberation Serif" font-size="9" fill="#333" stroke="#333" stroke-width="0.35">C1s</text>
<use href="#c" x="597.0" y="634.2"/>
<use href="#c" x="599.3" y="636.0"/>
<use href="#c" x="601.0" y="635.9"/>
<use href="#c" x="603.0" y="635.3"/>
<use href="#c" x="604.9" y="634.0"/>
<use href="#c" x="607.0" y="635.8"/>
<use href="#c" x="608.8" y="634.7"/>
<use href="#c" x="610.9" y="634.9"/>
<use href="#c" x="613.1" y="635.0"/>
<use href="#c" x="615.0" y="633.2"/>
<use href="#c" x="616.8" y="633.8"/>
<use href="#c" x="619.2" y="634.0"/>
<use href="#c" x="621.1" y="635.5"/>
<use href="#c" x="622.7" y="634.4"/>
<use href="#c" x="625.0" y="634.7"/>
<use href="#c" x="627.1" y="634.9"/>
<use href="#c" x="629.4" y="634.7"/>
<use href="#c" x="631.4" y="635.4"/>
<use href="#c" x="633.0" y="634.9"/>
<use href="#c" x="635.2" y="633.6"/>
<use href="#c" x="637.0" y="634.3"/>
<use href="#c" x="638.9" y="632.4"/>
<use href="#c" x="640.9" y="629.4"/>
<use href="#c" x="642.8" y="624.3"/>
<use href="#c" x="645.0" y="619.9"/>
<use href="#c" x="647.1" y="612.4"/>
<use href="#c" x="649.0" y="600.8"/>
<use href="#c" x="651.0" y="585.2"/>
<use href="#c" x="653.1" y="571.0"/>
<use href="#c" x="654.9" y="555.8"/>
<use href="#c" x="656.9" y="541.3"/>
<use href="#c" x="658.7" y="528.9"/>
<use href="#c" x="661.1" y="524.8"/>
<use href="#c" x="662.9" y="522.0"/>
<use href="#c" x="665.6" y="525.5"/>
<use href="#c" x="667.0" y="533.5"/>
<use href="#c" x="668.5" y="541.6"/>
<use href="#c" x="671.3" y="551.2"/>
<use href="#c" x="673.1" y="558.8"/>
<use href="#c" x="674.8" y="561.3"/>
<use href="#c" x="676.9" y="562.0"/>
<use href="#c" x="679.3" y="558.0"/>
<use href="#c" x="680.9" y="553.0"/>
<use href="#c" x="683.3" y="545.7"/>
<use href="#c" x="685.0" y="541.9"/>
<use href="#c" x="686.8" y="538.4"/>
<use href="#c" x="689.1" y="536.3"/>
<use href="#c" x="691.1" y="537.8"/>
<use href="#c" x="693.1" y="543.9"/>
<use href="#c" x="695.2" y="550.9"/>
<use href="#c" x="697.1" y="559.6"/>
<use href="#c" x="698.8" y="567.8"/>
<use href="#c" x="700.9" y="576.4"/>
<use href="#c" x="702.8" y="584.8"/>
<use href="#c" x="705.5" y="592.1"/>
<use href="#c" x="707.1" y="596.6"/>
<use href="#c" x="708.9" y="601.5"/>
<use href="#c" x="710.9" y="603.1"/>
<use href="#c" x="712.9" y="604.8"/>
<use href="#c" x="715.2" y="606.9"/>
<use href="#c" x="717.4" y="605.6"/>
<use href="#c" x="719.0" y="605.5"/>
<use href="#c" x="721.0" y="604.2"/>
<use href="#c" x="723.2" y="603.6"/>
<use href="#c" x="724.7" y="600.9"/>
<use href="#c" x="727.1" y="600.6"/>
<use href="#c" x="729.0" y="598.3"/>
<use href="#c" x="731.1" y="597.4"/>
<use href="#c" x="732.9" y="595.6"/>
<use href="#c" x="735.1" y="596.2"/>
<use href="#c" x="736.8" y="601.9"/>
<use href="#c" x="738.9" y="608.4"/>
<use href="#c" x="740.7" y="614.4"/>
<use href="#c" x="742.8" y="621.1"/>
<use href="#c" x="745.0" y="624.9"/>
<use href="#c" x="747.0" y="627.2"/>
<use href="#c" x="748.9" y="629.4"/>
<use href="#c" x="750.9" y="631.2"/>
<use href="#c" x="753.0" y="632.6"/>
<use href="#c" x="755.1" y="632.0"/>
<use href="#c" x="757.1" y="633.2"/>
<use href="#c" x="759.1" y="632.1"/>
<use href="#c" x="760.9" y="632.4"/>
<use href="#c" x="763.1" y="637.0"/>
<use href="#c" x="764.8" y="635.5"/>
<use href="#c" x="767.0" y="633.8"/>
<use href="#c" x="769.0" y="635.1"/>
<use href="#c" x="770.8" y="634.3"/>
<use href="#c" x="773.3" y="634.6"/>
<use href="#c" x="774.9" y="634.9"/>
<use href="#c" x="776.8" y="634.7"/>
<path d="M597.0,635.0 L597.7,635.0 L598.4,635.0 L599.1,635.0 L599.8,635.0 L600.5,635.0 L601.2,635.0 L601.9,635.0 L602.6,635.0 L603.3,635.0 L604.0,635.0 L604.7,635.0 L605.4,635.0 L606.1,635.0 L606.8,635.0 L607.5,635.0 L608.2,635.0 L608.9,635.0 L609.6,635.0 L610.3,635.0 L611.0,635.0 L611.7,635.0 L612.4,635.0 L613.1,635.0 L613.8,635.0 L614.5,635.0 L615.2,635.0 L615.9,635.0 L616.6,635.0 L617.3,635.0 L618.0,635.0 L618.7,635.0 L619.4,635.0 L620.1,635.0 L620.8,635.0 L621.5,635.0 L622.2,635.0 L622.9,635.0 L623.6,635.0 L624.3,635.0 L625.0,635.0 L625.7,635.0 L626.4,635.0 L627.1,635.0 L627.8,635.0 L628.5,635.0 L629.2,634.9 L629.9,634.9 L630.6,634.9 L631.3,634.8 L632.0,634.8 L632.7,634.7 L633.4,634.6 L634.1,634.5 L634.8,634.3 L635.5,634.1 L636.2,633.9 L636.9,633.6 L637.6,633.2 L638.3,632.7 L639.0,632.1 L639.7,631.4 L640.4,630.6 L641.1,629.5 L641.8,628.3 L642.5,626.9 L643.2,625.3 L643.9,623.4 L644.6,621.3 L645.3,618.8 L646.0,616.1 L646.7,613.0 L647.4,609.6 L648.1,605.8 L648.8,601.8 L649.5,597.4 L650.2,592.7 L650.9,587.8 L651.6,582.7 L652.3,577.4 L653.0,572.0 L653.7,566.6 L654.4,561.1 L655.1,555.8 L655.8,550.7 L656.5,545.9 L657.2,541.5 L657.9,537.4 L658.6,533.9 L659.3,531.0 L660.0,528.7 L660.7,527.1 L661.4,526.2 L662.1,526.0 L662.8,526.6 L663.5,527.9 L664.2,529.9 L664.9,532.6 L665.6,535.9 L666.3,539.7 L667.0,544.0 L667.7,548.6 L668.4,553.6 L669.1,558.9 L669.8,564.2 L670.5,569.7 L671.2,575.1 L671.9,580.4 L672.6,585.6 L673.3,590.7 L674.0,595.4 L674.7,599.9 L675.4,604.1 L676.1,608.0 L676.8,611.5 L677.5,614.8 L678.2,617.7 L678.9,620.2 L679.6,622.5 L680.3,624.5 L681.0,626.3 L681.7,627.8 L682.4,629.1 L683.1,630.1 L683.8,631.1 L684.5,631.8 L685.2,632.5 L685.9,633.0 L686.6,633.4 L687.3,633.7 L688.0,634.0 L688.7,634.2 L689.4,634.4 L690.1,634.6 L690.8,634.7 L691.5,634.7 L692.2,634.8 L692.9,634.9 L693.6,634.9 L694.3,634.9 L695.0,634.9 L695.7,635.0 L696.4,635.0 L697.1,635.0 L697.8,635.0 L698.5,635.0 L699.2,635.0 L699.9,635.0 L700.6,635.0 L701.3,635.0 L702.0,635.0 L702.7,635.0 L703.4,635.0 L704.1,635.0 L704.8,635.0 L705.5,635.0 L706.2,635.0 L706.9,635.0 L707.6,635.0 L708.3,635.0 L709.0,635.0 L709.7,635.0 L710.4,635.0 L711.1,635.0 L711.8,635.0 L712.5,635.0 L713.2,635.0 L713.9,635.0 L714.6,635.0 L715.3,635.0 L716.0,635.0 L716.7,635.0 L717.4,635.0 L718.1,635.0 L718.8,635.0 L719.5,635.0 L720.2,635.0 L720.9,635.0 L721.6,635.0 L722.3,635.0 L723.0,635.0 L723.7,635.0 L724.4,635.0 L725.1,635.0 L725.8,635.0 L726.5,635.0 L727.2,635.0 L727.9,635.0 L728.6,635.0 L729.3,635.0 L730.0,635.0 L730.7,635.0 L731.4,635.0 L732.1,635.0 L732.8,635.0 L733.5,635.0 L734.2,635.0 L734.9,635.0 L735.6,635.0 L736.3,635.0 L737.0,635.0 L737.7,635.0 L738.4,635.0 L739.1,635.0 L739.8,635.0 L740.5,635.0 L741.2,635.0 L741.9,635.0 L742.6,635.0 L743.3,635.0 L744.0,635.0 L744.7,635.0 L745.4,635.0 L746.1,635.0 L746.8,635.0 L747.5,635.0 L748.2,635.0 L748.9,635.0 L749.6,635.0 L750.3,635.0 L751.0,635.0 L751.7,635.0 L752.4,635.0 L753.1,635.0 L753.8,635.0 L754.5,635.0 L755.2,635.0 L755.9,635.0 L756.6,635.0 L757.3,635.0 L758.0,635.0 L758.7,635.0 L759.4,635.0 L760.1,635.0 L760.8,635.0 L761.5,635.0 L762.2,635.0 L762.9,635.0 L763.6,635.0 L764.3,635.0 L765.0,635.0 L765.7,635.0 L766.4,635.0 L767.1,635.0 L767.8,635.0 L768.5,635.0 L769.2,635.0 L769.9,635.0 L770.6,635.0 L771.3,635.0 L772.0,635.0 L772.7,635.0 L773.4,635.0 L774.1,635.0 L774.8,635.0 L775.5,635.0 L776.2,635.0 L776.9,635.0 L777.6,635.0" fill="none" stroke="#d84040" stroke-width="1.3"/>
<path d="M597.0,635.0 L597.7,635.0 L598.4,635.0 L599.1,635.0 L599.8,635.0 L600.5,635.0 L601.2,635.0 L601.9,635.0 L602.6,635.0 L603.3,635.0 L604.0,635.0 L604.7,635.0 L605.4,635.0 L606.1,635.0 L606.8,635.0 L607.5,635.0 L608.2,635.0 L608.9,635.0 L609.6,635.0 L610.3,635.0 L611.0,635.0 L611.7,635.0 L612.4,635.0 L613.1,635.0 L613.8,635.0 L614.5,635.0 L615.2,635.0 L615.9,635.0 L616.6,635.0 L617.3,635.0 L618.0,635.0 L618.7,635.0 L619.4,635.0 L620.1,635.0 L620.8,635.0 L621.5,635.0 L622.2,635.0 L622.9,635.0 L623.6,635.0 L624.3,635.0 L625.0,635.0 L625.7,635.0 L626.4,635.0 L627.1,635.0 L627.8,635.0 L628.5,635.0 L629.2,635.0 L629.9,635.0 L630.6,635.0 L631.3,635.0 L632.0,635.0 L632.7,635.0 L633.4,635.0 L634.1,635.0 L634.8,635.0 L635.5,635.0 L636.2,635.0 L636.9,635.0 L637.6,635.0 L638.3,635.0 L639.0,635.0 L639.7,635.0 L640.4,635.0 L641.1,635.0 L641.8,635.0 L642.5,635.0 L643.2,635.0 L643.9,635.0 L644.6,635.0 L645.3,635.0 L646.0,635.0 L646.7,635.0 L647.4,635.0 L648.1,634.9 L648.8,634.9 L649.5,634.9 L650.2,634.9 L650.9,634.9 L651.6,634.8 L652.3,634.8 L653.0,634.7 L653.7,634.7 L654.4,634.6 L655.1,634.5 L655.8,634.3 L656.5,634.2 L657.2,634.0 L657.9,633.8 L658.6,633.5 L659.3,633.2 L660.0,632.8 L660.7,632.4 L661.4,631.9 L662.1,631.3 L662.8,630.6 L663.5,629.9 L664.2,629.0 L664.9,628.0 L665.6,626.8 L666.3,625.6 L667.0,624.1 L667.7,622.5 L668.4,620.8 L669.1,618.8 L669.8,616.7 L670.5,614.4 L671.2,611.9 L671.9,609.2 L672.6,606.3 L673.3,603.2 L674.0,600.0 L674.7,596.6 L675.4,593.1 L676.1,589.4 L676.8,585.7 L677.5,581.9 L678.2,578.0 L678.9,574.1 L679.6,570.3 L680.3,566.5 L681.0,562.8 L681.7,559.3 L682.4,555.9 L683.1,552.8 L683.8,549.9 L684.5,547.3 L685.2,545.0 L685.9,543.0 L686.6,541.5 L687.3,540.3 L688.0,539.6 L688.7,539.2 L689.4,539.3 L690.1,539.8 L690.8,540.8 L691.5,542.1 L692.2,543.8 L692.9,545.9 L693.6,548.3 L694.3,551.1 L695.0,554.1 L695.7,557.3 L696.4,560.8 L697.1,564.4 L697.8,568.1 L698.5,571.9 L699.2,575.8 L699.9,579.7 L700.6,583.5 L701.3,587.3 L702.0,591.0 L702.7,594.6 L703.4,598.1 L704.1,601.4 L704.8,604.6 L705.5,607.5 L706.2,610.3 L706.9,613.0 L707.6,615.4 L708.3,617.6 L709.0,619.7 L709.7,621.5 L710.4,623.2 L711.1,624.8 L711.8,626.1 L712.5,627.3 L713.2,628.4 L713.9,629.4 L714.6,630.2 L715.3,630.9 L716.0,631.6 L716.7,632.1 L717.4,632.6 L718.1,633.0 L718.8,633.3 L719.5,633.6 L720.2,633.9 L720.9,634.1 L721.6,634.2 L722.3,634.4 L723.0,634.5 L723.7,634.6 L724.4,634.7 L725.1,634.7 L725.8,634.8 L726.5,634.8 L727.2,634.9 L727.9,634.9 L728.6,634.9 L729.3,634.9 L730.0,635.0 L730.7,635.0 L731.4,635.0 L732.1,635.0 L732.8,635.0 L733.5,635.0 L734.2,635.0 L734.9,635.0 L735.6,635.0 L736.3,635.0 L737.0,635.0 L737.7,635.0 L738.4,635.0 L739.1,635.0 L739.8,635.0 L740.5,635.0 L741.2,635.0 L741.9,635.0 L742.6,635.0 L743.3,635.0 L744.0,635.0 L744.7,635.0 L745.4,635.0 L746.1,635.0 L746.8,635.0 L747.5,635.0 L748.2,635.0 L748.9,635.0 L749.6,635.0 L750.3,635.0 L751.0,635.0 L751.7,635.0 L752.4,635.0 L753.1,635.0 L753.8,635.0 L754.5,635.0 L755.2,635.0 L755.9,635.0 L756.6,635.0 L757.3,635.0 L758.0,635.0 L758.7,635.0 L759.4,635.0 L760.1,635.0 L760.8,635.0 L761.5,635.0 L762.2,635.0 L762.9,635.0 L763.6,635.0 L764.3,635.0 L765.0,635.0 L765.7,635.0 L766.4,635.0 L767.1,635.0 L767.8,635.0 L768.5,635.0 L769.2,635.0 L769.9,635.0 L770.6,635.0 L771.3,635.0 L772.0,635.0 L772.7,635.0 L773.4,635.0 L774.1,635.0 L774.8,635.0 L775.5,635.0 L776.2,635.0 L776.9,635.0 L777.6,635.0" fill="none" stroke="#40d040" stroke-width="1.3"/>
<path d="M597.0,635.0 L597.7,635.0 L598.4,635.0 L599.1,635.0 L599.8,635.0 L600.5,635.0 L601.2,635.0 L601.9,635.0 L602.6,635.0 L603.3,635.0 L604.0,635.0 L604.7,635.0 L605.4,635.0 L606.1,635.0 L606.8,635.0 L607.5,635.0 L608.2,635.0 L608.9,635.0 L609.6,635.0 L610.3,635.0 L611.0,635.0 L611.7,635.0 L612.4,635.0 L613.1,635.0 L613.8,635.0 L614.5,635.0 L615.2,635.0 L615.9,635.0 L616.6,635.0 L617.3,635.0 L618.0,635.0 L618.7,635.0 L619.4,635.0 L620.1,635.0 L620.8,635.0 L621.5,635.0 L622.2,635.0 L622.9,635.0 L623.6,635.0 L624.3,635.0 L625.0,635.0 L625.7,635.0 L626.4,635.0 L627.1,635.0 L627.8,635.0 L628.5,635.0 L629.2,635.0 L629.9,635.0 L630.6,635.0 L631.3,635.0 L632.0,635.0 L632.7,635.0 L633.4,635.0 L634.1,635.0 L634.8,635.0 L635.5,635.0 L636.2,635.0 L636.9,635.0 L637.6,635.0 L638.3,635.0 L639.0,635.0 L639.7,635.0 L640.4,635.0 L641.1,635.0 L641.8,635.0 L642.5,635.0 L643.2,635.0 L643.9,635.0 L644.6,635.0 L645.3,635.0 L646.0,635.0 L646.7,635.0 L647.4,635.0 L648.1,635.0 L648.8,635.0 L649.5,635.0 L650.2,635.0 L650.9,635.0 L651.6,635.0 L652.3,635.0 L653.0,635.0 L653.7,635.0 L654.4,635.0 L655.1,635.0 L655.8,635.0 L656.5,635.0 L657.2,635.0 L657.9,635.0 L658.6,635.0 L659.3,635.0 L660.0,635.0 L660.7,635.0 L661.4,635.0 L662.1,635.0 L662.8,635.0 L663.5,635.0 L664.2,635.0 L664.9,635.0 L665.6,635.0 L666.3,635.0 L667.0,635.0 L667.7,635.0 L668.4,635.0 L669.1,635.0 L669.8,635.0 L670.5,635.0 L671.2,635.0 L671.9,635.0 L672.6,634.9 L673.3,634.9 L674.0,634.9 L674.7,634.9 L675.4,634.9 L676.1,634.9 L676.8,634.9 L677.5,634.8 L678.2,634.8 L678.9,634.8 L679.6,634.7 L680.3,634.7 L681.0,634.6 L681.7,634.6 L682.4,634.5 L683.1,634.4 L683.8,634.4 L684.5,634.3 L685.2,634.2 L685.9,634.0 L686.6,633.9 L687.3,633.8 L688.0,633.6 L688.7,633.4 L689.4,633.2 L690.1,633.0 L690.8,632.7 L691.5,632.5 L692.2,632.2 L692.9,631.8 L693.6,631.5 L694.3,631.1 L695.0,630.7 L695.7,630.3 L696.4,629.8 L697.1,629.3 L697.8,628.8 L698.5,628.2 L699.2,627.6 L699.9,627.0 L700.6,626.3 L701.3,625.6 L702.0,624.9 L702.7,624.1 L703.4,623.3 L704.1,622.5 L704.8,621.7 L705.5,620.8 L706.2,619.9 L706.9,619.1 L707.6,618.2 L708.3,617.3 L709.0,616.3 L709.7,615.4 L710.4,614.5 L711.1,613.7 L711.8,612.8 L712.5,612.0 L713.2,611.1 L713.9,610.4 L714.6,609.6 L715.3,608.9 L716.0,608.2 L716.7,607.6 L717.4,607.1 L718.1,606.6 L718.8,606.2 L719.5,605.8 L720.2,605.5 L720.9,605.3 L721.6,605.2 L722.3,605.1 L723.0,605.1 L723.7,605.2 L724.4,605.3 L725.1,605.6 L725.8,605.9 L726.5,606.2 L727.2,606.7 L727.9,607.2 L728.6,607.7 L729.3,608.3 L730.0,609.0 L730.7,609.7 L731.4,610.5 L732.1,611.2 L732.8,612.1 L733.5,612.9 L734.2,613.8 L734.9,614.7 L735.6,615.6 L736.3,616.5 L737.0,617.4 L737.7,618.3 L738.4,619.2 L739.1,620.1 L739.8,620.9 L740.5,621.8 L741.2,622.6 L741.9,623.4 L742.6,624.2 L743.3,625.0 L744.0,625.7 L744.7,626.4 L745.4,627.1 L746.1,627.7 L746.8,628.3 L747.5,628.9 L748.2,629.4 L748.9,629.9 L749.6,630.3 L750.3,630.8 L751.0,631.2 L751.7,631.6 L752.4,631.9 L753.1,632.2 L753.8,632.5 L754.5,632.8 L755.2,633.0 L755.9,633.2 L756.6,633.4 L757.3,633.6 L758.0,633.8 L758.7,633.9 L759.4,634.1 L760.1,634.2 L760.8,634.3 L761.5,634.4 L762.2,634.5 L762.9,634.5 L763.6,634.6 L764.3,634.6 L765.0,634.7 L765.7,634.7 L766.4,634.8 L767.1,634.8 L767.8,634.8 L768.5,634.9 L769.2,634.9 L769.9,634.9 L770.6,634.9 L771.3,634.9 L772.0,634.9 L772.7,635.0 L773.4,635.0 L774.1,635.0 L774.8,635.0 L775.5,635.0 L776.2,635.0 L776.9,635.0 L777.6,635.0" fill="none" stroke="#2c2cc0" stroke-width="1.3"/>
<path d="M597.0,635.0 L597.7,635.0 L598.4,635.0 L599.1,635.0 L599.8,635.0 L600.5,635.0 L601.2,635.0 L601.9,635.0 L602.6,635.0 L603.3,635.0 L604.0,635.0 L604.7,635.0 L605.4,635.0 L606.1,635.0 L606.8,635.0 L607.5,635.0 L608.2,635.0 L608.9,635.0 L609.6,635.0 L610.3,635.0 L611.0,635.0 L611.7,635.0 L612.4,635.0 L613.1,635.0 L613.8,635.0 L614.5,635.0 L615.2,635.0 L615.9,635.0 L616.6,635.0 L617.3,635.0 L618.0,635.0 L618.7,635.0 L619.4,635.0 L620.1,635.0 L620.8,635.0 L621.5,635.0 L622.2,635.0 L622.9,635.0 L623.6,635.0 L624.3,635.0 L625.0,635.0 L625.7,635.0 L626.4,635.0 L627.1,635.0 L627.8,635.0 L628.5,635.0 L629.2,635.0 L629.9,635.0 L630.6,635.0 L631.3,635.0 L632.0,635.0 L632.7,635.0 L633.4,635.0 L634.1,635.0 L634.8,635.0 L635.5,635.0 L636.2,635.0 L636.9,635.0 L637.6,635.0 L638.3,635.0 L639.0,635.0 L639.7,635.0 L640.4,635.0 L641.1,635.0 L641.8,635.0 L642.5,635.0 L643.2,635.0 L643.9,635.0 L644.6,635.0 L645.3,635.0 L646.0,635.0 L646.7,635.0 L647.4,635.0 L648.1,635.0 L648.8,635.0 L649.5,635.0 L650.2,635.0 L650.9,635.0 L651.6,635.0 L652.3,635.0 L653.0,635.0 L653.7,635.0 L654.4,635.0 L655.1,635.0 L655.8,635.0 L656.5,635.0 L657.2,635.0 L657.9,635.0 L658.6,635.0 L659.3,635.0 L660.0,635.0 L660.7,635.0 L661.4,635.0 L662.1,635.0 L662.8,635.0 L663.5,635.0 L664.2,635.0 L664.9,635.0 L665.6,635.0 L666.3,635.0 L667.0,635.0 L667.7,635.0 L668.4,635.0 L669.1,635.0 L669.8,635.0 L670.5,635.0 L671.2,635.0 L671.9,635.0 L672.6,635.0 L673.3,635.0 L674.0,635.0 L674.7,635.0 L675.4,635.0 L676.1,635.0 L676.8,635.0 L677.5,635.0 L678.2,635.0 L678.9,635.0 L679.6,635.0 L680.3,635.0 L681.0,635.0 L681.7,635.0 L682.4,635.0 L683.1,635.0 L683.8,635.0 L684.5,635.0 L685.2,635.0 L685.9,635.0 L686.6,635.0 L687.3,635.0 L688.0,635.0 L688.7,635.0 L689.4,635.0 L690.1,635.0 L690.8,635.0 L691.5,635.0 L692.2,635.0 L692.9,635.0 L693.6,635.0 L694.3,635.0 L695.0,635.0 L695.7,635.0 L696.4,635.0 L697.1,635.0 L697.8,635.0 L698.5,635.0 L699.2,635.0 L699.9,635.0 L700.6,635.0 L701.3,635.0 L702.0,635.0 L702.7,635.0 L703.4,635.0 L704.1,635.0 L704.8,635.0 L705.5,635.0 L706.2,635.0 L706.9,635.0 L707.6,635.0 L708.3,635.0 L709.0,635.0 L709.7,635.0 L710.4,635.0 L711.1,635.0 L711.8,635.0 L712.5,635.0 L713.2,635.0 L713.9,635.0 L714.6,635.0 L715.3,635.0 L716.0,635.0 L716.7,635.0 L717.4,635.0 L718.1,634.9 L718.8,634.9 L719.5,634.8 L720.2,634.7 L720.9,634.6 L721.6,634.4 L722.3,634.2 L723.0,633.8 L723.7,633.4 L724.4,632.8 L725.1,632.1 L725.8,631.3 L726.5,630.3 L727.2,629.1 L727.9,627.9 L728.6,626.5 L729.3,625.0 L730.0,623.5 L730.7,622.1 L731.4,620.7 L732.1,619.6 L732.8,618.6 L733.5,617.9 L734.2,617.6 L734.9,617.5 L735.6,617.8 L736.3,618.5 L737.0,619.4 L737.7,620.6 L738.4,621.9 L739.1,623.3 L739.8,624.8 L740.5,626.3 L741.2,627.7 L741.9,629.0 L742.6,630.1 L743.3,631.1 L744.0,632.0 L744.7,632.7 L745.4,633.3 L746.1,633.8 L746.8,634.1 L747.5,634.4 L748.2,634.6 L748.9,634.7 L749.6,634.8 L750.3,634.9 L751.0,634.9 L751.7,634.9 L752.4,635.0 L753.1,635.0 L753.8,635.0 L754.5,635.0 L755.2,635.0 L755.9,635.0 L756.6,635.0 L757.3,635.0 L758.0,635.0 L758.7,635.0 L759.4,635.0 L760.1,635.0 L760.8,635.0 L761.5,635.0 L762.2,635.0 L762.9,635.0 L763.6,635.0 L764.3,635.0 L765.0,635.0 L765.7,635.0 L766.4,635.0 L767.1,635.0 L767.8,635.0 L768.5,635.0 L769.2,635.0 L769.9,635.0 L770.6,635.0 L771.3,635.0 L772.0,635.0 L772.7,635.0 L773.4,635.0 L774.1,635.0 L774.8,635.0 L775.5,635.0 L776.2,635.0 L776.9,635.0 L777.6,635.0" fill="none" stroke="#44dcdc" stroke-width="1.3"/>
<path d="M597.0,635.0 L597.7,635.0 L598.4,635.0 L599.1,635.0 L599.8,635.0 L600.5,635.0 L601.2,635.0 L601.9,635.0 L602.6,635.0 L603.3,635.0 L604.0,635.0 L604.7,635.0 L605.4,635.0 L606.1,635.0 L606.8,635.0 L607.5,635.0 L608.2,635.0 L608.9,635.0 L609.6,635.0 L610.3,635.0 L611.0,635.0 L611.7,635.0 L612.4,635.0 L613.1,635.0 L613.8,635.0 L614.5,635.0 L615.2,635.0 L615.9,635.0 L616.6,635.0 L617.3,635.0 L618.0,635.0 L618.7,635.0 L619.4,635.0 L620.1,635.0 L620.8,635.0 L621.5,635.0 L622.2,635.0 L622.9,635.0 L623.6,635.0 L624.3,635.0 L625.0,635.0 L625.7,635.0 L626.4,635.0 L627.1,635.0 L627.8,635.0 L628.5,635.0 L629.2,634.9 L629.9,634.9 L630.6,634.9 L631.3,634.8 L632.0,634.8 L632.7,634.7 L633.4,634.6 L634.1,634.5 L634.8,634.3 L635.5,634.1 L636.2,633.9 L636.9,633.6 L637.6,633.2 L638.3,632.7 L639.0,632.1 L639.7,631.4 L640.4,630.6 L641.1,629.5 L641.8,628.3 L642.5,626.9 L643.2,625.3 L643.9,623.4 L644.6,621.2 L645.3,618.8 L646.0,616.0 L646.7,612.9 L647.4,609.5 L648.1,605.8 L648.8,601.7 L649.5,597.3 L650.2,592.6 L650.9,587.7 L651.6,582.5 L652.3,577.2 L653.0,571.7 L653.7,566.2 L654.4,560.7 L655.1,555.3 L655.8,550.1 L656.5,545.1 L657.2,540.4 L657.9,536.2 L658.6,532.4 L659.3,529.2 L660.0,526.5 L660.7,524.5 L661.4,523.1 L662.1,522.3 L662.8,522.2 L663.5,522.8 L664.2,523.9 L664.9,525.5 L665.6,527.7 L666.3,530.2 L667.0,533.1 L667.7,536.1 L668.4,539.4 L669.1,542.6 L669.8,545.9 L670.5,549.0 L671.2,551.9 L671.9,554.6 L672.6,556.9 L673.3,558.8 L674.0,560.4 L674.7,561.4 L675.4,562.1 L676.1,562.3 L676.8,562.1 L677.5,561.5 L678.2,560.5 L678.9,559.1 L679.6,557.5 L680.3,555.7 L681.0,553.7 L681.7,551.6 L682.4,549.5 L683.1,547.3 L683.8,545.3 L684.5,543.3 L685.2,541.6 L685.9,540.0 L686.6,538.8 L687.3,537.8 L688.0,537.2 L688.7,536.9 L689.4,536.9 L690.1,537.4 L690.8,538.2 L691.5,539.3 L692.2,540.8 L692.9,542.6 L693.6,544.7 L694.3,547.1 L695.0,549.7 L695.7,552.6 L696.4,555.6 L697.1,558.7 L697.8,561.9 L698.5,565.1 L699.2,568.4 L699.9,571.6 L700.6,574.8 L701.3,577.9 L702.0,580.9 L702.7,583.7 L703.4,586.4 L704.1,588.9 L704.8,591.2 L705.5,593.4 L706.2,595.3 L706.9,597.0 L707.6,598.5 L708.3,599.9 L709.0,601.0 L709.7,602.0 L710.4,602.8 L711.1,603.4 L711.8,603.9 L712.5,604.3 L713.2,604.6 L713.9,604.7 L714.6,604.8 L715.3,604.8 L716.0,604.8 L716.7,604.7 L717.4,604.6 L718.1,604.5 L718.8,604.4 L719.5,604.3 L720.2,604.1 L720.9,604.0 L721.6,603.8 L722.3,603.6 L723.0,603.4 L723.7,603.2 L724.4,602.8 L725.1,602.4 L725.8,602.0 L726.5,601.4 L727.2,600.7 L727.9,599.9 L728.6,599.1 L729.3,598.3 L730.0,597.5 L730.7,596.8 L731.4,596.2 L732.1,595.8 L732.8,595.7 L733.5,595.8 L734.2,596.3 L734.9,597.2 L735.6,598.4 L736.3,600.0 L737.0,601.8 L737.7,603.8 L738.4,606.1 L739.1,608.4 L739.8,610.8 L740.5,613.1 L741.2,615.3 L741.9,617.4 L742.6,619.4 L743.3,621.1 L744.0,622.7 L744.7,624.1 L745.4,625.4 L746.1,626.4 L746.8,627.4 L747.5,628.2 L748.2,628.9 L748.9,629.6 L749.6,630.1 L750.3,630.7 L751.0,631.1 L751.7,631.5 L752.4,631.9 L753.1,632.2 L753.8,632.5 L754.5,632.8 L755.2,633.0 L755.9,633.2 L756.6,633.4 L757.3,633.6 L758.0,633.8 L758.7,633.9 L759.4,634.1 L760.1,634.2 L760.8,634.3 L761.5,634.4 L762.2,634.5 L762.9,634.5 L763.6,634.6 L764.3,634.6 L765.0,634.7 L765.7,634.7 L766.4,634.8 L767.1,634.8 L767.8,634.8 L768.5,634.9 L769.2,634.9 L769.9,634.9 L770.6,634.9 L771.3,634.9 L772.0,634.9 L772.7,635.0 L773.4,635.0 L774.1,635.0 L774.8,635.0 L775.5,635.0 L776.2,635.0 L776.9,635.0 L777.6,635.0" fill="none" stroke="#d040d0" stroke-width="1.8"/>
<circle cx="709.4" cy="494.4" r="2.6" fill="none" stroke="#333" stroke-width="0.9"/>
<text x="720.9" y="497.4" font-family="Liberation Sans" font-size="8.3" fill="#1a1a1a" text-anchor="start" stroke="#1a1a1a" stroke-width="0.15"><tspan dy="-0.00">Subtracted from "Counts"</tspan></text>
<path d="M699.3,504.4 H718.9" stroke="#d84040" stroke-width="1.4"/>
<text x="720.9" y="507.4" font-family="Liberation Sans" font-size="8.3" fill="#1a1a1a" text-anchor="start" stroke="#1a1a1a" stroke-width="0.15"><tspan dy="-0.00">C-C</tspan></text>
<path d="M699.3,514.5 H718.9" stroke="#40d040" stroke-width="1.4"/>
<text x="720.9" y="517.5" font-family="Liberation Sans" font-size="8.3" fill="#1a1a1a" text-anchor="start" stroke="#1a1a1a" stroke-width="0.15"><tspan dy="-0.00">C-OH</tspan></text>
<path d="M699.3,524.6 H718.9" stroke="#2c2cc0" stroke-width="1.4"/>
<text x="720.9" y="527.6" font-family="Liberation Sans" font-size="8.3" fill="#1a1a1a" text-anchor="start" stroke="#1a1a1a" stroke-width="0.15"><tspan dy="-0.00">C=O</tspan></text>
<path d="M699.3,534.9 H718.9" stroke="#44dcdc" stroke-width="1.4"/>
<text x="720.9" y="537.9" font-family="Liberation Sans" font-size="8.3" fill="#1a1a1a" text-anchor="start" stroke="#1a1a1a" stroke-width="0.15"><tspan dy="-0.00">O-C=O</tspan></text>
<path d="M699.3,545.5 H718.9" stroke="#d040d0" stroke-width="1.4"/>
<text x="720.9" y="548.5" font-family="Liberation Sans" font-size="8.3" fill="#1a1a1a" text-anchor="start" stroke="#1a1a1a" stroke-width="0.15"><tspan dy="-0.00">Cumulative Fit Peak</tspan></text>
<path d="M158.8,709.2 L158.8,861.8 L350,861.8" fill="none" stroke="#6a6a6a" stroke-width="1.2"/>
<path d="M160.8,861.8 v2.0 M179.6,861.8 v3.2 M198.4,861.8 v2.0 M217.3,861.8 v3.2 M236.2,861.8 v2.0 M255.0,861.8 v3.2 M273.9,861.8 v2.0 M292.7,861.8 v3.2 M311.6,861.8 v2.0 M330.4,861.8 v3.2 M349.2,861.8 v2.0" stroke="#6a6a6a" stroke-width="1"/>
<text x="179.6" y="875.2" font-family="Liberation Serif" font-size="12.9" fill="#111" stroke="#111" stroke-width="0.2" text-anchor="middle">707</text>
<text x="217.3" y="875.2" font-family="Liberation Serif" font-size="12.9" fill="#111" stroke="#111" stroke-width="0.2" text-anchor="middle">714</text>
<text x="255.0" y="875.2" font-family="Liberation Serif" font-size="12.9" fill="#111" stroke="#111" stroke-width="0.2" text-anchor="middle">721</text>
<text x="292.7" y="875.2" font-family="Liberation Serif" font-size="12.9" fill="#111" stroke="#111" stroke-width="0.2" text-anchor="middle">728</text>
<text x="330.4" y="875.2" font-family="Liberation Serif" font-size="12.9" fill="#111" stroke="#111" stroke-width="0.2" text-anchor="middle">735</text>
<text x="252.85" y="887" font-family="Liberation Serif" font-size="12.85" fill="#111" stroke="#111" stroke-width="0.2" text-anchor="middle">Binding energy (eV)</text>
<text transform="translate(147.3,774.4) rotate(-90)" x="0" y="0" font-family="Liberation Serif" font-size="12.7" fill="#111" stroke="#111" stroke-width="0.2" text-anchor="middle">Intensity (a.u.)</text>
<text x="160" y="719.2" font-family="Liberation Serif" font-size="9" fill="#333" stroke="#333" stroke-width="0.35">Fe 2p</text>
<use href="#c" x="158.3" y="840.6"/>
<use href="#c" x="159.2" y="841.5"/>
<use href="#c" x="157.7" y="844.6"/>
<use href="#c" x="160.2" y="842.1"/>
<use href="#c" x="161.4" y="840.8"/>
<use href="#c" x="166.0" y="842.9"/>
<use href="#c" x="162.9" y="843.6"/>
<use href="#c" x="162.0" y="845.0"/>
<use href="#c" x="165.0" y="841.5"/>
<use href="#c" x="163.4" y="841.7"/>
<use href="#c" x="163.5" y="841.5"/>
<use href="#c" x="168.1" y="845.6"/>
<use href="#c" x="166.4" y="849.2"/>
<use href="#c" x="167.2" y="842.3"/>
<use href="#c" x="168.1" y="844.2"/>
<use href="#c" x="168.3" y="844.8"/>
<use href="#c" x="171.8" y="839.5"/>
<use href="#c" x="171.8" y="841.7"/>
<use href="#c" x="170.9" y="842.0"/>
<use href="#c" x="169.9" y="838.8"/>
<use href="#c" x="172.9" y="843.8"/>
<use href="#c" x="172.9" y="842.2"/>
<use href="#c" x="173.4" y="838.3"/>
<use href="#c" x="172.4" y="841.1"/>
<use href="#c" x="173.9" y="843.5"/>
<use href="#c" x="174.7" y="840.4"/>
<use href="#c" x="175.5" y="841.5"/>
<use href="#c" x="175.9" y="842.4"/>
<use href="#c" x="179.6" y="844.2"/>
<use href="#c" x="177.3" y="844.2"/>
<use href="#c" x="179.1" y="840.0"/>
<use href="#c" x="181.2" y="840.6"/>
<use href="#c" x="180.5" y="841.2"/>
<use href="#c" x="180.7" y="838.7"/>
<use href="#c" x="178.9" y="836.8"/>
<use href="#c" x="180.1" y="839.1"/>
<use href="#c" x="183.7" y="836.2"/>
<use href="#c" x="183.1" y="840.3"/>
<use href="#c" x="184.8" y="834.1"/>
<use href="#c" x="185.1" y="835.9"/>
<use href="#c" x="184.3" y="829.7"/>
<use href="#c" x="184.0" y="832.2"/>
<use href="#c" x="188.1" y="827.6"/>
<use href="#c" x="186.0" y="827.2"/>
<use href="#c" x="187.3" y="821.2"/>
<use href="#c" x="188.4" y="815.9"/>
<use href="#c" x="189.8" y="813.0"/>
<use href="#c" x="188.6" y="808.6"/>
<use href="#c" x="190.3" y="805.6"/>
<use href="#c" x="192.3" y="796.7"/>
<use href="#c" x="191.7" y="797.4"/>
<use href="#c" x="192.2" y="796.0"/>
<use href="#c" x="193.0" y="789.0"/>
<use href="#c" x="194.5" y="785.0"/>
<use href="#c" x="194.0" y="780.5"/>
<use href="#c" x="195.2" y="770.1"/>
<use href="#c" x="195.4" y="765.0"/>
<use href="#c" x="192.9" y="762.0"/>
<use href="#c" x="195.2" y="757.4"/>
<use href="#c" x="194.7" y="750.9"/>
<use href="#c" x="198.9" y="751.2"/>
<use href="#c" x="197.1" y="744.2"/>
<use href="#c" x="197.7" y="742.1"/>
<use href="#c" x="198.4" y="743.2"/>
<use href="#c" x="197.0" y="742.6"/>
<use href="#c" x="202.4" y="735.2"/>
<use href="#c" x="198.8" y="738.4"/>
<use href="#c" x="203.5" y="745.1"/>
<use href="#c" x="199.4" y="741.9"/>
<use href="#c" x="203.7" y="745.1"/>
<use href="#c" x="203.8" y="745.1"/>
<use href="#c" x="203.3" y="744.4"/>
<use href="#c" x="207.1" y="753.2"/>
<use href="#c" x="206.9" y="757.9"/>
<use href="#c" x="207.8" y="761.2"/>
<use href="#c" x="207.7" y="770.7"/>
<use href="#c" x="209.0" y="766.8"/>
<use href="#c" x="207.3" y="774.8"/>
<use href="#c" x="210.7" y="777.8"/>
<use href="#c" x="209.9" y="784.3"/>
<use href="#c" x="212.6" y="788.9"/>
<use href="#c" x="210.9" y="794.9"/>
<use href="#c" x="210.4" y="797.1"/>
<use href="#c" x="211.4" y="807.8"/>
<use href="#c" x="214.3" y="811.9"/>
<use href="#c" x="214.5" y="814.3"/>
<use href="#c" x="216.6" y="817.2"/>
<use href="#c" x="213.4" y="820.8"/>
<use href="#c" x="218.5" y="822.9"/>
<use href="#c" x="216.8" y="823.6"/>
<use href="#c" x="219.1" y="828.7"/>
<use href="#c" x="220.2" y="829.0"/>
<use href="#c" x="219.0" y="830.4"/>
<use href="#c" x="219.7" y="831.9"/>
<use href="#c" x="217.9" y="834.6"/>
<use href="#c" x="219.3" y="838.0"/>
<use href="#c" x="217.7" y="840.0"/>
<use href="#c" x="221.9" y="843.0"/>
<use href="#c" x="223.9" y="844.1"/>
<use href="#c" x="223.1" y="840.7"/>
<use href="#c" x="225.2" y="840.0"/>
<use href="#c" x="222.6" y="841.2"/>
<use href="#c" x="226.2" y="841.4"/>
<use href="#c" x="226.5" y="842.5"/>
<use href="#c" x="223.2" y="843.6"/>
<use href="#c" x="229.7" y="843.1"/>
<use href="#c" x="227.6" y="844.0"/>
<use href="#c" x="227.8" y="840.3"/>
<use href="#c" x="228.7" y="847.4"/>
<use href="#c" x="230.0" y="844.3"/>
<use href="#c" x="228.9" y="844.6"/>
<use href="#c" x="230.8" y="838.5"/>
<use href="#c" x="228.1" y="843.4"/>
<use href="#c" x="232.9" y="842.5"/>
<use href="#c" x="232.7" y="842.6"/>
<use href="#c" x="232.6" y="838.5"/>
<use href="#c" x="235.6" y="840.3"/>
<use href="#c" x="235.8" y="843.6"/>
<use href="#c" x="233.8" y="839.1"/>
<use href="#c" x="236.3" y="843.5"/>
<use href="#c" x="236.1" y="845.4"/>
<use href="#c" x="238.9" y="841.5"/>
<use href="#c" x="237.6" y="840.9"/>
<use href="#c" x="241.3" y="845.8"/>
<use href="#c" x="237.6" y="842.0"/>
<use href="#c" x="235.9" y="841.7"/>
<use href="#c" x="243.4" y="844.9"/>
<use href="#c" x="240.3" y="843.9"/>
<use href="#c" x="241.6" y="840.4"/>
<use href="#c" x="244.4" y="843.8"/>
<use href="#c" x="246.3" y="846.1"/>
<use href="#c" x="246.1" y="844.2"/>
<use href="#c" x="243.1" y="837.0"/>
<use href="#c" x="244.1" y="843.5"/>
<use href="#c" x="246.4" y="842.4"/>
<use href="#c" x="247.2" y="844.9"/>
<use href="#c" x="247.3" y="843.6"/>
<use href="#c" x="250.0" y="844.4"/>
<use href="#c" x="249.4" y="841.9"/>
<use href="#c" x="249.2" y="843.6"/>
<use href="#c" x="249.1" y="840.8"/>
<use href="#c" x="251.5" y="842.0"/>
<use href="#c" x="252.6" y="844.1"/>
<use href="#c" x="250.3" y="842.9"/>
<use href="#c" x="249.6" y="843.6"/>
<use href="#c" x="256.0" y="845.1"/>
<use href="#c" x="253.1" y="840.5"/>
<use href="#c" x="254.3" y="837.6"/>
<use href="#c" x="255.6" y="841.7"/>
<use href="#c" x="255.7" y="843.6"/>
<use href="#c" x="258.0" y="845.3"/>
<use href="#c" x="258.3" y="841.4"/>
<use href="#c" x="255.2" y="839.0"/>
<use href="#c" x="261.1" y="838.7"/>
<use href="#c" x="257.7" y="839.0"/>
<use href="#c" x="259.7" y="840.6"/>
<use href="#c" x="262.3" y="842.5"/>
<use href="#c" x="260.4" y="839.5"/>
<use href="#c" x="260.4" y="837.5"/>
<use href="#c" x="261.6" y="836.3"/>
<use href="#c" x="264.4" y="838.1"/>
<use href="#c" x="263.5" y="838.1"/>
<use href="#c" x="262.9" y="837.4"/>
<use href="#c" x="266.2" y="838.1"/>
<use href="#c" x="265.9" y="837.3"/>
<use href="#c" x="269.1" y="828.4"/>
<use href="#c" x="265.5" y="829.3"/>
<use href="#c" x="264.4" y="822.9"/>
<use href="#c" x="269.1" y="826.8"/>
<use href="#c" x="271.5" y="823.1"/>
<use href="#c" x="270.6" y="822.3"/>
<use href="#c" x="268.8" y="818.0"/>
<use href="#c" x="271.7" y="815.8"/>
<use href="#c" x="271.5" y="816.9"/>
<use href="#c" x="272.2" y="815.8"/>
<use href="#c" x="268.6" y="814.3"/>
<use href="#c" x="274.4" y="813.8"/>
<use href="#c" x="274.2" y="813.5"/>
<use href="#c" x="272.9" y="808.2"/>
<use href="#c" x="274.2" y="811.8"/>
<use href="#c" x="276.5" y="811.2"/>
<use href="#c" x="277.0" y="806.8"/>
<use href="#c" x="277.8" y="812.4"/>
<use href="#c" x="278.1" y="805.9"/>
<use href="#c" x="279.0" y="809.8"/>
<use href="#c" x="280.2" y="811.3"/>
<use href="#c" x="280.1" y="811.3"/>
<use href="#c" x="281.4" y="816.7"/>
<use href="#c" x="281.7" y="816.5"/>
<use href="#c" x="283.5" y="820.2"/>
<use href="#c" x="279.9" y="820.9"/>
<use href="#c" x="282.2" y="818.2"/>
<use href="#c" x="282.2" y="823.2"/>
<use href="#c" x="284.3" y="821.3"/>
<use href="#c" x="283.6" y="824.7"/>
<use href="#c" x="284.3" y="826.9"/>
<use href="#c" x="287.6" y="830.9"/>
<use href="#c" x="285.6" y="831.1"/>
<use href="#c" x="286.6" y="834.9"/>
<use href="#c" x="287.7" y="834.2"/>
<use href="#c" x="291.8" y="834.6"/>
<use href="#c" x="291.5" y="838.6"/>
<use href="#c" x="290.7" y="841.3"/>
<use href="#c" x="291.9" y="834.0"/>
<use href="#c" x="289.3" y="841.5"/>
<use href="#c" x="294.1" y="838.3"/>
<use href="#c" x="294.3" y="842.3"/>
<use href="#c" x="294.6" y="839.1"/>
<use href="#c" x="295.2" y="841.3"/>
<use href="#c" x="294.6" y="838.3"/>
<use href="#c" x="294.1" y="836.6"/>
<use href="#c" x="295.9" y="841.0"/>
<use href="#c" x="295.8" y="841.1"/>
<use href="#c" x="297.2" y="843.7"/>
<use href="#c" x="298.7" y="839.1"/>
<use href="#c" x="298.4" y="845.5"/>
<use href="#c" x="301.2" y="839.7"/>
<use href="#c" x="296.8" y="844.0"/>
<use href="#c" x="299.9" y="842.6"/>
<use href="#c" x="301.2" y="848.4"/>
<use href="#c" x="302.9" y="839.6"/>
<use href="#c" x="299.8" y="845.6"/>
<use href="#c" x="302.7" y="842.7"/>
<use href="#c" x="304.5" y="845.0"/>
<use href="#c" x="305.0" y="840.9"/>
<use href="#c" x="302.7" y="842.9"/>
<use href="#c" x="307.3" y="839.9"/>
<use href="#c" x="310.0" y="845.0"/>
<use href="#c" x="308.1" y="843.0"/>
<use href="#c" x="309.9" y="839.4"/>
<use href="#c" x="307.2" y="839.9"/>
<use href="#c" x="307.8" y="843.9"/>
<use href="#c" x="308.7" y="849.8"/>
<use href="#c" x="309.9" y="839.0"/>
<use href="#c" x="309.5" y="844.8"/>
<use href="#c" x="313.4" y="845.3"/>
<use href="#c" x="313.2" y="838.4"/>
<use href="#c" x="313.3" y="843.0"/>
<use href="#c" x="314.5" y="843.5"/>
<use href="#c" x="315.0" y="841.7"/>
<use href="#c" x="316.7" y="841.3"/>
<use href="#c" x="317.1" y="844.5"/>
<use href="#c" x="316.4" y="842.8"/>
<use href="#c" x="315.4" y="841.6"/>
<use href="#c" x="314.6" y="843.7"/>
<use href="#c" x="319.0" y="846.5"/>
<use href="#c" x="319.7" y="838.2"/>
<use href="#c" x="321.5" y="846.3"/>
<use href="#c" x="320.5" y="841.9"/>
<use href="#c" x="321.6" y="838.1"/>
<use href="#c" x="322.2" y="845.0"/>
<use href="#c" x="322.2" y="843.2"/>
<use href="#c" x="321.1" y="844.3"/>
<use href="#c" x="322.1" y="838.3"/>
<use href="#c" x="325.9" y="847.9"/>
<use href="#c" x="321.8" y="843.0"/>
<use href="#c" x="324.0" y="843.9"/>
<use href="#c" x="326.8" y="851.1"/>
<use href="#c" x="324.9" y="840.4"/>
<use href="#c" x="326.2" y="842.2"/>
<use href="#c" x="326.6" y="841.4"/>
<use href="#c" x="330.4" y="843.3"/>
<use href="#c" x="329.6" y="840.9"/>
<use href="#c" x="326.7" y="842.9"/>
<use href="#c" x="330.4" y="842.5"/>
<use href="#c" x="330.7" y="839.6"/>
<use href="#c" x="330.7" y="843.7"/>
<use href="#c" x="334.0" y="843.1"/>
<use href="#c" x="335.4" y="845.1"/>
<use href="#c" x="334.2" y="846.0"/>
<use href="#c" x="334.2" y="843.2"/>
<use href="#c" x="339.2" y="846.7"/>
<use href="#c" x="338.2" y="841.4"/>
<use href="#c" x="336.7" y="845.5"/>
<use href="#c" x="337.4" y="844.6"/>
<use href="#c" x="338.0" y="846.5"/>
<use href="#c" x="338.8" y="840.8"/>
<use href="#c" x="340.1" y="839.7"/>
<use href="#c" x="340.6" y="842.8"/>
<use href="#c" x="340.9" y="846.3"/>
<use href="#c" x="340.0" y="842.0"/>
<use href="#c" x="341.3" y="836.6"/>
<use href="#c" x="342.7" y="838.9"/>
<use href="#c" x="344.5" y="841.1"/>
<use href="#c" x="341.3" y="843.6"/>
<use href="#c" x="343.5" y="841.3"/>
<use href="#c" x="345.5" y="845.5"/>
<use href="#c" x="344.2" y="842.5"/>
<use href="#c" x="344.5" y="842.5"/>
<use href="#c" x="347.7" y="845.8"/>
<use href="#c" x="347.1" y="840.9"/>
<use href="#c" x="352.3" y="845.1"/>
<use href="#c" x="347.6" y="839.6"/>
<path d="M159.0,842.9 L159.7,842.9 L160.4,842.9 L161.1,842.9 L161.8,842.9 L162.5,842.9 L163.2,842.9 L163.9,842.9 L164.6,842.9 L165.3,842.9 L166.0,842.9 L166.7,842.9 L167.4,842.9 L168.1,842.9 L168.8,842.9 L169.5,842.9 L170.2,842.9 L170.9,842.8 L171.6,842.8 L172.3,842.8 L173.0,842.8 L173.7,842.7 L174.4,842.6 L175.1,842.5 L175.8,842.4 L176.5,842.3 L177.2,842.1 L177.9,841.8 L178.6,841.5 L179.3,841.0 L180.0,840.5 L180.7,839.9 L181.4,839.1 L182.1,838.1 L182.8,837.0 L183.5,835.6 L184.2,834.0 L184.9,832.1 L185.6,829.9 L186.3,827.4 L187.0,824.6 L187.7,821.4 L188.4,817.8 L189.1,813.9 L189.8,809.6 L190.5,805.0 L191.2,800.1 L191.9,795.0 L192.6,789.6 L193.3,784.1 L194.0,778.5 L194.7,773.0 L195.4,767.6 L196.1,762.4 L196.8,757.5 L197.5,753.0 L198.2,749.1 L198.9,745.7 L199.6,743.0 L200.3,741.0 L201.0,739.8 L201.7,739.4 L202.4,739.8 L203.1,741.0 L203.8,743.0 L204.5,745.7 L205.2,749.1 L205.9,753.0 L206.6,757.5 L207.3,762.4 L208.0,767.6 L208.7,773.0 L209.4,778.5 L210.1,784.1 L210.8,789.6 L211.5,795.0 L212.2,800.1 L212.9,805.0 L213.6,809.6 L214.3,813.9 L215.0,817.8 L215.7,821.4 L216.4,824.6 L217.1,827.4 L217.8,829.9 L218.5,832.1 L219.2,834.0 L219.9,835.6 L220.6,837.0 L221.3,838.1 L222.0,839.1 L222.7,839.9 L223.4,840.5 L224.1,841.0 L224.8,841.5 L225.5,841.8 L226.2,842.1 L226.9,842.3 L227.6,842.4 L228.3,842.5 L229.0,842.6 L229.7,842.7 L230.4,842.8 L231.1,842.8 L231.8,842.8 L232.5,842.8 L233.2,842.9 L233.9,842.9 L234.6,842.9 L235.3,842.9 L236.0,842.9 L236.7,842.9 L237.4,842.9 L238.1,842.9 L238.8,842.9 L239.5,842.9 L240.2,842.9 L240.9,842.9 L241.6,842.9 L242.3,842.9 L243.0,842.9 L243.7,842.9 L244.4,842.9 L245.1,842.9 L245.8,842.9 L246.5,842.9 L247.2,842.9 L247.9,842.9 L248.6,842.9 L249.3,842.9 L250.0,842.9 L250.7,842.9 L251.4,842.8 L252.1,842.8 L252.8,842.8 L253.5,842.7 L254.2,842.7 L254.9,842.6 L255.6,842.5 L256.3,842.4 L257.0,842.2 L257.7,842.0 L258.4,841.7 L259.1,841.4 L259.8,840.9 L260.5,840.4 L261.2,839.8 L261.9,839.0 L262.6,838.2 L263.3,837.2 L264.0,836.0 L264.7,834.7 L265.4,833.2 L266.1,831.6 L266.8,829.9 L267.5,828.0 L268.2,826.1 L268.9,824.0 L269.6,822.0 L270.3,819.9 L271.0,817.9 L271.7,816.0 L272.4,814.3 L273.1,812.7 L273.8,811.3 L274.5,810.3 L275.2,809.5 L275.9,809.0 L276.6,808.9 L277.3,809.1 L278.0,809.7 L278.7,810.5 L279.4,811.7 L280.1,813.1 L280.8,814.7 L281.5,816.6 L282.2,818.5 L282.9,820.5 L283.6,822.6 L284.3,824.6 L285.0,826.6 L285.7,828.6 L286.4,830.4 L287.1,832.1 L287.8,833.7 L288.5,835.1 L289.2,836.3 L289.9,837.5 L290.6,838.4 L291.3,839.3 L292.0,840.0 L292.7,840.6 L293.4,841.1 L294.1,841.5 L294.8,841.8 L295.5,842.0 L296.2,842.3 L296.9,842.4 L297.6,842.5 L298.3,842.6 L299.0,842.7 L299.7,842.8 L300.4,842.8 L301.1,842.8 L301.8,842.9 L302.5,842.9 L303.2,842.9 L303.9,842.9 L304.6,842.9 L305.3,842.9 L306.0,842.9 L306.7,842.9 L307.4,842.9 L308.1,842.9 L308.8,842.9 L309.5,842.9 L310.2,842.9 L310.9,842.9 L311.6,842.9 L312.3,842.9 L313.0,842.9 L313.7,842.9 L314.4,842.9 L315.1,842.9 L315.8,842.9 L316.5,842.9 L317.2,842.9 L317.9,842.9 L318.6,842.9 L319.3,842.9 L320.0,842.9 L320.7,842.9 L321.4,842.9 L322.1,842.9 L322.8,842.9 L323.5,842.9 L324.2,842.9 L324.9,842.9 L325.6,842.9 L326.3,842.9 L327.0,842.9 L327.7,842.9 L328.4,842.9 L329.1,842.9 L329.8,842.9 L330.5,842.9 L331.2,842.9 L331.9,842.9 L332.6,842.9 L333.3,842.9 L334.0,842.9 L334.7,842.9 L335.4,842.9 L336.1,842.9 L336.8,842.9 L337.5,842.9 L338.2,842.9 L338.9,842.9 L339.6,842.9 L340.3,842.9 L341.0,842.9 L341.7,842.9 L342.4,842.9 L343.1,842.9 L343.8,842.9 L344.5,842.9 L345.2,842.9 L345.9,842.9 L346.6,842.9 L347.3,842.9 L348.0,842.9 L348.7,842.9" fill="none" stroke="#d040d0" stroke-width="1.2"/>
<path d="M159.0,842.9 L159.7,842.9 L160.4,842.9 L161.1,842.9 L161.8,842.9 L162.5,842.9 L163.2,842.9 L163.9,842.9 L164.6,842.9 L165.3,842.9 L166.0,842.9 L166.7,842.9 L167.4,842.9 L168.1,842.9 L168.8,842.9 L169.5,842.9 L170.2,842.9 L170.9,842.8 L171.6,842.8 L172.3,842.8 L173.0,842.8 L173.7,842.7 L174.4,842.6 L175.1,842.5 L175.8,842.4 L176.5,842.3 L177.2,842.1 L177.9,841.8 L178.6,841.5 L179.3,841.0 L180.0,840.5 L180.7,839.9 L181.4,839.1 L182.1,838.1 L182.8,837.0 L183.5,835.6 L184.2,834.0 L184.9,832.1 L185.6,829.9 L186.3,827.4 L187.0,824.6 L187.7,821.4 L188.4,817.8 L189.1,813.9 L189.8,809.6 L190.5,805.0 L191.2,800.1 L191.9,795.0 L192.6,789.6 L193.3,784.1 L194.0,778.5 L194.7,773.0 L195.4,767.6 L196.1,762.4 L196.8,757.5 L197.5,753.0 L198.2,749.1 L198.9,745.7 L199.6,743.0 L200.3,741.0 L201.0,739.8 L201.7,739.4 L202.4,739.8 L203.1,741.0 L203.8,743.0 L204.5,745.7 L205.2,749.1 L205.9,753.0 L206.6,757.5 L207.3,762.4 L208.0,767.6 L208.7,773.0 L209.4,778.5 L210.1,784.1 L210.8,789.6 L211.5,795.0 L212.2,800.1 L212.9,805.0 L213.6,809.6 L214.3,813.9 L215.0,817.8 L215.7,821.4 L216.4,824.6 L217.1,827.4 L217.8,829.9 L218.5,832.1 L219.2,834.0 L219.9,835.6 L220.6,837.0 L221.3,838.1 L222.0,839.1 L222.7,839.9 L223.4,840.5 L224.1,841.0 L224.8,841.5 L225.5,841.8 L226.2,842.1 L226.9,842.3 L227.6,842.4 L228.3,842.5 L229.0,842.6 L229.7,842.7 L230.4,842.8 L231.1,842.8 L231.8,842.8 L232.5,842.8 L233.2,842.9 L233.9,842.9 L234.6,842.9 L235.3,842.9 L236.0,842.9 L236.7,842.9 L237.4,842.9 L238.1,842.9 L238.8,842.9 L239.5,842.9 L240.2,842.9 L240.9,842.9 L241.6,842.9 L242.3,842.9 L243.0,842.9 L243.7,842.9 L244.4,842.9 L245.1,842.9 L245.8,842.9 L246.5,842.9 L247.2,842.9 L247.9,842.9 L248.6,842.9 L249.3,842.9 L250.0,842.9 L250.7,842.9 L251.4,842.9 L252.1,842.9 L252.8,842.9 L253.5,842.9 L254.2,842.9 L254.9,842.9 L255.6,842.9 L256.3,842.9 L257.0,842.9 L257.7,842.9 L258.4,842.9 L259.1,842.9 L259.8,842.9 L260.5,842.9 L261.2,842.9 L261.9,842.9 L262.6,842.9 L263.3,842.9 L264.0,842.9 L264.7,842.9 L265.4,842.9 L266.1,842.9 L266.8,842.9 L267.5,842.9 L268.2,842.9 L268.9,842.9 L269.6,842.9 L270.3,842.9 L271.0,842.9 L271.7,842.9 L272.4,842.9 L273.1,842.9 L273.8,842.9 L274.5,842.9 L275.2,842.9 L275.9,842.9 L276.6,842.9 L277.3,842.9 L278.0,842.9 L278.7,842.9 L279.4,842.9 L280.1,842.9 L280.8,842.9 L281.5,842.9 L282.2,842.9 L282.9,842.9 L283.6,842.9 L284.3,842.9 L285.0,842.9 L285.7,842.9 L286.4,842.9 L287.1,842.9 L287.8,842.9 L288.5,842.9 L289.2,842.9 L289.9,842.9 L290.6,842.9 L291.3,842.9 L292.0,842.9 L292.7,842.9 L293.4,842.9 L294.1,842.9 L294.8,842.9 L295.5,842.9 L296.2,842.9 L296.9,842.9 L297.6,842.9 L298.3,842.9 L299.0,842.9 L299.7,842.9 L300.4,842.9 L301.1,842.9 L301.8,842.9 L302.5,842.9 L303.2,842.9 L303.9,842.9 L304.6,842.9 L305.3,842.9 L306.0,842.9 L306.7,842.9 L307.4,842.9 L308.1,842.9 L308.8,842.9 L309.5,842.9 L310.2,842.9 L310.9,842.9 L311.6,842.9 L312.3,842.9 L313.0,842.9 L313.7,842.9 L314.4,842.9 L315.1,842.9 L315.8,842.9 L316.5,842.9 L317.2,842.9 L317.9,842.9 L318.6,842.9 L319.3,842.9 L320.0,842.9 L320.7,842.9 L321.4,842.9 L322.1,842.9 L322.8,842.9 L323.5,842.9 L324.2,842.9 L324.9,842.9 L325.6,842.9 L326.3,842.9 L327.0,842.9 L327.7,842.9 L328.4,842.9 L329.1,842.9 L329.8,842.9 L330.5,842.9 L331.2,842.9 L331.9,842.9 L332.6,842.9 L333.3,842.9 L334.0,842.9 L334.7,842.9 L335.4,842.9 L336.1,842.9 L336.8,842.9 L337.5,842.9 L338.2,842.9 L338.9,842.9 L339.6,842.9 L340.3,842.9 L341.0,842.9 L341.7,842.9 L342.4,842.9 L343.1,842.9 L343.8,842.9 L344.5,842.9 L345.2,842.9 L345.9,842.9 L346.6,842.9 L347.3,842.9 L348.0,842.9 L348.7,842.9" fill="none" stroke="#d84040" stroke-width="1.3"/>
<path d="M159.0,842.9 L159.7,842.9 L160.4,842.9 L161.1,842.9 L161.8,842.9 L162.5,842.9 L163.2,842.9 L163.9,842.9 L164.6,842.9 L165.3,842.9 L166.0,842.9 L166.7,842.9 L167.4,842.9 L168.1,842.9 L168.8,842.9 L169.5,842.9 L170.2,842.9 L170.9,842.9 L171.6,842.9 L172.3,842.9 L173.0,842.9 L173.7,842.9 L174.4,842.9 L175.1,842.9 L175.8,842.9 L176.5,842.9 L177.2,842.9 L177.9,842.9 L178.6,842.9 L179.3,842.9 L180.0,842.9 L180.7,842.9 L181.4,842.9 L182.1,842.9 L182.8,842.9 L183.5,842.9 L184.2,842.9 L184.9,842.9 L185.6,842.9 L186.3,842.9 L187.0,842.9 L187.7,842.9 L188.4,842.9 L189.1,842.9 L189.8,842.9 L190.5,842.9 L191.2,842.9 L191.9,842.9 L192.6,842.9 L193.3,842.9 L194.0,842.9 L194.7,842.9 L195.4,842.9 L196.1,842.9 L196.8,842.9 L197.5,842.9 L198.2,842.9 L198.9,842.9 L199.6,842.9 L200.3,842.9 L201.0,842.9 L201.7,842.9 L202.4,842.9 L203.1,842.9 L203.8,842.9 L204.5,842.9 L205.2,842.9 L205.9,842.9 L206.6,842.9 L207.3,842.9 L208.0,842.9 L208.7,842.9 L209.4,842.9 L210.1,842.9 L210.8,842.9 L211.5,842.9 L212.2,842.9 L212.9,842.9 L213.6,842.9 L214.3,842.9 L215.0,842.9 L215.7,842.9 L216.4,842.9 L217.1,842.9 L217.8,842.9 L218.5,842.9 L219.2,842.9 L219.9,842.9 L220.6,842.9 L221.3,842.9 L222.0,842.9 L222.7,842.9 L223.4,842.9 L224.1,842.9 L224.8,842.9 L225.5,842.9 L226.2,842.9 L226.9,842.9 L227.6,842.9 L228.3,842.9 L229.0,842.9 L229.7,842.9 L230.4,842.9 L231.1,842.9 L231.8,842.9 L232.5,842.9 L233.2,842.9 L233.9,842.9 L234.6,842.9 L235.3,842.9 L236.0,842.9 L236.7,842.9 L237.4,842.9 L238.1,842.9 L238.8,842.9 L239.5,842.9 L240.2,842.9 L240.9,842.9 L241.6,842.9 L242.3,842.9 L243.0,842.9 L243.7,842.9 L244.4,842.9 L245.1,842.9 L245.8,842.9 L246.5,842.9 L247.2,842.9 L247.9,842.9 L248.6,842.9 L249.3,842.9 L250.0,842.9 L250.7,842.9 L251.4,842.8 L252.1,842.8 L252.8,842.8 L253.5,842.7 L254.2,842.7 L254.9,842.6 L255.6,842.5 L256.3,842.4 L257.0,842.2 L257.7,842.0 L258.4,841.7 L259.1,841.4 L259.8,840.9 L260.5,840.4 L261.2,839.8 L261.9,839.0 L262.6,838.2 L263.3,837.2 L264.0,836.0 L264.7,834.7 L265.4,833.2 L266.1,831.6 L266.8,829.9 L267.5,828.0 L268.2,826.1 L268.9,824.0 L269.6,822.0 L270.3,819.9 L271.0,817.9 L271.7,816.0 L272.4,814.3 L273.1,812.7 L273.8,811.3 L274.5,810.3 L275.2,809.5 L275.9,809.0 L276.6,808.9 L277.3,809.1 L278.0,809.7 L278.7,810.5 L279.4,811.7 L280.1,813.1 L280.8,814.7 L281.5,816.6 L282.2,818.5 L282.9,820.5 L283.6,822.6 L284.3,824.6 L285.0,826.6 L285.7,828.6 L286.4,830.4 L287.1,832.1 L287.8,833.7 L288.5,835.1 L289.2,836.3 L289.9,837.5 L290.6,838.4 L291.3,839.3 L292.0,840.0 L292.7,840.6 L293.4,841.1 L294.1,841.5 L294.8,841.8 L295.5,842.0 L296.2,842.3 L296.9,842.4 L297.6,842.5 L298.3,842.6 L299.0,842.7 L299.7,842.8 L300.4,842.8 L301.1,842.8 L301.8,842.9 L302.5,842.9 L303.2,842.9 L303.9,842.9 L304.6,842.9 L305.3,842.9 L306.0,842.9 L306.7,842.9 L307.4,842.9 L308.1,842.9 L308.8,842.9 L309.5,842.9 L310.2,842.9 L310.9,842.9 L311.6,842.9 L312.3,842.9 L313.0,842.9 L313.7,842.9 L314.4,842.9 L315.1,842.9 L315.8,842.9 L316.5,842.9 L317.2,842.9 L317.9,842.9 L318.6,842.9 L319.3,842.9 L320.0,842.9 L320.7,842.9 L321.4,842.9 L322.1,842.9 L322.8,842.9 L323.5,842.9 L324.2,842.9 L324.9,842.9 L325.6,842.9 L326.3,842.9 L327.0,842.9 L327.7,842.9 L328.4,842.9 L329.1,842.9 L329.8,842.9 L330.5,842.9 L331.2,842.9 L331.9,842.9 L332.6,842.9 L333.3,842.9 L334.0,842.9 L334.7,842.9 L335.4,842.9 L336.1,842.9 L336.8,842.9 L337.5,842.9 L338.2,842.9 L338.9,842.9 L339.6,842.9 L340.3,842.9 L341.0,842.9 L341.7,842.9 L342.4,842.9 L343.1,842.9 L343.8,842.9 L344.5,842.9 L345.2,842.9 L345.9,842.9 L346.6,842.9 L347.3,842.9 L348.0,842.9 L348.7,842.9" fill="none" stroke="#2c2cc0" stroke-width="1.3"/>
<circle cx="245.4" cy="713.6" r="2.6" fill="none" stroke="#333" stroke-width="0.9"/>
<text x="257.8" y="716.7" font-family="Liberation Sans" font-size="8.65" fill="#1a1a1a" text-anchor="start" stroke="#1a1a1a" stroke-width="0.15"><tspan dy="-0.00">Subtracted from "Counts"</tspan></text>
<path d="M235.7,725.1 H255.5" stroke="#d84040" stroke-width="1.4"/>
<text x="257.8" y="728.2" font-family="Liberation Sans" font-size="8.65" fill="#1a1a1a" text-anchor="start" stroke="#1a1a1a" stroke-width="0.15"><tspan dy="-0.00">Fe</tspan><tspan dy="2.42" font-size="5.36">2</tspan><tspan dy="-2.42">O</tspan><tspan dy="2.42" font-size="5.36">3</tspan><tspan dy="-2.42"> 2p</tspan><tspan dy="2.42" font-size="5.36">3/2</tspan></text>
<path d="M235.7,737.1 H255.5" stroke="#2c2cc0" stroke-width="1.4"/>
<text x="257.8" y="740.2" font-family="Liberation Sans" font-size="8.65" fill="#1a1a1a" text-anchor="start" stroke="#1a1a1a" stroke-width="0.15"><tspan dy="-0.00">Fe</tspan><tspan dy="2.42" font-size="5.36">2</tspan><tspan dy="-2.42">O</tspan><tspan dy="2.42" font-size="5.36">3</tspan><tspan dy="-2.42"> 2p</tspan><tspan dy="2.42" font-size="5.36">1/2</tspan></text>
<path d="M235.7,750.9 H255.5" stroke="#d040d0" stroke-width="1.4"/>
<text x="257.8" y="754.0" font-family="Liberation Sans" font-size="8.65" fill="#1a1a1a" text-anchor="start" stroke="#1a1a1a" stroke-width="0.15"><tspan dy="-0.00">Cumulative Fit Peak</tspan></text>
<text x="207.5" y="737.6" font-family="Liberation Serif" font-size="9.5" fill="#222" text-anchor="start" stroke="#222" stroke-width="0.3"><tspan dy="-0.00">2p</tspan><tspan dy="2.66" font-size="5.89">3/2</tspan></text>
<text x="283.0" y="804.5" font-family="Liberation Serif" font-size="9.5" fill="#222" text-anchor="start" stroke="#222" stroke-width="0.3"><tspan dy="-0.00">2p</tspan><tspan dy="2.66" font-size="5.89">1/2</tspan></text>
<text x="230.8" y="783.7" font-family="Liberation Sans" font-size="8.5" fill="#1a1a1a" text-anchor="start" stroke="#1a1a1a" stroke-width="0.2"><tspan dy="-0.00">Fe 2p</tspan><tspan dy="2.38" font-size="5.27">3/2</tspan></text>
<text x="231.1" y="794.3" font-family="Liberation Sans" font-size="8.5" fill="#1a1a1a" text-anchor="start" stroke="#1a1a1a" stroke-width="0.2"><tspan dy="-0.00">satellite</tspan></text>
<text x="310.8" y="783.7" font-family="Liberation Sans" font-size="8.5" fill="#1a1a1a" text-anchor="start" stroke="#1a1a1a" stroke-width="0.2"><tspan dy="-0.00">Fe 2p</tspan><tspan dy="2.38" font-size="5.27">1/2</tspan></text>
<text x="311.1" y="794.3" font-family="Liberation Sans" font-size="8.5" fill="#1a1a1a" text-anchor="start" stroke="#1a1a1a" stroke-width="0.2"><tspan dy="-0.00">satellite</tspan></text>
<path d="M241.60000000000002,809.8 H247.0 V820.0 H250.10000000000002 L244.3,825.7 L238.5,820.0 H241.60000000000002 Z" fill="#111"/>
<path d="M321.8,809.8 H327.2 V820.0 H330.3 L324.5,825.7 L318.7,820.0 H321.8 Z" fill="#111"/>
<path d="M380.3,707.8 L380.3,859.6 L569.9,859.6" fill="none" stroke="#6a6a6a" stroke-width="1.2"/>
<path d="M395.9,859.6 v3.2 M414.8,859.6 v2.0 M433.8,859.6 v3.2 M452.7,859.6 v2.0 M471.6,859.6 v3.2 M490.5,859.6 v2.0 M509.4,859.6 v3.2 M528.4,859.6 v2.0 M547.3,859.6 v3.2 M566.2,859.6 v2.0" stroke="#6a6a6a" stroke-width="1"/>
<text x="395.9" y="875.2" font-family="Liberation Serif" font-size="12.9" fill="#111" stroke="#111" stroke-width="0.2" text-anchor="middle">528</text>
<text x="433.8" y="875.2" font-family="Liberation Serif" font-size="12.9" fill="#111" stroke="#111" stroke-width="0.2" text-anchor="middle">530</text>
<text x="471.6" y="875.2" font-family="Liberation Serif" font-size="12.9" fill="#111" stroke="#111" stroke-width="0.2" text-anchor="middle">532</text>
<text x="509.4" y="875.2" font-family="Liberation Serif" font-size="12.9" fill="#111" stroke="#111" stroke-width="0.2" text-anchor="middle">534</text>
<text x="547.3" y="875.2" font-family="Liberation Serif" font-size="12.9" fill="#111" stroke="#111" stroke-width="0.2" text-anchor="middle">536</text>
<text x="474.7" y="889.7" font-family="Liberation Serif" font-size="12.9" fill="#111" stroke="#111" stroke-width="0.2" text-anchor="middle">Binding energy (eV)</text>
<text transform="translate(369,776.6) rotate(-90)" x="0" y="0" font-family="Liberation Serif" font-size="12.7" fill="#111" stroke="#111" stroke-width="0.2" text-anchor="middle">Intensity (a.u.)</text>
<text x="381.6" y="718.1" font-family="Liberation Serif" font-size="9" fill="#333" stroke="#333" stroke-width="0.35">O1s</text>
<use href="#c" x="381.7" y="841.9"/>
<use href="#c" x="383.8" y="843.6"/>
<use href="#c" x="386.2" y="841.7"/>
<use href="#c" x="388.7" y="843.1"/>
<use href="#c" x="390.5" y="841.6"/>
<use href="#c" x="393.2" y="843.0"/>
<use href="#c" x="395.6" y="843.4"/>
<use href="#c" x="397.6" y="841.6"/>
<use href="#c" x="399.9" y="843.0"/>
<use href="#c" x="402.1" y="839.1"/>
<use href="#c" x="404.6" y="837.7"/>
<use href="#c" x="406.9" y="834.0"/>
<use href="#c" x="409.3" y="829.4"/>
<use href="#c" x="411.5" y="822.8"/>
<use href="#c" x="413.9" y="810.8"/>
<use href="#c" x="416.1" y="798.8"/>
<use href="#c" x="418.4" y="784.5"/>
<use href="#c" x="420.7" y="769.9"/>
<use href="#c" x="423.0" y="758.6"/>
<use href="#c" x="425.0" y="744.4"/>
<use href="#c" x="427.7" y="735.2"/>
<use href="#c" x="430.0" y="731.9"/>
<use href="#c" x="432.0" y="733.5"/>
<use href="#c" x="434.3" y="739.7"/>
<use href="#c" x="436.7" y="749.4"/>
<use href="#c" x="439.1" y="758.3"/>
<use href="#c" x="441.3" y="768.2"/>
<use href="#c" x="443.7" y="776.4"/>
<use href="#c" x="446.1" y="782.9"/>
<use href="#c" x="448.1" y="786.3"/>
<use href="#c" x="450.7" y="789.4"/>
<use href="#c" x="452.8" y="791.5"/>
<use href="#c" x="455.3" y="791.3"/>
<use href="#c" x="457.5" y="791.6"/>
<use href="#c" x="459.7" y="792.2"/>
<use href="#c" x="462.0" y="792.2"/>
<use href="#c" x="464.7" y="794.9"/>
<use href="#c" x="466.9" y="797.0"/>
<use href="#c" x="469.1" y="799.1"/>
<use href="#c" x="471.5" y="801.1"/>
<use href="#c" x="473.5" y="805.1"/>
<use href="#c" x="476.3" y="805.9"/>
<use href="#c" x="478.4" y="809.5"/>
<use href="#c" x="480.3" y="812.7"/>
<use href="#c" x="483.2" y="816.4"/>
<use href="#c" x="485.3" y="817.1"/>
<use href="#c" x="487.2" y="819.3"/>
<use href="#c" x="489.8" y="821.4"/>
<use href="#c" x="492.1" y="824.5"/>
<use href="#c" x="494.6" y="825.7"/>
<use href="#c" x="496.8" y="826.9"/>
<use href="#c" x="498.8" y="830.2"/>
<use href="#c" x="501.0" y="829.5"/>
<use href="#c" x="503.6" y="833.0"/>
<use href="#c" x="505.6" y="835.9"/>
<use href="#c" x="508.2" y="836.6"/>
<use href="#c" x="509.9" y="838.2"/>
<use href="#c" x="513.2" y="840.5"/>
<use href="#c" x="514.8" y="841.7"/>
<use href="#c" x="517.3" y="841.3"/>
<use href="#c" x="519.7" y="844.1"/>
<use href="#c" x="522.2" y="842.4"/>
<use href="#c" x="524.6" y="842.5"/>
<use href="#c" x="526.4" y="842.1"/>
<use href="#c" x="529.1" y="843.3"/>
<use href="#c" x="531.2" y="843.3"/>
<use href="#c" x="533.3" y="841.4"/>
<use href="#c" x="535.6" y="842.4"/>
<use href="#c" x="537.9" y="843.3"/>
<use href="#c" x="540.3" y="843.5"/>
<use href="#c" x="542.6" y="842.6"/>
<use href="#c" x="545.1" y="843.2"/>
<use href="#c" x="547.2" y="842.5"/>
<use href="#c" x="549.8" y="841.8"/>
<use href="#c" x="551.8" y="844.1"/>
<use href="#c" x="553.9" y="842.5"/>
<use href="#c" x="556.4" y="843.0"/>
<use href="#c" x="558.7" y="844.6"/>
<use href="#c" x="560.5" y="842.3"/>
<use href="#c" x="563.3" y="844.0"/>
<use href="#c" x="565.6" y="841.6"/>
<use href="#c" x="568.6" y="841.6"/>
<path d="M381.6,842.9 L382.3,842.9 L383.0,842.9 L383.7,842.9 L384.4,842.9 L385.1,842.9 L385.8,842.9 L386.5,842.9 L387.2,842.9 L387.9,842.9 L388.6,842.9 L389.3,842.9 L390.0,842.9 L390.7,842.9 L391.4,842.9 L392.1,842.9 L392.8,842.8 L393.5,842.8 L394.2,842.8 L394.9,842.8 L395.6,842.7 L396.3,842.7 L397.0,842.6 L397.7,842.5 L398.4,842.4 L399.1,842.3 L399.8,842.1 L400.5,841.9 L401.2,841.6 L401.9,841.3 L402.6,841.0 L403.3,840.6 L404.0,840.0 L404.7,839.4 L405.4,838.7 L406.1,837.9 L406.8,837.0 L407.5,835.9 L408.2,834.6 L408.9,833.2 L409.6,831.6 L410.3,829.8 L411.0,827.8 L411.7,825.6 L412.4,823.1 L413.1,820.5 L413.8,817.6 L414.5,814.5 L415.2,811.2 L415.9,807.7 L416.6,804.1 L417.3,800.3 L418.0,796.4 L418.7,792.3 L419.4,788.3 L420.1,784.2 L420.8,780.2 L421.5,776.3 L422.2,772.5 L422.9,768.9 L423.6,765.5 L424.3,762.4 L425.0,759.6 L425.7,757.2 L426.4,755.2 L427.1,753.7 L427.8,752.6 L428.5,752.0 L429.2,751.9 L429.9,752.3 L430.6,753.2 L431.3,754.5 L432.0,756.3 L432.7,758.5 L433.4,761.2 L434.1,764.1 L434.8,767.4 L435.5,770.9 L436.2,774.6 L436.9,778.5 L437.6,782.5 L438.3,786.5 L439.0,790.6 L439.7,794.6 L440.4,798.6 L441.1,802.5 L441.8,806.2 L442.5,809.7 L443.2,813.1 L443.9,816.3 L444.6,819.3 L445.3,822.0 L446.0,824.5 L446.7,826.9 L447.4,829.0 L448.1,830.8 L448.8,832.5 L449.5,834.0 L450.2,835.4 L450.9,836.5 L451.6,837.5 L452.3,838.4 L453.0,839.2 L453.7,839.8 L454.4,840.3 L455.1,840.8 L455.8,841.2 L456.5,841.5 L457.2,841.8 L457.9,842.0 L458.6,842.2 L459.3,842.3 L460.0,842.5 L460.7,842.6 L461.4,842.6 L462.1,842.7 L462.8,842.7 L463.5,842.8 L464.2,842.8 L464.9,842.8 L465.6,842.8 L466.3,842.9 L467.0,842.9 L467.7,842.9 L468.4,842.9 L469.1,842.9 L469.8,842.9 L470.5,842.9 L471.2,842.9 L471.9,842.9 L472.6,842.9 L473.3,842.9 L474.0,842.9 L474.7,842.9 L475.4,842.9 L476.1,842.9 L476.8,842.9 L477.5,842.9 L478.2,842.9 L478.9,842.9 L479.6,842.9 L480.3,842.9 L481.0,842.9 L481.7,842.9 L482.4,842.9 L483.1,842.9 L483.8,842.9 L484.5,842.9 L485.2,842.9 L485.9,842.9 L486.6,842.9 L487.3,842.9 L488.0,842.9 L488.7,842.9 L489.4,842.9 L490.1,842.9 L490.8,842.9 L491.5,842.9 L492.2,842.9 L492.9,842.9 L493.6,842.9 L494.3,842.9 L495.0,842.9 L495.7,842.9 L496.4,842.9 L497.1,842.9 L497.8,842.9 L498.5,842.9 L499.2,842.9 L499.9,842.9 L500.6,842.9 L501.3,842.9 L502.0,842.9 L502.7,842.9 L503.4,842.9 L504.1,842.9 L504.8,842.9 L505.5,842.9 L506.2,842.9 L506.9,842.9 L507.6,842.9 L508.3,842.9 L509.0,842.9 L509.7,842.9 L510.4,842.9 L511.1,842.9 L511.8,842.9 L512.5,842.9 L513.2,842.9 L513.9,842.9 L514.6,842.9 L515.3,842.9 L516.0,842.9 L516.7,842.9 L517.4,842.9 L518.1,842.9 L518.8,842.9 L519.5,842.9 L520.2,842.9 L520.9,842.9 L521.6,842.9 L522.3,842.9 L523.0,842.9 L523.7,842.9 L524.4,842.9 L525.1,842.9 L525.8,842.9 L526.5,842.9 L527.2,842.9 L527.9,842.9 L528.6,842.9 L529.3,842.9 L530.0,842.9 L530.7,842.9 L531.4,842.9 L532.1,842.9 L532.8,842.9 L533.5,842.9 L534.2,842.9 L534.9,842.9 L535.6,842.9 L536.3,842.9 L537.0,842.9 L537.7,842.9 L538.4,842.9 L539.1,842.9 L539.8,842.9 L540.5,842.9 L541.2,842.9 L541.9,842.9 L542.6,842.9 L543.3,842.9 L544.0,842.9 L544.7,842.9 L545.4,842.9 L546.1,842.9 L546.8,842.9 L547.5,842.9 L548.2,842.9 L548.9,842.9 L549.6,842.9 L550.3,842.9 L551.0,842.9 L551.7,842.9 L552.4,842.9 L553.1,842.9 L553.8,842.9 L554.5,842.9 L555.2,842.9 L555.9,842.9 L556.6,842.9 L557.3,842.9 L558.0,842.9 L558.7,842.9 L559.4,842.9 L560.1,842.9 L560.8,842.9 L561.5,842.9 L562.2,842.9 L562.9,842.9 L563.6,842.9 L564.3,842.9 L565.0,842.9 L565.7,842.9 L566.4,842.9 L567.1,842.9 L567.8,842.9" fill="none" stroke="#d84040" stroke-width="1.3"/>
<path d="M381.6,842.8 L382.3,842.8 L383.0,842.8 L383.7,842.8 L384.4,842.8 L385.1,842.8 L385.8,842.8 L386.5,842.8 L387.2,842.7 L387.9,842.7 L388.6,842.7 L389.3,842.7 L390.0,842.6 L390.7,842.6 L391.4,842.6 L392.1,842.5 L392.8,842.5 L393.5,842.5 L394.2,842.4 L394.9,842.4 L395.6,842.3 L396.3,842.2 L397.0,842.2 L397.7,842.1 L398.4,842.0 L399.1,841.9 L399.8,841.8 L400.5,841.7 L401.2,841.6 L401.9,841.5 L402.6,841.4 L403.3,841.2 L404.0,841.1 L404.7,840.9 L405.4,840.8 L406.1,840.6 L406.8,840.4 L407.5,840.2 L408.2,839.9 L408.9,839.7 L409.6,839.4 L410.3,839.2 L411.0,838.9 L411.7,838.5 L412.4,838.2 L413.1,837.9 L413.8,837.5 L414.5,837.1 L415.2,836.7 L415.9,836.3 L416.6,835.8 L417.3,835.3 L418.0,834.8 L418.7,834.3 L419.4,833.7 L420.1,833.2 L420.8,832.6 L421.5,831.9 L422.2,831.3 L422.9,830.6 L423.6,829.9 L424.3,829.2 L425.0,828.4 L425.7,827.7 L426.4,826.9 L427.1,826.0 L427.8,825.2 L428.5,824.3 L429.2,823.4 L429.9,822.5 L430.6,821.6 L431.3,820.7 L432.0,819.7 L432.7,818.7 L433.4,817.8 L434.1,816.8 L434.8,815.8 L435.5,814.7 L436.2,813.7 L436.9,812.7 L437.6,811.7 L438.3,810.7 L439.0,809.7 L439.7,808.6 L440.4,807.6 L441.1,806.6 L441.8,805.7 L442.5,804.7 L443.2,803.8 L443.9,802.9 L444.6,802.0 L445.3,801.1 L446.0,800.2 L446.7,799.4 L447.4,798.7 L448.1,797.9 L448.8,797.2 L449.5,796.6 L450.2,795.9 L450.9,795.4 L451.6,794.8 L452.3,794.4 L453.0,793.9 L453.7,793.5 L454.4,793.2 L455.1,792.9 L455.8,792.7 L456.5,792.6 L457.2,792.5 L457.9,792.4 L458.6,792.4 L459.3,792.5 L460.0,792.6 L460.7,792.8 L461.4,793.0 L462.1,793.3 L462.8,793.6 L463.5,794.0 L464.2,794.4 L464.9,794.9 L465.6,795.4 L466.3,796.0 L467.0,796.6 L467.7,797.3 L468.4,798.0 L469.1,798.8 L469.8,799.5 L470.5,800.4 L471.2,801.2 L471.9,802.1 L472.6,803.0 L473.3,803.9 L474.0,804.8 L474.7,805.8 L475.4,806.8 L476.1,807.8 L476.8,808.8 L477.5,809.8 L478.2,810.8 L478.9,811.8 L479.6,812.9 L480.3,813.9 L481.0,814.9 L481.7,815.9 L482.4,816.9 L483.1,817.9 L483.8,818.9 L484.5,819.8 L485.2,820.8 L485.9,821.7 L486.6,822.7 L487.3,823.6 L488.0,824.4 L488.7,825.3 L489.4,826.2 L490.1,827.0 L490.8,827.8 L491.5,828.5 L492.2,829.3 L492.9,830.0 L493.6,830.7 L494.3,831.4 L495.0,832.0 L495.7,832.6 L496.4,833.2 L497.1,833.8 L497.8,834.4 L498.5,834.9 L499.2,835.4 L499.9,835.9 L500.6,836.3 L501.3,836.8 L502.0,837.2 L502.7,837.6 L503.4,837.9 L504.1,838.3 L504.8,838.6 L505.5,838.9 L506.2,839.2 L506.9,839.5 L507.6,839.7 L508.3,840.0 L509.0,840.2 L509.7,840.4 L510.4,840.6 L511.1,840.8 L511.8,841.0 L512.5,841.1 L513.2,841.3 L513.9,841.4 L514.6,841.5 L515.3,841.6 L516.0,841.8 L516.7,841.9 L517.4,842.0 L518.1,842.0 L518.8,842.1 L519.5,842.2 L520.2,842.3 L520.9,842.3 L521.6,842.4 L522.3,842.4 L523.0,842.5 L523.7,842.5 L524.4,842.5 L525.1,842.6 L525.8,842.6 L526.5,842.6 L527.2,842.7 L527.9,842.7 L528.6,842.7 L529.3,842.7 L530.0,842.8 L530.7,842.8 L531.4,842.8 L532.1,842.8 L532.8,842.8 L533.5,842.8 L534.2,842.8 L534.9,842.8 L535.6,842.8 L536.3,842.8 L537.0,842.9 L537.7,842.9 L538.4,842.9 L539.1,842.9 L539.8,842.9 L540.5,842.9 L541.2,842.9 L541.9,842.9 L542.6,842.9 L543.3,842.9 L544.0,842.9 L544.7,842.9 L545.4,842.9 L546.1,842.9 L546.8,842.9 L547.5,842.9 L548.2,842.9 L548.9,842.9 L549.6,842.9 L550.3,842.9 L551.0,842.9 L551.7,842.9 L552.4,842.9 L553.1,842.9 L553.8,842.9 L554.5,842.9 L555.2,842.9 L555.9,842.9 L556.6,842.9 L557.3,842.9 L558.0,842.9 L558.7,842.9 L559.4,842.9 L560.1,842.9 L560.8,842.9 L561.5,842.9 L562.2,842.9 L562.9,842.9 L563.6,842.9 L564.3,842.9 L565.0,842.9 L565.7,842.9 L566.4,842.9 L567.1,842.9 L567.8,842.9" fill="none" stroke="#40d040" stroke-width="1.3"/>
<path d="M381.6,842.9 L382.3,842.9 L383.0,842.9 L383.7,842.9 L384.4,842.9 L385.1,842.9 L385.8,842.9 L386.5,842.9 L387.2,842.9 L387.9,842.9 L388.6,842.9 L389.3,842.9 L390.0,842.9 L390.7,842.9 L391.4,842.9 L392.1,842.9 L392.8,842.9 L393.5,842.9 L394.2,842.9 L394.9,842.9 L395.6,842.9 L396.3,842.9 L397.0,842.9 L397.7,842.9 L398.4,842.9 L399.1,842.9 L399.8,842.9 L400.5,842.9 L401.2,842.9 L401.9,842.9 L402.6,842.9 L403.3,842.9 L404.0,842.9 L404.7,842.9 L405.4,842.9 L406.1,842.9 L406.8,842.9 L407.5,842.9 L408.2,842.9 L408.9,842.9 L409.6,842.9 L410.3,842.9 L411.0,842.9 L411.7,842.9 L412.4,842.9 L413.1,842.9 L413.8,842.9 L414.5,842.9 L415.2,842.9 L415.9,842.9 L416.6,842.9 L417.3,842.9 L418.0,842.9 L418.7,842.9 L419.4,842.9 L420.1,842.9 L420.8,842.9 L421.5,842.9 L422.2,842.9 L422.9,842.9 L423.6,842.9 L424.3,842.9 L425.0,842.9 L425.7,842.9 L426.4,842.9 L427.1,842.9 L427.8,842.9 L428.5,842.9 L429.2,842.9 L429.9,842.9 L430.6,842.9 L431.3,842.9 L432.0,842.9 L432.7,842.9 L433.4,842.9 L434.1,842.9 L434.8,842.9 L435.5,842.9 L436.2,842.9 L436.9,842.9 L437.6,842.9 L438.3,842.9 L439.0,842.9 L439.7,842.9 L440.4,842.9 L441.1,842.9 L441.8,842.9 L442.5,842.9 L443.2,842.9 L443.9,842.9 L444.6,842.9 L445.3,842.9 L446.0,842.9 L446.7,842.9 L447.4,842.9 L448.1,842.9 L448.8,842.9 L449.5,842.9 L450.2,842.9 L450.9,842.9 L451.6,842.9 L452.3,842.9 L453.0,842.9 L453.7,842.9 L454.4,842.9 L455.1,842.9 L455.8,842.9 L456.5,842.9 L457.2,842.9 L457.9,842.9 L458.6,842.9 L459.3,842.9 L460.0,842.9 L460.7,842.9 L461.4,842.9 L462.1,842.9 L462.8,842.9 L463.5,842.9 L464.2,842.9 L464.9,842.9 L465.6,842.9 L466.3,842.9 L467.0,842.9 L467.7,842.9 L468.4,842.9 L469.1,842.9 L469.8,842.9 L470.5,842.9 L471.2,842.9 L471.9,842.9 L472.6,842.9 L473.3,842.9 L474.0,842.9 L474.7,842.9 L475.4,842.9 L476.1,842.9 L476.8,842.9 L477.5,842.9 L478.2,842.9 L478.9,842.9 L479.6,842.9 L480.3,842.9 L481.0,842.9 L481.7,842.9 L482.4,842.9 L483.1,842.9 L483.8,842.9 L484.5,842.9 L485.2,842.9 L485.9,842.9 L486.6,842.8 L487.3,842.8 L488.0,842.8 L488.7,842.8 L489.4,842.7 L490.1,842.7 L490.8,842.6 L491.5,842.5 L492.2,842.4 L492.9,842.3 L493.6,842.2 L494.3,842.0 L495.0,841.9 L495.7,841.7 L496.4,841.5 L497.1,841.3 L497.8,841.1 L498.5,840.8 L499.2,840.6 L499.9,840.4 L500.6,840.3 L501.3,840.1 L502.0,840.0 L502.7,839.9 L503.4,839.9 L504.1,839.9 L504.8,839.9 L505.5,840.0 L506.2,840.1 L506.9,840.3 L507.6,840.5 L508.3,840.7 L509.0,840.9 L509.7,841.1 L510.4,841.3 L511.1,841.5 L511.8,841.7 L512.5,841.9 L513.2,842.0 L513.9,842.2 L514.6,842.3 L515.3,842.4 L516.0,842.5 L516.7,842.6 L517.4,842.7 L518.1,842.7 L518.8,842.8 L519.5,842.8 L520.2,842.8 L520.9,842.9 L521.6,842.9 L522.3,842.9 L523.0,842.9 L523.7,842.9 L524.4,842.9 L525.1,842.9 L525.8,842.9 L526.5,842.9 L527.2,842.9 L527.9,842.9 L528.6,842.9 L529.3,842.9 L530.0,842.9 L530.7,842.9 L531.4,842.9 L532.1,842.9 L532.8,842.9 L533.5,842.9 L534.2,842.9 L534.9,842.9 L535.6,842.9 L536.3,842.9 L537.0,842.9 L537.7,842.9 L538.4,842.9 L539.1,842.9 L539.8,842.9 L540.5,842.9 L541.2,842.9 L541.9,842.9 L542.6,842.9 L543.3,842.9 L544.0,842.9 L544.7,842.9 L545.4,842.9 L546.1,842.9 L546.8,842.9 L547.5,842.9 L548.2,842.9 L548.9,842.9 L549.6,842.9 L550.3,842.9 L551.0,842.9 L551.7,842.9 L552.4,842.9 L553.1,842.9 L553.8,842.9 L554.5,842.9 L555.2,842.9 L555.9,842.9 L556.6,842.9 L557.3,842.9 L558.0,842.9 L558.7,842.9 L559.4,842.9 L560.1,842.9 L560.8,842.9 L561.5,842.9 L562.2,842.9 L562.9,842.9 L563.6,842.9 L564.3,842.9 L565.0,842.9 L565.7,842.9 L566.4,842.9 L567.1,842.9 L567.8,842.9" fill="none" stroke="#2c2cc0" stroke-width="1.3"/>
<path d="M381.6,842.8 L382.3,842.8 L383.0,842.8 L383.7,842.8 L384.4,842.8 L385.1,842.8 L385.8,842.8 L386.5,842.7 L387.2,842.7 L387.9,842.7 L388.6,842.7 L389.3,842.7 L390.0,842.6 L390.7,842.6 L391.4,842.5 L392.1,842.5 L392.8,842.4 L393.5,842.4 L394.2,842.3 L394.9,842.2 L395.6,842.1 L396.3,842.0 L397.0,841.9 L397.7,841.7 L398.4,841.5 L399.1,841.3 L399.8,841.0 L400.5,840.7 L401.2,840.4 L401.9,840.0 L402.6,839.5 L403.3,838.9 L404.0,838.2 L404.7,837.5 L405.4,836.6 L406.1,835.6 L406.8,834.4 L407.5,833.1 L408.2,831.7 L408.9,830.0 L409.6,828.1 L410.3,826.0 L411.0,823.7 L411.7,821.2 L412.4,818.4 L413.1,815.4 L413.8,812.2 L414.5,808.7 L415.2,805.0 L415.9,801.1 L416.6,797.0 L417.3,792.7 L418.0,788.3 L418.7,783.7 L419.4,779.1 L420.1,774.5 L420.8,769.9 L421.5,765.3 L422.2,760.8 L422.9,756.6 L423.6,752.5 L424.3,748.7 L425.0,745.1 L425.7,742.0 L426.4,739.2 L427.1,736.8 L427.8,734.9 L428.5,733.4 L429.2,732.5 L429.9,731.9 L430.6,731.9 L431.3,732.3 L432.0,733.1 L432.7,734.4 L433.4,736.0 L434.1,738.0 L434.8,740.2 L435.5,742.7 L436.2,745.4 L436.9,748.3 L437.6,751.3 L438.3,754.3 L439.0,757.4 L439.7,760.4 L440.4,763.3 L441.1,766.2 L441.8,769.0 L442.5,771.6 L443.2,774.0 L443.9,776.3 L444.6,778.3 L445.3,780.2 L446.0,781.9 L446.7,783.4 L447.4,784.7 L448.1,785.9 L448.8,786.8 L449.5,787.7 L450.2,788.4 L450.9,789.0 L451.6,789.5 L452.3,789.9 L453.0,790.2 L453.7,790.4 L454.4,790.7 L455.1,790.9 L455.8,791.0 L456.5,791.2 L457.2,791.3 L457.9,791.5 L458.6,791.7 L459.3,791.9 L460.0,792.1 L460.7,792.4 L461.4,792.7 L462.1,793.0 L462.8,793.4 L463.5,793.8 L464.2,794.3 L464.9,794.8 L465.6,795.3 L466.3,795.9 L467.0,796.5 L467.7,797.2 L468.4,797.8 L469.1,798.6 L469.8,799.3 L470.5,800.1 L471.2,800.9 L471.9,801.7 L472.6,802.5 L473.3,803.3 L474.0,804.2 L474.7,805.0 L475.4,805.9 L476.1,806.7 L476.8,807.6 L477.5,808.4 L478.2,809.3 L478.9,810.1 L479.6,810.9 L480.3,811.7 L481.0,812.5 L481.7,813.3 L482.4,814.1 L483.1,814.8 L483.8,815.6 L484.5,816.3 L485.2,817.0 L485.9,817.7 L486.6,818.4 L487.3,819.1 L488.0,819.8 L488.7,820.5 L489.4,821.2 L490.1,821.9 L490.8,822.5 L491.5,823.2 L492.2,823.8 L492.9,824.4 L493.6,825.1 L494.3,825.7 L495.0,826.2 L495.7,826.8 L496.4,827.4 L497.1,827.9 L497.8,828.5 L498.5,829.0 L499.2,829.5 L499.9,830.0 L500.6,830.5 L501.3,831.1 L502.0,831.6 L502.7,832.1 L503.4,832.7 L504.1,833.2 L504.8,833.8 L505.5,834.4 L506.2,835.0 L506.9,835.6 L507.6,836.2 L508.3,836.8 L509.0,837.3 L509.7,837.9 L510.4,838.4 L511.1,838.9 L511.8,839.3 L512.5,839.7 L513.2,840.1 L513.9,840.4 L514.6,840.7 L515.3,841.0 L516.0,841.2 L516.7,841.5 L517.4,841.6 L518.1,841.8 L518.8,841.9 L519.5,842.0 L520.2,842.1 L520.9,842.2 L521.6,842.3 L522.3,842.4 L523.0,842.4 L523.7,842.5 L524.4,842.5 L525.1,842.6 L525.8,842.6 L526.5,842.6 L527.2,842.7 L527.9,842.7 L528.6,842.7 L529.3,842.7 L530.0,842.8 L530.7,842.8 L531.4,842.8 L532.1,842.8 L532.8,842.8 L533.5,842.8 L534.2,842.8 L534.9,842.8 L535.6,842.8 L536.3,842.8 L537.0,842.9 L537.7,842.9 L538.4,842.9 L539.1,842.9 L539.8,842.9 L540.5,842.9 L541.2,842.9 L541.9,842.9 L542.6,842.9 L543.3,842.9 L544.0,842.9 L544.7,842.9 L545.4,842.9 L546.1,842.9 L546.8,842.9 L547.5,842.9 L548.2,842.9 L548.9,842.9 L549.6,842.9 L550.3,842.9 L551.0,842.9 L551.7,842.9 L552.4,842.9 L553.1,842.9 L553.8,842.9 L554.5,842.9 L555.2,842.9 L555.9,842.9 L556.6,842.9 L557.3,842.9 L558.0,842.9 L558.7,842.9 L559.4,842.9 L560.1,842.9 L560.8,842.9 L561.5,842.9 L562.2,842.9 L562.9,842.9 L563.6,842.9 L564.3,842.9 L565.0,842.9 L565.7,842.9 L566.4,842.9 L567.1,842.9 L567.8,842.9" fill="none" stroke="#44dcdc" stroke-width="1.8"/>
<circle cx="477" cy="716.4" r="2.6" fill="none" stroke="#333" stroke-width="0.9"/>
<text x="489.3" y="719.4" font-family="Liberation Sans" font-size="8.4" fill="#1a1a1a" text-anchor="start" stroke="#1a1a1a" stroke-width="0.15"><tspan dy="-0.00">Subtracted from "Counts"</tspan></text>
<path d="M466.9,727.4 H487" stroke="#d84040" stroke-width="1.4"/>
<text x="489.3" y="730.4" font-family="Liberation Sans" font-size="8.4" fill="#1a1a1a" text-anchor="start" stroke="#1a1a1a" stroke-width="0.15"><tspan dy="-0.00">Lattice oxygen</tspan></text>
<path d="M466.9,737.4 H487" stroke="#40d040" stroke-width="1.4"/>
<text x="489.3" y="740.4" font-family="Liberation Sans" font-size="8.4" fill="#1a1a1a" text-anchor="start" stroke="#1a1a1a" stroke-width="0.15"><tspan dy="-0.00">O-C=O, C-OH</tspan></text>
<path d="M466.9,748 H487" stroke="#2c2cc0" stroke-width="1.4"/>
<text x="489.3" y="751.0" font-family="Liberation Sans" font-size="8.4" fill="#1a1a1a" text-anchor="start" stroke="#1a1a1a" stroke-width="0.15"><tspan dy="-0.00">C-OH</tspan></text>
<path d="M466.9,759 H487" stroke="#44dcdc" stroke-width="1.4"/>
<text x="489.3" y="762.0" font-family="Liberation Sans" font-size="8.4" fill="#1a1a1a" text-anchor="start" stroke="#1a1a1a" stroke-width="0.15"><tspan dy="-0.00">Cumulative Fit Peak</tspan></text>
<path d="M611.3,709.8 L611.3,859.6 L801.2,859.6" fill="none" stroke="#6a6a6a" stroke-width="1.2"/>
<path d="M625.6,859.6 v3.2 M642.9,859.6 v2.0 M660.2,859.6 v3.2 M677.5,859.6 v2.0 M694.8,859.6 v3.2 M712.1,859.6 v2.0 M729.4,859.6 v3.2 M746.7,859.6 v2.0 M764.0,859.6 v3.2 M781.3,859.6 v2.0 M798.6,859.6 v3.2" stroke="#6a6a6a" stroke-width="1"/>
<text x="625.6" y="875.2" font-family="Liberation Serif" font-size="12.5" fill="#111" stroke="#111" stroke-width="0.2" text-anchor="middle">282</text>
<text x="660.2" y="875.2" font-family="Liberation Serif" font-size="12.5" fill="#111" stroke="#111" stroke-width="0.2" text-anchor="middle">284</text>
<text x="694.8" y="875.2" font-family="Liberation Serif" font-size="12.5" fill="#111" stroke="#111" stroke-width="0.2" text-anchor="middle">286</text>
<text x="729.4" y="875.2" font-family="Liberation Serif" font-size="12.5" fill="#111" stroke="#111" stroke-width="0.2" text-anchor="middle">288</text>
<text x="764.0" y="875.2" font-family="Liberation Serif" font-size="12.5" fill="#111" stroke="#111" stroke-width="0.2" text-anchor="middle">290</text>
<text x="798.6" y="875.2" font-family="Liberation Serif" font-size="12.5" fill="#111" stroke="#111" stroke-width="0.2" text-anchor="middle">292</text>
<text x="705.6" y="890.2" font-family="Liberation Serif" font-size="12.8" fill="#111" stroke="#111" stroke-width="0.2" text-anchor="middle">Binding energy (eV)</text>
<text transform="translate(600.4,777.2) rotate(-90)" x="0" y="0" font-family="Liberation Serif" font-size="12.7" fill="#111" stroke="#111" stroke-width="0.2" text-anchor="middle">Intensity (a.u.)</text>
<text x="612.4" y="719.5" font-family="Liberation Serif" font-size="9" fill="#333" stroke="#333" stroke-width="0.35">C1s</text>
<use href="#c" x="612.4" y="845.2"/>
<use href="#c" x="614.3" y="846.2"/>
<use href="#c" x="616.4" y="847.2"/>
<use href="#c" x="618.8" y="846.2"/>
<use href="#c" x="620.1" y="846.0"/>
<use href="#c" x="622.3" y="845.3"/>
<use href="#c" x="624.6" y="846.9"/>
<use href="#c" x="626.8" y="847.3"/>
<use href="#c" x="628.5" y="847.8"/>
<use href="#c" x="630.5" y="847.5"/>
<use href="#c" x="632.6" y="845.9"/>
<use href="#c" x="634.4" y="846.4"/>
<use href="#c" x="636.6" y="847.9"/>
<use href="#c" x="638.4" y="845.8"/>
<use href="#c" x="640.4" y="847.9"/>
<use href="#c" x="642.5" y="846.2"/>
<use href="#c" x="644.5" y="845.4"/>
<use href="#c" x="646.3" y="843.5"/>
<use href="#c" x="648.3" y="842.1"/>
<use href="#c" x="650.7" y="840.1"/>
<use href="#c" x="652.5" y="834.7"/>
<use href="#c" x="654.3" y="828.9"/>
<use href="#c" x="656.4" y="821.8"/>
<use href="#c" x="657.9" y="811.7"/>
<use href="#c" x="660.4" y="801.2"/>
<use href="#c" x="662.5" y="786.0"/>
<use href="#c" x="664.1" y="771.6"/>
<use href="#c" x="666.5" y="758.2"/>
<use href="#c" x="668.6" y="744.5"/>
<use href="#c" x="670.2" y="735.8"/>
<use href="#c" x="672.5" y="731.0"/>
<use href="#c" x="674.5" y="727.4"/>
<use href="#c" x="676.6" y="731.7"/>
<use href="#c" x="678.6" y="737.7"/>
<use href="#c" x="680.6" y="749.9"/>
<use href="#c" x="682.7" y="761.7"/>
<use href="#c" x="684.4" y="774.5"/>
<use href="#c" x="686.6" y="785.3"/>
<use href="#c" x="688.5" y="797.6"/>
<use href="#c" x="690.6" y="806.1"/>
<use href="#c" x="692.5" y="811.2"/>
<use href="#c" x="694.5" y="816.9"/>
<use href="#c" x="696.8" y="824.0"/>
<use href="#c" x="698.5" y="826.1"/>
<use href="#c" x="700.0" y="828.9"/>
<use href="#c" x="702.4" y="831.6"/>
<use href="#c" x="704.2" y="832.8"/>
<use href="#c" x="706.4" y="834.3"/>
<use href="#c" x="708.5" y="836.8"/>
<use href="#c" x="710.3" y="840.0"/>
<use href="#c" x="712.4" y="838.1"/>
<use href="#c" x="714.7" y="838.8"/>
<use href="#c" x="716.2" y="840.8"/>
<use href="#c" x="718.6" y="841.1"/>
<use href="#c" x="720.4" y="840.2"/>
<use href="#c" x="722.9" y="841.3"/>
<use href="#c" x="724.3" y="841.7"/>
<use href="#c" x="726.8" y="840.4"/>
<use href="#c" x="728.9" y="839.8"/>
<use href="#c" x="730.4" y="838.0"/>
<use href="#c" x="732.3" y="838.1"/>
<use href="#c" x="734.5" y="837.1"/>
<use href="#c" x="736.1" y="835.9"/>
<use href="#c" x="738.7" y="836.9"/>
<use href="#c" x="740.5" y="835.0"/>
<use href="#c" x="742.6" y="833.6"/>
<use href="#c" x="744.3" y="835.2"/>
<use href="#c" x="746.2" y="838.9"/>
<use href="#c" x="748.2" y="838.3"/>
<use href="#c" x="750.2" y="838.0"/>
<use href="#c" x="752.1" y="841.1"/>
<use href="#c" x="754.6" y="841.6"/>
<use href="#c" x="756.1" y="843.0"/>
<use href="#c" x="758.4" y="845.3"/>
<use href="#c" x="760.2" y="845.9"/>
<use href="#c" x="762.1" y="846.7"/>
<use href="#c" x="764.3" y="844.3"/>
<use href="#c" x="766.5" y="845.7"/>
<use href="#c" x="768.5" y="845.7"/>
<use href="#c" x="770.3" y="847.4"/>
<use href="#c" x="772.3" y="845.2"/>
<use href="#c" x="774.6" y="847.1"/>
<use href="#c" x="776.2" y="846.1"/>
<use href="#c" x="778.6" y="846.4"/>
<use href="#c" x="780.7" y="845.9"/>
<use href="#c" x="782.5" y="846.6"/>
<use href="#c" x="784.7" y="845.9"/>
<use href="#c" x="786.1" y="846.5"/>
<use href="#c" x="788.3" y="847.1"/>
<use href="#c" x="790.4" y="847.3"/>
<use href="#c" x="792.4" y="845.9"/>
<use href="#c" x="794.2" y="846.0"/>
<use href="#c" x="796.6" y="846.5"/>
<use href="#c" x="798.4" y="846.5"/>
<path d="M612.4,846.4 L613.1,846.4 L613.8,846.4 L614.5,846.4 L615.2,846.4 L615.9,846.4 L616.6,846.4 L617.3,846.4 L618.0,846.4 L618.7,846.4 L619.4,846.4 L620.1,846.4 L620.8,846.4 L621.5,846.4 L622.2,846.4 L622.9,846.4 L623.6,846.4 L624.3,846.4 L625.0,846.4 L625.7,846.4 L626.4,846.4 L627.1,846.4 L627.8,846.4 L628.5,846.4 L629.2,846.4 L629.9,846.4 L630.6,846.4 L631.3,846.4 L632.0,846.4 L632.7,846.4 L633.4,846.4 L634.1,846.4 L634.8,846.4 L635.5,846.4 L636.2,846.3 L636.9,846.3 L637.6,846.3 L638.3,846.3 L639.0,846.2 L639.7,846.2 L640.4,846.1 L641.1,846.0 L641.8,845.9 L642.5,845.8 L643.2,845.6 L643.9,845.4 L644.6,845.2 L645.3,844.9 L646.0,844.6 L646.7,844.1 L647.4,843.6 L648.1,843.0 L648.8,842.3 L649.5,841.5 L650.2,840.6 L650.9,839.5 L651.6,838.2 L652.3,836.8 L653.0,835.1 L653.7,833.2 L654.4,831.2 L655.1,828.8 L655.8,826.3 L656.5,823.5 L657.2,820.4 L657.9,817.1 L658.6,813.5 L659.3,809.7 L660.0,805.6 L660.7,801.4 L661.4,797.0 L662.1,792.4 L662.8,787.7 L663.5,782.9 L664.2,778.2 L664.9,773.4 L665.6,768.8 L666.3,764.2 L667.0,759.9 L667.7,755.9 L668.4,752.1 L669.1,748.7 L669.8,745.7 L670.5,743.2 L671.2,741.2 L671.9,739.7 L672.6,738.8 L673.3,738.4 L674.0,738.6 L674.7,739.4 L675.4,740.7 L676.1,742.6 L676.8,745.0 L677.5,747.8 L678.2,751.1 L678.9,754.7 L679.6,758.7 L680.3,763.0 L681.0,767.5 L681.7,772.1 L682.4,776.8 L683.1,781.6 L683.8,786.3 L684.5,791.1 L685.2,795.7 L685.9,800.1 L686.6,804.4 L687.3,808.5 L688.0,812.4 L688.7,816.1 L689.4,819.5 L690.1,822.6 L690.8,825.5 L691.5,828.1 L692.2,830.5 L692.9,832.7 L693.6,834.6 L694.3,836.3 L695.0,837.8 L695.7,839.1 L696.4,840.3 L697.1,841.3 L697.8,842.1 L698.5,842.9 L699.2,843.5 L699.9,844.0 L700.6,844.4 L701.3,844.8 L702.0,845.1 L702.7,845.4 L703.4,845.6 L704.1,845.8 L704.8,845.9 L705.5,846.0 L706.2,846.1 L706.9,846.2 L707.6,846.2 L708.3,846.3 L709.0,846.3 L709.7,846.3 L710.4,846.3 L711.1,846.4 L711.8,846.4 L712.5,846.4 L713.2,846.4 L713.9,846.4 L714.6,846.4 L715.3,846.4 L716.0,846.4 L716.7,846.4 L717.4,846.4 L718.1,846.4 L718.8,846.4 L719.5,846.4 L720.2,846.4 L720.9,846.4 L721.6,846.4 L722.3,846.4 L723.0,846.4 L723.7,846.4 L724.4,846.4 L725.1,846.4 L725.8,846.4 L726.5,846.4 L727.2,846.4 L727.9,846.4 L728.6,846.4 L729.3,846.4 L730.0,846.4 L730.7,846.4 L731.4,846.4 L732.1,846.4 L732.8,846.4 L733.5,846.4 L734.2,846.4 L734.9,846.4 L735.6,846.4 L736.3,846.4 L737.0,846.4 L737.7,846.4 L738.4,846.4 L739.1,846.4 L739.8,846.4 L740.5,846.4 L741.2,846.4 L741.9,846.4 L742.6,846.4 L743.3,846.4 L744.0,846.4 L744.7,846.4 L745.4,846.4 L746.1,846.4 L746.8,846.4 L747.5,846.4 L748.2,846.4 L748.9,846.4 L749.6,846.4 L750.3,846.4 L751.0,846.4 L751.7,846.4 L752.4,846.4 L753.1,846.4 L753.8,846.4 L754.5,846.4 L755.2,846.4 L755.9,846.4 L756.6,846.4 L757.3,846.4 L758.0,846.4 L758.7,846.4 L759.4,846.4 L760.1,846.4 L760.8,846.4 L761.5,846.4 L762.2,846.4 L762.9,846.4 L763.6,846.4 L764.3,846.4 L765.0,846.4 L765.7,846.4 L766.4,846.4 L767.1,846.4 L767.8,846.4 L768.5,846.4 L769.2,846.4 L769.9,846.4 L770.6,846.4 L771.3,846.4 L772.0,846.4 L772.7,846.4 L773.4,846.4 L774.1,846.4 L774.8,846.4 L775.5,846.4 L776.2,846.4 L776.9,846.4 L777.6,846.4 L778.3,846.4 L779.0,846.4 L779.7,846.4 L780.4,846.4 L781.1,846.4 L781.8,846.4 L782.5,846.4 L783.2,846.4 L783.9,846.4 L784.6,846.4 L785.3,846.4 L786.0,846.4 L786.7,846.4 L787.4,846.4 L788.1,846.4 L788.8,846.4 L789.5,846.4 L790.2,846.4 L790.9,846.4 L791.6,846.4 L792.3,846.4 L793.0,846.4 L793.7,846.4 L794.4,846.4 L795.1,846.4 L795.8,846.4 L796.5,846.4 L797.2,846.4 L797.9,846.4" fill="none" stroke="#d84040" stroke-width="1.3"/>
<path d="M612.4,846.4 L613.1,846.4 L613.8,846.4 L614.5,846.4 L615.2,846.4 L615.9,846.4 L616.6,846.4 L617.3,846.4 L618.0,846.4 L618.7,846.4 L619.4,846.4 L620.1,846.4 L620.8,846.4 L621.5,846.4 L622.2,846.4 L622.9,846.4 L623.6,846.4 L624.3,846.4 L625.0,846.4 L625.7,846.4 L626.4,846.4 L627.1,846.4 L627.8,846.4 L628.5,846.4 L629.2,846.4 L629.9,846.4 L630.6,846.4 L631.3,846.4 L632.0,846.4 L632.7,846.4 L633.4,846.4 L634.1,846.4 L634.8,846.3 L635.5,846.3 L636.2,846.3 L636.9,846.3 L637.6,846.3 L638.3,846.3 L639.0,846.3 L639.7,846.3 L640.4,846.2 L641.1,846.2 L641.8,846.2 L642.5,846.2 L643.2,846.1 L643.9,846.1 L644.6,846.1 L645.3,846.0 L646.0,846.0 L646.7,845.9 L647.4,845.9 L648.1,845.8 L648.8,845.7 L649.5,845.7 L650.2,845.6 L650.9,845.5 L651.6,845.4 L652.3,845.3 L653.0,845.2 L653.7,845.0 L654.4,844.9 L655.1,844.8 L655.8,844.6 L656.5,844.4 L657.2,844.2 L657.9,844.1 L658.6,843.8 L659.3,843.6 L660.0,843.4 L660.7,843.1 L661.4,842.9 L662.1,842.6 L662.8,842.3 L663.5,842.0 L664.2,841.7 L664.9,841.3 L665.6,841.0 L666.3,840.6 L667.0,840.3 L667.7,839.9 L668.4,839.5 L669.1,839.1 L669.8,838.6 L670.5,838.2 L671.2,837.8 L671.9,837.3 L672.6,836.9 L673.3,836.4 L674.0,835.9 L674.7,835.5 L675.4,835.0 L676.1,834.6 L676.8,834.1 L677.5,833.6 L678.2,833.2 L678.9,832.8 L679.6,832.3 L680.3,831.9 L681.0,831.5 L681.7,831.1 L682.4,830.8 L683.1,830.4 L683.8,830.1 L684.5,829.8 L685.2,829.6 L685.9,829.3 L686.6,829.1 L687.3,828.9 L688.0,828.7 L688.7,828.6 L689.4,828.5 L690.1,828.4 L690.8,828.4 L691.5,828.4 L692.2,828.4 L692.9,828.5 L693.6,828.6 L694.3,828.7 L695.0,828.9 L695.7,829.1 L696.4,829.3 L697.1,829.5 L697.8,829.8 L698.5,830.1 L699.2,830.4 L699.9,830.7 L700.6,831.1 L701.3,831.5 L702.0,831.9 L702.7,832.3 L703.4,832.7 L704.1,833.1 L704.8,833.6 L705.5,834.0 L706.2,834.5 L706.9,835.0 L707.6,835.4 L708.3,835.9 L709.0,836.3 L709.7,836.8 L710.4,837.3 L711.1,837.7 L711.8,838.1 L712.5,838.6 L713.2,839.0 L713.9,839.4 L714.6,839.8 L715.3,840.2 L716.0,840.6 L716.7,840.9 L717.4,841.3 L718.1,841.6 L718.8,842.0 L719.5,842.3 L720.2,842.6 L720.9,842.8 L721.6,843.1 L722.3,843.4 L723.0,843.6 L723.7,843.8 L724.4,844.0 L725.1,844.2 L725.8,844.4 L726.5,844.6 L727.2,844.7 L727.9,844.9 L728.6,845.0 L729.3,845.1 L730.0,845.3 L730.7,845.4 L731.4,845.5 L732.1,845.6 L732.8,845.7 L733.5,845.7 L734.2,845.8 L734.9,845.9 L735.6,845.9 L736.3,846.0 L737.0,846.0 L737.7,846.1 L738.4,846.1 L739.1,846.1 L739.8,846.2 L740.5,846.2 L741.2,846.2 L741.9,846.2 L742.6,846.3 L743.3,846.3 L744.0,846.3 L744.7,846.3 L745.4,846.3 L746.1,846.3 L746.8,846.3 L747.5,846.3 L748.2,846.4 L748.9,846.4 L749.6,846.4 L750.3,846.4 L751.0,846.4 L751.7,846.4 L752.4,846.4 L753.1,846.4 L753.8,846.4 L754.5,846.4 L755.2,846.4 L755.9,846.4 L756.6,846.4 L757.3,846.4 L758.0,846.4 L758.7,846.4 L759.4,846.4 L760.1,846.4 L760.8,846.4 L761.5,846.4 L762.2,846.4 L762.9,846.4 L763.6,846.4 L764.3,846.4 L765.0,846.4 L765.7,846.4 L766.4,846.4 L767.1,846.4 L767.8,846.4 L768.5,846.4 L769.2,846.4 L769.9,846.4 L770.6,846.4 L771.3,846.4 L772.0,846.4 L772.7,846.4 L773.4,846.4 L774.1,846.4 L774.8,846.4 L775.5,846.4 L776.2,846.4 L776.9,846.4 L777.6,846.4 L778.3,846.4 L779.0,846.4 L779.7,846.4 L780.4,846.4 L781.1,846.4 L781.8,846.4 L782.5,846.4 L783.2,846.4 L783.9,846.4 L784.6,846.4 L785.3,846.4 L786.0,846.4 L786.7,846.4 L787.4,846.4 L788.1,846.4 L788.8,846.4 L789.5,846.4 L790.2,846.4 L790.9,846.4 L791.6,846.4 L792.3,846.4 L793.0,846.4 L793.7,846.4 L794.4,846.4 L795.1,846.4 L795.8,846.4 L796.5,846.4 L797.2,846.4 L797.9,846.4" fill="none" stroke="#40d040" stroke-width="1.3"/>
<path d="M612.4,846.4 L613.1,846.4 L613.8,846.4 L614.5,846.4 L615.2,846.4 L615.9,846.4 L616.6,846.4 L617.3,846.4 L618.0,846.4 L618.7,846.4 L619.4,846.4 L620.1,846.4 L620.8,846.4 L621.5,846.4 L622.2,846.4 L622.9,846.4 L623.6,846.4 L624.3,846.4 L625.0,846.4 L625.7,846.4 L626.4,846.4 L627.1,846.4 L627.8,846.4 L628.5,846.4 L629.2,846.4 L629.9,846.4 L630.6,846.4 L631.3,846.4 L632.0,846.4 L632.7,846.4 L633.4,846.4 L634.1,846.4 L634.8,846.4 L635.5,846.4 L636.2,846.4 L636.9,846.4 L637.6,846.4 L638.3,846.4 L639.0,846.4 L639.7,846.4 L640.4,846.4 L641.1,846.4 L641.8,846.4 L642.5,846.4 L643.2,846.4 L643.9,846.4 L644.6,846.4 L645.3,846.4 L646.0,846.4 L646.7,846.4 L647.4,846.4 L648.1,846.4 L648.8,846.4 L649.5,846.4 L650.2,846.4 L650.9,846.4 L651.6,846.4 L652.3,846.4 L653.0,846.4 L653.7,846.4 L654.4,846.4 L655.1,846.4 L655.8,846.4 L656.5,846.4 L657.2,846.4 L657.9,846.4 L658.6,846.4 L659.3,846.4 L660.0,846.4 L660.7,846.4 L661.4,846.4 L662.1,846.4 L662.8,846.4 L663.5,846.4 L664.2,846.4 L664.9,846.4 L665.6,846.4 L666.3,846.4 L667.0,846.4 L667.7,846.4 L668.4,846.4 L669.1,846.4 L669.8,846.4 L670.5,846.4 L671.2,846.4 L671.9,846.4 L672.6,846.4 L673.3,846.4 L674.0,846.4 L674.7,846.4 L675.4,846.4 L676.1,846.4 L676.8,846.4 L677.5,846.4 L678.2,846.4 L678.9,846.4 L679.6,846.4 L680.3,846.4 L681.0,846.4 L681.7,846.4 L682.4,846.4 L683.1,846.4 L683.8,846.4 L684.5,846.4 L685.2,846.4 L685.9,846.4 L686.6,846.4 L687.3,846.4 L688.0,846.4 L688.7,846.4 L689.4,846.4 L690.1,846.4 L690.8,846.4 L691.5,846.4 L692.2,846.4 L692.9,846.4 L693.6,846.4 L694.3,846.4 L695.0,846.4 L695.7,846.4 L696.4,846.4 L697.1,846.4 L697.8,846.4 L698.5,846.4 L699.2,846.4 L699.9,846.4 L700.6,846.4 L701.3,846.4 L702.0,846.4 L702.7,846.4 L703.4,846.4 L704.1,846.4 L704.8,846.4 L705.5,846.4 L706.2,846.4 L706.9,846.4 L707.6,846.4 L708.3,846.3 L709.0,846.3 L709.7,846.3 L710.4,846.3 L711.1,846.3 L711.8,846.2 L712.5,846.2 L713.2,846.2 L713.9,846.1 L714.6,846.1 L715.3,846.0 L716.0,845.9 L716.7,845.8 L717.4,845.7 L718.1,845.6 L718.8,845.5 L719.5,845.3 L720.2,845.2 L720.9,845.0 L721.6,844.8 L722.3,844.5 L723.0,844.3 L723.7,844.0 L724.4,843.7 L725.1,843.4 L725.8,843.0 L726.5,842.7 L727.2,842.3 L727.9,841.9 L728.6,841.4 L729.3,841.0 L730.0,840.6 L730.7,840.1 L731.4,839.7 L732.1,839.2 L732.8,838.8 L733.5,838.3 L734.2,837.9 L734.9,837.5 L735.6,837.2 L736.3,836.8 L737.0,836.5 L737.7,836.3 L738.4,836.1 L739.1,835.9 L739.8,835.8 L740.5,835.7 L741.2,835.7 L741.9,835.7 L742.6,835.8 L743.3,836.0 L744.0,836.2 L744.7,836.4 L745.4,836.7 L746.1,837.0 L746.8,837.4 L747.5,837.7 L748.2,838.1 L748.9,838.6 L749.6,839.0 L750.3,839.5 L751.0,839.9 L751.7,840.4 L752.4,840.8 L753.1,841.3 L753.8,841.7 L754.5,842.1 L755.2,842.5 L755.9,842.9 L756.6,843.2 L757.3,843.6 L758.0,843.9 L758.7,844.2 L759.4,844.4 L760.1,844.7 L760.8,844.9 L761.5,845.1 L762.2,845.3 L762.9,845.4 L763.6,845.6 L764.3,845.7 L765.0,845.8 L765.7,845.9 L766.4,846.0 L767.1,846.0 L767.8,846.1 L768.5,846.2 L769.2,846.2 L769.9,846.2 L770.6,846.3 L771.3,846.3 L772.0,846.3 L772.7,846.3 L773.4,846.3 L774.1,846.4 L774.8,846.4 L775.5,846.4 L776.2,846.4 L776.9,846.4 L777.6,846.4 L778.3,846.4 L779.0,846.4 L779.7,846.4 L780.4,846.4 L781.1,846.4 L781.8,846.4 L782.5,846.4 L783.2,846.4 L783.9,846.4 L784.6,846.4 L785.3,846.4 L786.0,846.4 L786.7,846.4 L787.4,846.4 L788.1,846.4 L788.8,846.4 L789.5,846.4 L790.2,846.4 L790.9,846.4 L791.6,846.4 L792.3,846.4 L793.0,846.4 L793.7,846.4 L794.4,846.4 L795.1,846.4 L795.8,846.4 L796.5,846.4 L797.2,846.4 L797.9,846.4" fill="none" stroke="#2c2cc0" stroke-width="1.3"/>
<path d="M612.4,846.4 L613.1,846.4 L613.8,846.4 L614.5,846.4 L615.2,846.4 L615.9,846.4 L616.6,846.4 L617.3,846.4 L618.0,846.4 L618.7,846.4 L619.4,846.4 L620.1,846.4 L620.8,846.4 L621.5,846.4 L622.2,846.4 L622.9,846.4 L623.6,846.4 L624.3,846.4 L625.0,846.4 L625.7,846.4 L626.4,846.4 L627.1,846.4 L627.8,846.4 L628.5,846.4 L629.2,846.4 L629.9,846.4 L630.6,846.4 L631.3,846.4 L632.0,846.4 L632.7,846.4 L633.4,846.3 L634.1,846.3 L634.8,846.3 L635.5,846.3 L636.2,846.3 L636.9,846.2 L637.6,846.2 L638.3,846.2 L639.0,846.1 L639.7,846.0 L640.4,845.9 L641.1,845.8 L641.8,845.7 L642.5,845.6 L643.2,845.4 L643.9,845.1 L644.6,844.9 L645.3,844.5 L646.0,844.1 L646.7,843.7 L647.4,843.1 L648.1,842.5 L648.8,841.7 L649.5,840.8 L650.2,839.8 L650.9,838.6 L651.6,837.2 L652.3,835.6 L653.0,833.9 L653.7,831.9 L654.4,829.7 L655.1,827.2 L655.8,824.5 L656.5,821.5 L657.2,818.2 L657.9,814.7 L658.6,810.9 L659.3,806.9 L660.0,802.6 L660.7,798.1 L661.4,793.4 L662.1,788.6 L662.8,783.6 L663.5,778.5 L664.2,773.4 L664.9,768.4 L665.6,763.4 L666.3,758.5 L667.0,753.8 L667.7,749.3 L668.4,745.2 L669.1,741.4 L669.8,738.0 L670.5,735.0 L671.2,732.6 L671.9,730.6 L672.6,729.2 L673.3,728.4 L674.0,728.2 L674.7,728.5 L675.4,729.3 L676.1,730.7 L676.8,732.7 L677.5,735.1 L678.2,737.9 L678.9,741.1 L679.6,744.7 L680.3,748.5 L681.0,752.6 L681.7,756.8 L682.4,761.2 L683.1,765.6 L683.8,770.1 L684.5,774.5 L685.2,778.8 L685.9,783.0 L686.6,787.1 L687.3,791.0 L688.0,794.8 L688.7,798.3 L689.4,801.6 L690.1,804.7 L690.8,807.5 L691.5,810.1 L692.2,812.6 L692.9,814.8 L693.6,816.8 L694.3,818.6 L695.0,820.3 L695.7,821.8 L696.4,823.1 L697.1,824.4 L697.8,825.5 L698.5,826.5 L699.2,827.5 L699.9,828.3 L700.6,829.1 L701.3,829.9 L702.0,830.6 L702.7,831.2 L703.4,831.9 L704.1,832.5 L704.8,833.1 L705.5,833.6 L706.2,834.2 L706.9,834.7 L707.6,835.2 L708.3,835.7 L709.0,836.2 L709.7,836.6 L710.4,837.1 L711.1,837.5 L711.8,838.0 L712.5,838.4 L713.2,838.8 L713.9,839.1 L714.6,839.5 L715.3,839.8 L716.0,840.1 L716.7,840.4 L717.4,840.6 L718.1,840.9 L718.8,841.0 L719.5,841.2 L720.2,841.3 L720.9,841.4 L721.6,841.5 L722.3,841.5 L723.0,841.5 L723.7,841.4 L724.4,841.3 L725.1,841.2 L725.8,841.0 L726.5,840.8 L727.2,840.6 L727.9,840.3 L728.6,840.1 L729.3,839.8 L730.0,839.4 L730.7,839.1 L731.4,838.7 L732.1,838.4 L732.8,838.0 L733.5,837.7 L734.2,837.3 L734.9,837.0 L735.6,836.7 L736.3,836.4 L737.0,836.1 L737.7,835.9 L738.4,835.8 L739.1,835.6 L739.8,835.5 L740.5,835.5 L741.2,835.5 L741.9,835.6 L742.6,835.7 L743.3,835.9 L744.0,836.1 L744.7,836.3 L745.4,836.6 L746.1,836.9 L746.8,837.3 L747.5,837.7 L748.2,838.1 L748.9,838.5 L749.6,839.0 L750.3,839.4 L751.0,839.9 L751.7,840.3 L752.4,840.8 L753.1,841.2 L753.8,841.7 L754.5,842.1 L755.2,842.5 L755.9,842.9 L756.6,843.2 L757.3,843.6 L758.0,843.9 L758.7,844.2 L759.4,844.4 L760.1,844.7 L760.8,844.9 L761.5,845.1 L762.2,845.3 L762.9,845.4 L763.6,845.6 L764.3,845.7 L765.0,845.8 L765.7,845.9 L766.4,846.0 L767.1,846.0 L767.8,846.1 L768.5,846.2 L769.2,846.2 L769.9,846.2 L770.6,846.3 L771.3,846.3 L772.0,846.3 L772.7,846.3 L773.4,846.3 L774.1,846.4 L774.8,846.4 L775.5,846.4 L776.2,846.4 L776.9,846.4 L777.6,846.4 L778.3,846.4 L779.0,846.4 L779.7,846.4 L780.4,846.4 L781.1,846.4 L781.8,846.4 L782.5,846.4 L783.2,846.4 L783.9,846.4 L784.6,846.4 L785.3,846.4 L786.0,846.4 L786.7,846.4 L787.4,846.4 L788.1,846.4 L788.8,846.4 L789.5,846.4 L790.2,846.4 L790.9,846.4 L791.6,846.4 L792.3,846.4 L793.0,846.4 L793.7,846.4 L794.4,846.4 L795.1,846.4 L795.8,846.4 L796.5,846.4 L797.2,846.4 L797.9,846.4" fill="none" stroke="#44dcdc" stroke-width="1.8"/>
<circle cx="702.1" cy="713.6" r="2.6" fill="none" stroke="#333" stroke-width="0.9"/>
<text x="714.2" y="716.7" font-family="Liberation Sans" font-size="8.6" fill="#1a1a1a" text-anchor="start" stroke="#1a1a1a" stroke-width="0.15"><tspan dy="-0.00">Subtracted from "Counts"</tspan></text>
<path d="M692,724.2 H712.2" stroke="#d84040" stroke-width="1.4"/>
<text x="714.2" y="727.3" font-family="Liberation Sans" font-size="8.6" fill="#1a1a1a" text-anchor="start" stroke="#1a1a1a" stroke-width="0.15"><tspan dy="-0.00">C-C</tspan></text>
<path d="M692,735.1 H712.2" stroke="#40d040" stroke-width="1.4"/>
<text x="714.2" y="738.2" font-family="Liberation Sans" font-size="8.6" fill="#1a1a1a" text-anchor="start" stroke="#1a1a1a" stroke-width="0.15"><tspan dy="-0.00">C-OH</tspan></text>
<path d="M692,745.8 H712.2" stroke="#2c2cc0" stroke-width="1.4"/>
<text x="714.2" y="748.9" font-family="Liberation Sans" font-size="8.6" fill="#1a1a1a" text-anchor="start" stroke="#1a1a1a" stroke-width="0.15"><tspan dy="-0.00">C=O</tspan></text>
<path d="M692,756.1 H712.2" stroke="#44dcdc" stroke-width="1.4"/>
<text x="714.2" y="759.2" font-family="Liberation Sans" font-size="8.6" fill="#1a1a1a" text-anchor="start" stroke="#1a1a1a" stroke-width="0.15"><tspan dy="-0.00">Cumulative Fit Peak</tspan></text>
</g>
<rect x="9" y="6" width="816" height="2" fill="#1e1e1e"/>
<rect x="9" y="902.8" width="816" height="2" fill="#1e1e1e"/>
<rect x="9" y="6" width="2" height="898.8" fill="#1e1e1e"/>
<rect x="823" y="6" width="2" height="898.8" fill="#1e1e1e"/>
<rect x="125.8" y="6" width="2" height="898.8" fill="#1e1e1e"/>
<rect x="9" y="50" width="816" height="2" fill="#1e1e1e"/>
<rect x="9" y="263" width="816" height="2" fill="#1e1e1e"/>
<rect x="9" y="476" width="816" height="2" fill="#1e1e1e"/>
<rect x="9" y="689.6" width="816" height="1.8" fill="#1e1e1e"/>
<text x="68" y="39.2" font-family="Liberation Serif" font-weight="bold" font-size="30.5" fill="#000" text-anchor="middle">Solvent</text>
<text x="475" y="39.1" font-family="Liberation Serif" font-weight="bold" font-size="30.5" fill="#000" text-anchor="middle">XPS images</text>
<text x="68" y="165.6" font-family="Liberation Serif" font-size="23.5" fill="#111" text-anchor="middle">Ethanol</text>
<text x="68" y="379.1" font-family="Liberation Serif" font-size="23.5" fill="#111" text-anchor="middle">Water</text>
<text x="68" y="563.3" font-family="Liberation Serif" font-size="23.5" fill="#111" text-anchor="middle">Ethylene</text>
<text x="70.7" y="591.8" font-family="Liberation Serif" font-size="23.5" fill="#111" text-anchor="middle">glycol</text>
<text x="68" y="775.9" font-family="Liberation Serif" font-size="23.5" fill="#111" text-anchor="middle">Liquid</text>
<text x="68" y="804.7" font-family="Liberation Serif" font-size="23.5" fill="#111" text-anchor="middle">nitrogen</text>
</svg>
</body></html>
